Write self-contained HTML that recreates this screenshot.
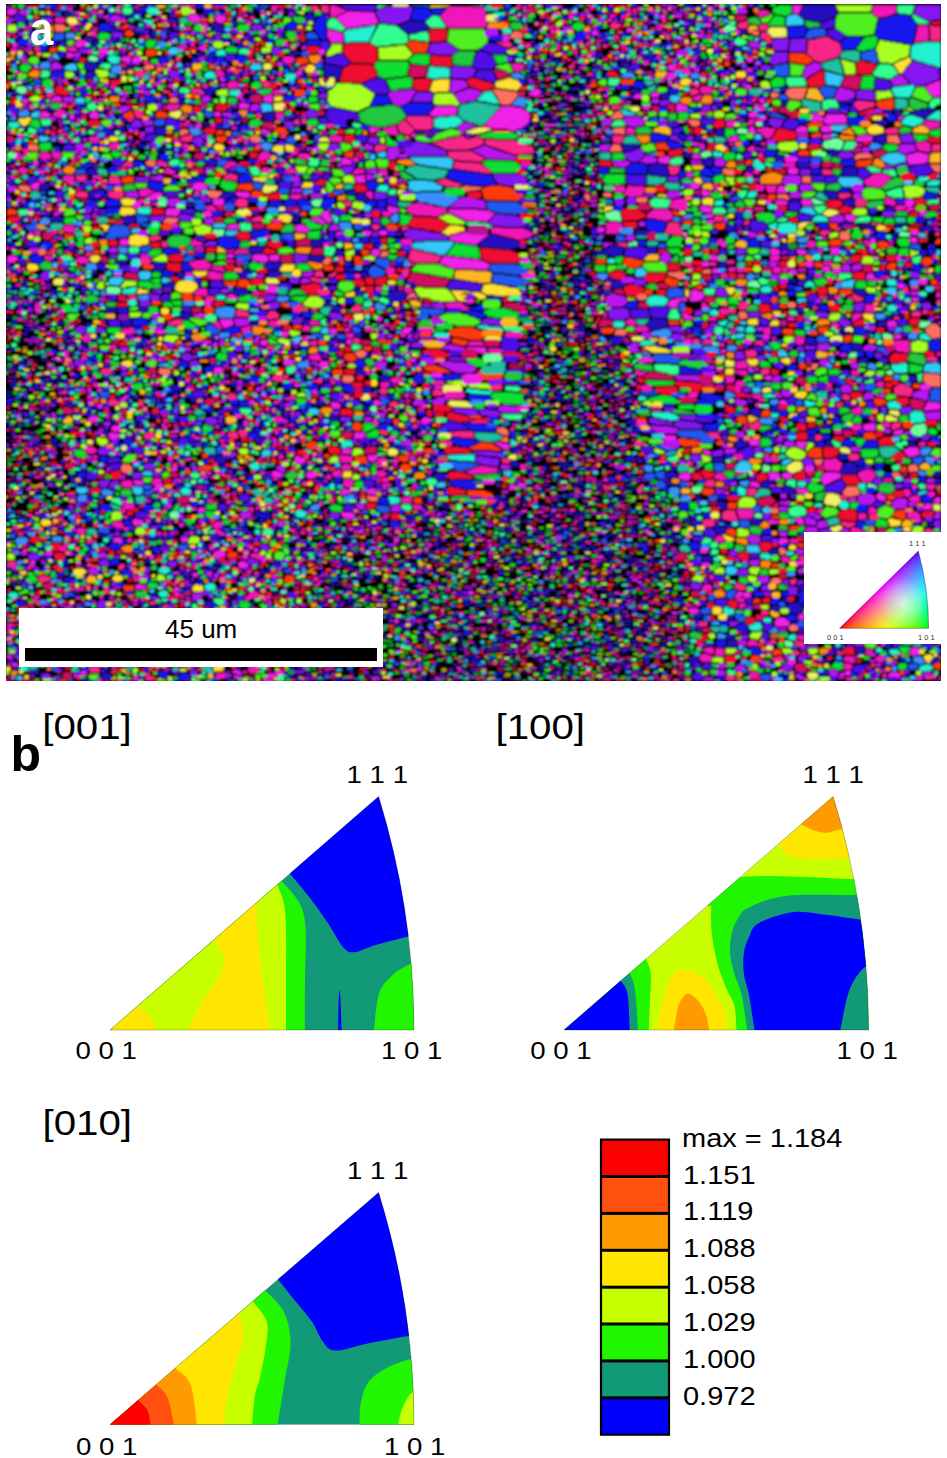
<!DOCTYPE html>
<html><head><meta charset="utf-8"><style>
html,body{margin:0;padding:0;background:#fff;}
body{width:947px;height:1458px;overflow:hidden;}
svg{display:block;font-family:"Liberation Sans",sans-serif;}
</style></head><body>
<svg width="947" height="1458" viewBox="0 0 947 1458">
<rect x="6" y="4" width="935" height="677" fill="#000"/>
<svg x="6" y="4" width="935" height="677" viewBox="6 4 935 677" overflow="hidden">
<filter id="bl" x="0" y="0" width="1" height="1"><feGaussianBlur stdDeviation="1.3"/></filter>
<g filter="url(#bl)"><rect x="2" y="0" width="943" height="685" fill="#000"/>
<g stroke="#000" stroke-width="0.6" stroke-linejoin="round">
<path fill="#f01030" d="M28 5l0 2 1 1 3 0 1 1 5-1 2-2 0-1zM308 5l1 2 2 0 1 1 3 0 5-2 0-1zM110 80l0 4 1 1 7 1 3-2 0-4-1-1zM188 48l0 2 3 2 3 0 4-2-1-3-4 0-1-1zM306 51l3 3 6 0 2-1 3-4-1-2-2-1-9 0zM606 74l0 1 3 2 10 0 1-1 0-1-1 0-4-4-3 0-1-1-3 1zM823 70l-5 2-12 8 3 7 11 0 5-2 0-3-1-1 0-10zM857 74l3 0 1 1 11-1 4-8 2-2-4 0-1-1-8-1-1-1-5 0-3 2zM941 20l-2 1-9 1 0 2 2 0 1 1 8 0zM65 86l-8 0-3 3 1 1 0 2 3 3 4-1 3-3zM88 121l0 4 4 3 1-1 5 0 3-2 0-2-2-3-10 0zM193 106l0 5-1 1 2 1 4 0 4-2-2-5-2 0-1-1zM215 106l0 3 3 2 7 0 3-3-1-1 0-3-5 0-1-1zM203 132l4 2 7 0 3-4-2-2-7-1-5 3zM222 117l-2 1-6 0 1 1 0 3 1 1 5 0 1-2zM334 134l10 1 1-2-2-4-5 0zM250 152l-1 2 1 3 1 1 5 1 3-6-2 0-1-1zM344 136l0 4-1 1 1 1 8 1 3-2 0-5-1-1-8-1zM378 134l-1-2-3 2-4 0-1-1 0 3 9 0zM692 127l-1 1-2 0 0 2 1 1 0 3-1 1 1-1 3 0 0-6zM694 128l0 6 7 1 3-4-4-4-4 0zM713 124l0 2 3 3 9-2 0-5-2-3-7 0zM878 116l-4-8-5 1-7 3-3 0 0 2 1 1 4 0 4-2 5 0 2 2zM7 217l0 4 3 2 6 0 2-1 1-2-2-4-7 0-1 1zM91 228l1 2 9 0 0-3-1-1-7 0zM238 164l2 1 4 0 4 3 3-2 0-1-5-4-5 0zM390 161l-2 7 8 4 3 0-3-6 0-6-2 1zM354 187l0 2 4 4 2-1 5 0 3-2-4-6-8 0zM748 185l1 5 9 0 0-6-1-1-5 0zM381 238l-1 4 3 2 3 0 2-7zM364 244l0 4 2 0 4 2 3-2 0-4-2-1zM398 251l-1 3 2 2 5 0 2 1 0-5-2-2zM353 280l0 2 3 4 6 1 4-2-3-6-8 0zM364 279l3 6 7 0 0-7-5-1zM386 277l-1-1-5 2-4 0-1 1 0 6 4 0 1 1 5-1 2-4zM363 287l0 2 4 5 4 0 3-3 0-4-1-1-7 0-1 1zM423 302l2 0 1 1 10 0-8-4-4 0zM719 249l-8 1 0 3 6 1 2-3zM695 267l0 3 1 2 2 1 2 0 4-4-2-3-5 0zM702 275l0 3 4 2 3 0 3-2-1-3zM727 273l1 1 0 3 3 2 5-1 1-2 0-2-2-1zM753 262l0 4 1 1 2-1 4 0 1-1 0-4-6-1zM861 255l-2 0-1-1-6 1-2 3 0 2 5 3 5-1 2-4 0-2zM866 274l-4-3-10 2 1 5 3 2 8 0 1-1 0-4zM827 287l-2-1-2 1-5 0-2 3 1 1 0 2 2 2 6 0 1-1 2 0zM918 238l1 5 9-1 0-3zM886 255l0 5 4 2 6-1 0-6zM101 320l-2 2-1 4 7 1 0-4-2-3zM118 345l2 2 1-1 5 0 1-1 2 0 0-1-2-3-5-1zM343 317l6 4 4-1-1-6-7 0zM344 347l0 4 1 1 6 0 1-1-2-5-5 0zM344 369l0 5 7 0 1 1 2 0 1-1 0-5zM602 316l-3 0-4 5 0 3 3 3 0-5zM708 322l-4 0-3 5 2 2 5-2 1-1zM759 305l0 6 2 2 5 0 1-1 4 0 1-1-3-7-9 0zM788 310l-2 1-4 0 0 3 3 2 3 0zM807 302l-1 1-8 1 0 3 2 1 5 0 1-1zM828 305l2 7 7 0 4-3 0-3-3-2zM866 321l-4-3-10 5 2 3 9 0 2-2zM771 368l0 6 1 1 5 0 2-1 0-4zM909 320l0 4 4 2 4 0 1-3 2-2 0-2-1-1-7 0zM889 358l2 6 2-1 12-1 2-1 1-7-11-1-1-1-1 1-2 0zM924 353l2 4 7 0 1-1 2 0-2-4-2 0-3-2zM340 410l0 5 11 1 1 1 1-1 0-6-2-1-4 0-2-1zM352 383l0 2 3 3 7 0 1-1 0-4-1-1-8 0zM422 384l0 4 2 2 4 0 5-2 0-2-4-1-4-3zM427 410l-1 1 1 5 5 1 1-1-1-1 0-6zM725 408l1 4 4 2 2 0 4-3-1-3-4-2-2 0zM850 394l1 4 3 2 7-1 2-3 0-2-4-2-7 0zM779 417l2 5 4 1 4-2-1-3-2-1-4 0-1-1zM796 423l0 5 2 3 7 0 2-2-1-5zM796 435l0 4 1 1 8 0 2 1 1-6-3-3-7 0zM807 424l1 4 5 0 2-1 1-2 0-2-8 0zM833 439l2 1 6 1 1 1 3-3-2-3-9 0zM885 382l0 7 2-1 5 0 1-1-2-5zM895 400l8 6 2 0 4-2 0-6-2 0-1-1-8 0zM895 441l-3-5-9 1-5 3 1 5 1 1 14-1zM119 470l-2 0-1 1-5 0 0 6 1 2 2 1 4 0 4-7zM163 479l0 4 9 0-1-5-5 0-1 1zM297 452l0 2 1 1 2 0 4 2 4-2 0-4-3-2-7 1zM328 447l0 4 3 3 2 1 5 0 2-1 1-5-4-3-7 0zM366 509l2 1 5-1 3-2 1-3-1-1-9-1-1 1zM391 520l8 0 3-5-3-2-8 0zM691 448l-1-1-1 1-2 0-5 5 1 1 5 0 2-1zM692 474l0 5 2 1 8 0 2-1-5-7-6 1zM700 472l5 7 5 0 1-1 2 0 2-4 0-2-3 0-5-2-5 0zM756 478l0 2 3 2 2 0 4-2 3 0-1-7-4 0-1-1-1 0zM823 448l0 7 1 1 0 2 8 0 1-1 3 0 3-4 0-3-2-2-2 0-1-1-10 0zM805 472l-2-2-5 3-4 1 0 5 2 1 7 0 3-2zM842 476l0 3 5 6 9 0 5-3-5-7-13 0zM816 508l-2-2-1 1-4 0-2 1 0 4 1 1 8 0zM838 514l0 3 2 3 5 0 1 1 11 0 0-9-2-2-3 0-1-1-9 1-2 1zM906 456l-1-2-4-3-10 6-1 2 4 2 5 0 1-1 3 0zM909 476l0 1 2 1 6 0 1-1-1-4-6 0zM934 511l-1-1-1 1-8 0-3 3 1 1 0 2 2 1 8 0 2-4zM29 539l0 2 4 2 5 0 2-1 1-2-3-4-4 0zM51 546l0 2 4 4 1-1 3 0 4-4-2-4-8 0zM54 554l0 3 3 3 7 0 1-2 0-3-2-2-7-1zM725 560l2 1 7 0 2-4-9-2zM759 544l3 8 5 0 5-4 0-4-2-2-9 0zM737 556l0 1 4 3 8 0 0-7-4-2-6 2zM796 538l3 4 4 0 2-3-1-2-3 0-1-1-2 0zM855 559l-2-1-1 1-8 1-2 2 0 3 3 2 7 0 2-3zM778 574l3 5 6-1 0-2-3-2-3 0-1-1zM900 563l1 1 0 3 2 1 6 0 3-3-1-3-3-2-6 0zM88 628l6 3 1-1 3 0 3-4-2-3-7 0-4 3zM192 617l1 5 2 0 1 1 5 0 3-3 0-4-6 0-1-1-2 0zM212 618l0 1 5 4 5-2 2-2 0-2-3-2-7 0zM186 639l-4 3 0 2 2 2 4 1 2-1 3-4-1-2zM729 600l-2 4 0 2 4 1 3 2 2 0 2-3 0-4-2-2zM762 599l0 3 1 1 7 1 0-5 1-2-5 0zM712 633l-9 1 0 3 5 1 0-1zM744 623l3 2 2 0 5-3 2 0 1-2-4-3-5 0zM724 656l1 6 2 2 7-1 3-3-1-4-2-1-8 0zM842 650l2 5 10 0 1-1-1-7-7 0zM343 46l0 7 9 10 17 0 1 1 3 0 5-3-1-13-2-2-6-3-20 0-1 1-4 0zM339 82l23 1 3-2 2 0 3-2 7-2 0-3-4-9-3 0-1-1-18 0-6 3-2 2zM429 30l1 12 10 0 1-1 5 0 2-12-18 0zM431 55l-1 10 3 0 1 1 11 0 1 1 5 0 1-1 0-7-1-1 0-2-15 0-1-1zM414 79l0 2-1 1 0 6 4 3 11 0 1-1 0-2 3-7-1-2-3 0-1-1zM466 80l4 7 2 0 10 4 4 0 8-3 0-4-4-2-3 0-11-4-5 0zM802 115l-5-5-3 1-2 4-4 2 0 1 9 0zM772 137l0 2 6 3 2 0 1-1 6 0 1-1 7 0 1-1 1-5-3-3-14-3-4 2-2 5zM807 149l2 1 4 0 1-1 9-1 0-1-2-2-3 0-1-1-7 0-2 2 0 2zM927 140l4 3 10 0 0-5-12-1zM282 194l-7-2-1 1-7 1-2 2 1 0 4 4 10 0zM151 215l10 0 1-1 2 0 1-5-4 0-1-1-8 0zM213 217l3 5 7 0 1-4-2-1zM326 181l-3-2-2 0-6 3-2 0 2 3 6 0 1 1 2 0zM599 160l0 6 13 1-1-6zM621 211l2 10 16-1 1-1 5-1 0-2 1-1-1-2-3-1-4-3-13-1zM668 151l0 3 4 3 3 0 1-1 7 0-1-1 0-3 1-1-1-2-6 0-1 1-5 0zM774 169l0 2 2 1 2 0 4 2 4 0 0-5zM788 218l1 3 2 1 3 0 1 1 3 0 1-1-2-5zM825 204l3 4 5 0 1 1 4 0 5-4-2-5-11 0zM838 210l3 4 5 0 1-1 3 0 4-4 0-1-5-1-1-1-3 0-1-1zM926 200l-5-3-5 2-4 0 4 6 10-1zM908 213l1 2 2 0 1 1 4 0 1 1 2-1-2-5-3 0-1 1zM938 173l-5-1-2 2-5 2 0 1 4 3 2-1 6 0zM108 240l1 6 8 0 1-1 0-4-2-1zM161 248l-1-7-2 1-5 0-4 2 0 1 5 3zM234 236l6 4 9 0 2-3-2-5-7 0-1-1zM267 243l0 4 3 0 7 3 6-4-1-1 0-2-3-2-10 0zM183 256l-3-3-2 1-4 0-1 1-5 0 0 4 1 2 2 0 1 1 10 0 1-2zM167 263l-1 7 3 0 5 2 5 0 2-1 0-8-9 0-1-1zM217 246l-2 1-7 0-2 1 0 5 9 0 1-2 0-4zM224 266l3 5 6 0 2-4-1-3-6 0zM262 253l2 0 4 2 1-1 5 0 1-1 2 0 0-2-11-4zM170 277l0 1 4 4 2 0 5-3-6-3zM249 280l5 6 4 0 4-2 3 0 0-3-2-2-2 0-1-1-5 0-1 1-4 0zM300 288l9 7 7 0 5-6 0-4-5-2-5 0-1 1-8 1zM622 222l2 5 4 0 1 1 8 1 0-8zM608 273l2 4 7 3 3 0 6-4-2-5-5 0-2-1-1 1zM643 278l6 5 8 0 1-1 5-1 4-6-1-2-18 0zM623 288l3 8 9 1 2 1 7-4 0-7-3 0-1-1-3 0-1-1-5-1-1 1-3 0zM656 291l0 2-1 1 11 2 0-4 1-2-7-1zM667 264l1 2 0 5 8 0 1-1 5 0 2-1-3-1-2-2 0-3-11 0zM883 227l5 2 6 0 0-3 1-1-11 0zM910 225l0 1 2 0 1 1 8 0 2-1 0-1-5 0-1-1-6 0zM117 302l0 5 11 0-1-4zM213 303l1 4 5 0 1-1 5-1-1-4-8 0zM408 224l0 2 5 2 11 1 1 1 10 1 1 1 5 0 8-7 0-1-12-6-5 0-1-1-15 0-1-1-2 1-2 4zM479 247l1 1 0 4 1 1 0 4 1 2 6 3 2 0 1 1 25 0 4-2 0-5-1-2-6-3-2 0-1-1-9 0-1-1-9 0-1-1-9 0zM503 298l0 4 1 1 2 0 1-1 9 0-10-5-2 0zM422 350l1 4 11 4 12 0 1-1 7-1-15-7-13 0-1 1zM636 376l2 5 2 2 4 0 1-1 0-3-1-1zM655 387l0 4 1 1 8 3 7 0 8-3-1-1 0-3-3-2zM675 381l0 4 6 3 4 0 5 2 12 0 4-2-6-5-4 0-1-1-10 0-1-1zM433 404l0 7 2 1 14 0 2-1 2-3-3-1-2-2zM446 413l1 5 3 2 3 0 4 2 10 0 1-1 2 0 0-4-2-1-3 0-1-1-3 0-1-1-3 0-5-2zM444 449l0 2 2 3 26-1-1-1 0-2-4-2-10-1-1-1-1 1-8 0zM448 473l0 4 2 3 3 0 1-1 20 0-3-4-5-1-3-2-11-1zM443 492l3 2 2 0 4 2 3 0 1-1 10 0 0-5-6-1-1-1-4 0-5-2-2 1 0 2-3 3z"/>
<path fill="#f020e8" d="M7 9l0 6 3 0 1 1 6-3 0-2 1-1-1-1-4 0-1-1zM792 5l1 8 2 1 4 0 4-9zM67 52l-1 6 7 0 1-1 1-4-5 0-1-1zM75 41l0 5 3 2 2 0 1-1 6 0 1-2 0-2-2-3-7 0-1 1zM109 49l-5-2-1 1-5 1 0 2 4 4 4 0 2-1zM121 58l0 3 4 1 3 2 3-1 0-4 1-2-2-1-6 0zM132 59l0 4 1 1 5 0 4-2 0-4-2-2-6 0zM187 16l2 4 4 3 5 0 2-1 1-2-1-4-3-2-6 0zM216 15l-1 1 0 4 3 3 4 1 4-4 0-5-5 0-1-1-1 1zM207 46l-2 0-1-1-1 1-4 0-1 2 1 2 2 0 3 2 3-2zM667 65l0 3 2 3 4 0 1 1 3-4 0-3-2-1-5 0-1 1zM665 78l2 2 6 0 4-2 0-1-4-5-4 0zM50 99l0 3 12 0 0-3-2-3-5 0-2 2zM38 119l2 0 1-1 7 0 4-3-6-4-3 0-2 1 0 2zM90 113l-1 2 1 4 9 0 0-4-2-4-4 0zM239 103l0 3-1 1 2 2 8 0 2-3 0-2-2 0-4-2zM214 111l0 6 6 0 1-1 0-4zM273 95l-1-1-3 0-1 1-5 1 0 6 10 1zM261 130l0 3 2 1 6 0 3-2 0-1-2 0-8-3zM410 137l4 0 4-3 5 0-7 0-1-1-3 0-2 2zM541 91l-2-2-4-1-3 3-3 1-1 3 7 2 5-2 1-1zM642 94l-1-1-5 1-1 1-2 0 0 2 1 2 8 0zM650 94l2 4 7-1 1-3-3-2-4 0zM641 106l3 4 5 0 4-5-11 0zM676 104l0 8 7 0 1-1 3 0 1-5-8-3-3 0zM749 112l-1 4 2 2 6 0 2-2 0-3-1-1-2 0-1-1zM748 128l1 5 3 0 1 1 5-1-3-3-1-4-2 0zM692 154l0 3-1 1 2 0 1 1 8 0-2-3 0-2zM738 135l-3 0-3 2-4 1-1 1 0 2 2 1 7 0 2-1zM810 113l1 2 3 2 6 0 1-1-3-3zM941 79l-3 2-2 0-3 2-2 0-3 2-4 1 9 11 8 0zM39 182l-3 0-7 3 4 5 6 0 0-4 1-1 0-2zM341 159l0 5 1 1 9 0 1-2 0-4-3 0-4-2zM365 174l-11 2 2 7 8 0 2-1 0-2-1-1zM387 207l1 5 3 2 8-2 0-3-3-2-4 0-1-1-3 0zM597 227l0 4 2 2 2 0 4-2 0-4-4 0-1-1zM686 172l0 5 7 1 0-4-1-2zM701 189l0 4 2 4 7-1 2-4-1-1-4 0-1-1zM699 207l2 4 3 2 7 0 2-6-2 0-1-1-6 0-1-1zM7 256l0 6 1 1 6 0 4-3 0-2-3-3-5 0-1 1zM344 232l-2-1-6 1 0 6 6-3 2 0zM362 232l3 4 4 1 4-6-10-1zM371 250l0 4 5 3 2 0 3-7-1-1-7 0zM710 255l0 6 9 0 1-1-2-5-4 0-1-1-2 0zM712 269l0 5 10-1-5-5-4 0zM690 290l0 8-2 3 3 0 1 1 9-1 4-5-3-5-3 0-5-2-1 1zM772 240l1 2 8 0-1-4-5 0zM770 249l0 4 1 2 8 0 1-1 0-4-1-1-3 0-1-1-4 0zM796 250l2 5 4 0 1 1 4-3 0-3-3 0-1-1-6 0zM830 247l0 6 2 2 6 0 3-4-2-4zM787 273l2 1 4 0 1 1 3 0 1-1-2-5-6 0zM814 275l0 3 10-1-1-2-2-1-6 0zM865 280l8 0 3-2-2-2-1-3-4 0-3 2 0 4zM909 238l2 5 7 0-1-6-7 0zM911 298l2 4 4 0 1 1 1-1-1-5-6 0zM213 374l8 0 3-2 0-2-1-2-2-1-6 0-2 4zM268 342l-2-3-5 1-2 5 7 1 2-2zM329 328l1 6 4 0 1 1 2-1 0-4-2-2zM283 361l0 3 2 2 8-1 3-2-1-2-4-2-7 0zM319 362l0 5 2 0 1 1 5 0 2-1 0-5-1-1-4 0-1-1zM402 332l2 2 5 0 4-6-2-1-6 0-3 2zM681 314l4 6 6 0 1 1 2-4-10-4-2 0zM895 320l-8 1 0 6 9 0 1-1 0-2zM901 333l-2 1-6 0 1 5 1 1 1-1 6 0zM99 418l-2-2-4-1-4 2-2 3 1 2 7 1 3-2zM111 428l0 3 2 0 1 1 6 0 1-1 0-4-1-2-7 0zM108 435l2 5 5 0 1-1 2 0 2-3-1-3-5 0-1-1-2 0zM331 402l0 3-1 1 4 3 6 0 1-1-1-5-1-1-5 0-1-1zM373 401l0 3 2 2 7-1 0-2-5-4zM374 419l-3 3 6 5 2-2-1-6zM421 420l0 3 3 2 8-3 0-3-4-2-4 0zM354 432l0 4-1 2 2 1 7 0 1-1 3 0-1-5-2-1zM773 376l-2-1-6 1-2 3 7 2zM748 441l1 1 0 2 2 2 8 0 1-7-9 0zM779 402l0 2 1 1 9 1-4-7-4 1zM796 441l0 5 8 4 3-8-2-1zM863 425l0 4 3 2 8 0 2-1 0-5-1-1-6-1-1 1-4 0zM885 394l-1-2-4 2-3 0-2 1 0 1 1 1 5 0 1 1 2 0 1-1zM923 411l16-1 2-1 0-6-3 0-1-1-7 0-1-1-2 1-2 5-2 2zM904 431l-2-2-6 1-1 1-2 0 0 3-1 1 5 0 2 1 3-2zM132 480l3 5 6 1 3-2-2-4zM294 458l0 4 2 2 7 0 3-2 0-2-3-3-2 0-4-2zM353 447l-1 1-10 1-1 4 1 1 7 0 2 1 0-3zM271 472l0 4 4 2 5 0 4-2 0-2-8-4zM305 475l3 4 5 0 4-2 0-4-3-2-6 0zM352 491l-1-2-4 0-2-1-5 3 0 4 3 1 1-1 8-2zM341 513l0 3 5 3 7 0 3-4-4-3-8 0-1-1zM379 457l-3-3-2 0-1 1-7 0 3 7 6 0 0-1zM366 490l0 3 1 1 2 0 1 1 7 0 0-3 1-1-4-3-3 0zM509 484l0 5-1 1 2 1 2-1 4 0 1-3-2-3zM516 484l2 3 2 0 1 1 5 0 0-2 1-1-1-2-3 0-1-1zM704 449l-2 4 8 3 1-1 0-4zM692 473l-2 0-1-1-9 1-2 4 3 3 7 1 3-2 0-5zM749 487l6 0 1 1 5-1-1-1 0-2-4-3-5 0zM768 473l1 7 9 0 3-3-2-4-3 0-1-1-5 0zM781 474l1 4 2 0 3 2 1-1 5-1 0-3-3-2-4-1zM809 492l-2-2-1-3-2 1-7 0-1 1 0 3 5 2 5 0zM820 479l4 7 14-7 2 0 2-4-2-2-3 0-1-1-11 0zM857 497l-8 1-1 2 2 2 1-1 5 0zM903 450l3 5 3 2 5 0 1-1 5-1 0-3-2-5-9 0zM878 493l-2 2 1 5 6 1 1 1 2-2 0-4 1-1-5-1-1-1zM936 497l-2 2-1 3 1 1 5 0 2 1 0-7zM932 503l-5 0-2 1-3 4 1 3 1-1 8 0zM132 520l1 5 2 1 6 0 3-2 0-3-1-1-6-1-1-1zM112 540l0 1 4 2 2 0 3 2 1-1 0-4 1-1-3-2-4 0zM135 585l0 4 1 1 11-1-1-4-4 0-1-1-4 0zM213 552l0 4 3 2 2 0 1 1 1-1 6-1 0-4-3-2-5-1zM238 563l0 4 4 2 7-2 0-2-4-4-5 0zM767 521l4 4 1-1 6 0 1-1 0-2-2-1-4 0-1-1-2 0zM793 518l6 7 5 0 0-5-1-1 0-2zM778 544l1 1 4 0 1-1 5-1 0-2-2-3-7 0-1 1zM842 588l-4-4-8 2 0 4 7 0 1 1 2 0zM909 560l3 2 2 0 6-3-2-4-5 0zM937 562l-1 4 5 1 0-5zM933 575l0 6 2 0 1 1 5-2 0-4zM251 643l0 4 2 0 1 1 5 0 1 1 3-2 0-3-5-4-3 0zM687 611l4 3 6 0 2-1 0-3-2-2-8 0zM744 592l-6-1-4 8 3 0 6-3 0-3zM774 622l1 4 2 1 11 0 2-3 0-2-6-5-7 1zM805 615l-3-2-4 2 0 5 8 0zM877 598l0 5 9 1 0-6-1-1-7 0zM873 609l2 3 1 4 5-1 4-5 0-1-7 0-1-1-3 0zM909 654l3 2 3 0 1-1 3 0 3-4-1-2-3-2-6 0-2 3zM274 672l0 3 2 2 6 0 3-4 0-2-3 0-1-1-3 0zM888 675l0 4 11 0 1-1 0-3-2-3-8 0zM327 29l0 7 3 5 0 2 14 0-1-9-2-2-3 0-1-1zM336 17l0 1 11 11 2 0 1-1 5 0 1-1 5 0 1-1 12-1 5-2-5-11-26-1zM369 131l1 2 4 0 3-2 4-1 1-2-5 0-1-1-5 0-2-1zM429 114l1 2 2 0 1 1 24-2 0-5 1-1 0-2-3 0-1-1-18 0zM485 126l2 0 6 3 4 0 1 1 1-1 7 0 8 3 4-3 3 0 8-6 1-6 1-1-1-2-7-6-8-1-1-1-12 0-15 16zM823 121l2 3 2 0 1 1 3 0 1-1 14 0 1-1 0-7-4-2-17 0-1 4zM898 120l1 1 2 0 0-1 4-4-6 0-1 1zM795 130l2 3 10 0 1-5-3-2-5 0zM822 136l0 2 2 2 10-3-2-3-9 0zM874 136l-5-1-1-1-2 1-4 0-1 1-4 0-2 4 3 2 14 0 1-5zM163 195l-2-3-5 0-12 6 1 1 8 2 1-1 4 0 4-3zM192 186l0 3 5 2 4 0 1-1 4 0 2-1 0-3-5-4-6 0-4 2zM235 191l0 2 3 4 3 0 1 1 8 0 0-6zM165 215l1 1 7 0 1 1 2 0 4-4 1-3-5-2-8 0-2 1zM311 218l0 2 1 1 5 1 6 3 4-2-7-6-8 0zM325 210l-5 6 8 7 5-1 0-2-3-5 0-4zM671 157l-3-2-5 2-3 0-2 1 0 4 1 1 8 1 2-2zM776 193l1 1 1-1 9 0 1-2-3-5-6-1zM774 201l3 4 10 0 1-2 0-2-2 0-1-1-9 0zM929 154l-10-2-1-1-1 1-11 3 0 4 1 1 0 2 3 3 14-1 1-1 3 0zM801 199l0 3 2 5 1-1 9 0 1-1-5-6zM844 215l2 5 4 2 4 0 3-5-5-3-5 0-1 1zM929 210l-2 1-9 0 1 1 0 3 4 2 6-6zM128 237l-1 1-7 1-1 2 5 0 1 1 2 0zM240 230l-1-1 0-3-2-3-9 2-2 4zM252 256l0 5 8 1 1 1 4 0 4-2-1-5-4-2-9 0zM280 255l-1-1-10 1 0 4 1 2 9 0zM185 273l0 4 10 0-4-5-4 0zM267 285l-2 6 3 2 8 1 3-6-2-3zM295 225l0 7 12 1 3-2 0-1-7-6zM226 296l1 1 0 2 4 0 1 1 5 0 1-1 0-2-5-3-3 0zM193 317l12 1 2-3-4-2-4 0-1 1-4 0-1 1zM219 320l5 9 10-4-1-5-1-1-12 0zM688 299l-3-2-2 0-1 1-5 0-1 1-5 0-3 4 0 3 2 2 8 0 0-4 2-3 4 0 1 1 2-1zM448 209l0 4 2 0 17 8 20 1 9-9-2 0-6-3-10 0-1-1zM448 237l2 3 5 2 9 1 1 1 5 0 1 1 5 0 14-11-15-1-1-1-11 0-1 1-10 2zM439 263l3 2 2 0 10 4 20 0 1 1 12 0 3-5 0-2-2 0-6-3-4 0-1-1-8 0-1-1-8 0-1-1-8 0-1-1-7 0zM466 347l0 1 3 2 3 0 10 4 6-1-2-4 0-2zM493 443l9 5 2 2 5 0 1 1 0-6-1-1-7-1-1-1-7 0z"/>
<path fill="#b818f0" d="M18 11l0 2 6 3 5-1-1-4-3-2-3 0zM64 5l3 2 8 0 1-2zM735 11l2 3 9 0 2-2-1-3-4-2-5 0zM110 17l0 2 3 3 5 0 3-3 0-3-5-1-1-1-1 1-2 0zM50 70l2 1 1-1 9-1 1-2-5-5-3 0-4 2 0 4zM198 57l1 5 5 0 1-1 0-2 1-1-1-2zM562 31l5 2 7-3-3-4-8 0zM688 52l-3-3-4 0-4 2-2 2 0 2 3 2 6 0 4-3zM748 45l5 3 6 0 2-2 0-2-1-1-5-2-6 1zM821 64l-1-1-6-1-3 2-4 1-3 5 0 2-2 4 4 3 2-2 14-8zM890 80l3 6 17-2-8-9-3 0zM62 97l1 5 4 0 1 1 5-1 2-4-3-2zM130 106l-7-1-2 2-3 1 0 1 4 5 9-5zM74 144l2 6 5 1 5-3-1-3-2-2-6 0-1 1zM211 97l-4-2-5 1-1 4 3 3 2 0 6-3zM141 120l3 6 10-1-1-4-2-1zM222 112l0 4 1 1 5 0 1 1 3-2 0-3-2-1zM249 109l1 2 2 0 1 1 7-2 0-6-5 0-2-1zM364 145l0 3 3 3 6-1 0-2 1-1-1-2-2 0-4-2zM399 147l-10 0-2 3 0 8 2 2 5 0 3-2 3-6zM834 98l3 3 13 0 5-4 0-6-2 0-4-2-3 0-4-2-3 0zM7 191l4 2 1-1 3 0 3-4-1-2-8-1-2 3zM204 175l1-1 2 0 4-4 3 0 1-1 0-2-9 0-1 1zM328 230l1 1 9 0 2-1 0-1-3-5-5 0zM378 169l-1-1-2 0-1 1-7 0-1 1 0 2 1 1 3 0 1 1 5 1zM366 173l0 6 1 2 8-2 0-3-5-2-3 0zM398 179l0 4 5 0 0-3-2-2zM691 159l0 4-1 1 12 0 0-3-1-1-7 0-1-1zM716 158l-1 1-1 7 10 1 2-4 0-2-3-3zM934 225l0 5 1 1 4 0 2 1 0-3-3-1zM39 248l-1-1-9 1-1 3 4 3 3 0 3-2zM106 296l-6 1 0 4 2 2 3-2zM747 232l0 3 3 3 5 0 2-2 0-3-2-1-2 0-1-1-4 0zM769 261l0 5 2 2 4-1 4-3 0-2-2 0-1-1-4 0-1-1zM772 273l-2 4 0 3 9 0 0-5-1-1-4 0zM842 265l-1 4 3 3 7 0 0-6-5-3zM862 264l-4-1-1 1-5 1 0 7 9-2 1-2zM910 294l1 2 7 0 2-5-9 0-1 1zM129 346l-2 0-1 1-5 0-2 2 3 3 6 0zM374 367l8 2 5-4 0-3-1-1-10 0-2 4zM628 347l1 1 0 3 5 3 1-1 6-1-3-4 0-4 1-1-1-1-5 0zM829 343l-11 1-1 1 0 5 10 1 3-3zM863 347l0 3 1 1 11 0 2-5-5-2-4 0zM827 358l-2 1-4 0-2 2 0 2 2 3 5 1 4-4-1-1 0-2zM850 363l0 2 2 4 6 0 2-2-2-4zM364 422l6 0 3-4-1-1-5 0-2-1-1 1zM412 404l2 2 7 0 3-2 0-2-1-1 0-2-7 0-3 2 0 2zM401 441l0 3 2 2 6 0 3-2-1-5-5 0zM735 399l0 5 2 2 4 0 1 1 5-2 0-3-2-2-5-1-1-1-3 0zM733 435l5 3 6 0 1-5-3-2-3 0zM781 377l-2-2-5 1-3 4 0 2 9 0 1-1zM781 390l0 4 5 4 7-3-3-5-6 0-1-1zM840 388l1 1 0 3 2 1 7 0 2-2 0-4-4-3-5 1zM863 399l3 2 1-1 6-1 2-2-3-4-5-1-3 2zM783 444l0 1 4 3 8-2 0-4-2-1-5 0-1-1zM911 396l0 1 2 0 1 1 3 0 8 3 3 0 1-10 1-1-12 0-1 1-2 0zM941 410l-2 1-15 1 2 7 1 1 14 0zM172 479l1 1 0 3 5 0 2-3 0-1-2-1zM239 514l2 4 2 1 5 0 5-3-2-4-2-1-6 0zM276 467l0 2 7 4 2 0 1-5-4-3-4 0zM355 505l2 3 3 2 4 0 1-1 0-6-1-1-5 0zM400 504l-10 2 1 2 0 4 8 0 2-2 0-4zM500 466l2 4 9-1-1-4-5 0-1-1-2 0zM724 450l1 4 9 0 3-2 0-2-3-2-7 0zM850 447l0 2 2 3 8 0 1-2 0-2-3-2zM790 501l-1-1-2 0-1 1-6 0-1 2 1 2 5 0 1 1 2 0 2-3zM778 508l2 3 2 1 5 0 2-5-9-1zM858 496l-1 5 5 4 6 0 2 1 6-6-1-5-2 0-4-2-8 1zM903 483l9 0 0-4-2-1-5 0zM925 483l8 0 2-1 0-4-7 0zM891 505l3 4 12 0 2-8-1-2-2-1-8 0-4 3zM935 512l0 2-2 4 1 1 7 0 0-7zM98 554l1 5 8-1 1-1-1-4-2 0-1-1-4 0zM87 570l2 4 8 1 2-2 0-5-7-1zM747 537l3 7 8 0 3-3-1-5-2 0-1-1-5 0-1-1zM760 559l-10 1-1 1 0 2 2 3 8 0zM758 576l0 6 4 2 6-1 2-3-1-1 0-3zM778 531l2 6 7 0 1-6zM804 517l0 2 1 1 0 5 7 0 1 1 2 0 2-4-2-3-5-1-1-1-3 0-1-1zM825 519l-1 1-5 1-2 2-1 3 3 3 10-2zM806 526l-1 6 3 3 5 1 5-4 0-3-2-2zM849 529l-5-1-9 7 4 1 3 2 7-2 1-1zM878 536l-10 1-2 1 0 4 3 0 1 1 7 0 0-5zM795 551l3 4 4 0 2-1 0-5-6-1zM831 555l2 1 6-1 0-3 1-1-9 0zM900 551l0 5 10-2-4-5-4 0zM932 571l0 2 1 1 8 1 0-7-5-1zM54 628l-6-4-1 1-3 0-2 2 0 3-1 1 2 2 9 0 2-2zM192 594l0 4 5 3 1-1 4 0 0-2 1-1-1-4-9 0zM170 648l-2-1-5 0-1 1-2 0-1 4 2 3 4 0zM181 659l-4-3-1 1-6 1 1 5 2 0 1 1 6-1 1-1zM762 592l3 4 5 0 1-1 0-3zM737 640l1 5 2 2 6-1 1-2 0-3-1-1zM829 592l5 5 6-1 0-4-2 0-1-1-7 0zM778 628l1 4 9-1-1-1 0-2zM830 628l1 4 4 2 3 0 2-2 0-3-1-1zM865 640l-3 0-1-1-6 1-1 1 0 5 9 0 1-1zM910 603l-2 1-6 0-1 4 2 1 5 0 1-1 2 0zM941 632l-7-1-2 2-1 5-1 1 4 1 3-2 4-1zM941 638l-4 1-3 2 2 4 5 1zM700 681l15 0 0-1-2-3-7 0zM734 669l2 2 6 0 4-2 0-1-3-3-5-1zM832 669l-4 3 2 4 4 2 4-3 1-4zM933 671l-11 2 0 3 3 2 7-2 0-4zM416 91l-3-2-22 2-3 3 0 2 5 8 5 2 4 0 9-5 1-3 4-5zM451 79l-1 13 2 1 3 0 5-3 2 0 3-2 4-1-4-7zM483 92l-11-4-4 0-6 3-2 0-6 3 0 1 7 9 5-2 9-1zM456 128l2 1 6 7 1-5 1-1 13-4-15-4zM600 121l3 5 7 0 3-6-3-2-4 0zM623 119l3 6 5 2 7 0 1-1 3 0 3-2-1-4-5-4-14 1zM598 148l2 4 5 0 4-2 3-6-10 0zM898 149l0 2 1 1 5 2 4 0 1-1 8-2-2-5-2-2-13 0zM125 192l0 5 5 0 1 1 7 0 1-1 0-2-2-4-8 0-1 1zM164 176l-5-2-2 2-5 0-2 1 0 2 1 1 4 0 1 1 6 0 2-2zM166 202l0 1 4 4 5 0 6-4 0-3-3-2-8 0-1 1-2 0 0 2zM215 221l-3-4-8 2 0 4 4 2 4 0 3-2zM291 193l9 0 1 1 2-5-1-1-11 0zM310 195l1 4 3 0 1-1 8 0 0-3-3-2-7 0zM631 163l-4-3-15 1 0 2 2 4 6 0 1 1 4 0zM639 162l6 1 1 1 10-1 1-1 0-4-4-2-8-1 0 1zM666 193l1 3 3 3 4 0 1-1 7-1-1-1-1-5-12 0zM781 184l2 1 16 0 3-2-1-1 0-5-2-2-14 0-1 1-1 5zM883 169l7 0 1-1 2 0 0-2-7-2zM799 186l1 5 1 1 14-2-5-6-9 0zM829 218l0 3 1 1 10 1 1-1 5-1-3-6-6 0zM109 250l1 3 8 0-1-6-6 0zM140 254l0 4 5 0 1 1 5 0 1-1-5-5-6 0zM314 270l-1 1-9 1-2 3 0 2 8 0 2-1 2-3zM300 282l2 2 10-2-4-4-7 0 0 3zM603 247l2 1 3-2 7-2-1-1-11-1zM233 319l1 1 0 3 2 3 5 1 1-1 3 0 5-2 0-3-2-3-14 0zM256 336l-2 4 0 3 1 1 4 0 0-3 2-4-1-1zM605 299l0 2 2 4 3 2 11 0 1-1 2 0 4-4-3-6-3 0-1-1-3 0-5-2-4 2-3 0 0 3zM470 150l15 7 2 2 27 1 2-2 0-2-2-1-2 0-1-1-2 0-1-1-2 0-22-8-6 3zM448 208l29 0 1 1 8 0 0-5-1-1 0-3-9-1-1-1-5 0-1-1-7 0zM446 309l-2-5-4-2-4 0 2 2-1 1-6 0-1-1-8-1 0 3 2 0 1 1 8 0 1 1zM440 349l2 0 1 1 7 0 1 1 7 0 1 1 2 0 5-3-1-2-7-1-1-1-4 0-1-1-3 0zM439 362l0 3 1 1 2 0 14 7 16 0 1-1 2 0 2-3-1-2-8-4-4 0-1-1-12 0-1-1zM674 376l2 4 19 1 1 1 3 0 5-2-7-5-20 0-1 1zM497 410l6 3 19 0-1-3-5-4-6 0-1-1-7 0-1 1-2 0zM650 426l2 5 2 0 3 2 3 0 1 1 14 0 5-5-2 0-3-2-5 0-1-1-13 0-1-1z"/>
<path fill="#30ff90" d="M122 9l1 5 2 0 1 1 5-1 2-2-1-5-8 0zM227 6l5 1 1 1 1-1 3 0 1-2-11 0zM897 11l2 3 8 0 1 1 2 0 3-2 0-3 2-5-17 0-1 1zM41 71l0 4-1 1 1 2 6 0 3-2 0-3 1-1-1-1-2 0-1-1-4 0zM99 68l4 0 1 1 5 1 3-5-3-2-6 0-4 3zM239 49l-1 4 2 1 8 1 2-3-1-1 0-2-3 0-1-1zM608 79l0 7 7 0 5-3 0-5-11 0zM734 40l0 3 4 3 4 0 6-3-2-3-8-3zM786 78l0 5 3 4 18-1-2-7-3-2-14 0zM911 15l6 9 12 0 0-2-16-8zM873 73l0 2 3 2 4 0 1 1 4 0 1 1 5 0 2-2 6-3-4-6-3-3-2 0-1-1-10 0zM28 127l0 3-1 1 3 3 4 0 3-2 0-2-1-1-5-2zM93 102l-6 2 0 4 4 3 5-1 2-3-1-2zM49 118l-1 1-7 0-1 1 2 6 6 0 4-2zM179 90l0 2 1 1 4 0 1 1 5-1 0-4-1-1-7-1-2 1zM352 124l2 4 2 0 1 1 4-2 0-3-1-1-4 0-2-1zM735 160l8-1-1-4-4-2-2 3 0 3zM822 102l0 8 5 0 2-2 7 0 2 1 1-2-1-4-4-4-7 0-1 1-2 0zM941 98l-7 0-5 5 0 4 4 2 4-4 4-1zM18 210l0 4 4 2 5-1 2-2-2-4-7 0zM169 161l0 4 2 1 5 0 4-2 0-5-7 0zM249 168l0 2 4 6 5 0 2-1 0-6-3-1-2-2-5 1zM320 159l-6-1-6 4 0 3 1 1 7 1 3-2zM388 192l0 2 1 1 7 0 1-6-7 0zM599 182l-2 3 0 3 1 1 4 0zM748 190l-6 0-5 3 0 1 5 5 1 0 4-5zM712 212l1 2 12 0 2-1-1-3-4-3-8 0zM61 256l1 4 2 1 9 0 1-1 0-1-5-4-4 0-1-1zM379 299l0 3 4 1 3 2 4-3-3-4-2 0-1-1-3 0zM753 256l2 3 2 0 1 1 2 0 1-2 0-2-2-2-5 1zM703 290l2 5 9 0 2-7-10 0zM757 280l5 6 1-1 4 0 3-4-1-2-3 0-4-2zM833 261l1 1 6 0 2-3-2-3-6 0zM838 275l0 4 2 1 5 0 1-1 6-1-1-5-9 0zM922 257l-3-2-1 1-5 1-1 1 0 4 3 2 3 0 2-2zM130 346l0 3-1 1 1 2 4 0 2-1-2-5zM329 346l-1-1-1 1-9 1 1 1 0 2 2 1 5 0 2-1zM295 365l-9 2 0 5 2 2 4 0 4-3 0-5zM351 346l2 5 5-1 4-3-1-2-3 0-1-1-4 0zM642 353l-7 1 0 4 6 1 1-1zM640 360l-2-1-4 0-2 3 0 3 1 1 3-4zM714 328l0 6 2 0 1 1 6-1 1-2-1-5-5-1zM789 310l0 5 5 0 1 1 3-2-3-4zM239 410l3 4 2 0 1 1 4 0 3-4-2-3-10 0zM727 427l-4-3-4 3 0 3 1 1 1-1 2 0 4-2zM831 441l4 6 4 1 2-2 0-4-3 0-4-2-2 0zM922 372l-1 1-5 1 1 1 1 7 4 0 0-7 1-1zM896 442l-1 1 0 3 7 4 1-1 0-5-1-2zM111 500l0 2 1 1 2 0 7 3 1-1 0-3-2-4-5-1zM190 475l0 1 4 3 3 0 3-2 0-3-3-2-5 0zM425 481l3 5 6 0 4-4-4-4-5 0zM401 504l1 5 1 1 2 0 1 1 4 0 2-1-1-5-2-1zM679 458l-2-3-3 0-1 1-6 1 0 3 3 2 7 0 2-2zM699 509l4 3 7 0 0-5-7 0zM782 446l-1 1 0 6 3 0 3-4-2-2zM785 484l4 2 2 0 3 2 2 0 0-7-3-2-5 1zM789 508l-1 5 3 4 8 0 1-1 4 0 3-3-1-1 0-4-3-2-7-1zM891 466l2 5 5 0 3-4 0-1-5-2zM917 485l2 2 1 3 6-1-1-5-4-1zM262 530l0 4 4 2 7-1 1-2-2-4-5-1zM712 539l-7-2-4 6 2 2 1-1 5 0 3-3zM711 549l0 3-1 1 1 2 6 0 1-1 1-5zM804 566l0 5 2 4 3 0 7-3 0-3-2-2-3 0-5-2zM908 539l-5-2-1 1-5 0-1 5 5 3 4-3zM889 581l2 0 1 1 5 0 4-3-4-4-6 0 0 2zM213 601l6 5 4-1 2-3 0-2-4-2-7 0zM167 616l0 4 3 2 5 0 2-3 0-2-4-2-5 0zM190 652l0 3 1 1 8 0 2-1-1-1 0-4-2-1-5 0zM270 625l0 5 1 1 2 0 1 1 5 0 4-2 0-2-2-4-9 0zM727 670l0 5 9 0 0-3-2-2-3 0-1-1-2 0zM377 9l13-4-13 0zM452 5l29 1-2-1zM327 22l0 6 10 2 1 1 3 0 1 1 4-3-11-11-4 0zM370 43l8 4 1-1 9 0 1-1 16-1 4-4-1-1 0-4-11-9-2 0-1-1-7 0-1-1-7 0-9 17zM425 22l6 6 15 0-1-3-6-9-6-1zM428 31l-8 1-5 2-4 0-2 1 0 4 1 1 7 0 1 1 7 0 1 1 3 0 0-7-1-1zM599 120l4-1 3-2 2 0-2 0-1-1-5 0-1 1zM611 125l1 2 14-1-3-6-8 0zM909 111l-3 0-6 4 6 0 1-1 3 0zM856 142l-1-1-8 0-2 1-3 8 9 0 2-1 3-3zM649 202l4 6 15 0 3-8-2-1-4 0-1-1-7 0-1-1-6 3zM683 157l-7 0-1 1-3 0-4 6 3 0 1 1 8 0 4-4-1-1zM764 162l1 3 3 2 4 0 3-3-5-1-1-1zM787 218l-4-1-1 1-5 1-1 2 1 1 8 0 1-1 2 0zM865 168l4 2 3 3 9-1 1-3-2 0-7-3-3 0zM897 176l-1-4-2-3-3 0-1 1-7 0-1 1 0 1 4 2 2 0 5 3zM902 187l-6 1-8 3-3 0 2 5 5 1 1 1 11 0zM827 208l-3-3-10 1-1 1 5 7 3 0zM872 217l-2 0-3-2-1 1-5 0-1 1-2 0-4 6 1 1 1-1 14-1zM927 200l0 5 2 0 1-1 10 0-2-5zM117 260l11 0-2-3 0-2-3 0-1-1-3 0zM239 223l1 6 2 2 8 0 2-1-1-7-5 0-1-1zM336 247l-2-1-10 1 0 8 1 1 5 0 2 1 3-5zM327 317l-5 2-2 2 2 5 5 0 0-2-1-1 0-4zM671 309l-3 7 0 3 12 1 0-5-2-3 0-3zM465 225l3 0 1 1 14 1 1 1 7 0 2-1-6-4-8 0-1-1-12 0zM502 327l3 4 7 0 1 1 7 0 6-3-6-3-17 0zM654 365l0 4 1 2 3 0 1 1 3 0 1 1 3 0 5 2 5 0 1-1 2 0 0-8-1-1-7 0-1-1-15 0zM505 386l0 5 8 0 1 1 4 0 3-3 0-1-3-2zM499 418l3-2 3 3 2 0 1 1 12 0 3-3 0-2-1-1-20 0z"/>
<path fill="#ffe030" d="M155 6l4 2 5 0 4-3-13 0zM309 64l-5 5 3 4 5 0 3-2 1-3-2-3zM680 80l0 5 1 1 7 0 4-4-1-3-2 0-1-1-4 0zM735 74l2 4 8 0 1-1 0-5-1-1-8 0zM910 57l-2 0-5 3-2 0-8 4 7 10 1 0 4-4 0-1 7-8zM32 119l-2-2-3 0-1 1-7 0-1 3 4 5 4 0 3-2 1-3zM108 140l3 2 7-1 1-4-2-1-7 0zM213 147l3 4 6 0 3-2-1-3-2-2-3 0-1-1-3 1zM274 96l0 6 9-1 0-5zM271 150l6 3 4 0 1-1 2 0 0-6-1-1-8 0zM284 145l1 1 0 5 2 0 1 1 4 0 2-1 0-2 1-1-2-3-3 0-1-1zM715 147l0 2 1 1 5 1 1 1 3 0 2-4-4-4-6 0zM389 179l1 5 7-1 0-4-2-2-4 0zM693 179l1 3 2 1 3 0 1 1 2 0 1-1-3-6-3 0zM702 200l0 4 2 1 6 0 1 1 2 0 1-6-2-2-4-1-1 1-3 0zM27 265l0 4 1 2 8 0 3-2-1-4-2-1-7-1zM89 258l2 4 5 1 4-3 1-4-2 0-1-1-5 0zM355 292l-3-1-1 1-5 1-1 1 0 2 1 1 7 0 2-1zM388 280l-1 5 8 0 1-2 0-2-1-1zM725 288l4 7 4 0 1-3 2-2-1-2-2-1-6 0zM781 238l1 4 4 1 1-4zM121 362l0 3 1 1 2 0 4 2 1-1 3 0 1-2 0-4-2 0-1-1-4 0zM758 318l-10 1-1 4 2 2 4 0 1 1 1-1 2 0 2-1-1-2zM725 370l0 5 7 0 2-1 0-5-1-1-6 0zM759 361l-4-3-2 1-6 0-1 1 4 6 5 0 1-1 2 0zM772 312l2 3 4 2 3-2 0-4-8 0zM769 326l10 0 0-6-7 0zM863 313l0 4 3 3 3 0 1 1 4-3 0-4zM791 363l0-2-2-4-9 2 0 2 7 4zM787 375l1 1 3 0 5-2-2-3-6 0zM794 396l3 2 7 1 4-6-3-2-6 0-5 3zM788 417l1 2 9-4-2-2-6 0zM343 472l0 3-1 1 1 2 8 0 1-2 0-5-8 0zM40 522l2 4 2 0 1 1 1-1 3 0 3-3-3-4-7 0zM72 571l3 5 7 0 2-2 3-1-1-3-4-2-6 0zM112 578l0 2 4 2 4 0 4-3-1-1 0-2-2-1-6 0-2 1zM192 588l0 2 2 2 7 0 3-2-1-5-5 0-1-1-2 0zM722 535l5 7 7-1 1-3-2 0-3-2-2 0-4-2zM790 544l-2 6 4 0 2 1 3-4-2-2zM833 557l-3-2-1 1-3 0-2 1 1 3 8 0zM887 520l2 3 1 4 10-1 2-5-2-1-6-1-1-1-3 0zM909 538l0 3 4 3 2 0 4 2 3-3-2-5-2-2-6 0zM111 611l-1-1 0-2-2-1-3 2-4 1 0 2 4 3 3 0zM170 623l-3 4 2 4 7 0 3-5-3-3zM712 608l0 6 6 1 4-2 0-5-1-1-6-1zM917 608l1 2 7 0 2-5-2-1-5 0zM923 656l1 3 3 4 3 0 4-5-1-3-2 0-1-1-3 0zM213 665l0 5 1 2 10-1 0-3 1-1-2-3-9 0zM429 8l19-1 3-2-20 0zM429 91l2 0 3 2 2 0 1-1 12 0 1-13-12 0-1 1-4 0zM522 85l-4-5-5-1-3-2-1 1-3 0-1 1-8 2-2 2 0 5 5 0 1 1 6 0 1 1 6 0 1 1 2 0zM866 129l3 5 3 0 1 1 11-2 0-4-1-2-8-3-4 1zM120 200l3 6 9 0 4-4 0-3-5 0-1-1-6 0zM119 212l0 2 4 2 2 0 1-1 6 0 1-1 2 0 1-1 0-3-5-3-8 0-1-1zM253 177l0 3 1 1 5 0 1 1 4 0 4-3 0-2zM301 187l2 1 9 0 2-3-2-3-5 0-2-1zM277 219l8 4 5 0 3-6-5-3-8 0zM657 195l0 2 7 0 1 1 3 0-3-4-6 0zM603 211l1 1 2 0 1-1 5-1 1-1 0-2-1-1-6 0-2 1 0 3zM757 204l8 1 3-4-1-1-9 0zM98 224l6 5 0 3 2 0 4-6 0-1-3 0-1-1zM128 241l1 3 2 2 5 0 2 1 5-2 4 0 2-2 0-5-2-2-2 0-4-2-7 0-1 1-2 0-2 2 0 3zM137 291l0 3 1 1 1-1 10-1 0-2-1-1-6-1-1-1-3 0 0 2zM175 291l2 0 3 2 12 0 6-5 0-2-1-1 0-2-4-2-12-1-5 3 0 2-1 1zM192 272l4 5 6 0 1-1 3 0 2-5-15 0zM279 270l3 2 9 0 4-4 1 0-1-1 0-3-12 0zM686 289l-1 1 0 6 4 2 0-9zM441 233l4 1 3 2 4-2 3 0 1-1 3 0 1-1 5-1 0-2-2-3-4 0-1-1-8 0zM481 292l6 3 7 0 1 1 7 0 1 1 1-1 16 0 2-2-2-2-1-3-2-1-9-1-1-1-4 0-1-1-5 0-1-1-4 0-1-1-2 1-6 0 0 3zM450 290l8 11 9 1-1-2-6-5 5-2 7 1 8 6 6-1 0-4-7-3-10 0-1-1zM646 339l12 2-2-3-7 0-1 1zM641 347l12 6 17 0 2-2-1-1-2 0-4-2-3 0-1-1-3 0-4-2-1 1-8 0-1 1z"/>
<path fill="#20f0d0" d="M146 11l1 2 3 2 7 0 2-2 0-3-1-2-2-1-8 0zM107 59l3 4 2 1 5 0 3-3 0-3 1-1-5-1-1-1-5 0zM226 52l-3-3-6 1-1 1 0 5 8 0 2-2zM204 74l0 3 3 2 8 0 2-1-4-7-5 0zM284 76l1 1 0 2 4 2 6-1 1-2 0-3-2-2-7 0zM912 45l-1 2-1 9 3 4 2 0 4 2 3 0 7 3 3 0 7 3 2-2 0-24-17 0-1 1-6 0zM21 126l-4-5-1 1-7 0-1 1 0 3 1 1 5 1 1 1zM241 92l-4-3-2 1-6 0 0 5 1 1 4 0 1 1 1-1 2 0zM713 152l0 4 1 1 8 0 1-2 0-2-2-1-3 0-1-1-3 0zM915 86l-4-2-1 1-17 2-2 3 4 7 14 1 2-2 4-8zM332 214l-1 1 3 5 0 2-1 1 4 0 2-1 0-5zM380 184l-4 6 1 1 4 0 1 1 4 0 1 1 2-4 0-2-2-2zM754 159l-1 5-1 1 5 5 3 0 1 1 1-1 3 0 0-4-1-2-4-2-2-3zM723 200l-1-1-1 1-6 0-1 6 7 0 3-2zM745 198l10 0 2-3 0-3 1-1-9 0-1 3zM735 249l-4 2-2 0-1 2 1 1 5 0zM772 288l-4-3-1 1-4 0-3 3 0 3 2 0 1 1 6 0 3-2zM804 286l2 2 1-1 6 0 2-1 0-1-3-4-5 0zM887 279l-1 4 3 3 7 0 1-2-1-4-2-1zM87 327l0 6 9 0 0-4-1-2-2 0-1-1zM110 335l0 4 2 1 5-2-4-3zM709 313l0 2 3 0 1 1 4 0 2-2-1-4-2 0-1-1-2 0zM729 320l-5 0-1 1-4 0-1 1 1 1 0 2 2 1 4 0zM746 328l-1 5 9 0 1-1 0-3-2-3-5 0zM887 306l0 4 1 1 6 1 2-1 1-2 0-3-4-2-2 0zM919 335l0 3 3 2 7 1 3-2-7-6zM908 373l0-8-1-1 0-2-2 1-5 0-1 1-6 0-2 1 0 3 4 5 6 0 1 1 1-1zM341 443l0 5 5 0 1-1 5 0 1-1 0-2-3-4-6 0zM509 439l1 1 1 7 5-1 1-3-2-3zM773 395l-2-2-2 0-1 1-5 0 0 3 2 1 6 0zM770 417l2 1 4 0 3-2 0-3-5 0-2-1zM804 400l1 6 2 1 4 0 1-1 2 0 2-2 0-2-7-1-1-1zM887 403l0 2 2 4 8 0 1 1 4-3-2-3-6-4-1 1-3 0zM909 414l1 8 4 2 1-1 6 0 1-1 2 0 2-2-1-1-1-5-2-3-5 0-2-1zM180 490l0 2 3 3 6 0 2-2 0-4-5-2-2 0zM250 464l-1 3 3 3 6 0 2-2 0-4-4-2-2 0zM295 512l0 4 3 2 5 0 2-1 2-3 0-1-4-3-6 0zM388 496l0 3 1 1 1 5 10-2 0-5-1-1-3 0-1-1zM737 487l0 5 2 3 2 1 4 0 1-1 0-7-2 0-3-2zM797 481l0 6 7 0 2-1 1-2-3-3zM857 485l0 1 4 4 5-1 0-5-1-1-4 0zM158 569l0 3 1 1 2 0 4 2 6-4-2-4-8 0zM204 585l1 5 2 0 1 1 5 0 4-3-3-5-6 0zM760 554l0 4 1 1 4 0 1 1 4 0 2-4-4-3-7 0zM785 555l5 1 5-2 0-1-3-2-4 0zM805 548l0 6 1 1 6 0 2-3 0-2-1-1zM877 568l1 5 2 1 8 0 0-6-2 0-1-1-2 0-1 1zM8 594l0 3 4 2 3 0 4-2-2-5-6 0zM158 592l0 2 3 4 6-1 2-2-1-4-2 0-1-1-3 0zM295 634l-3-2-5 1-3 3 0 2 2 2 7 0 2-1zM723 608l0 5 3 2 7 0 1-1 1-4-4-2-2 0-3-2zM762 625l-2-2-3-1-9 4 1 3 3 2 7 0 1-1 2 0zM832 604l1 1 0 3 5 2 2 0 1-1-1-5zM787 638l0 1 7 2 2-1 0-6-5 0zM889 650l0 3 4 3 1-1 4 0 3-2-3-4-8 0zM19 666l0 4 1 1 2 0 1 1 6-1 0-2-3-4-4-1zM919 668l0 2 2 2 9-1 4-2-4-5-5 0-1 1-2 0-2 1zM377 25l-31 5-3 3 1 1 1 9 3 0 1-1 20 0zM429 67l-1 6-1 1 0 3 1 1 3 0 1 1 5 0 1-1 11 0 1-2 0-8-4 0-1-1-11 0-1-1-3 0zM500 105l-1-3-8-12-1 1-6 1-7 8 0 1 10 1 1 1 4 0 1 1 5 0zM527 85l1 5 4 0 2-2 0-2zM463 121l-5-5-8 0-1 1-10 0-1 1-4 0 0 9 1 1 4 0 1 1 7 0 5-2 1 1 2 0 8-6zM901 122l3 3 10 2 6-3 2 0 2-5-11-4-6 0zM941 111l-1-1-4 1-11 8 13 1 1 1 2-1zM137 209l0 4 2 1 11 1 0-2 1-1 0-5-9 0zM812 220l1 2 15 0 0-4-6-3-5 0-2 1zM926 183l1 1 0 2 11 0 3-5-1-1-8 0zM138 287l-2-1-1 1-4 0-1 1-8 1 0 3-1 1 2 0 1 1 12 0 0-3zM778 223l-3-1-1 1-5 1-1 2 2 3 6 1zM777 228l0 3 3 2 10 1 1-1 3 0 3-2 0-7-6-1-1-1-11 1zM226 297l-2-2-2 0-1-1-1 1-3 0-1 1 0 4 9 0 1-1zM646 301l0 1 5 5 2-1 11 0 1-1 2 0 0-2 2-4-6-3-10-1-1 1-3 0zM613 323l0 3 3 2 6 0 3-2-1-5-10 0zM474 327l5 1 1 1 6 0 1 1 17 2-1-3-2-2-13-1-1-1-8 0zM639 346l14-1 4-3-2 0-1-1-5 0-1-1-4 0-4 2zM465 392l5 1 1 1 19 1 4-4-15-1-1-1-8 0-1-1-2 0zM639 395l0 2-1 1 0 2 1 1 8-1 0-2-1-1zM651 413l1 3 4 2 4 0 1 1 8 1 1 1 9-1 0-2-2-3-8-3-16 0zM475 460l0-5-2-1-25 1-1 2 4 3 6 0 1 1 13 0 1 1 2 0z"/>
<path fill="#a8ff20" d="M190 7l-5-1-5 3 1 4 3 3 2 0 4-2 2-2 0-2zM835 5l4 7 31 0 3-7zM17 26l-2-2-8 1 0 6 1 1 8 0 1-1zM42 35l2 3 7 1 3-6-11 0zM58 47l0 4 5 0 1 1 2 0 0-5-3 0-1-1-3 0zM65 71l0 7 3 0 1 1 1-1 2 0 3-3-2-3zM95 71l3 6 2 1 4 0 5-2 0-4-2-2-10-1zM213 42l0 2-1 1 5 4 6-1 1-4-2-3-7 0zM261 48l0 4 1 1 8 0 2-5-2-1-7 0zM760 83l0 3 5 3 5 0 1-1-2-7-3 0-1-1-1 1-2 0zM841 59l0 3 2 4 0 3 1 1 1 5 11-1-1-11zM876 47l0 4 1 1 1 6 2 5 9 0 1 1 2 0 9-5 2 0 6-3 1-9 1-2-9-1-1-1-5 0-1-1-5 0-1-1-5 0-1-1-4 0-1 4zM29 97l0 2 3 3 6 0 3-3-1-3-2 0-1-1-3 0-3 2zM158 107l-4-4-1 0-1 1-4 0-1 5 3 2 6 0zM216 92l0 2 3 2 8 0 1 1 1-1-1-1 0-5-1-1-6 0-1 1-2 0zM318 148l3 2 4 1 2-1 3-7-12 0zM380 137l0 6 5 1 0-6-1-1zM690 114l0 3 1 1 10 1-1-5-1-1zM725 113l-6-3-1 1-4 0 0 6 1 1 8 0 2-3zM894 97l-4-7-2 0-1 1-12 0 1 2 0 7 4 0 1-1 4 0 1-1 5 0 1-1zM914 110l-5-3-6 3 0 2 3-2 3 0 1 1 3 0zM295 167l3 6 7 0 3-5 0-2-12 0zM342 178l2 5 8 0 1 1 2 0-1-6-1-2-2-1-5 0zM337 202l0 5 1 1 4 1 4-2-4-5zM352 204l0 3 1 1 5 1 1 1 3 0 3-4 0-2-3-2-4 0-1-1-3 0zM693 170l-2-2-1-3-4 1-1 2 0 3 7 0zM725 176l1 2 0 4 5 0 4-2 0-3-7 0-1-1zM683 191l1 5 8-1 2-3 0-1-3-2-5 0zM84 242l2 2 5 0 1-1 2 0-1-1-1-5-6 1zM104 281l-2 0-4 2-2 4 4 3 1-1 4 0 0-2-1-1zM355 250l-1-1-2 0-1 1-6 1 0 4 1 1 7 0 1-1zM345 297l-6 1-2 4 3 2 5-1zM363 257l0 2 1 1 5 0 1 1 4 0 2-3-5-3zM701 231l1 6 8 1-1-6-2-1zM701 275l-1-1-5-1-2 1-1 5-1 1 8 0 2-2zM691 281l0 2 3 3 7-3-1-2zM829 239l9-2 1-5-7 0-3 4zM861 263l2 1 9 0 2-2 0-4-3-2-6 0-2 1zM865 289l3 4 7 0 1-1 0-4-1-1-6 0-1-1zM910 249l0 7 1 1 8-3 0-2-1-1-3 0zM236 346l-2 0-1 1-7 0 3 4 3 0 4-4zM371 333l-1 2 2 5 4-1 2-3 0-2-2-1zM841 315l-3-3-1 1-6 0-3 5 3 3 5 0 4-2zM783 339l1 4 2 0 1 1 4 0 3-2 0-6-9 0zM864 375l6 2 4-2 2-3-1-1-7-1zM911 342l0 10 12 1 5-3 0-8-6-1-1-1-4 0-1 1zM96 439l1 4 4 3 3 0 5-4-3-4-5 0-1-1-2 0zM296 395l1 2 9 0 0-2-2-3-6 1zM814 443l-6-1-1 1 0 3-2 5 1 1 8-6zM881 413l-5 3 1 1 0 3 3 2 4-1 0-4 1-1zM877 425l0 5 4 0 1 1 3-2-5-5zM111 514l0 5 2 2 2 0 1-1 5 0 2-4-4-5-5 0zM238 451l3 4 5 0 3-2 0-2-2-3-7 0zM329 459l0 4 1 1 1-1 7 0 1-1-1-6-5 0zM353 448l0 3-1 1 0 3 1 1 4 0 1-1 6-1-1-4-3-2zM654 449l0 3 5 2 4 0 3-3-2 0-7-3-2 0zM701 454l0 2 1 1 0 5 1 1 6-1 2-2 0-3zM756 501l-2-3-2 0-1-1-4 0-1-1-1 1-3 0-4 5 0 5 1 1 14 0 3-4zM773 448l1 4 2 1 4 0 0-6-2 0-1-1zM785 453l3 4 7 3 6 0 5-4 0-3-2-2-8-4-3 0-5 2zM864 459l2 3 0 2 8 0-1-5zM797 494l-1 7 9 0-1-6zM789 506l6-1 2-1 0-2-6 0zM7 554l0 7 2-1 6 0 0-5-3-2-4 0zM137 527l-2 4 0 3 2 1 7 0 2-3-2-4-2-1zM188 540l0 4 9 0 3-2 0-4-3-2-6 0zM156 579l4 3 1-1 3 0 2-2-1-1 0-2-4-2-3 0zM737 529l0 8 9 0 4-3-2-5-4 0-1-1-5 0zM717 556l3 5 4-1 1-2 0-2-4 0-1-1-2 0zM692 578l0 2 1 1 5 0 1 1 3 0 2-3-2-4-4 0-1-1zM724 568l-2-1-5 1-3 3 0 2 1 1 10 0zM749 568l0 4 1 2 6 1 1 1 4-8-2-1-8 0zM747 576l0 2 2 4 5 1 3-2 0-4-1-1-3 0-1-1zM840 552l0 4 3 3 4 0 1-1 4 0 1-1-1-1 0-4-7 0-1-1-3 0zM769 573l1 2 7-1 2-1 0-3 1-1-11 0zM915 526l-4 5 3 4 6 0 2-2 2-5-2-2zM224 630l2 2 7 0 2-2 0-3-1-1-5-1zM762 631l-2 0-1 1-7 0-3 4 2 3 4 0 2 1 3-2 2-4zM725 648l1 6 7 0 4-4 0-2zM711 661l0 1 9 1 1 1 1-1 3 0-1-1-1-5-9 0zM781 649l4 6 1-1 5 0 2-2-3-4-7 0zM808 648l0 4 2 2 3 1 5-2 0-4 1-1zM156 680l0 1 11 0-1-2-4 0-1-1-2 0zM343 44l-12 0 0 3-4 5-1 5 5-1 7-3 3 0 1-1 0-6zM413 54l-7-8 0-1-8 0-1 1-8 0-1 1-9 0-1 1 1 12 28 0zM328 91l0 7-1 1 1 1 0 2 4 5 4 0 1 1 4 0 1 1 4 0 1 1 4 0 1 1 4 0 1 1 10-5 2 0 6-13-15-10-8 0-1-1-15 0-1 3-4 4-2 0zM434 94l-1 9 3 2 18 0 1 1 3 0 2-2-7-10-2-1-14 0-1 1zM777 144l1 5 3 2 10 1 8-3 0-3-3-5-15 1zM824 149l-10 1-1 1-3 0 2 5 5 0 6-6 1 0zM903 186l0 4 1 1 1 7 5 0 1 1 1-1 8-1 2-1 3-4 0-3-1-1-8-3zM851 213l6 3 9-1 1-1 0-4-2-2-10 0 0 1zM120 287l1 1 4 0 1-1 9-1 2-1 0-3-1-1-11-1zM211 226l-3 0-5-2-5 2-4 0-1 2 4 7 8 0 1-1 4 0 1-1 0-2 1-1zM168 262l-1-6-3-2-3 0-9 5 0 2 4 0 1 1zM129 313l1 5 10-1 2-3 0-1-2-1-10 0zM235 306l1 2 2 0 1 1 4 0 1 1 4 0 1-1 0-5-1-1-8 0-1-1zM163 341l11 2 3-4 2 0 1-1-3-3-11 0-2 2zM303 303l0 2 4 2 3 0 1 1 9 0 2-1 3-6-7-5-8 0zM289 331l0 2 3 4 8-2 0-2 1-1-1-1-4 0-1-1-4 0zM277 341l4 3 4 0 6-3-2-2-4 0-1-1-5 0zM324 335l-1 4 3 2 2 0 2-2 0-4zM627 297l1 4 8-1-1-2-5 0-1-1zM437 217l13 7 14 1 2-4-2 0-14-7-4 0-1 1zM414 289l3 5 4 4 7 0 6 3 6 0 1 1 16-1-8-11-4-2-22 0-1-1-5 0zM469 383l0-1-3-1-2-2-2 1-7 0-1 1-7 0-1 1 3 2 4 0 1 1 8 1 1 1 3 0zM467 387l2 0 1 1 8 0 1 1 9 0 1 1 3 0-2-5-3-2-17 0zM686 448l-7 1-2 3 2 2z"/>
<path fill="#2810c0" d="M203 10l0 3 3 2 6 0 2-1 1-2-3-5-7 0zM799 15l1 0 4 4 2 0 1 1 4 0 1 1 4 0 1 1 5 0 14-6 2-4-4-7-30 0zM85 64l0 5 1 1 9 0 3-2 0-3-2-2-2 0-1-1-4 0-1-1zM85 76l3 3 6 0 3-2-3-6-5 0zM223 26l-3-2-7 4 1 4 2 1 2-1 4 0 2-2zM305 16l1 3 2 2 6 0 3-3-2-3-9 0zM643 56l0 2 3 3 3 0 1 1 3-1 2-3 0-2-5-3-4 1zM167 130l-3-4-2 1-6 0-1 1 0 5 3 2 5 1 3-2zM216 126l0 2 1 1 6 0 2-4-1-1-7 0zM274 112l-9 1-1 1 0 4-1 2 1 1 8 0 3-2zM631 90l0 2 2 2 6-1 2-2 0-1-3 0-4-2zM724 128l-1 1-5 0-2 1-1 4 1 1 8 1 1 1-1-1zM788 101l-5 0-2 5 4 0zM87 170l0 4 1 1 2 0 1 1 2-1 4 0 0-4-1-2-4-1zM49 184l-1-1-7 1-1 2 0 4 7 0 3-3-1-1zM93 190l-4 2 0 6 6 1 0-2 3-4 0-2zM50 217l0 2 2 3 11 0 0-4-3-2-7 0-1 1zM204 161l2 5 10 0 0-4 1-1-2-2-7-1zM357 193l-4-4-4 2-3 0 0 3 3 0 1 1 6 0zM356 196l0 4 2 1 7 1 3-2-1-3-3-4-4 0zM363 212l-6 3-2 0-1 1 0 3 5 0 1 1 2 0 1-1zM715 158l-4-1-1 1-7 1-1 1 1 1 0 4 4 2 5-1zM746 168l0 3 3 0 1 1 2 0 3-2-3-4-4 0zM725 230l3 2 7-1 1-1 0-5-7-1-2 1zM858 227l2 1 4 0 1 1 9 0 3-3-19 0zM933 225l-3 0-1-1-1 1-2 0-6 3 0 3 2 0 1 1 5-1 1 1 4-2zM97 263l1 6 2 1 5 0 2-1 1-4-8-3zM355 273l-1-7-5 2-3 0-2 3zM361 273l2 5 5-1 1-1 0-1-4-3-3 0zM387 297l5 5 9 0 5-2 1-6-4-3-6-1-1 1-4 0-2 1zM717 267l7 0 1-1 2 0 0-2-1-2-6-1zM806 274l0 6 6 0 1-1 0-3zM853 292l11 5 3-3-3-4-10-1 0 2zM329 318l-2 1 0 4 1 2 3-2 0-2 1-1zM339 340l-1 2 0 2 3 2 1-1 3 0 1-5zM356 369l0 5 5 2 3 0 1-1 1-3-3-3zM806 338l-1 6 6 0 1 1 4 0 1-1-2-6-2 0-1-1-5 0zM850 343l0 2 4 6 8-1 0-4-2-2zM868 359l-1-1-4 0-5 2 0 2 2 2 2-1 4 0 2-1zM886 321l-1-1-6 1-2 3 0 2 9 0zM66 402l0 3 1 1 2 0 3 2 3 0 0-5-1-1zM170 388l4 3 6 0 2-3-3-3-6 0-2 1zM329 418l2 3 8 0 0-4-9-1zM750 409l0 4 2 2 2 0 3 2 2 0 1-1 1-6-5-2zM774 432l-2-2-10 2 0 4 1 1 7 0 2-1zM748 442l-4-3-4 0-5 4 0 5 3 2 8-4 2 0 1-1-1-1zM824 424l0 4 2 1 5 0 1-1 0-2-4-3-3 0zM825 441l1 5 7 0-3-5zM215 459l0 4 2 0 1 1 5 0 3-2-1-1 0-2-4-4-2 0zM434 475l0 2 4 4 7 0 1-1-1-1 0-4-2-3-7 1zM511 448l1 1 0 4 5 0 3-3-2-3zM711 461l1 1 12 0 0-4-1-1-11 1 0 2zM678 474l-7-3-1 1-3 0-1 1 0 5 4 0 2 1 5-2zM760 483l1 1 0 2 4 2 4 0 2-4-2-3-4 0zM718 502l-1 5 5 3 5-1 0-4-2-3-3 0-1-1-2 0zM840 472l2 2 14 0 2-2 0-4-5-6-5 0-1 1-2 0-2 2-1 4zM783 487l0 6 7 1 5-2 0-3-4-2-2 0-3-2zM63 581l0 2 5 2 2 0 4-2 0-4-4-2-4 0zM279 561l-4 0-4 3 0 3 4 0 2 1 4-3 0-2zM690 522l1 4 3 0 1 1 7-1 0-3-1-2-2-1-6 0zM715 528l0 2 3 5 1-1 4 0 3-4 0-2-1-1-8 0zM751 525l8 0 4-4-4-2-7 0-1 1zM712 556l-2-1-2 1-5 0-1 4 2 2 8 0zM768 552l4 3 7 0-1-2 0-4-6 0zM830 541l-2 0-4 2 0 4 1 2 5 0 2-3 0-2zM808 585l-1-1-2 0-8 3 3 4 5 0 2-2 0-3zM816 568l1 1 0 4 2 1 4 0 5-2 0-4-2-1-9 0zM808 586l0 3-1 1 5 1 1 1 4-1 1-6-8-1zM877 567l5 0 2-1-2-4-3 0zM902 568l-6 6 8 3 4-3 1-2-2-3-4 0zM923 576l0 3 2 2 5 0 2-1 0-6-6 0zM89 610l0 4 3 2 5 0 4-2-1-4-2 0-1-1-6 0zM204 603l0 3 5 3 5 0 4-2 0-1-6-5-5 0zM689 659l0 3 2 1 5 0 4-2-2-4-2 0-1-1-3 0zM728 640l-2 7 12 0-2-7zM771 607l0 2 5 2 4 0 2-2 0-1-4-3-4 0zM786 607l0 2 4 4 3 0 1 1 5 0 2-1 2-3 0-5-5-3-9 1zM801 627l-4-6-5 1-2 3 0 1 8 1 1 1zM855 647l1 7 2 0 1 1 5 0 0-2 1-1 0-4-1-1zM100 674l0 2 4 4 6 1 2-2 0-4-3-2-6 0-1 1zM324 63l0 13 4 2 2-2 4-1 2 3 0 4 2 0 0-2 2-3 0-2 3-7-1-1-4 0-1-1-3 0-1-1-3 0-1-1zM398 25l1 2 1 0 8 7 20-4 2-2-7-6-9 0-1-1-4 0-6 3zM621 145l2 4 0 3 6-1 11-4 0-1-2-1-14 0-1-1zM873 122l3 2 2 0 4 2 2 0 4-3-2-3-6 0-1 1-4 0zM936 110l-2-1-3 2-3 0-5-2-1 1-3 0-5 2-4 0 1 2 14 4zM886 135l-1-1-8 1-3 2 0 3-1 1 8 3 4 0 1-1zM136 223l-1-7-1-1-2 1-6 0-1 1-2 0-2 2 4 5zM219 198l1 1 5 1 6-3 5-1-2-4-10 0zM648 166l0 8 2 0 1 1 7 0 1 1 6 0 1 1 3-2 0-2-2-4 0-3-1-1-9-2-1 1-4 0zM774 157l4 5 5 0 3-4 0-1-3 0-5-2zM788 205l13 0-1-5-10 0zM827 150l3 6 6 0 4-5-4 0-1-1zM841 173l0 3 15 0 1-1 0-6 1-1-2-1-10 0-3 2zM823 191l6 8 9 0-1-7-2 0-1-1-8 0-1-1zM842 200l1 3 2 2 10 2-1-2 0-6-4-1-1 1zM107 234l-1-1-2 0 0 1-3 3-2 0-1 2 8-1 1-1zM114 265l8 0 1-1 3 0 2-1 0-2-11 0zM151 264l3 6 2 1 6 0 2-1 2-5 0-2-9 0-1-1-3 0zM249 248l0 2 3 4 2 0 1-1 6 0 3-4 0-2-3 0-1-1-5 0-1 1-4 0zM264 264l1 1 0 3 3 2 9 0 3-3 2-4-2-1-12 0zM175 283l-2-1-1 1-9 1-1 2 2 2 10 1zM237 273l2 2 1 3 6 0 1 1 6-3 0-3 1-1-4-2-7 0zM281 272l-3-2-1 1-8 0-1 1 0 4 2 1 9 0 2-1zM233 291l1 3 4 2 6-1 5-2-2-4-6 0-1-1-4 0zM312 240l0 2-1 1 0 3 1 1 10-1 0-2-3-4zM309 260l2 1 4 0 1 1 6 0 1-3 2-2-1-1-14 0zM634 236l2-1 10 0 4-2 0-1-4-2-9 0-2 2zM604 249l0 2 4 5 4 0 1 1 10-2 0-2 2-4-8-4-3 0zM611 283l0 4 3 2 2-1 5 0 5-3 0-1-5-3-4 0-1-1zM837 229l8 0 1 1 1-1 5 0-1-2 3-2 0-1-5-2-5 0-1 1-2 0zM105 311l1 2 11-1-1-1 0-3-9 0zM138 311l2 0 1 1 5 0 2-1 0-2 1-1-9-2zM121 320l1 7 7 0 1-1 2 0-1-7-7 0-1 1zM181 312l0 6 2 1 5 0 4-3 0-2-2-1zM323 306l4 0 1-1 3 0-1-3-4-1zM609 338l0 4 5 2 3 0 1 1 5-3-1-5-2 0-1-1-5 0-3 2zM646 325l5 5 0 1 1-1 15-3 1-3-1-1 0-3-2-1-14 0zM477 246l3 0 1 1 9 0 1 1 9 0 1 1 9 0 1 1 1-1 5-1 3-3 0-2-1-2-2 0-1-1-3 0-1-1-3 0-1-1-3 0-1-1-3 0-1-1-3 0-1-1-5-1-12 10-1 0zM487 296l0 3 10 2 1 1 4 0 1 1-1-1 0-5z"/>
<path fill="#2058f0" d="M259 6l0 1 5 1 1 1 4-2 0-2-9 0zM52 39l4 2 7-1 2-1-1-6-9 0zM206 41l-3-2-1 1-2 0-2 3 1 2 4 0 3-2zM306 35l0 2 2 3 1-1 9 0 1-1-5-6-5 0-2 1zM805 37l2 2 4 0 1-1 14-2 0-6-4-2-9 0-1 1-3 0zM879 63l-4-14-5 1-1 1-3 0-1 1-4 0 0 8 8 1 5 2zM789 63l-16 3 0 4 3 5 5 2 6 0 2-1zM154 121l1 5 7 0 1-1 2 0 0-5 1-1-9 0zM204 112l0 3 4 3 5-1 0-5-1-1-7 0zM232 131l0 4 4 2 4-2 0-3-1-1zM289 136l-3 3 0 3 4 2 4 0 2-2 1-3-5-3zM659 121l-2-5-8 3 1 2zM778 98l4 3 1-1 5 0 1-1-4-5-4 0zM818 88l7 11 2-1 6 0 4-8 0-2-1-1-6 0-1-1-5 0-1 1zM26 228l3 3 5 0 4-2 0-4-2 0-1-1-7 0zM74 174l1 1 2 0 1-1 8 0 0-4-2-1-7 0zM226 159l-6 0-2 1-1 2 0 4 5 1 6-6zM333 191l0 2 3 2 3 0 1-1 5-1 0-2-1-1-8 0-1-1zM700 176l4 7 2-1 6 0 0-4-7-1-4-2zM375 261l0 3 1 1 2 0 7 4 5-3 0-6-3-2-10 0zM368 272l2 4 5 2 1-1 4 0 5-2 0-5-10-5-4 1zM395 260l2 2 6 0 3-4-2-1-6 0zM808 250l0 3 7 4 3-2 0-4-2-2-5 0-1 1zM909 247l2 2 3 0 5 2 2-1-1-6-9 0zM336 336l2 3 9 0-3-5-6 0zM684 302l-4 0-1 2 0 8 1 1 3-1 3-3 0-3zM816 338l2 5 11-1-1-4-4-3-4 0zM876 351l5 1 1 1 4-1 0-4-3-2-5 0zM99 392l0 2 3 4 5 0 2-1 1-4-2-2zM755 381l0 4 1 2 2 1 5 0 1-1-3-6zM864 387l3 4 5 0 4-3 0-3-1-2-8 0-2 1 0 2zM794 406l10 0-1-6-6-1zM930 391l0 6-1 1 0 2 1 1 7 0 1 1 3 0 0-13-1-1-6 0zM216 447l1 7 5 0 4-3-1-3-4-2zM143 493l0 2 9 0 1-1 0-3-1-1-6 0-2 1zM376 508l0 1 5 4 9-1 0-4-1-2-11-1zM644 475l0 4 5 2 7-3-2-5-8 0zM655 472l0 2 2 4 2 1 4 0 2-1 0-5 1-1-1-1-7 0-1 1zM660 480l-5 5 0 2 4 2 3 0 4-2 0-2-4-5zM713 463l1 2 0 4 2 3 7-1 2-2-1-6zM681 481l-1 2 0 5 2-1 8 0-2-5zM718 496l-3-2-1 1-5 1-1 1 0 4 7 0 1-1 2 0zM924 458l-2-2-10 2 1 5 4 2 2 0 5-4zM98 529l0 3 1 1 9 1 2-2-2-5-7 0zM179 545l0 3 2 3 3 0 5-3 0-3-2-1-7 0zM739 521l0 6 9 1 2-2 0-6-10 0zM799 533l0 2 2 1 3 0 1 1 4-1-1 0-4-4-1 1zM864 521l3 5 7 0 1-2 0-3-2-1-4 0-2-1zM882 551l-1-1-2 0-4 3-1 2 1 1 8-1zM65 624l0 4 3 2 4 0 2-1 1-2 0-5-7 0zM293 619l3 3 6 0 3-2 0-2-5-3-5 1zM737 591l-3-2-7 2-1 1 0 5 3 2 4 0zM711 608l-2-1-6 1-3 2 0 3 4 2 1-1 6 0zM705 615l-2 3 0 2 4 2 3 0 1-7zM734 615l2 4 5 4 1-1 2 0 3-5-2-2-4 0-1-1-5 0zM781 601l-3 3 3 3 4 1 1-4zM823 611l0 4 1 2 6-3-2-3zM865 611l2 5 6 0 2-1-3-6-4 0zM822 621l0 3-1 1 1 2 8 0 0-2 1-1 0-2-1-1-2 0-1-1-4 0zM863 618l-3-2-2 0-1 1-5 0-3 4 0 2 4 2 7 0 3-3zM876 617l-1-1-2 1-8 0-1 1 0 4 2 0 1 1 5 0 1-1 2 0 1-1zM852 631l7 0 4-2-3-3-7 0zM759 678l8 3 3-2 0-2 1-1-1-2-9 0zM908 664l0 5 2 1 6 0 2-1 1-2 0-2-5-2-4 0zM411 5l3 2 11 0 1 1 2 0 2-3zM769 116l1 1 6 0 1 1 5 0 1 1 3 0 1-1 0-1-2 0-8-4-4 0zM135 215l1 1 1 7 2 1 5-1 1-1 3 0 1-1-1-5-4 0-1-1-4 0-1-1-2 0zM234 170l5 3 7 0 1-1 0-4-5-2-5 0zM252 182l3 7 2 1 4 0 1-3 2-2-1-2-3 0-1-1zM192 202l4 3 7 0 1-1-3-5-8 0zM282 177l1 4 3 0 1 1 5 0 1-1 0-6-5 0-1 1-4 0zM107 232l1 3 5 1 4 2 10-1 4-3-1-5-5-4-13 0zM153 248l-5-3-1 1-8 1 1 3 2 2 5 0zM195 259l-2-4-5 0-4 2-1 5 5 0zM252 255l-1-1-3 0-1 1-10 0-2 1 2 5 10 0 1-1 3 0 0-4zM281 235l0 3 2 1 2 0 1 1 9 0-1-1-1-6-6 0-1 1-4 0zM616 235l0 7 9-1 0-5-5-1-1-1-1 1zM657 247l1 1 8 0 1-1-2-4-5 0zM685 289l-2-1-2 2-3-3-2 0-1 1-5 0-2 1 0 2-1 1 0 5 3 2 1-1 11-1 2-1 0-6zM205 326l1 1 0 4 6 4 5-1 4-2-1-2-10-6-2 0zM312 334l0 2 2 1 4 0 1 1 3 0 1-3-3-2-7 0zM486 201l0 2 1 1 0 5 10 4 17 1 2 1 1-1 7-1 5-3-12-8zM488 270l7 3 8 0 1 1 7 0 1 1 10 0 1-1 4 0 2-3-9-6-2 0-1-1-26 0zM492 277l0 6 10 1 1 1 10 1 1 1 7 0 1-1 3 0 4-3 0-1-4-3-4-1-3-2-14-1-1-1-8 0-2-1 0 3zM419 308l0 2 2 2 4 2 3 0 5 2 2-1 5 0 6-3-1-2-3 0-1-1-16-1-1-1zM653 355l0 4 4 4 13 0 1 1 6 0 6-5-4-1-3-2-2 0-3-2-17 0zM676 434l5 3 11 1 1 1 4 0 1 1 10-2 1-1-4-6-2 0-1-1-22 0zM647 444l5 0 1 1 2 0 3 3 2 0 10 4 6 0 2-3-6-1-11-4-6 0-1-1zM449 462l0 2 6 6 2 0 1 1 6 0 1-1 8-2 3-2 5-1-5-2-4 0-1-1-13 0-1-1-6 0z"/>
<path fill="#f018b8" d="M270 6l4 2 4 0 4-3-12 0zM758 17l2 1 3-2 2 0 7-3-6-3-6 0-2 2zM871 12l7 6 8-1 11-4-1-2 0-5-1-1-21 0zM54 20l1 1 0 2 9 0 2-5-1-1-8 0-2 1zM67 47l0 4 2 0 1 1 6 0 1-1 0-3-3-2zM177 47l3 3 7-1 1-2-2-2-7 0zM214 71l4 7 1-1 4 0 2-3-3-4-6 0zM227 83l0 5 1 1 7 0 1-1 2 0 2-3 0-1-4-3-6 0zM282 59l2 4 2 1 4 0 1-1 2 0 2-2 0-3-4-2-7 0zM918 25l-4 18 2 0 1-1 6 0 1-1 6 0-1-2 0-10-1-1 0-3zM53 113l0 3 4 2 6 0 3-2 1-2 0-2-5-3-3 0zM39 154l0 4 6 3 1-1 6-1-2-5-2-2-8 0zM50 153l4 6 5 0 3-2-1-5-6-1zM88 138l1 1 0 2 2 2 6 0 3-3 0-1-4-3-5 0zM109 145l0 3 2 2 7 0 2-2 0-4-2-2-4 0-1 1-2 0zM167 108l2 4 1-1 3 0 1-1 5-1 2-3-3-2-8 0-1-1-2 2zM272 91l0 2 2 2 9 0 0-2-3-4-7 1zM275 112l1 7 1 1 7-1 0-5-2-2zM257 159l2 1 8 1 3-2 1-4-2-3-6-1-4 3zM297 156l0 1 10 4 3-5-3-3-8 0zM329 136l0 2 3 4 5 0 1 1 2 0 2-1 1-2 0-4-3 0-1-1-9 0zM532 132l2 3 3 0-1-5zM703 95l-1-1-2 0-1 1-7 2 0 1 2 3 5 1zM699 89l1 3 3 2 7 0 2-2 0-4-4-2-6 0zM725 121l1 1 0 5 7 1 5-4 0-2-2-2-10 0zM749 119l-2 5 2 2 5-1 0-2 2-4zM756 148l-3-3-6 3 0 2 2 2 4 0 2-1zM18 169l0 2 2 3 6 0 3-4-1-2-3 0-1-1-3 0zM62 178l1 4 2 0 1 1 8-1 1-1-1-6-9 0zM62 229l2 3 2 0 1 1 7 0 2-2 0-3-3-3-7 0-1-1zM157 161l0 5 2 1 9-2 0-2-1-1-2 0-4-2-3 0zM223 167l2 2 3 0 3-3 4-1 3-2-2 0-3-2-4 0zM261 169l0 5 9 0 2-4-1-2-3 0-1-1-3 0zM284 171l1 2 2 1 8 0 2-1-2-4-3-2-7 2zM352 175l5 0 1-1 7-1 0-3-1-1-7-1-3 2zM387 168l-1 1-7 0-2 6 3 0 1 1 5 0 2-1zM365 193l4 6 4 0 0-7-1-1-4 0zM744 175l0 1 3 2 7-1-2-4-2 0-1-1-3 0zM745 208l0 4 5 0 1 1 2 0 0-5-3 0-1-1-3 0zM44 256l0 3 4 2 2 0 4-2-2-4-6 0zM75 259l0 2 1 1 5 2 5 0 4-2-1-1 0-2-2-2-2 0-1-1-3 0zM404 289l0 2 4 3 6-3-3-4-6 0zM727 272l8 0 2-4-1-1-6 0-2 1 0 3zM806 243l3 6 2-1 4 0 1-1 0-6-6-1zM781 268l1 1 0 4 3 0 4-3 0-2-1-1-5 0zM822 262l3 4 6 0 2-3-1-2-9 0zM936 292l0 5 1 1 4 0 0-6zM212 339l-1 1-6 0-2 1-1 2 7 1 3-2zM318 340l-9 1 1 5 7 0zM345 334l3 5 3 0 3-2 0-3-1-1-6 0zM322 360l-2-5-3-2-1 1-4 0-4 2 0 1 5 4 7 0zM700 309l1 1 1-1 5-1 3-2-8-5-1 7zM719 310l1 4 2 0 1 1 5 0 1-1 1-5-2-1-7 0zM708 320l1 2 1-1 7 0 0-3-1-1-6-1zM766 327l-3 4 0 3 2 1 6 0 0-7-1-1zM749 366l-4-6-3 0-1 1-5 0-1 6-1 1 2 1 10 0zM735 369l0 5 3 0 5 2 5-1 0-4-2-1-10 0zM787 317l0 3 2 1 6 0 0-4-1-1-5 0zM831 322l0 2-1 1 6 4 3-2 2 0-3-4-2-1zM866 304l-1 1-1 7 10 1 1-1 1-5-3-3zM862 313l-8 0-2 2 0 5-1 1 2 1 9-5zM795 336l0 7 3 2 4 0 2-1 1-6 1-1zM851 371l0 3 2 2 5 0 2-1 0-2-2-3-6 0zM894 342l-1 4 4 6 6 0 1 1 5 0 1-1 0-11-2-1-12 0zM272 419l1 2 3 2 5 0 3-4-2-3-7 0-2 1zM390 382l-1-1-2 1-6 0-1 1 0 4 8 1 1-1zM390 380l0 1 4 3 6 0 2-1 0-2 1-1-3-3-8 0zM734 375l-2 1-7 0 1 8 7-1 2-2zM762 397l0-3-1-1-2 1-8 0 1 3 2 2 6 0zM863 408l-5-2-3 2-4 1 0 3 5 3 4 0 2-3zM850 427l2 3 2 1 4 0 4-2 0-5-9 0zM876 382l1 5 2 1 5 0 0-6-1-1zM880 423l5 5 5 0 1-2 0-3-3 0-1-1-5 0zM918 445l1 2 8-1-1-1 0-3-2 0-1-1-4 1 0 2zM83 449l4 4 0 1 6 0 4-2 0-3-6-3-5 0zM120 482l1 1 0 2 3 3 7 0 3-2-2-5-2-1-5 0zM122 506l0 2 4 2 6 0 3-2-1-5-7 0zM151 483l0 1 2 1 2 0 1-1 6 0 0-5-2-1-7 0 0 2zM339 455l0 4 2 4 10 0 2-2 0-4-1-1-2 0-1-1-7 0-1-1zM341 467l0 2 2 2 1-1 7 0 1-1-2-5-7 0zM332 472l0 4 1 1 8 0 1-2 0-3-1-1-5-1zM344 479l-1 2 0 5 4 2 5 0 1-1 1-6-2-2zM384 457l-4 0-4 4 0 2 6 3 5-3 0-4zM376 471l-1 1 1 1 0 2 5 3 6-3 0-2-4-3zM413 498l-3-2-8 1-1 1 0 5 8 0 2 1 1-1zM412 504l0 2 2 4 7 0 1-1 0-4zM519 465l1 2 0 4 6-1 1-4-2-2-5 0zM714 477l0 2 5 1 1 1 3 0 4-2-5-7-6 1zM736 509l3 10 12 0 2-1 1-7-2-2-13 0-1-1zM824 460l-1 6 3 5 10 0 1 1 2 0 1-1 3-8-4-2-3-3-3 0-1 1-7 0zM860 471l-3 4 5 7 6 1 4-2 4-4-1-5-2-2-7-1-1 1zM824 507l-7 2 0 4 1 1 2 0zM871 506l-2 2 0 2-2 3 1 1 8 0 1-5zM858 512l0 8 6 0 3-2 0-4-2-1-6 0zM882 478l1 1 0 2 2 1 8 0 0-3-2-1-7 0-1-1zM903 489l0 3 3 6 6-3-1-1-1-5zM936 484l-1-1-2 1-7 0 0 3 2 3 6 0zM908 498l0 2 8 3 5-2-1-4-3-2-3 0zM907 512l0 6 1 1 8 0 5-2 0-2-5-4zM76 530l0 3 4 2 5 0 1-2 0-5-4 0-1-1-1 1-2 0zM112 523l0 2 3 3 7 1 3-2-4-6-5 0zM212 524l0 3 4 2 4 0 3-3-1-4-2-1-3 0zM250 555l0 2 8 3 3 0 1-2 0-2-3-3-7 0zM713 539l4 3 10 1-6-8-2 0zM701 590l3 2 2 0 1-1 5-1 1-2-3-4-6 0zM850 529l1 5 5 2 5-1 2-2 0-3-8-3-2 0zM781 557l0 5 8 1 3-2-6-5-4 0zM877 581l-4-4-2 0-1 1-5 0-1 6 10 0 1 1 2-2zM938 544l-2 4 4 2 1-1 0-5zM919 555l1 3 3 2 4 0 2-1 2-3 0-1zM109 649l0 2 3 2 5 0 2-1 1-3-4-3-6 1zM191 634l2 3 8 0 0-3 1-1-4-2-5 0zM249 592l-1 4 4 3 5-1 2-3 0-2-2-2-6 0zM738 608l5 1 4-5-1-1-7 0zM703 649l0 3 2 0 4 2 3 0 1 1 1-1 0-4 1-2-2 0-1-1-5 0zM716 648l-1 2 0 4-1 1 1 1 8 0 2-1 0-3-2-4-4 0-1-1zM699 657l1 3 2 2 8 0 4-6-11-3zM747 646l2 1 1-1 8 0 1-1 0-2-4-3-6 0-1 1zM859 591l3 6 2 0 3-3 4-2-2 0-5-3-2 0zM864 604l4 4 5 0 2-3 0-1-8-3zM797 634l0 5 1 1 9 1 0-2-3-4-5 0zM834 616l-1-1-4 0-4 2-1 2 7 1zM866 648l-1 7 5 0 3-2 1-3-7-1zM843 659l2 3 4 0 1 1 2 0 4-3-3-4-8 0zM892 590l-3 0-3 2-2 0 0 4 2 1 5 0 2-1-1-1zM910 593l3 5 2-1 4 0 0-4-3-2-3 0zM927 607l0 3 1 1 5-1 1-1 3 0 0-1-4-4-4 0zM874 627l1 4 10 0 2-4-1-2-7-1-1-1-1 0zM874 659l5 4 2 0 4-2 0-3-1-2-2-1-3 0zM215 673l1 5 4 2 1-1 4 0 2-3-2-4zM247 671l6 3 2 0 2-2 3-1 0-3-4-4-4 0-4 3 0 3zM748 676l2 3 3 0 1-1 4 0 2-4-3-2-7 0zM844 663l0 5-1 2 8 0 1-1 1-4-4-2zM330 6l0 10 1 1 4 0 12-6 0-1-4-1-8-4-4 0zM440 16l6 9 1 3 38 0 4-8 0-2-3-3 1-1-2-2 0-3-2-2-32-1-4 2zM511 64l3 8 5 0 6-4-1-3-3-2-8 0zM399 134l-3-9-5 1-1 1-3 0-1 1-3 0-1 1 0 1 1 1 2 0 3 4 5 0 2 1zM626 127l0 8 9-1 0-6zM756 129l0 1 2 2 3 1 5 6 5-1 5-9-2-1-5 0-1-1-5 0-1 1-4 0zM914 144l5 7 11 2 0-2 1-1 0-6-4-3-4 0-1 1-3 0zM923 123l2 3 6 4 1-1 8-1 0-5-2-2-13-1zM155 191l-4-1-3-2-10 2 2 7 5 0 10-5zM164 170l0 4 5 0 1 1 3 0 4-3 0-1-3 0-6-4zM206 208l0 2 2 1 3 0 1 1 6-1-5-6-5 0zM313 173l2 0 1 1 5 0 1 1 3-2-1-1-4 0-1-1-4 0zM290 194l0 4 1 1 6 1 5-2 0-3-2-1zM624 194l2 2 3 0 1 1 8 0 1-1 3 0 3-4 0-5-2-1-12 0-1-1-2 0-2 5-2 2zM646 216l0 2 10 1 1 1 5 0 1 1 6 0 5-4-1-3-4-5-15 0-5 3zM764 185l4 8 7 0 3-8zM688 202l-3-4-10 1-4 2-2 7 5 1 1 1 3 0 1 1 5 0 4-2zM892 177l-4-2-2 0-3-2-6 0-1 1-3 0-5 4-3 1-1 1 0 4 3 2 3 0 1 1 10 1 7-7 1 0zM884 199l1 6 5 0 1 1 4 0 1-1 0-2-2-4-5-1-1-1zM895 209l1 2 7 0 4-4 0-1-2-1-8 0-2 2zM904 211l2 1 4 0 1-1 5-1-1-3-7 0zM191 241l0 4 1 1 8 0 4-2 0-1-10-4-2 0zM237 249l-10 1 0 2 1 1 3 0zM212 265l-1-2-3-1-4-3-2 0-1 1-6 0-1 1-5 1 0 2 5 5 0 1 15 0zM225 260l2 3 7 0 2-2-1-1-4 0-1-1-4 0zM211 268l0 2 4 0 1 1 4 0 1 1 5 0-3-6-11 0zM232 253l4 2 1-1 10 0 1-1 2 0 0-1-2-3-10 0zM209 271l-2 5 4 4 11 0 1-2 0-5-7-1-1-1-4 0-1-1zM193 293l2 3 8 0 1 1 4-2-1-7-7 0zM605 232l2 2 11 0 4-5 1-3-1-2-3-2-11 0-3 3 1 1 0 5zM136 332l-3-5-3 0-1 1-6 0-1 1-1 5 2 0 1 1 7 0 1-1 2 0zM209 323l3 1 9 6 2-1-4-8zM268 322l0 3 1 1 3 0 1 1 6 0 2-1-4-6-5 0zM251 326l-2-1-4 2-3 0-1 1 0 4 1 1 10 1zM309 323l0 2 2 1 9-1 0-3-4-2-5 0zM304 325l-3 6 9 1 1-5-3-2zM607 312l-2 0-3 6 5 0zM625 320l1 5 3 0 1 1 6 0 1-1-3-6-4-1-3 2zM635 327l0 4 2 1 9 0 1-1 3 0 0-1-4-4-9 0zM406 208l3 6 6 1 1 1 15 0 1 1 4 0 11-4 0-5-14-2-1-1-8-1-1-1-4 0-1-1-1 1-3 0zM490 229l1 1 0 3 2 1 3 0 1 1 3 0 1 1 3 0 1 1 3 0 1 1 3 0 5 2 5 0 1-1 6-1 4-4-3-3-8-3-20 0-1-1-7 0zM444 303l2 4 4 2 6 0 1 1 5 0 1 1 8-1-10-8-12 0-1 1zM466 346l19 0-3-5-12 0zM487 348l2 5 2 1 6 0 1 1 2 0 5-4 0-1-2 0-4-2zM634 369l1 6 2 0 1 1 5 0 5-4-8-1-1-1-4 0zM498 469l-4-2-5 0-1-1-5 0-1-1-18 7 8 3 3 0 1-1 12 0 1-1 8 0 1-1z"/>
<path fill="#ffb820" d="M284 5l2 2 2 0 1 1 6-3zM192 70l5 1 1-1 2 0 3-3-2-4-8 0-1 2zM655 76l1 2 8 0 4-6-2-1-8 0-3 2zM747 30l11 0 0-4-8-1zM532 113l0 1 2 1 0 3-2 1 6 0 0-4-1-1zM805 97l0 1 2 0 1 1 4 0 1 1 4 0 1 1 4 0 2-2-7-11-8 0-1 1-1 5zM343 183l-7 2-1 1 0 2 1 1 7 0zM691 165l1 3 2 2 7 0 3-3-2-2zM702 185l0 3 1 1 8 1 1 1 1-2 0-2-2-4-5 0zM343 244l1 1 1 5 8-2 0-3-2-2-7 0zM734 244l2 3 3 0 1 1 6 0 1-1 0-5-5-2-3 0zM787 243l1 1 1-1 7-2 1-2-7-1-2 1zM816 353l0 4 3 2 2-1 4 0 2-1 1-2 0-2-1-1-4 0-1-1-5 0zM73 419l-3-3-2 0-5 4 0 3 1 1 6 0 3-2zM225 419l1 4 2 1 5 0 1-1 2 0 1-2 0-2-3-3-7 0zM747 416l2 7 4-1 3-2 2 0 1-2-2 0-6-3zM806 418l1 4 8 0 1-1 0-2-2-2-4 0-1-1zM681 489l0 5 8 0 2-1-1-5-8 0zM919 466l1 3 2 1 6 0 2-1 1-2-1-2-5-3zM86 580l1 3 4 0 1 1 5-3-1-5-3 0-1-1-3 0zM913 524l-3-4-2 0-1-1-4 2-2 5 2 1 7 0zM882 550l2 5 7 1 0-2 1-1 0-2-1-1-2 0-1-1-4 0zM770 611l0 4 5 3 5-2-1-4-3 0-4-2zM653 129l0 3 8 1 1 1 4 0 1 1 3 0 1-1 0-4-1-2-4-2-6 0zM913 128l0 3-1 1 2 1 14 1 2-3-1-2-6-4-3 0-3 2zM941 152l-9 1-2 1-1 9 12 0zM217 247l0 4-1 2 11 0-1-1 0-2-8-4zM294 233l1 6 1 1 6-1 4-2 0-3zM644 259l0 2 15 0 0-6-1-1-9 0zM455 270l-1 9 5 0 1 1 5 0 1 1 5 0 1 1 6 0 1 1 10 0 2-1 0-5 1-1 0-3-1-1-2 0-1-1-13 0-1-1zM409 301l3 6 8 0 1-1 0-4-2 0-3-2-6 0zM417 343l11 5 13 0 4-3 3-1-11-4-16 0z"/>
<path fill="#f82888" d="M321 6l0 3 2 4 6 0 0-8-6 0zM134 72l1 4 4 2 3 0 4-3 0-3-2-2-6 0zM260 81l2 3 1 4 6 0 2-3 0-3-1-1-3 0-1-1-5 0zM610 24l0 4 1 1 4 0 1 1 1-1 2 0 2-3 0-2-1-1-4 0-1-1-2 0zM749 24l-2-3-3 0-1 1-3 0-2 2-1 3 3 2 5 0 1 1zM761 24l-2 2 0 4 1 1 6 0 3-4-2-3zM761 32l0 2-1 1 0 3 3 2 9-1 0-1-6-6zM840 44l-2-2-7-3-4-3-1 1-4 0-1 1-4 0-1 1-8 1-1 12-1 1 9 8 5 1 1 1 1-1 16-5 4-6zM929 25l0 3 1 1 0 10 1 2 10 0 0-15-8 0-1-1zM134 110l-1 1 3 7 4 1 4-3 0-5-5-2zM191 89l0 4 2 0 1 1 6 0 2-3 0-2-1-1-8 0zM194 136l-4-2-1 1-3 0-1 1-5 1 0 2 3 3 8 0zM374 150l2 2 7-1 1-1 2 0 2-3-2-2-8-1-3 2zM623 105l-5-1-1 1-5 0-2 2 2 3 2 0 1 1 2-2 4-1zM596 114l2 3 2-2 5 0 2 1 0-2-3-2-7 0zM698 89l-5-1-4 4 2 5 3-2 2 0 4-2zM853 105l5 5 0 1 4 0 1-1 11-3 1-1 0-4-18-2zM75 176l1 5 7 1 4-3 0-4-9 0-1 1zM133 163l-1-1-5-1-6 6 2 1 2-1 4 0 2 1 2-1zM75 195l2 3 11 0 0-5-2-2-8 0zM343 202l4 5 3 0 2-4-1-2-7 0zM371 225l2 5 5 0 3-4-5-2-4 0zM714 215l0 4-1 1 1 2 7 0 3-2 0-5zM737 208l0 4 7 0 0-3zM745 220l-2 4 1 1 5 0 1-5zM85 256l4 1 5-3-1-2-6 0-1-1zM335 270l-2 3-3 1-3 3 2 0 1 1 4-1 3-4zM404 268l-3 4 0 2 4 3 3 1 2-9-2-1zM695 272l-1-5-1-1-10 2 4 0 4 5 3 0zM738 274l-1 4 8 0 0-4zM852 294l0 5 4 3 7-1 0-2 1-1-1-1-2 0-8-4zM919 285l-2 0-1 1-6 0 0 2 1 2 8 0zM938 299l-3 4 4 2 2 0 0-6zM100 373l4 2 7 0 3-4-4-3-7 0-3 2zM265 347l2 3 4 0 1 1 2-1 0-4-1-1-5 0zM351 308l2 5 9-1 0-7-5 0-1-1zM351 340l2 3 7 1 1-2 0-3-3 0-1-1-3 0zM751 304l-3-2-3 0-1-1-4 1-2 3 0 4 2 1 5 0zM754 342l0 3 5 0 1 1 4 0 1-1-5-5-2 0zM757 352l-4-3-9 2 2 4 0 3 7 0 1-1 2 0 1-1zM760 371l1 3 3 2 1-1 5-1 0-6-6 0-1 1-2 0zM911 312l0 3 2 2 7 0 1-1 0-4-2-1-5 0-1 1zM107 403l0 1 3 2 7 0 2-1 1-2-1-2-3-2-6 0zM226 396l0 2 4 3 7-1 0-4-3-3-5 0zM143 435l1 3 2 2 6 0 4-3-1-4-2-1-6 0zM227 434l0 2 4 3 6 0 2-1-1-4-2-3-5 0zM237 431l2 3 1 4 6 0 3-7-2 0-3-2-6 1zM272 376l0 4 1 1 2 0 1 1 6 0 2-2 0-5-2 0-1-1-5 0zM389 404l0 2 1 1 3 0 1 1 5-1 0-3-3-3-4 0zM501 417l-1 1 0 4 1 1 4-1 1-2zM636 400l-2 1 0 2-1 1 2 3 3 0 0-6zM761 424l-3-3-2 0-3 2-4 1 0 3 1 2 2 0 1 1 6 0 2-4zM842 395l0 4 1 1 2 0 1 1 5-2-2-5-6 0zM820 434l-6 1 1 1 0 4 1 2 1-1 5-1 0-4zM893 388l1 5 4 3 8 0 1 1 3 0 3-5 0-2-2-3-10-4zM901 423l-1-1-5 0-1 1-2 0-1 6 1 1 3 0 1-1 5-1zM501 459l1 4 2 0 1 1 4 0 2-3-4-3-5 0zM765 453l-1 1 0 4 5 0 1-1 0-3zM715 480l-2-1-7 1-1 1-1 5 10 2 0-2 1-1zM748 488l-1 1 0 7 4 0 2 1 2-2 3-6-2 0-1-1zM722 513l0 3-1 1 3 3 6 1 1 1 1-1 7-1-2-3-2-7-6 0-1-1-3 2-2 0zM7 562l0 5 2 1 6 0 2-2 0-4-1-1-7 0zM51 579l-2-3-2 0-1-1-7 1-1 1 0 5 1 1 5 0 1-1 5-1zM715 520l-3-2-2 1-6 0-2 2 1 5 1 1 8 0 3-3zM734 585l0 3 3 2 8 1 1-2 0-4-2 0-3-2-2 0-1-1zM814 536l3 6 4 0 2 1 6-3 0-2-2 0-7-4-3 0zM840 522l0 2 7 4 3 0 4-2 2-3 0-1-10 0-1-1-4 0zM799 556l-1 2 1 2 6 3 2-1 1-6-2 0-1-1zM797 580l-2-2-2 1-4 0 1 1 0 5 5 0zM838 578l-2-2-2 0-1-1-2 1-3 3-1 5 4 1 1-1 6-1 1-2-1-1zM852 580l1 2 4 0 1 1 5 1 1-6-1-1-7-1-2 1zM934 532l-2-3-4-1-4 2-2 5 9 1zM893 544l-1 6 8 0 1-1 0-2-5-3zM919 549l-1 5 11 0 0-4-2-1zM889 573l1 1 5 0 6-6-10-2-2 1zM109 627l2 3 6 0 2-1 1-2-1-2-4-2-3 0zM761 610l0 4 3 2 5-1 0-4 1-1zM841 604l1 5 2 1 6 0 0-4-1-2zM813 621l2 5 5 0 1-5-4 0-1-1-2 0zM794 642l1 4 2 1 5 0 4-2 0-3-2 0-1-1-5 0-1-1zM771 659l2 3 2 1 5 0 2-1 2-3-1-1 0-2-6 0-1 1-3 0zM908 614l2 2 1-1 5 0 2-2 0-2-3-2-4 0zM89 666l-1 2 1 1 0 2 2 2 8 0 1-1 0-4-2-3-6 0-1 1zM513 44l-5-3-4 0-1 1-9 0 13 6 5-1 0-2zM404 120l-5 3-2 3 3 7 5 1 1 1 3 0 3-3 2 0 1-2-10-10zM406 118l0 2 10 10 13 0 4-2 0-10-1-1-2 0-1-1-22 0zM613 135l0 2-1 1 1 5 5 0 1 1 2 0 4-8-2 0-1-1zM899 134l-1-6-2-1-11 2 0 4 1 1zM932 144l0 6-1 1 0 2 1-1 9-1 0-7zM109 177l-1 6 2 0 1 1 7 0 1-1 3 0-2-5-3-2-7 0zM107 194l3 4 3 0 1 1 7 0 3-2 0-5-1-1-13 0-2 1zM222 178l0 1 2 0 1 1 5 0 1 1 4 0 2 1 1-7-9-2zM234 203l0 1 5 4 5 0 4-2 0-5-1-2-9-1 0 1zM251 219l0 2 1 1 11 0 0-5-2-1-4 0zM667 165l1 1 0 3 1 1 1 5 5 0 1-1 2 0 2-5 0-2-1-1zM822 169l0 5 2 1 10 0-4-6zM838 192l1 7 6 0 1-1 5-1 0-3-1-1-11 0zM855 199l0 6 1 2 9 0 3-6-6-3zM149 237l1 1 0 4 11-2 0-4-1-1-8 0zM162 240l-1 1 1 7 6-1 0-2-2-4-3 0zM313 276l2 0 1 1 5 0 1 1 2-1-1-5-2-2-6 1 0 2zM309 278l4 4 3 0 1 1 4 0 0-2 1-1-1-2-5 0-1-1-4 0zM616 243l0 1 6 3 2 0 1 1 2-1 0-4-1-1zM664 232l0 1 2 0 4 2 6 0 1 1 5 0 2-2-1-3-3-4 0-4-2 0-1-1-9 0-2 7zM819 232l3 4 3 0 7-6-10 0-1 1-2 0zM126 295l5 5 7 0-1-1 0-4zM205 297l0 3 2 1 4 0 1 1 3-1 0-5-4 0-2-1zM236 309l0 6-1 2 13 0 2-2-2-4-4 0-1-1zM265 318l4 2 2 0 1-1 6 0 2-4-5-4-4 0-1-1zM167 323l2 2 11 1 4-6-2-1-7 0-1 1-7 2zM150 336l8 0 4 3 1 0 0-2 1-1-3 0-5-2-1 1-4 0zM484 139l-8-3-3 2-6 1-5-4-1 1-3 0-5 2-4 0-1 1-3 0-1 1-3 0-1 1-3 0-5 2-4 0 8 2 11 5 20 0 1-1 4 0 1-1 5-1 3-2 2 0 1-1zM485 139l0 6 2 0 1 1 2 0 1 1 2 0 22 8 16-1 4-2-2-4 0-2-2 0-16-6-20 0-1-1zM486 160l-1-2-16-8-2 1-19 0 0 4-1 1 7 4 4 0 1 1 14 0 1 1 7 0 3-2zM454 162l-1 7 6 0 1 1 6 0 1 1 6 0 1 1 6 0 1 1 11 1 0-1-4-4-8-6-6 0-1-1-14 0-1-1-3 0zM434 181l12 6 8 0 1 1 2 0 6-3 2 0-16-5-1-1-2 0-1-1-1 1zM401 226l1 5 2 0 7-3-4-2zM408 258l1 1 0 2 5 1 1 1 23 0 4-7-10-2-1-1-4 0-1-1-3 0-1-1-3 0-5-2-3 0zM639 347l3 4 1 3 10 0zM432 396l10 0 3-5-2 0-4-2-6 0zM448 434l5 3 8 0 1 1 10 0 1 1 2 0-1-1 0-5-2-2-16 0-1 1-6 0zM706 431l2 4 3 3 6 1 1 1 5 0-4-5-1-3-10 0zM634 446l1 1 5 0 6-3 0-1-4-1-3-2-3 0-2 3z"/>
<path fill="#d01060" d="M527 7l0 2-1 1 0 2 3 2 4 0 4-2 0-3-3-2zM735 16l1 4 3 2 8-3 0-2-2-2-8 0zM845 76l-4 10 5 2 3 0 4 2 4 0 2-1 0-3 2-5 0-4 1-1-2-1-10 0-1 1zM8 135l-1 2 0 6 4 0 4-2 0-3-1-1zM193 157l3 2 7 1 2-5-3-2-6 0zM250 96l0 2-1 1 2 2 4 2 5 0 2-1 0-6-1-1-6-1zM261 126l3 2 2 0 4 2 3 0 2-2 0-2-2-4-10 0zM355 152l0 4-1 2 2 1 9-1 1-2-1-1 0-2-3-2zM666 106l4 6 5 0 0-8-3-1zM769 111l3 2 1-1 5 0 0-4-5-2zM779 107l0 5 7 2 3-3-4-4zM189 170l1 2 3 0 4 2 4 0 2 1 1-7-10-1zM745 160l-1-1-1 1-7 1 1 3 7 0zM694 194l2 0 1 1 4 0-1-5-3 0-2 1zM42 237l2 3 5 0 2-1 3-4-2-3-9 0zM102 256l-2 5 8 3 0-5-2-3zM391 266l3 0 3-3-2-2-4 0zM703 300l0 1 3 1 4 3 5-4 1-4-2-1-8 0zM863 265l-1 5 2 2 4 1 1-1 4 0 1-1 1-4-2-2zM932 285l0 1 5 5 4 0 0-6-2-1zM121 340l-2-1-6 1-1 1 0 3 4 0 1 1zM361 344l1 1 7 0 2-2 0-3-8 0-1-1zM372 349l0 2 5 1 4-2 0-3-8 0zM685 339l7 0 2-1-2-4-5 0zM796 316l0 5 1 1 4 0 1-1 2 0 2-2-4-4-2 0-1-1zM63 407l0 3-1 1 3 3 5 1 4-4 0-2-2 0-3-2-2 0-1-1zM205 400l0 3 2 3 6 0 3-3 0-3-3-2-5 0zM342 432l-1 5 3 2 7 0 2-3 0-4-2 0-1-1-5 0-1 1zM726 385l0 5 9 3 3-5 0-1-5-3zM795 380l0 2 4 2 5 0 2-2-1-5-6 0zM842 431l1 1 0 3 3 3 5-1 3-5-3-2-7 0zM910 398l0 6-1 1 5 4 2 0 1 1 5 0 4-8-5-2zM64 465l1 3 4 2 4 0 2-2 0-3-4-3-5 1zM88 493l1 1 10 0 3-5-3-2-7 0-1 1-2 0 0 4zM171 473l0 3-1 1 2 1 6-1 1-2 0-2-3 0-1-1-3 0zM177 498l0 4 3 2 5 0 4-2 0-3-2-3-6 0zM377 447l-2 0-1-1-7 1-3 3 0 2 1 2 8 0 1-1 2 0 1-1zM725 464l1 5 7 1 4-7-5 0-2-1zM776 501l-5-5-4 0-1 1-10 2 2 5 3 2 4 0 1 1 3 0zM778 502l-2 0-4 4-1 0-1 2 1 1 6-1 2-2zM54 583l-2-1-4 0-1 1-5 1 1 1 0 4 2 1 5 0 4-3zM674 556l3 4 2 0 1 1 1-1 3 0 4-3 0-3-8-2zM804 542l2 3 10-2 0-2-3-4-5 0-2 1zM877 533l2 2 2 0 2-1 5-6-11 0zM919 547l0 1 8 0 1 1 2 0 0-2-2-4-5 0zM935 556l1 3 2 2 3 0 0-5-2 0-1-1zM691 591l0 5 1 1 6 0 2-1 1-2 0-3-8 0-1-1zM762 603l-3 0-1 1-5 1 0 1 2 3 4 0 1 1 2-3zM712 632l-3-5-6 1-1 1 0 4zM842 598l-1 5 9 0 0-2-2-3zM850 604l1 5 6 0 3-4 0-1-2-1-7 0zM939 623l-4 3 0 2 1 2 5 1 0-8zM62 677l4 2 4 0 3-4-1-2-2-1-6 0-2 3zM795 665l-1 4 1 0 4 4 9-1-1-1 0-3-3-4-2-1-4 0zM410 64l0 4-1 1 0 4-1 1 0 2 1 1 2 0 1 1 14-1 0-3 2-5 0-2-1-1-7 0-1-1-6 0-1-1zM493 69l5 11 8-3 3 0 2-3-11-4zM214 205l5 6 6 0 0-6zM758 194l0 5 8 0 1-5zM834 163l-4-2-7 1-1 1 0 3 1 2 6 0 2-1zM830 168l1 1 7 0 1-1 4 0 1-1-5-3-4 0-4 4zM887 152l-6-3-1 1-6 1-2 3 3 3 4 1 8-5zM928 206l2 4 8 1 3-6-11 0zM124 275l0 2 2 2 10 1 1 1 2-1-2-7-10-1-2 1zM252 223l1 6 8 0 1-1 3 0 0-2 1-1-3-2zM311 240l-3-2-2 0-4 2-6 1 0 3 1 2 13 0zM323 247l-10 1-3 7 13 0zM293 254l-12 1-1 6 3 2 10 0zM657 253l2 1 11 0-4-5-7 0zM625 295l-3-7-1 1-5 0-2 1 0 3zM656 284l3 4 3 0 1 1 4 0 2-1 0-1-6-5zM690 280l-3 0-5 2 2 2 0 4 5 0-1-2 1-1zM118 295l0 6 3 0 1 1 7 0 2-1-8-7zM192 309l0 4 1 1 1-1 8-1 0-4-9-1zM637 308l12 0 1-1-5-5-6 0-1 5zM599 322l0 5 6 0 1-1 6 0 1-5-3-2-9 0zM625 336l5 1 3-2 5 0 0-2-2-1-6 0zM406 281l10 5 6 0 1 1 22 0 6-8-10-1-1-1-4 0-1-1-10-1-1-1-4 0-1-1-5 0-2-1-2 1-1 5zM503 304l0 3 6 1 8 3 9-1 0-2 1-1-2-2-3 0-4-2-11 0-1 1zM501 355l3 2 8 0 1 1 9 0 1-1-1-3-2-2-4 0-1-1-9 0zM643 377l3 2 29 1-2-4-10-2-1-1-3 0-1-1-9 0z"/>
<path fill="#10e030" d="M772 11l2 3 2 0 1 1 5 0 1 1 4 0 5-3-1-8-12 0-1 1-5 1 0 3zM30 64l-2-1-1 1-5 0-2 1 0 2-1 1 3 4 5 1 4-5zM98 40l8 0 4-2 1-2-2-3-9-1-2 4zM44 79l-2 3 0 3 5 3 5 0 3-5-7-5-1 1zM195 24l-2 5 4 3 5 0 2-1 2-3-7-5-1 1zM237 27l0 4 2 1 5 0 6-3 0-3-3-2-8 0zM157 41l-1-1-4 0-1-1-5 2-1 1 1 5 1 1 7 0zM224 49l3 4 10 0 1-2 0-2-2-2-2 0-1-1-3 0zM286 32l0 4 2 3 8 0 0-6-3-2-6 0zM251 83l0 4 4 2 6 0 1-1-1-4-2-3-3 0zM316 70l0 2 1 0 4 4 2-1 0-5-4 0-1-1zM572 25l0 2 4 4 4 0 3-2 2-5-5-2-4 0zM768 24l1 2 16 0 0-9-10-2zM878 39l-4-4-1 1-8 1-9 12 3 2 6 0 1-1 7-1 2-1 2-4zM770 81l2 7 9-1 5-3-1-1 0-5-4 0-1-1-4 0zM863 76l-1 1 0 4-1 1-1 7 11 0 2 1 1-1 0-9 1-1 0-2-3-2zM33 119l-2 2-2 5 5 1 3 2 4-3-2-6-2-1zM51 143l-1-1-10 1-1 1 1 7 8 0 4-4zM111 152l0 2 3 4 3 0 5-2-1-3-2-2-7 0zM272 90l-2-2-1 1-7 0-2 2 0 2 2 2 3 0 1-1 5-1 0-2zM308 99l1 5 1-1 7-1 1-2 0-2-3-2-4 0-2 1zM248 125l4 2 6 0 3-2 2-4-2 0-3-2-7 0zM307 122l0 3 1 1 8 0 3-2-2-5-8 0zM363 130l-1-1-4 0-2 2-1 4 6-1zM385 137l1 1 0 6 2 2 10 0-2-5-4-1-5-5zM689 114l-2-2-10 1 1 1 0 6 2 0 1-1 4 1 4-2zM725 128l0 8 2 2 3-2 2 0 4-2 0-2-2-3zM684 142l2 5 4 0 3-4-2-1zM724 153l-1 4 4 4 1-1 6 0 1-1 1-6-2 0-1-1zM739 135l0 5 1 1 2 0 1 1 4-1-2-6zM77 220l-3-4-2 1-5 0-1 1-2 0 0 5 2 1 8 0zM179 170l10 2-1-2-4-2-2 0zM347 195l0 4 1 1 3 0 1 1 3-1 0-4-5 0-1-1zM353 217l-5-3-1 1-5 0-2 2 0 4 11 0 2-2zM381 218l1 7 3 0 6-3 0-1-4-3zM693 171l1 6 2 0 4-2 0-4zM681 180l0 2 3 0 1 1 7 0 1-1-1-3-3 0-1-1-3 0zM725 178l-1-2-3-2-1 1-3 0-4 3 0 4 2 0 1 1 9 0zM711 195l0 2 3 2 7 0 2-1 0-3-4-3-6 0zM85 238l-3-2-1 1-4 0-1 1 1 2 3 2 3 0zM334 292l4 5 6-1 0-3-6-3zM387 244l8-2 0-3-5-1-1-1zM387 257l4 3 3 0 4-4-1-1-7-1zM680 256l0 10 1 0 3-5-1-1 0-3zM715 280l0 3 2 3 5 0 3-3 0-3-2 0-1-1zM728 297l0 6 1 1 8 1 2-2 0-3-6-4zM747 288l1 4 4 2 7-1 0-4zM859 228l-2-1-4 2 0 3-1 1-2 0 1 1 1 5 7 0 4-2 0-3zM831 271l-1 1-3 0-3 2 0 2 3 3 3 0 3-5zM827 280l-2-2-5 0-1 1-5 0-1 2 2 2 1 3 7 0 3-2zM854 288l10 1 3-3-1-5-10 0-1 6zM867 281l0 3 2 2 6 0 1 1 0-2 1-1-3-3zM897 240l0 3 4 4 7 0 2-3-1-5-1-1-9 0zM886 251l2 3 8 0 2-5-2-1-8 0zM898 251l0 3 2 1 2 0 1 1 6-1 0-7-8 0-2 1zM937 265l-2 2 0 6 6 0 0-8zM61 307l1 3 4 3 5-1 2-3-1-3-2-2-7 0zM216 356l0 3 1 1 2 0 1 1 5 0 2-1 0-7-5 0-2-1-2 1zM600 304l-4 3 1 4 4-2 2 0 0-2zM729 305l0 3 2 1 2-1 4 0 0-2zM745 340l-1-1-2 0-1 1-5 0-1 2 1 2 2 1 1-1 3 0zM759 364l3 4 2-1 7 0 0-2-4-4-6 0zM795 330l0 5 10 1 0-4 1-1-1-1-7 0-1-1zM769 344l0 1 5 5 5 0 2-2 0-4-3-2-7 0zM828 369l0 5 1 1 8 0 4-2 0-3-3 0-1-1zM908 363l1 2 0 8 8 0 1-1 3 0 2-3 0-3zM143 384l-4-2-1 1-4 0-3 4 3 3 4 1 5-2zM202 427l1 4 2 1 5 0 3-2 0-3-1-1-3 0-4-2zM295 399l1 1 1 5 2 0 1 1 1-1 3 0 2-2 0-5-10 0zM363 423l0 8 1 1 3 0 9-4 0-1-5-4zM378 429l-3 0-5 3-4 1 1 4 2 1 7 0 3-2zM423 437l0 2 2 2 5 0 3-2 0-2-4-2-4 0zM760 431l1 1 11-4-2-2-8-1-2 4zM761 439l-1 7 2 1 8-1 2-3-1-1 0-2-3-2-6 0zM770 386l0 1 6 3 2 0 4-2-1-1 0-4-9 0zM806 377l1 5 2 0 1 1 6 0 2-1-1-5-2-1zM829 376l-1-1-3 0-1 1-6 1 0 3 1 2 5 0 1 1 2 0 1-1 0-5zM851 422l1 1 9 0 1-3-2-4-5 0zM833 425l0 3-1 1 1 1 8 0 1-2 0-3-1-1-5 0-1 1zM857 438l-2 4 2 3 4 2 5-7-3-2zM871 392l3 2 2 0 1-1 6-1 1-1 0-2-5 0-2-1zM900 416l-1 5 2 1 8 0-1-7-7 0zM940 421l-1 3-3 4 3 3 2-1 0-8zM928 428l0 5 3 2 5 0 1-1 1-3-4-3zM73 452l2 4 5 2 6-4 0-1-4-4-4 0zM217 505l-2-2-2 1-7 0 0 5 1 1 9 0zM205 513l1 4 2 1 5 0 3-2-1-5-9 0zM329 507l2 4 2 0 1 1 7 0 2-4-1-2-5-2-6 1zM363 482l-3-2-1 1-4 0-1 6 2 1 6 0 2-1zM705 464l-1 5 10 2-1-2 0-4-2-3zM688 503l1 1 1 6 6 0 3-2 0-3-4-3-5 0zM861 451l0 5 3 2 10 0 5-3-1-6-16 0zM815 477l4 1 5-6-9 0zM807 485l1 5 4 3 4 0 8-3 0-3-2-2-4-1-3-2-3 0zM779 514l0 2 2 3 9-1 0-2-3-3-5 0-1-1zM850 508l2 1 5 0 4-4-4-3-6 0-1 1zM34 575l-6 1-3 4 5 4 2-1 4 0 1-1 0-5zM147 584l1 4 2 1 5 0 4-6-8-1zM724 585l0 3 2 3 7-3 0-2-3-2-5 0zM759 575l10 0-1-5-2-1-5 0zM738 580l1 2 2 0 3 2 3 0 1-1 0-2-2-4-6 0zM805 526l-4 0-5 5 2 2 1-1 4 0 1-1zM816 544l-1 5 9 0-1-5-2-1-4 0zM876 569l-5-1-1-1-1 1-3 0-3 4 0 4 1 1 6 0 5-2 2-2zM876 521l-1 5 2 1 12 0-2-6-3-2-5 0zM941 536l-2 0-1-1-1 1-5 1-1 4 4 2 6 0zM900 589l2 4 5 0 5-2 0-2-2-4-7 0zM941 581l-4 1 0 7 1 1 3 0zM76 643l2 3 2 0 1 1 5 0 4-6-2-1-9 0-2 1zM239 602l0 5 3 2 6 0 2-1 0-3 1-1-4-3-7 0zM900 646l-1 2 1 3 3 3 5 0 1-4 2-3zM831 666l1 2 2 1 2 0 1 1 5 0 1-2 0-5-2-1-4 0-1-1zM898 664l0 2-1 1 2 3 5 0 1-1 2 0 0-5-1-1-6 0zM374 64l1 4 2 3 1 5 7 3 2-1 7 0 1-1 8 0 1-1 3 0 1-7 1-1 0-5-2-2-28 0zM509 16l0 2-1 1 4 2 7 0-2-3-4-2zM408 60l2 3 2 0 1 1 6 0 1 1 7 0 2 1 1-11-2-1-13 0zM492 55l3 4 2 5 4 0 1-1 4 0 1-1 1-5-3-2zM520 72l5 4 1-5-4 0zM413 79l-5-2-4 0-1 1-8 0-1 1-7 0-1 1 4 8 0 2 7 0 1-1 14-1 0-6 1-1zM685 126l-2 1 3 7 3-1 0-2-2-5zM912 133l5 9 5-1 1-1 3 0 3-4-1-1-14-1zM883 146l0 3 3 1 2 2 9-1 0-2 1-1 0-3-3 0-1-1-8 0zM941 128l-5 2-4 0-2 2-1 3 1 1 4 0 1 1 6 0zM204 182l4 3 8 0 5-5 0-1-4-2-8 0-4 3zM220 187l6 4 8 0 4-7-3-2-4 0-1-1-5 0-1-1-2 0-2 3zM224 220l0 2 3 2 9-2 0-3-1-1-8 0zM612 153l0 5-1 2 10 0 1-1 4 0-3-6zM603 178l0 2 2 4 14 1 1-1 5 0 1-1-1-2 0-7-18 0-2 1zM613 198l1 1 7 0 1-1 2 0 1-2-4-3-7 0 0 4zM757 213l0 7 1 1 6 0 3 3 7-2 2-3-5-7zM842 169l-10 1 0 1 3 4 3 0 1 1zM872 221l10 2 3-5-2-1-10 0-1 1zM895 214l0 2 13 0 0-2-3-2-9 0zM883 223l0 1 12 0 0-2-2-4-7 0zM907 217l0 6 2 0 1 1 1-1 3 0 3-5-1-1-4 0-1-1zM924 217l1 1 6 0 1-1 5-1 1-2-1-2-7-1zM138 282l0 4 1 1 6 1 5 2 0-1 4-4 0-1-5-3-10 0zM148 252l0 1 4 4 2 0 8-4-1-4-8 0zM217 254l0 7 2-1 5 0 2-2 0-4zM248 266l3 4 2 0 1 1 5 0 3-2 2 0 0-4-1-1-7-1-1-1-3 0zM151 278l9-1 1-1-1-4-4 0-2-1-2 3 0 3zM161 277l-1 1-5 0-1 1-4 0-1 1 6 4 5 0zM224 273l0 5-1 2 16-1-1-4-4-3-7 0-1 1zM304 224l1 0 6 6 10-1 2-3-12-5zM321 230l-10 1-4 3 0 3 4 2 9 0 0-6 1-1zM332 223l-7 2-3 3 0 2 2 0 1 1 1-3zM296 264l0 3 7 5 1-1 9-1-6-6 0-1zM594 266l0 3 5 3 7 0 0-7-10 0zM623 256l-8 1 0 3 2 4 5 0 1-6 1-1zM645 287l1 1 3 0 5 2 5-1-4-5-6 0zM666 242l1 4 2 1 12 0 1-6 2-3-1-1-10-1zM667 248l4 6 2 0 1 1 1-1 5 0 1-6-12 0-1-1zM107 329l0 3 1 1 5 1 3 2 4-2 1-5 1-1-12-1zM174 306l-5-5-2 1-4 0 0 5 6 0 2 1zM170 301l5 5 8 0-1-1 0-4-2-1zM252 295l-4-1-4 2-3 0-2 1-1 4 2 1 8 0 3-2zM181 325l0 1 6 3 7 0 3-2-1-2-9-5-2 0zM261 335l0 1 6 0 8 4 2 0 1-3-2 0-3-2zM290 299l12 4 7-7-14 0-1 1-4 0zM311 319l9 1 2-2 3-1 0-1-5-3-6 0zM477 135l0 1 2 0 4 2 11 0 1 1 21 0 3-2 2 0-9-5-2 0-4-2-7 0-4 2-7 0-1 1zM481 163l1 0 11 10 22 0 6-4-1-4-6-4-27-1zM400 213l0 11 1 1 6 0 6-9zM446 255l35 4-1-2 0-4-1-1 0-4-3-2-5 0-1-1-5 0-1-1-5 0-1-1-2 0zM482 312l4 2 3 3 4 0 1 1 4 0 1 1 2-1 15 0 3-2 0-3-1-1-5-1-4-2-3 0-1-1-14 0zM466 358l1 4 10 5 7 0 1-1 2 0 2-4-10-4zM678 364l1 1 8 1 1 1 8 1 1 1 8-1 4-3-6-4-4 0-1-1-12 0-1-1-4 2zM645 383l8 3 21-1 0-4-28-1 0 2zM490 396l5 5 8 3 16 1 1-1 3 0 5-2-1-1-2 0-2-2 1-4-4-2-6 0-1-1-19 0zM648 398l0 2 2 1 10 2 1 1 18 0 1-1 2 0-7-5-5-2-11-1-1 1z"/>
<path fill="#8418f0" d="M916 5l-2 5 0 4 14 7 5 0 1-1 5 0 2-1 0-14zM111 33l1 4 2 0 1 1 7 0 2-2-2-4-3 0-1-1zM47 59l0 1 3 2 7-1 0-1-3-1-2-2-2 0zM77 52l7 2 4-3 0-3-7 0-1 1-2 0 0 2zM168 72l0 3 5 4 4-1 3-4-1-2-3-2-4 0zM251 29l4 2 2 0 1-1 2 0 3-3-2-3-6 0-4 2zM271 52l2 3 4 0 5-2 0-3-3-3-3 0-1-1-2 1zM759 69l1 1 7 1 5-3 0-2-7-2-1 1-2 0zM772 40l-1 4 2 4 4 3 10 0 1-1 0-4 1-1 0-4 1-2-2-1-9 0-1 1-5 0zM807 40l-2-2-14 1-1 2 0 4-1 1 0 4-1 1 1 1 15 0 1 1 1-1zM769 58l2 7 5 0 5-2 4 0 1-1 2 0 0-10-13 0-3 2zM902 74l8 9 6 3 6 0 18-7 0-8-2-3-2 0-4-2-3 0-7-3-3 0-4-2-2 0zM131 123l0 4 1 1 8 0 3-2-2-5-4-2-2 0zM155 127l-1-1-9 1 0 5 2 2 2-1 5 0 0-5zM223 118l-1 5 2 0 1 1 5-1 0-4-2-1zM192 141l0 1 4 2 6 0 2-1 0-3-4-4-5 1zM318 96l1 2 7 1 1-1 0-5-6 0zM306 112l0 3 3 3 8 0 1-1 0-4-1-2-2-1-4 0-2-1zM284 123l0 3 3 2 3 0 4-2-1-5-7 0zM328 149l0 2 2 1 1-1 7 0 2-1 0-3-1-1 0-2-2-1-6 0zM367 142l8 3 4-2 0-5-1-1-9 0zM465 135l0 2 2 1 6-1-1-2-3 0-1-1-2 0zM659 106l6 0 6-3 0-1-2-2-6 0-2-1zM701 108l0 3 7 1 3-2-1-5-7 0zM685 140l0 1 6 0 1 1 2 0-1-7-3 0-3 2zM856 91l0 7 1 1 18 2 0-8-1-2-2 0-1-1-13 0zM341 168l0 1 5 5 5 0 3-5-2-3-9 0zM374 191l0 8 2 1 9-1 3-3-2-3-4 0-1-1zM372 219l1 4 3 0 5 2-1-7-7 0zM39 276l2 4 3 0 1 1 5-1 2-4-2-3-3-2-3 0zM371 236l2 1 6 0-1-6-4 0zM604 233l-5 1-1 1 0 2 5 1 1-1zM736 248l0 4-1 1 1 2 11-1-1-5zM720 274l-8 1 1 4 4 0 2-1zM717 288l-2 8 3 0 1 1 8 0 2-1-5-8-2-1-4 0zM790 249l-2 1-6 0-2 5 7-1zM909 275l3 3 5 1 4-4 0-1-3-2-7-1zM75 328l0 2 3 4 8 0 0-8-6-1zM96 328l1 1 0 4 8 0 1-1-1-4-4 0-1-1-3 0zM74 360l0 4 3 3 4 0 4-2 0-4-3-2-6 0zM181 356l1 4 2 0 1 1 5 0 1-1 2 0-1-4-2-3-5 0-1 1-2 0zM200 363l-2-2-4-1-5 2 0 4 2 2 4 0 1-1 2 0 2-2zM329 315l0 2 4 3 3 0 3-2 2 0 2-2-2-3-4 0-1-1-5 0zM256 351l5 1 2-1 2-3-1-1-5-1zM694 316l1 1 2-1 4 0 2-3-1-2-2-1-5 0zM761 314l-3-3-1 1-10 0 1 1 1 5 10-1zM713 328l-1-1-3 0-3 2-2 0-1 1 0 3 2 0 1 1 7 0zM735 352l0 8 11-1-3-8-7 0zM816 316l3 2 8 0 3-5-13-2-1 1zM865 303l-2-1-8 1-1 1 0 6 1 2 8 0 0-3 1-1zM837 321l0 1 1 0 5 5 3 0 1-1 5-1-1-3-4-3-6 0zM805 351l-2-4 0-2-1 1-4 0-2 2 3 4zM804 345l0 2 2 3 10 0 0-4zM922 303l0 5 3 2 4 0 2-1 1-2-2-4-2-1zM875 352l0 5 2 2 1-1 5-1 0-3zM159 411l0 3 3 2 7-1 0-4-3-2-3 0zM205 419l0 4 4 2 3 0 1 1 5-3-1-4-4-2-4 0zM330 415l9 1 0-6-5 0zM340 416l0 5 2 1 5 0 5-2 0-2-1-1zM378 399l4 1 3-2 2 0 1-1 0-2-9 0zM721 436l2 2 1 4 2 0 1-1 0-5-2 0-1-1zM798 421l0 1 2 1 7 0-2-3 0-2-4 0zM875 375l0 5 1 1 7-1 0-3-6-3zM914 410l-5-4-6 1-4 3 2 4 7 0zM931 436l-4-2-7 4 1 2 6 1zM112 452l-2-4-5-2-1 1-3 0-3 3 0 2-1 1 3 2 9 0zM98 483l2 4 2 1 4 0 5-7-2-1-9 0zM132 475l0 4 10 0 1-2 0-2-3-3-5 0zM119 481l-5 0-1-1-6 8 9 0 4-4zM143 466l2 4 5 0 1 1 3 0 2-3-1-1 0-3-2 0-1-1-6 0-2 1zM329 514l0 4 8 1 3-2 0-4-6 0-1-1-2 0zM691 454l0 3-1 1 1 3 4 2 4 0 2-1 0-5-1-1 0-2zM723 450l-1-1-2 0-1 1-7 1 0 4-1 1 1 1 10-1 2-2zM715 489l0 3 1 2 2 1 6-1 1-2-1-4-8 0zM771 514l-2-2-2 1-4 0 0 5-1 1 1 1 5 0 2-2zM802 460l1 5 2 1 10 0-2-4 0-2-2-2-5-1zM883 482l-2-4-4-1-5 5-1 0 0 1 2 0 3 2 3 0zM28 555l0 2 2 4 6 0 4-2 0-4-3-2-7 0zM98 563l4 4 8-1-2-7-5 0-1 1-2 0zM167 564l3 3 5 0 3-2-1-4-3 0-1-1-3 0zM259 547l2 3 2 0 1 1 2 0 4-3 0-2-4-2-5 0zM246 561l4 4 0 1 5 0 5-2 0-3-2 0-7-3-2 0zM690 585l1 3 2 2 7 0 3-6-5-2-6 0zM737 573l0 2 2 2 1-1 6 0 3-2-1-5-2 0-1-1-4 0-2 1zM761 587l0 4 11 0-1-3-3-4-5 1zM819 530l0 2-1 1 2 0 7 4 2 0 1 1 4-3-5-7zM806 564l1 1 3 0 1 1 5 1 0-4-1-1-7 0zM782 580l-1 3 8 3 0-6-1-1zM796 586l10-3-2-3-6 0zM863 588l9 4 4-5-2-2-10 0zM885 536l5 7 5 0 1-5-2-1-6 0-1-1zM935 520l-2 3 1 4 5 2 2-1 0-8zM883 562l1 3 2 2 2 0 3-2 0-2-1-1zM107 601l-2-1-4 0-4 3 0 5 1 1 4 0 5-2 1-1zM158 660l0 1 4 4 5 0 3-2-1-5-4-2-4 0zM271 620l2 3 8 0 2-4-2-2-8 0zM260 627l1 4 8 0 0-6-7 0zM744 609l1 1 8 0 1-1-2-4-5 0zM729 627l5 0 6-4-3-2-8 0zM829 611l2 3 2 0 1 1 3 0 2-4-5-2zM866 634l1 5 6 0 3-2 0-4-1-1-5 0zM798 657l0 4 1 1 4 0 4-3 0-4-7 0zM807 642l0 4 1 1 10 0 0-3-5-4-2 0zM41 674l0 3-1 1 1 1 11 0-1-1 0-2-3-3zM781 667l5 4 2 0 5-2 1-4-8-2-1 1-2 0zM375 12l5 11 6 0 1 1 7 0 1 1 2 0 1-1 5-1 3-2 2 0 2-2 0-3 1-1 2-8-2-1-23 0-1 1-8 2zM427 53l2 1 6 0 1 1 17 0 6-5-12-8-6 0-1 1-9 0zM450 78l17 1 1-1 5-1 2-5 2-2-5-3-12 0-1-1-6 0-2 2 0 8zM411 102l21 0 0-2 1-1 0-6-2-1-14 0zM527 83l0 1 2 0 1 1 5 0 0-5-4-1 0 1zM415 132l1 1 11 0 2 1 3 4 1-1 0-2-3-4-14 0zM768 122l5 5 2 1 4 0 2-1 1-3 3-4-2 0-1-1-5 0-1-1-6 0zM670 136l0 2-1 1 1 1 6 1 4 2 2 0 1-1-4-3-1-4-7 0zM767 149l-1-2-6 2-1 2 1 1 4 0zM827 111l0 2 15 0-3-3-2 0-1-1-7 0zM916 142l-5-9-2 1-10 1 3 8 13 0zM135 176l0 6 13 0 2-2-2-3-11 0zM166 217l-2-2-2 0-1 1-12 0 1 5 1 1 11 0zM177 217l5 4 9 0 4-3-1-2-7-1-1-1-6 0zM304 181l-11 1-1 1 0 4 8 0zM645 153l-5-5-11 4-3 0-2 1 2 5 5 4 7 0 6-6zM680 182l-2-7-2 0-1 1-6 0-2 2 0 3zM799 174l1 1 10 0 1-2 0-4-11 0 0 4zM837 156l4 3 8 0 1-1 3 0 1-1 0-3-4-3-9 0zM910 166l-3-3-2 0-1 1-8 1-2 1 0 2 1 1 1-1 6 0 1-1 6 0zM882 213l0 3 2 1 10 0 1-5-1-1-10 0zM108 257l3 0 5 2 2-5-8 0zM216 240l-1 1-6 0-1 1-2 0-2 4 2 1 2-1 7 0 2-1zM162 289l-9 1-1 1-2 0 0 1 7 1 1 1 4 0zM294 254l0 9 7 0 1-1 4 0 2-1 1-6-12-1-1-1zM871 224l-1-1-6 0-1 1-7 0-1 1 16 0zM149 294l1 1 0 5 2 1 5 0 1-1 2 0 0-4 1-1-8-1-1-1-2 0zM262 298l0 1 4 3 9-1 1-2 0-4-7-1-5 2zM280 307l0-4-4-2-1 1-4 0-5 2 0 1 5 5 3 0zM209 338l0 1 2 0 1-1 5 0 1 1 2 0 4 4 1 0 0-4-7-5-1 1-3 0zM304 318l-2-1-6 1-1 1-2 0-2 3 2 2 8 0zM629 310l-6-3-2 1-10 0-3 3 0 7 2 0 3 2 11 0 1-1 2 0 3-2zM668 326l0 2 5 4 4 0 1 1 4 0 2-1 0-2-4-4zM669 339l3 2 9 0 2-1 2-3-3-3-9-1zM403 147l1 2 0 5 5 2 37 0 1-1 0-4-3-2-5-1-3-2-2 0-7-3-4 0-1-1-4 0-1-1zM492 175l6 9 2 0 1 1 5 0 1 1 10 0 1-1 9-1 0-7-8-3-26 0zM488 222l0 1 5 3 8 0 1 1 21 0 1-1 2 0 2-3-1-2-3-1-4-3-2 0-4-2-9 0-1-1-8 0zM404 232l0 5 7 2 3 2 10 0 1-1 24 0-2-4-2-1-2 0-3-2-10-1-1-1-4 0-1-1-5 0-1-1-5 0-1-1zM481 320l0 4 14 1 1 1 6 0 2-1-6-6-11-1-1 1zM446 359l0 1 4 0 1 1 12 0 1 1 2 0-1-4-3 0-1-1-10 0zM452 411l1 1 3 0 1 1 3 0 1 1 3 0 5 2 11-1-4-6-22-1zM478 410l3 5 2 1 5 0 1 1 9 0 4-4-7-3-5 0-1-1-10 0zM678 415l2 4 2 0 1 1 7 0 1 1 4 0 2-5-2-1zM648 419l1 1 0 2 2 2 4 0 1 1 13 0 1 1 3 0 0-4-8-1-1-1-8-1-1-1-6 0zM674 422l0 4 7 3 21 0 0-2 1-1-1-2-2 0-4-2-5 0-1-1-7 0-1-1-2 0-1 1zM472 450l0 2 4 3 7 0 1 1 14 1 1 1 5-3-4-3-6 0-1-1-20 0zM476 456l0 4-1 2 2 1 2 0 4 2 11 1 1 1 4-2 1-6-2-1-7 0-1-1-6 0-1-1z"/>
<path fill="#5010e8" d="M14 16l0 3 3 4 9-2 0-4-2 0-5-3-3 0zM168 35l1 2 3 2 4 0 2-1 1-2-1-3-2-1-6 1zM224 57l3 4 5 1 3-2 1-6-9 0zM322 41l-2 4 0 3 4 3 3 0 3-4-1-6zM631 65l0 2 3 3 4 0 3-2 0-2-4-3-5 0zM747 77l1 1 8 0 2-4-2-2-9 0zM835 17l-3 2-2 0-5 3-4 1 0 4 4 2 8-1 2-5zM827 30l0 5 12 7 7-5 0-1-12-8-1 1zM876 78l-1 2 0 9-1 1 13 0 1-1 3 0 1-3-3-6-8-1-1-1zM19 108l-5-3-1 1-6 0 0 4 6 3 4 0 2-2zM63 147l0 3 2 1 9 0 1-1-1-4-2-2-6 0zM167 118l-1 2 0 5-1 1 10 0 2-1 0-4-2-2-2 0-1-1zM145 138l1 1 0 2 7 0 5-5-3-2-6 0-2 1zM319 88l0 3 1 1 7 0-3-5-4 0zM318 118l1 4 2 2 6 1 3-2-5-6-2 1zM356 136l0 5 4 2 5 0 2-2 0-2 1-1 0-2-4 0-1-1zM701 124l1 1 10 0 3-6-2-1-9 0-3 2zM742 154l1 1 0 2 2 2 7-1 0-4-1-1-4-1zM851 105l-2 7 9 1-1-3-5-5zM27 179l1 5 10-3 0-3-4-2-3 0zM111 162l2 3 7 2 6-6-4-3-4 0-1 1-3 0zM65 192l-2-2-3 0-1 1-2 0-2 2 0 2 2 2 5 0 2-1zM331 212l2 2 2 0 3 2 2 0 2-3 0-2-2-2-2 0-1-1-3 1zM386 199l1 1 1 5 10 2-1-2 0-7 1-2-9 0zM380 209l-3-2-4 1-2 5 8-1 1-1zM692 196l2 3 2 0 1 1 4 0 2-2-2-2-4 0-1-1-3 0zM745 226l-1 2 0 2 1 1 5-1-1-4zM750 224l0 4 1 2 5 2 9-1 3-3-1-3-3-3-6 0-4-3-3 2 0 2zM26 243l1 4 12-1 0-3-5-3-6 1zM328 286l1 3 3 2 5-1 0-5zM718 254l1 1 8-1 0-3-4-2-3 0 0 2zM761 242l0 5 9 1 2-2 0-4-1-1-6-1zM759 294l0 6 2 3 9 0 1-5-3-4-5 0-1-1-2 0zM788 253l0 2 1 1 7-1-1-5-5 0zM799 280l-2 5 6 1 3-5zM818 295l-6-1-5 3 0 2 2 3 6 0 3-3zM935 274l1 4 2 2 3 0 0-6zM228 352l0 7 2 1 7 0 1-5-4-3zM338 340l-1-1-2 0-1 1-5 1-1 2 1 2 7 0zM387 345l4 5 6 0 2-2-1-1 0-2-4-2-3 0zM760 317l-1 1 0 4 1 2 4 2 4 0 2-5-3-2zM691 327l-5 1 0 4 1 1 5 0zM753 345l0 3 3 3 2 1 5-2 0-3-9-1zM770 304l3 6 5 0 1-2 0-4-1-1-7 0zM771 327l1 1 0 7 6 0 3-2 0-2 1-1-1-2-2-1zM805 352l1 5 1 1 4 0 4-2 1-5-10 0zM896 320l2 4 0 2 6 0 4-2 0-3-3-2-6 0-1 1zM146 416l-1-1-7 1-2 1-1 2 4 3 4 0 3-2zM192 393l0 2 2 3 8 0 2-3 0-3-4-2-4 0zM178 419l2 4 4 0 4-2 0-3-2-2-6 0zM190 441l-6-4-5 2-1 4 3 3 4 0 1-1 2 0zM332 386l-2-3-4 0-5 3-1 2 4 2 5 0zM331 394l0 5 3 2 5 0 3-2 0-4-2-2-8 0zM840 375l-2 0-1 1-7 0-1 1 0 5 2 0 1 1 5 0 2-1 2-3zM817 383l-1 4 3 3 6 0 1-1 0-5-2-1zM793 396l-7 3 4 7 3-1 3-5 0-2zM807 410l-8 3-1 1 1 2 2 1 5 0 2-1zM838 408l-4-2-2 1-5 0 0 3 2 4 8 0 1-1zM872 400l-7 2 2 5 5 1 3-2zM133 447l0 4 4 3 5 0 1-1 1-5-2 0-4-2-1 1zM122 461l-3-3-4-2-1 1-5 0-1 2 0 4 1 1 2-1 11-1zM122 463l-11 1-2 1 0 2 2 3 5 0 4-2zM87 472l-1 7 7 1 5-2 0-2 1-1-5-3zM135 513l0 4 2 1 3 0 5 2 2-3 0-2-2-3-2-1-3 0-3 2zM239 495l0 4 1 2 2 0 1 1 5 0 2-2 0-5-2 0-1-1-5 0-1 1zM219 504l-2 3 0 3 2 0 1 1 5 0 2-3 0-2-2-2zM343 509l1 2 8 0 1 1 4-2-1-3-2-2-3 0-1-1-3 0-3 2 0 2zM363 481l1 1 0 3 2 3 7-1 2-4-1-2-2-1-7 0zM641 450l0 1 4 3 6 0 2-1 0-5-3-2-5 0-2 1zM753 447l-4-1-8 4-2 0-1 2 6 7 3 1 6-3 2-4-1-1zM771 490l2 3 9 0 0-6-7 0zM846 485l-5-6-12 6-4 1 0 5 2 1 14 1zM912 488l-1 1 1 5 1 1 1-1 3 0 2-3zM872 506l2 0 4 2 7-4-2-2-7-1-4 4zM159 547l0 2 4 3 6 0 1-2 0-3-4-2-4 0zM704 536l-1-1-2 0-1 1-6 0-2 3 2 2 6 1 4-4zM703 533l2 3 2 0 4 2 2 0 4-3-4-7-7 0zM773 537l-1-2-11 1 1 5 8 0zM690 563l5 4 1-1 4 0 3-4-2-2-8-1-2 1zM750 554l0 5 9-1 0-4zM714 575l1 2 0 4 2 0 1 1 6 0 1-1 0-6zM815 556l0 5 1 1 8-2-2-4zM841 548l0 2 3 0 1 1 8 0-2-5-2-1-6 0zM864 545l0 3 4 2 10-1-1-1 0-4-7 0-1-1-3 0zM920 560l0 2-2 3 4 2 4-1-1-5zM26 654l0 1 3 2 6 0 3-2 0-4-3-2-5 0zM213 651l2 3 3 0 1 1 3 0 5-2 0-4-5-2-4 0zM298 594l-4-3-2 1-4 0-2 3 0 2 10 2 2-3zM250 655l-1 1 0 4 4 3 3 0 2-2 0-5-1-1zM728 599l-2-1-10 1-1 1 0 5 8 2 3-2 2-4zM754 597l-7 2-1 1 0 2 2 2 3 0zM763 631l3 0 1 1 4-3 3-4-3-2-6 0-2 2zM763 632l-2 7 2 1 6-1 1-1-1-1 0-3-3-2zM876 632l1 1 0 4 2 1 4 0 2-1 1-2 0-3zM922 647l8 1 4-3 0-2-1-2-2-1-6 0-2 1zM692 676l0 2 2 2 4 0 1 1 6-4-3-4-8 0zM702 667l2 2 6 0 2-1-2-5-6 0zM852 670l5 3 6 0 3-2-1-4-2-2-7 0-2 1zM336 5l2 0 10 5 13 0 1 1 13 0 1-1 0-5zM351 63l-9-10-11 4-3 0-2 1-1 2 0 2 1 1 3 0 1 1 3 0 5 2 4 0 1 1zM480 49l11 5 14 0 3-3 0-2-14-6-6 0zM472 66l5 3 15 0 5-4-3-6-4-5-2 0-3-2-7-2zM474 76l0 1 2 0 4 2 3 0 4 2 3 0 4 2 3-3-4-8 0-2-15 0zM361 84l15 10 11 0 3-3-4-8 0-2-2-2-2 0-4-2-3 2-5 1-3 2-2 0zM326 112l0 3 2 5 5 5 5 2 3 0 1 1 4-1 1-1-1-4 2-3 6 0 6 3-2-4 0-3-2-3-4 0-1-1-4 0-1-1-4 0-1-1-4 0-1-1-5 0zM430 130l4 5 4-3 7-2-5 0-1-1-4 0-1-1zM667 126l5 2 1-1 6-1 0-2-1-2-8 0zM782 128l4 0 1 1 7 1 4-4 1 0 0-2-3-5-9 0-4 5zM685 133l-2-3 0-2-3-2-1 1-8 2 1 1 0 4 7 0 2-3 4 3zM105 209l-4 0-1-1-2 1 1 1 0 3-2 4 1-1 8-1 1-2zM162 192l1 2 5 4 2-1 7 0 2-3-1-2zM181 213l5 0 1 1 7 1 2-3-4-3-8 0-2 1zM310 181l5 0 3-2 2 0 2-1 0-2-1-1-9-1-1 1 0 4zM323 175l0 3 3 2 6-3 0-2-3 0-1-1zM626 174l0 7 1 1 0 2 3 0 1 1 12 0 1 1 2-1 0-10-17 0-1-1zM796 157l2 6 7 0 1-1 3 0 2-3 0-2zM857 176l6 4 9-6-8-6-5 0-1 1 0 6zM933 171l-5-7-3 0-1 1-8 0-1 1-4 0-1 1-1 5 6 3 2 2 2 0 1-1 5 0 6-3zM812 176l0 5 1 1 10 0 3-5 0-1-2 0-1-1zM824 182l2 2 10-2 2-3 0-3-11 0zM798 214l0 4 2 4 2-1 9 0 1-3 2-2-8-1-5-2-2 0zM895 199l2 5 8 0 3-5zM126 254l3 6 2 0 1-1 6 0 1-1 0-4-6 0-1-1-4 0zM131 266l-4-2-1 1-7 1 2 5 5 1 2-1zM192 238l8 2 3 2 4-1-5-5-6 0zM210 282l0 5 3 0 1 1 8 0 2-2-2-5-10 0zM208 288l1 6 2 1 5 0 5-2 0-3-1-1zM322 231l-1 2 0 5 4 1-1-2 0-4 1-1-1-1zM278 285l1 2 2 1 3 0 5 2 3-1-1-4-3-2-7 0zM624 256l4 0 1 1 14 2 6-6-3-4-3-2-12 0-1 1-3 0-2 2zM109 320l0 2-1 1 2 3 11 1-1-7-2 0-1-1-6 0zM161 296l0 4 1 1 5 0 1-1 2 0 0-6-6 0zM182 307l0 4 2 0 1 1 5 0 1 1 0-4 1-2-7 0-1-1zM251 316l3 0 1 1 10 0 3-6-2-1-8 0-7 4zM333 300l0-4-1-2-3 0-1 1-7 0-2 1 6 4 3 0 1 1zM630 310l0 3 2 5 19 0-1-1 0-3-2-5-15 0-1 1zM670 309l-3-3-2 0-1 1-11 0-1 1-2 0-1 2 3 8 13 0 2 1 0-3zM446 287l0 1 2 0 1 1 19 1 1 1 10 0 1 1 1-1 1-7-10-1-1-1-5 0-1-1-5 0-1-1-7 0zM505 369l3 4 2 0 1 1 10 0 1 1 1-1 2 0 1-2-2-2-3 0-1-1-12 0-1-1zM499 380l0 1 7 4 12 0 1 1 1-1-3-4-6-1-4-2zM441 426l2 3 2 0 4 2 6 0 1-1 13 0-7-7-5 0-1-1-8 0-5 2z"/>
<path fill="#1818f0" d="M17 40l1 4 2 2 6 0 2-2 0-4-4-2-3 0zM99 25l0 6 9 1 3-4-1-3-3-2-4 0zM66 40l-7 2 0 3 7 1zM57 53l3 5 4 0 2-5-2 0-1-1-5 0zM64 70l-1-1-1 1-9 1-2 2 0 3 4 2 9 0zM159 57l0 5 4 2 3 0 4-3-2-4-3 0-1-1zM205 62l2 0 1 1 6-1 1-1 0-3-4 0-2-1-3 2 0 2zM216 58l0 4 4 2 7-2-4-5-6 0zM235 61l4 2 5 0 4-3 0-2-1-2-10-2-1 6zM298 25l-6-4-6 4 0 4 1 1 8 0 2-2zM323 14l-8 7 0 2-1 1 0 5 4 7 4 4 6 0-2-4 0-14 3-5 0-3zM321 40l-1-1-2 1-9 0-2 1 0 3 1 1 9 0 2 1 2-4zM576 32l-2 5 1 2 4 2 7-1 0-3 1-1-5-5-2 1zM633 85l0 2 5 2 5 0 3-2-4-6-6 0zM808 28l-3-2-17 1-1 1 1 2 0 7 1 1 10 0 1-1 4 0 2-3 0-2zM842 49l1 1 12-1 9-12-17 0-7 6 1 1zM879 19l-1 5-1 1 0 3-1 1 0 3-1 1 0 2 4 4 10 1 1 1 5 0 1 1 5 0 1 1 5 0 1 1 4 0 1-1 4-18-7-9-2 0-1-1-8 0-2-1-11 4zM144 99l3 4 5 0 1-1 2 0 1-2-1-1 0-3-2-1-5 0-2 1zM159 154l0 5 2 0 7 3 1-2 0-4-3-3zM284 96l0 4 1 1 7 1 3-2 0-3-2-2-4-1zM668 92l2 2 8 0 2-3-2-3-7 0-2 1zM680 133l-1 4 2 3 3 1 2-5zM838 102l2 3 8-1 0-2zM840 106l-1 2 1 2 4 2 4 0 2-7zM133 162l2 5 5 1 5-2-1-4-2 0-1-1-7 0zM108 169l1 5 3 0 8-3-1-1 0-2-5-2-2 0zM85 202l0 4 1 1 2 0 4 2 2 0 3-2-2-3 0-4-6-1zM379 184l-4-4-10 3 2 5 2 2 3 0 1 1 4-3zM365 203l2 3 2 0 1 1 5 0 1-1 0-5-1-1-6 0zM377 201l0 5 1 1 3 1 1-1 5-1-1-6-6 0-1 1zM682 170l-2 0 0 2-1 1 1 7 5-3 0-5zM701 171l0 3 4 2 8 1 2-2-6-7-2 0-1-1-1 0zM710 167l1 3 5 5 5-2 1-5-8-1-1-1-1 1zM735 214l2 4 6 0 0-5-6 0zM31 256l-1 2 1 4 2 0 4 2 2 0 5-4-1-1 0-2-6-3zM40 244l6 4 4 0 2-1 1-2-1-2-4-2-4 0zM329 232l-1 5 7 1 0-6zM345 262l0 6 8-3 0-2-2 0-4-2zM343 272l3 6 2 2 4 0 1-1 1-5-2-1-4 0-1-1zM346 298l0 5 2 1 6 0 1-1-2-3 0-2zM360 240l0 2 2 1 7-1 0-4-2-1-3 0zM370 237l0 5 2 1 7-1 1-2 0-2-7 0-1-1zM396 238l0 5 4 1 1-5 1-1zM364 271l3 1 3-5-6 0zM748 241l0 6 12 0 0-5-4-3-5 0zM787 285l1 1 0 4 7 0 2-4-5-1-1-1zM769 294l3 4 7-1-2-4-5-1zM787 291l1 5 5 0 2-1 2-3-1-1zM868 294l-3 3-1 5 2 1 6 0 4-4 0-3-2-2zM875 236l4 4 5 0 4-4 0-1-2-3-9-1 0 2zM927 250l3 6 5-2 0-4-4 0-1-1-2 0zM874 272l0 2 3 4 4 0 4-2 0-4-1-1-6-1zM914 264l-3 4 0 2 3 0 1 1 5 1 2-2-3-5-4 0zM178 363l1 5 7 0 2-1 0-5-6-1zM204 369l1 4 7 0 1-6-5-1zM300 350l2 1 5 0 2-4-8 0zM329 348l0 2 3 2 3 0 1 1 2-2 0-3-4-2-4 0zM414 329l-4 5 2 3 2 0zM356 361l-1 4 2 3 6 0 3-2-3-7-5 0zM692 327l1 5 9 0 0-3-2-2-5-1-1-1zM819 305l-1 5 2 1 7 0 2 1-2-7-2 0-1-1zM854 334l3 0 1 1 7 0 2-3-5-5-7 0zM840 347l0 3 1 1 3 0 1 1 6 0 2-1-4-7-5-1zM786 368l0 1 2 1 7 0 2-2 0-3-6-1-1 1-2 0zM941 339l-5 0-1 1-5 1-1 1 0 7 6 3 1-1 5-1zM122 441l3 4 4 1 4-3 0-2 1-1-4-2-4 0zM239 404l0 2 1 1 11 0 0-3-3-3-6 0-2 1zM248 379l0 3 1 1 9 0 2-4-1-2-2-1-6 0zM282 383l0 4 2 2 6 1 3-2 0-4-2-1zM307 387l1 3 2 0 1 1 4 0 3-2 2 0-1-1 0-2-4-2-7 1zM342 388l1 1 0 2 2 0 1 1 7 0 1-2 0-2-3-4-6 0zM247 437l1 2 7 0 1-1 2 0 1-4-4-2-5 0zM413 377l0 4 1 1 2 0 3 2 5-2-1-6-4 0-2-1zM391 425l-1-2-2 0-1-1-1 1-5 1-4 4 7 3 3 0 4-3zM809 435l-1 6 7 1-1-2 0-4-1-1zM824 441l-3 0-1 1-5 1 0 3 2 0 1 1 5 0 2-1zM842 443l0 3 4 0 1 1 9-2-2-4-5-2-3 0zM879 446l-1-1-1-5-4 0-1 1-6 0-3 4-1 3 16 0zM932 436l-3 4 8 4 2-3 0-2-2-3zM100 456l0 2-1 1 1 3 2 0 1 1 4-1 1-6zM77 474l0 2-1 1 1 1 8 1 1-7-6 0zM100 506l1 4 4 2 2 0 1-1 5 0-1-3-3-4-6 0zM142 507l2 4 8 0 2-3-2-4-7 0zM377 503l1 1 4 0 1 1 6 0-2-8-6 0zM679 504l0 3 2 3 4 0 1 1 2 0 1-1-1-6-1-1-7 0zM703 515l0 2 1 1 6 0 1-1 0-3-1-1-6 0zM866 465l-2 0-1 1-5 0 1 5 1-1 5-1 1-1zM875 470l7-1 3-4-1-1-9 0-1 1 1 1zM919 476l-1 3 3 3 3 1 3-6-6 0zM921 496l1 5 3 2 2-1 5 0 1-2 0-2-6-4-1 1zM122 520l4 6 4 0 2-1 0-2-2-3zM109 547l4 3 3 0 1-1 3 0 2-3-4-2-2 0-3-2-2 0zM109 559l2 7 2-1 5 0 1-1 0-4-2-1zM121 572l0 2 1 1 4 0 1 1 4-3 0-2-3-2-4 0zM389 523l1 1 0 2 3 2 3 0 4-2 0-4-1-1-9 0zM773 531l-3-2-4 0-1 1-2 0-2 5 11-1zM689 544l3 6 7 0 3-5-2-2-6-1-1-1zM858 521l-3 5 8 3 3-4-3-4zM855 540l-5-4-1 1-2 0-3 2 0 5 5 0 2 1 4-3zM819 585l-1 6 5 2 2 0 4-2 0-5-3-2zM926 561l1 5 8 0 0-2 1-1-6-3zM890 582l0 5 2 2 7 0 3-4-3-2-7 0zM936 583l-4-2-2 1-5 0-2 4 3 4 5 1 5-2zM15 603l3 4 9-2-2-4-4 0-1-1zM55 649l-1 2 0 2 3 2 6 0 1 1 1-1 1-4-2-2-2 0-1-1-4 0zM147 610l0 2 3 2 6 0 2-2-1-5-7 0zM285 644l1 2 3 0 1 1 3 0 3-2 0-2-2-2-7 0zM284 658l0 2 2 3 4 1 1-1 5-1 0-4-2-2-4-1-1 1-3 0zM728 620l-8 1 1 6 7-1zM735 627l3 4 3 0 1 1 6-3-1-3-4-3zM727 639l-2 0-1 1-7 0-1 1 0 4 3 2 4 0 1 1 1-1zM749 648l0 4 3 2 5 0 3-3 0-3-1-1-9 0zM771 605l6-1 3-3 0-3-8 0-1 1zM831 603l-1 1-5 0 0 6 5 0 2-1 0-4zM785 617l6 5 1-1 5-1 0-5-7-1zM851 615l-2-2-2 0-3 2-4 1 0 3 2 3 6 0 3-5zM923 618l1 4 2 1 5 0 2-1 0-5-2-1-3 0zM158 672l0 5 8 1 3-3-2-4-7 0zM178 676l0 3 3 2 5 0 4-2 0-3-2-3-7 0zM410 20l3 0 1 1 9 0 1 1 8-7 0-2-3-4-3 0-1-1-11 0-3 8 0 3zM446 8l-16 1 0 1 3 4 7 1zM370 106l7 0 1-1 14-1-5-9-12 0 0 2zM401 108l6 7 21 0 7-10-3-2-23 0-8 4zM531 126l-2-2-8 6-3 0-2 2 9 0 1-1 2 0-3-3 1-1 4 1zM650 135l1 1 0 6 2 0 1 1 1-1 7 0 1-1 3 0 2-1 1-2 0-2-7-1-1-1-4 0-1-1-4 0zM666 142l5 7 11-1 1-2-4-3-6-1-4-2zM847 124l2 1 10 0 10-4-5-5-4 0-1 1-10 0-1-1 0 7zM105 202l1 5 15-1 0-2-2-4-10-1-1 1-2 0zM120 207l-14 1 0 2 2 4 4 0 1 1 1-1 4 0zM148 184l0 3 1 1 4 1 3 2 6 0 1-3 2-2 0-1-4-3-5 0-1-1-5 0zM208 176l-1-1-2 0-1 1-2 0-1-1-4 2-3 0 0 1 4 3 5 0 3-2zM239 175l-1 8 13-1 2-1-1-1 0-3-4-3-7 0zM237 197l-3 0-6 3-2 0-1 2 2 2 6-1 4-4zM269 203l1 3 5 0 1 1 3 0 4-2 0-3-1-1-12 0zM284 201l0 5 2 1 10 0 1-1-1-5-7-2-3 2zM297 201l0 3 2 3 4 0 1-1 5 0 2-1-1-5-9-1zM324 198l-3 9 6 3 4 0 4-7 0-4-1-1zM599 174l7 0 2-1 2-5-11-1zM626 168l0 5 2 0 1 1 18 0 0-8 1-1-6-1-1-1-9 0-5 5zM764 153l1 3 2 1 6 0 4-3 0-2-2-1-5 0-1-1-2 0zM812 169l0 4-1 2 10-1 0-5zM855 161l-1-2-12 1-2 4 5 3 1-1 9 0zM838 191l1 1 11 0 0-4-8 0zM922 197l4 2 6 0 1-1 5 0 1-1-1-1 0-2-4 0-1-1-4 0-1-1-2 0zM217 240l1 5 7 4 13-1 2-5 0-2-6-4-7 0-1-1-2 0-1 1-5 1zM266 229l-4 0-1 1-8 0-2 1-1 2 2 4 11 1 3-3zM162 249l1 4 4 2 1-1 5 0 1-1 4 0 2-1-1-2-3-2-5 0-2-1-1 1zM182 263l0 8 4 1 1-1 5 0 1-1-5-7zM161 272l1 4 2 0 1 1 7-1 2-1 1-2-5-1-1-1-3 0-1-1zM647 219l-1 2 0 8 1 1 8 3 8 0 4-11zM637 240l1 1 1 5 4 0 1 1 2-1 0-4 1-1-2-1zM815 223l0 2 2 0 3 3 0 2 2-1 8 0-3-6zM895 229l7-4 6 0 1 1 0-2-13 0zM117 308l0 3 2 2 9 0 1-1-1-4zM132 319l1 7 10 0 1-1 4 0 1-1 0-4-2 0-4-2-9 0zM241 333l-1-1 0-4-5-2-7 2-6 3 7 3 9 0 1-1zM301 313l2 4 2 1 4 0 1 1 3-5 0-1-2-1-8 0zM638 301l-1-1-1 1-7 1-5 5 2 0 3 2 7-1 1-1zM446 177l0 1 2 0 16 6 3 0 1 1 19 1 1-1 6 0 1-1 2 0-6-9-10-1-1-1-6 0-1-1-6 0-1-1-6 0-1-1-10 0 0 2zM464 303l8 7 10 1 6-3 2 0 0-1-6-1-4-2-5 3-4 0-2-1-2-3zM465 312l0 1 4 2 5 1 6 3 8-2-5-4-5-1-1-1-10 0zM655 344l0 1 10 2 4 2 3 0 4-3-3-2-2 0-4 2-4 0-2-1-2-3zM680 366l0 8 17 0 1 1 1-1 2 0 0-2-2-2zM699 395l1 2 3 2 5 0 1 1 4 0 1 1 7 0 2-1 0-2 1-1-5-1-1-1-3 0-1-1-5 0-1-1-5 0zM442 377l0 1 3 2 9 0 1-1 7 0 1-1-1-4-16 0zM468 394l0 6 14 1 1 1 1-1 10 0-5-5-18-1-1-1zM463 423l7 7 2 0 1 1 22 1 0-2 1-1 0-1-8-4-7 0-1-1-2 1zM449 441l6 3 2 2 5 0 1 1 6 0 11-5-3-2-4 0-1-1-10 0-1-1-9 0-2 1zM696 414l0 1 2 1 10 2 8 3 4-3-5-4-7 0-1-1-10 0zM703 430l4 0 1 1 9 0 0-3 5-4-1-1-10 0-1 1-4 0-2 1zM449 481l0 4 5 1 1 1 8 1 1 1 12 0 2-3 0-1-6-5-18 0-1 1z"/>
<path fill="#50f020" d="M29 58l-1 3 1 2 7 2 4-3-1-1 0-4-7-1zM17 75l0 4 1 1 5 0 5-3-1-3-2-1-4 0zM67 40l0 6 7-1 0-5zM76 63l3 6 2 1 3-1 0-5-2-1zM290 17l-5 0-2 2 0 5 2 1 2-2 3-1 2-2zM607 79l-2 0-1-1-6 3 0 2 3 3 5 0 1-1zM774 15l-1-1-2 0-3 2-7 2-1 1 1 1 0 2 1 1 6 0zM836 17l-1 11 12 8 21 0 1-1 4 0 2-3 0-3 1-1 0-3 2-6-7-6-32 0zM790 63l0 13 11 0 2-4 0-2 2-3 0-2-6 0-1-1-5 0-1-1zM26 156l2 3 2 1 4 0 4-2 0-4 1-2-9 0zM102 120l-1 1 1 4 3 2 5-1 3-4-3-3zM62 152l1 5 1 1 5 0 1 1 1-1 2 0 2-2-1-1 0-3-9 0-1-1zM101 156l0 2 2 0 1 1 3 0 1 1 4 0 1-1-3-6-8 1zM165 138l-1-1-5-1-5 5 0 1 2 2 6 0 3-2zM309 105l0 3 2 1 4 0 1 1 3 0 1-1 0-4-3-2-7 1zM345 130l0 2 1 1 8 1 2-5-7 0-1 1zM340 144l1 6 3 2 8-3-1-5-7-1-1-1zM620 98l-4-2-6 1-1 1 0 5 2 2 1-1 5 0 1-1 2 0 1-2zM622 108l10 3 1-5-9-1zM656 91l4 2 3 0 1-1 3 0 1-4-2 0-1-1-7 0zM634 112l8 5 0-5zM647 111l1 1 0 4 1 2 1-1 6-1 2-2 0-1-2 0-1-1zM735 91l0 4 8 1 4-2 0-3-2-2-2 0-1-1-4 0zM736 115l-3-2-7 1-2 5 1 1 1-1 9 0 1-1zM693 150l0 3 6 0 1-1-1-4-5 0zM773 100l-1 5 5 1 1 1 2-1 1-2 0-3-3-2zM786 107l4 4 3 0 4-3 4-1 0-4-1-2-11-1zM916 87l-5 10 2 0 13 5 3 0 4-4-10-12-1 1zM64 217l11-2 1-1-1-4-3-2-5 0-3 4zM75 216l3 4 5 0 0-5-7 0zM215 170l0 1 3 0 1 1 4 0 2-1-2-3-2 0-1-1-4 0 0 2zM306 173l1 2 2 0 6-5 2 0 0-1-4-2-4 0zM317 167l1 3 2 1 10-1-1-2zM331 170l2 3 0 3 10 1 2-2 0-1-5-5-7 0zM329 180l0 1 5 4 8-3-1-4-3 0-1-1-4 0zM326 182l0 8 2 3 4-1 2-3 0-3-5-4zM365 163l0 6 2-1 7 0 2-1-1-5-2-2-5 0zM375 160l3 8 8 0 2-2 1-5-2-2-6 0-1-1-2 0zM736 178l0 3 4 2 6-1 0-2 1-1-3-2-6 0zM743 200l2 3 0 2 5 2 3 0 0-2 3-4-1-2-11 0zM701 226l0 4 6 0 2 1 5-3-1-3-2 0-1-1-4 0zM805 227l2 3 5 0 3-4-2-1-5 0zM352 281l-4 0-1-1-1 1-5 0-3 3 0 5 7 4 8-3 2-4zM693 244l0 3-1 1 0 2 1 1 3 0 4-2 0-4-1-1zM747 251l1 1 0 2 5 1 1-1 3 0 2-2 1-4-13 0zM744 261l9 0 1-2-2-3-5-1zM715 302l6 4 6-4 0-4-8 0-2-1zM817 242l0 5 9 0 1-1 2 0-2-5-9 0zM852 240l-8 2-1 1 0 2 2 1 7 0 1-2zM788 274l-2-1-1 1-5 0 0 5 8 0zM806 297l0-2-2-3-7 1-1 2 1 2zM67 314l0 4 4 3 2 0 4-2 0-2-3-4zM99 347l2 4 7 0 1-1 0-5-9 0zM145 364l2 2 2 0 1 1 6 0 1-5-2-2-6 0zM267 338l2 4 0 2 5 0 2-1 0-2-4-2zM693 321l10 0-2-4-7 1zM682 326l3 2 1-1 6-1 1-2-2-3-6 0zM704 314l-2 2 0 2 2 3 3 0 2-5-2-2zM746 334l-1 5 5 2 4 0 2-1-3-6zM854 335l-2 7 8 1 1 1 3-4-1-4zM827 369l-1-1-5-1-6 4 0 4 1 1 4 0 1-1 6-1zM330 430l0 2-1 1 0 2 5 3 6-1 0-3 1-1-1-2-2-1zM404 414l-1 1-4 0 0 4 4 3 4-1 2-3zM782 383l0 4 2 2 7 0 2-2 0-4-2 0-1-1-5 0-1 1zM805 399l8 1 1 1 2 0 1-1 0-2-3-5-4 0zM808 408l0 4 2 4 6 0 4-2 0-2-2-4-2-1zM885 398l4 3 1-1 5-1 2-3-3-2-7 0zM900 436l3 4 3 0 3-2-5-4zM122 460l1 2 6 1 6-3 2-3 0-2-1-1-9 0zM143 481l2 2 5 0 3-6-9 0-1 1zM162 473l0 5 3 0 5-2 0-3-1-1-6 0zM678 514l1 4 2 1 7-2 0-5-2 0-1-1-5 0zM772 465l-1 6 8 1 2-7zM821 513l0 2 4 3 2 0 5-2 4 0 3-5-3-3-10-2zM930 454l0 1 9 2 2-1 0-7-1-1-6 0zM931 469l4 3 1-1 5 0 0-6-7 0-2 1zM885 505l-7 4-1 5 3 4 7 1 5-3 3-6-4-3zM282 551l-4 0-4 2 0 5 2 2 3 0 1 1 5-4 0-4zM682 529l-1 2 0 3 3 2 2-1 4 0 0-4-2-2zM830 539l1 3 4 3 7 0 1-1 0-5-4-2-5-1zM798 556l-2-2-3 2-4 1 4 4 4-2zM865 550l-1-1-3 0-1 1-6 1-1 1 0 4 1 2 2 1 5 0 2-2 3-1zM884 534l0 1 3 0 1 1 6 0 1 1 2-1 0-4-3-4-5 0zM879 536l-1 2 0 5 1 1 2 0 4 2 4-2-6-9zM910 543l-2-2-6 5 0 2 4 0 1 1 1-1 2 0zM41 637l1 2 2 1 8 0 2-4-2-2-9 0zM88 646l0 1 4 2 3 0 4-2-1-4-3-2-4 0zM177 650l-2-1-4 0-4 4-1 3 2 0 1 1 7-1 1-1zM803 613l2 1 8 0 2-3-1-2-10 0zM866 640l0 2-2 4 3 2 7 1 2-3 0-3-4-3zM88 676l0 2 5 3 6-3 0-4-9 0zM449 29l-2 12 13 9 17 0 4-2 7-6 0-3-4-10zM513 72l-3-8-2-1-10 2-3 3 5 1 10 4 2 0zM641 145l0 3 4 4 5 0 1-1 5 0 1-1-4-7-4 0-1 1zM850 126l7 9 4 0 1-1 4 0 1-1-1-3-4-3-2 0-1-1zM134 184l3 4 2 1 1-1 5 0 2-1 0-3 1-1-14 0zM163 191l16 0 1-1 0-3-4-2-8 0-4 3zM309 213l2 3 8 0 5-6-3-2-7 0-3 2zM811 184l3 4 4 3 4 0 3-2 0-5-1-1-12 0zM817 191l-13 1-2 1 0 5 9 0 3-2zM862 192l1 6 4 2 16-1 3-2-1-5-4-3-14-2zM180 221l0 6 3 2 5-1 1-1 3 0 1-1-3-4-8 0zM213 263l0 2 12 0 2-1-3-3-5 0-1 1zM278 250l0 3 2 1 8 0 1-1 5 0 1-1-2-3-4-2-6 0zM607 265l0 8 10-4 0-3-1-1zM667 272l0-6-1-2-6-3-1 1-14 0-3 4 1 2 6 4zM139 306l-9 1-1 2 1 2 7 0zM152 313l-2 0-1-1-6 1-2 4 8 2zM171 294l0 6 2 0 1-1 6 0 2-5-2 0-3-2-3 0zM171 309l1 1 0 2 8 0 1-1 0-4-7 0zM188 320l3 1 7 5 4 0 6-3-3-4-5 0-1-1-6 0-1-1zM322 327l-1-1-9 1-1 5 1 1 1-1 6 0zM462 134l-4-4-5-1-1-1-16 6-4 5-3 0-5-4-6 0-4 3 4 3 4 0 1 1 9 0 1-1 3 0 1-1 3 0 1-1 3 0 5-2 4 0 1-1 3 0zM399 208l1 1 0 3 2 1 5 0 1 1-3-5-2-1zM411 270l3 2 5 0 1 1 4 0 1 1 5 0 1 1 4 0 1 1 4 0 1 1 5 0 1 1 4 0 1 1 1 0 0-4 1-1 0-4-1-1-11-3-3-2-22 0zM438 316l6 6 2 0 3 2 6 1 1 1 15 0 2 1 3-2 4-1 0-4-1-1-2 0-3-2-5-1-3-2-4 0-1-1-15 0-6 3z"/>
<path fill="#ff8a10" d="M28 73l0 2 2 2 2 0 1 1 5 0 2-3 0-4-2 0-1-1-3 0zM43 25l0 2-1 1 0 3 1 1 12 0-1-1-1-6zM322 57l-5-3-2 1-5 0-2 2 2 5 3 2 5-1zM110 96l-1 4 3 3 7-1 1-5-2-1zM180 109l5 4 6 0 1-2 0-5-5-1-1-1-4 2zM238 112l5 5 3 0 2-4 0-3-8 0zM225 131l0 4 1 1 5 0 0-5zM364 130l-2 4 2 1 4 0-1-4-1-1zM679 102l9 3 5-4-3-4-8 0zM700 102l3 2 7 0 2-1 1-5-2-3-7 0zM63 168l0 3 3 3 7 0 3-5-1-2-2 0-4-2zM346 195l-2-1-1 1-6 1 1 5 9-1-1-1zM399 184l0 4 2 1 4 0 2-2-3-3zM728 161l-3 6 2 0 1 1 6 0 1 1 1-2 0-4-1-2zM735 282l2 4 9 0 0-2 2-3-3-2-8 0zM797 255l-1 1-6 1-1 4 6 1zM797 276l2 3 4 0 2 1 0-6-6 0zM804 256l2 4 2 1 5 0 1-2 0-2-6-3zM778 293l2 4 1-1 6 0 0-3-3-2-3 0zM828 287l1 7 7 0 3-4-5-3zM175 344l1 1 1-1 4 0 1-2-1-2-4 0zM308 352l1 2 7-1 2-2 0-3-1-1-7 0zM681 316l0 4-1 1 1 5 3-5zM761 315l0 1 4 2 2 0 3 2 2-1 0-3 1-1-2-2-4 0-1 1-4 0zM728 352l-2 2 1 4 6 1 1 1 0-8zM816 323l3 3 4 0 1-1 5 0 1-1 0-3-2-2-9 0zM320 409l0 2 2 3 8 0 3-4 0-1-3-2-6 0zM354 411l0 5 10 0 0-3-3-2zM728 436l0 5 2 0 1 1 4 0 4-3-6-3zM796 407l1 2 0 4 10-4-1-2zM821 408l-1 1 1 5 5 0 1-1-1-5-1-1zM164 484l0 4 1 1 4 0 1 1 3-3-2-3zM414 474l0 4 2 1 7 0 3-3-3-4-6 0zM691 453l10 0 2-5-2 0-1-1-7 0-1 1zM748 460l0 1 4 4 4 0 1-1 5-1 0-4-10-1zM716 481l-1 7 1-1 8 0 0-4-1-1zM121 548l0 1 5 4 7-1 0-6-2-1-5 0-1 1-2 0zM759 526l4 3 2 0 1-1 3 0 1-3-4-4-2 0zM735 540l2 3 2 0 4 2 4 0 2-1-1-1-1-5-11 0zM761 560l-1 7 2 1 4 0 1 1 3-1 0-2 2-4-1-1zM713 592l0 2 3 4 9-1 0-5-1-1-2 0-1-1-5 0zM819 649l0 4 3 2 3 0 4-3-1-3-2-1-6 0zM912 598l-3-5-2 1-5 0-1 1 0 2 8 3zM509 24l-6-3-2 1-12 0-3 6 14 1 1 1 1-1 7-1zM635 135l7 9 8-2 0-6-1-1zM894 123l1 3 2 1 6-1 0-1-5-4zM841 132l0 1 2 1 5 0 1 1 7 1-6-9zM838 137l7 4 2-1 7 0 1-1 0-2-2-1-10-1-1-1zM760 178l0 5 1 1 19 0 2-3 0-2 2-4-2 0-7-3-5 0-8 3zM875 158l-3 7 8 3 3 0 2-3 0-2-1 0-4-4zM98 240l3 6 6 0 1-1-1-6zM295 251l2 2 12 1 3-6-1-1-14 0zM307 262l1 2 7 6 6-1 3-3-3-3-5 0-1-1-4 0-1-1zM191 335l0 3 3 3 7 0 4-2 3 0-1-2-3-1-4-3-4 0zM252 326l1 8 2 1 5 0 6-6-5-3zM397 160l0 4 4 0 1 1 4 0 1 1 2 0 1-1 5 0 1-1-7-5z"/>
<path fill="#f0f060" d="M66 20l0 1 4 4 6 0 2-2 0-3-4-3-6 0zM263 64l0 6 8 0 1-2 0-4-2-1-5 0zM319 79l0 4 2 3 3 0 1 1 1-2 1 2 2 1 5-2 1-2 0-6-2-1-3 0-4 6-1 0-2-3 0-4zM767 31l0 1 6 6 14-1 0-7-1-1 0-2-16 0zM182 112l-2-2-10 2-1 1 0 4 3 0 5 2 4-3zM285 104l-2-2-9 1-1 1 1 6 1 1 8 0 3-4zM318 141l0 1 13 0-4-5-6 0zM466 133l6 1 1 1 1-1 5 0 1-1 3 0 5-2 5 0-4-3-3 0-1-1-7 0-1 1-3 0-1 1-7 2zM403 190l-5-1-1 6 2 0 4-3zM53 280l0 4 1 1 7 1 3-2 0-5-2-1-6 0zM769 235l0 1 3 2 7-1-6-4zM300 345l1 1 8 0-1-4-6 0zM353 314l1 6 1 1 5 0 4-2 0-3-2-3zM631 337l1 4 6 0 1 1 8-4-2 0-4-2-8 0zM725 360l0 5 1 2 8 0 1-6-5-1-1-1zM829 338l1 4 13 0 0-5-3-2-6 0zM772 389l-3-2-3 0-4 2 0 4 6 0 1-1 2 0 1-1zM889 410l0 4 10 3 1-2-1-4-2-1zM885 417l0 4 2 0 1 1 10-1 0-3-4-1-3-2-4 0zM387 452l2 4 6 0 4-3-1-3-4-2-5 0zM506 457l5 3 6 0 0-5-1-1-5 0-2 2zM801 461l-7 0-8 5 1 5 6 3 3-2 2 0 5-3 0-3zM839 449l2 4 8 1 2-2-2-4-2 0-1-1-5 0zM824 499l0 4 2 2 7 1 1 1 2 0 6-6-2-3-1-4-4 0-1-1-8 0 0 2zM933 503l0 6 2 2 6 0 0-6-2-1-5 0zM843 527l-3-2-3 0-1 1-6 1 0 2 5 5 7-5zM807 674l0 3 4 3 1-1 6 0 0-2 1-1-2-4-8 0zM262 191l4 3 1-1 3 0 1-1 5-1 2-4-2-2-9 0-2-1-3 5zM252 214l0-1-5-5-2 0-1 1-5 0-4 3 2 3 8 3zM325 187l-1 0-3 4 0 2 2 1 4-1-2-3zM822 214l6 3 5-1 4-2 3 0-3-4-3 0-1-1-6 0zM265 280l1 1 0 3 12 0 2-1-3-5-7 0-2-1zM798 230l2 1 8-7 5 0 1 1 0-2-2-1-10 0-1 1-2 0-1 1zM483 340l18 1 0-5-14-1zM447 404l5 3 21 1 0-2-6-5-17-1z"/>
<path fill="#ff7060" d="M54 25l1 6 1 1 8 0 2-3 0-2-3-3-8 0zM143 68l3 3 9-2-1-4-2-1-5 0-2 1zM28 144l0 3-1 1 3 3 9 0-1-6-1-1zM168 100l2 3 8 0 1-4-4-2-3 0zM179 131l1 5 2 0 4-2 3 0-1-5-6 0zM249 138l2 4 3 0 1 1 4 0 2-3 0-4-2 0-3-2-5 2zM689 119l0 4 4 4 6-1 1-1 0-5-9-1-1-1zM770 96l1 2 3 1 1-1 2 0 3-4-5-2-4 0zM808 87l-19 1-4 5 5 6 11 1 3-2zM18 186l1 3 4 3 7 0 2-1-4-6-8 0zM145 162l2 4 3 0 1 1 5-1 0-6-4 0-2-1zM723 168l-1 6 5 1 1 1 7 0 0-6-1-1zM379 257l7 0 3-3 0-2-1-1-7 0 0 2zM407 297l0 4 1 0 2-3 4 0 8 4 1-3-5 0-4-7-5 2zM694 243l4 0 2-2 1-3-7 0zM701 273l0 1 10 0 0-5-6 0zM840 232l-1 6 2 2 5 1 5-2-1-5-3-3-6 0zM158 370l1 4 5 2 5 0 3-5-4-3-8 0zM367 352l-6-3-3 2-4 1 0 1 4 5 5 0 4-2zM740 311l-2 3 1 4 3 2 1-1 4 0 1-1-1-5-3-2zM925 329l1 4 7 6 2 0 1-1 5 0 0-10-6-5-4 1zM342 377l0 3 2 3 7 0 3-2 0-5-2 0-1-1-7 0zM924 373l-1 2 0 7 9 5 8 0 1-1 0-11-2 0-1-1zM120 469l3 4 6 0 4-2-1-5-3-2-3 0-1-1-2 0zM367 495l0 4 1 2 9 1 2-5-2-1-7 0-1-1zM813 459l3 7 1-1 4 0 3-6zM842 493l6 4 5 0 1-1 3 0 3-2 0-4-4-4-9 0zM908 466l0 4 2 3 1-1 6 0 2-2-1-4-4-2-2 0zM892 473l0 2 2 4 1-1 6-1-2-5-6 0zM886 501l-1 2 2 2 2 0 1 1 2-5zM780 547l-1 1 0 5 2 3 1-1 2 0 3-3 0-2zM250 649l0 2 2 3 5 0 1 1 2-1 0-4-1-1-5 0-1-1-2 0zM510 35l0 2 2 2 3 0 1 1 2-1 5 0 0-3 1-1-5-4-5 0zM404 135l2 5 3 0 0-4zM492 90l5 7 4 8 10 0 0-1 7-8-1-4-2 0-1-1-6 0-1-1-6 0-1-1-7 0zM609 117l5 3 1-1 7 0 2-3-4-5-4 0-4 5zM625 127l-12 1 0 4 1 2 8 0 1 1 2 0zM609 151l0 1 13 0 0-3-2-4-2-1-5 0zM887 135l0 8 7 0 1 1 4 0 2-1-3-8zM207 195l2 2 6 2 1-1 2 0 5-6-2-1-5 0-1-1-6 0-2 3zM162 223l7 1 1 1 9-4 0-1-2-2-10-1zM777 195l0 4 8 0 1 1 3 0 1-1-3-5-9 0zM854 158l1 2 3 0 1-1 15-1 0-1-5-4-10 0-1 1-3 0 0 3zM801 176l1 1 0 5 1 1 8 0 1-1-1-1 0-5zM929 164l5 7 5 2 2-1 0-8zM326 257l-4 6 2 2 5 0 3-4 0-3-2-1zM667 273l2 3 7 2 3 2 2 0 6-5-6-4-4 0-1 1-8 0zM871 222l1 3 5 0 4 2 2-1-1-2zM605 295l-5 1 0 5 4 0zM628 332l-5-4-1 1-6 0-2 5 1 1 9 1zM458 188l7 4 3 0 1-1 11-1 3-3-15-1-2-1-6 3zM497 428l-1 4 7 3 6 1-1-6-4-3zM509 443l-1-6-2-1-8 5z"/>
<path fill="#3890ff" d="M65 33l1 6 8 0 2-3-1-1 0-2-2 0-1-1zM39 64l1 3 2 2 5 0 2 1 1-2 0-4 1-1-5-2-1 1-3 0zM110 70l4 4 4 0 4-3 0-3-3-3-6 0zM157 42l0 2-1 1 0 2 1 1 3 0 1 1 4-2 1-2 0-3-2-1-6 0zM620 77l3 0 1 1 9 0 2-2-3-4-5 0-6 3zM690 76l0 2 2 1 7 0 2-3-1-2-2 0-1-1-4 0zM18 113l1 4 7 0 1-1 3 0 0-3-2-2-5-1-1 1-2 0zM189 129l1 4 5 3 4-1 3-2 0-3-2 0-3-2-7 0zM261 144l1 5 4 2 3 0 5-6-6-3-3 0zM659 117l1 4 2 0 1-1 5 0-1-2-5 0-1-1zM51 222l-2-4-5-1-4 3-1 4 2 0 1 1 5 0zM338 223l3 7 2 1 4 0 5-2 0-4-2-3-10 0zM399 213l-5 1-3 2-1 3 2 3 2 1 5-1zM684 219l6 0 1-1 2 0 1-2-2-2-7 0zM84 248l1 2 2 1 6 0 1-1-3-5-5 0zM85 267l2 4 7 0 1-1 2 0 0-4-1-2-2-1-5 0-2 1zM101 290l-1 6 6-1-1-5zM353 237l-1 6 7-1 0-2 1-1-1-1zM407 258l-3 3-1 4 1 2 4 0 2 1 0-4zM729 233l-1 4 8 1 2-2-3-4zM746 255l-10 1 1 1 0 4 4 0 2-1zM797 241l2 2 6 0 4-3-3-3-7 0zM296 364l0 1 6 4 1-1 5 0 2-4-3-3-7 0zM375 303l0 5 2 2 7 0 2-1 0-3-1-1-4-1-3-2-1 1zM599 338l1 3 3 2 5-1-5-6-2 0zM727 346l0 4 1 1 7 0 2-1-1-5-8 0zM764 347l0 3 4 0 1 1 4-1-5-5-2 0zM868 364l-1 5 4 0 1 1 4 0 1-1-1-5-2 0-1-1-4 0zM875 313l0 5 3 2 7-1 1-4-2-2zM902 327l-5 0-2 1 0 2-2 3 6 0 1-1 2 0 1-1zM725 392l0 5-1 1 1 1 5 0 5-2 0-3-8-3zM773 423l0-4-4-2-1 1-8 0-1 1 0 2 3 3 9 1zM769 403l3 2 5 0 2-4-2-2-6 0zM894 374l-1 1 1 4 1 1 4 0 1 1 1-7zM902 382l0 1 2 0 3 2 4 1 0-3-2-1zM101 492l0 2 3 2 7 0 1-1 0-4-4-2-5 0zM87 494l-9 1 0 3-1 1 1 3 8 0 1-1zM310 506l0 3 2 2 6 0 2-3 0-2-2-2-4 0zM355 496l-2-2-3 0-1 1-5 1-1 1 0 3 3 3 3 0 5-4zM644 466l0 3 2 3 7 0 0-6-1-1-4 0-1-1zM763 448l1 4 3 0 1 1 5-1-1-5-6 0-1 1zM668 492l1 2 8 1 1-1 2 0 0-5-3-2-6 0-2 2 0 2zM740 481l-1 2 1 2 7 3 3-7-2-1zM680 498l1 4 8 0 3-2-3-5-8 0 0 2zM920 448l1 7 2 1 6-1 1-3 2-2 0-2-2 0-1-1zM924 457l2 5 5 3 2 0 1-1 1-5-5-3-4 0zM918 472l0 2 3 2 5 0 0-5-4 0-2-1zM15 540l1 4 2 1 5 0 1-1 2 0 2-2 0-3-2-2-8 0zM53 536l-1 2 0 3 1 1 9 0 1-3-2-3zM919 536l4 6 7 0 1-5-4 0-1-1-4 0-1-1zM75 610l0 4 5 2 8-3 0-3-7-3-5 1zM76 622l0 5-1 1 1 2 6 0 5-2 0-3-3-1-2-2zM720 626l0-2-2-4-2 0-6 3 1 2zM717 633l0 6 7 0 2-1 0-3-5-2zM815 604l0 6 1 1 6 0 2-1 0-5-1-1zM778 630l-2-3-2 0-6 5 1 1 9 0zM821 630l3 4 4 0 2-2-1-4-7 0zM913 657l0 5 2 1 2 0 3 2 6-2-3-4-1-3-6 0-1 1zM511 75l0 2 5 2 10 0-1-2-5-4-7 0zM512 104l0 1 11 2 4 2-1-2 0-6 1-1 0-2-9-1zM869 147l4 4 1-1 8-2 0-2 1-1-2 0-4-2-3 0-1-1-2 1zM266 210l2 4 8 0 4-2-2-4-2 0-1-1-7 0zM302 194l8 0 4-2-3-3-7 0zM658 151l-2 1-10 1 0 1 10 2zM680 219l-1-2-4 0-4 4-1 0 7 0 2 1zM118 246l1 7 6 1 3-2 0-4-1-1-6 0-1-1zM596 275l5 5 3 0 4-3 0-2-2-2-7 0zM149 295l-1-1-9 1-1 1 0 3 1 1 10 0zM195 302l-2-2-2 1-8 0 0 4 2 1 9 0zM216 308l-1 6 5 4 13 0 2-3 0-7-1-1-10-1-1 1zM276 300l3 2 5 0 1-1 3 0 1-1 0-3-1-1-11 0 0 3zM672 332l-5-4-6 1-1 1-4 0-5 2 2 5 5-1 5 4 5-1 3-4zM461 197l-2 0-4-2-3 0-4-2-3 0-4-2-1 1-19 0-1 1-6 0-1 2 6 7 9 1 1 1 8 1 1 1 4 0 1 1 5 0zM674 343l0 1 3 2 8 1 1 1 4 0 1 1 8 0 5-3-5-3-4 0-1 1-8 0-4-2-6 0zM700 349l0 1 5 2 10 1 1 1 5 0-2-3 0-4-4 0-1-1-9 0z"/>
<path fill="#ff3a10" d="M124 33l2 4 5 0 3-2 0-3-4-2-3 0zM49 50l0 2 2 1 4 0 2-1 0-5-6 0zM146 50l-1 5 4 2 2 0 1-1 5 0 0-4-3-3-7 0zM295 62l5 3 10-2-2-3 0-2-2-1-10 1 0 3zM621 78l0 6 1 1 8 0 2 1 3-5-2-2-9 0-1-1zM789 53l0 9 9 1 1 1 6 0 1 1 8-4-4-4-6-4zM132 110l-9 4 0 2 3 3 8 0 1-1zM155 116l2 2 9 0 2-1 0-4-5-2-6 0zM215 134l1 1 6 0 2-1 0-3-1-1-5 0zM227 138l-3-3-2 1-6 0-1 4 4 3 4 0 4-3zM294 92l0 3 2 2 6 0 3-2 0-5-1-1-7 0zM273 131l0 1 4 2 7 0 3-2-1-4-2-1-7 0zM354 152l-2-2-1 1-6 1-1 1 0 3 5 2 3 0 1 1zM693 148l-2-1-1 1-4 0 0 4 6 1zM894 99l-2-1-1 1-5 0-1 1-9 1 0 5 7 4 8 0 1-1 2 0zM7 210l0 6 2 0 1-1 7 0 0-5-5-1-1-1zM385 226l4 6 10-2-3-6-2 0-1-1-2 0zM753 159l-7 1-1 4 2 2 1-1 3 0 1-1zM692 219l-2 1-6 0-1 1 0 3 9 1 1-1-1-1zM726 224l-3-2-2 1-6 0-1 1 0 2 1 2 4 2 3 0 3-2zM816 226l-2 4 5 3-1-1 1-4zM908 226l1 5 1 1 9-1 0-3-6 0zM64 235l0 3 5 2 2-2 3-1 0-2-1-1-6 0-2-1zM360 250l1 1 1 5 3 0 5-2 0-3-1-1-2 0-1-1-4 0zM353 257l1 1 0 4 8-2 0-3-2 0-1-1-5 0zM399 279l0-3-2-3-2 1-4 0-1 1-4 0 2 4 7 0 1 1zM710 254l0-6-10 2 5 4zM745 262l3 4 4 0 0-4zM743 269l3 4 2-1 4 0 1-1 0-4-5 0-1-1zM703 286l-1-2-2 0-3 2-2 0-1 2 1 1 7 1 1-1zM843 242l-5-4-2 1-4 0-4 2 2 5 11 0zM814 262l1 6 7 0 2-2-3-4zM838 294l9 2 1-1 2 0 2-2 1-3-2-1-11 0zM877 243l1 4 4 2 5-1 2-3-4-4-6 0zM941 238l-3 0-4 5 4 2 1-1 2 0zM897 264l-2-2-6 1-3 4 2 3 3 0 1 1 4-2zM920 263l7 3 5-2 1-1 0-3-3-3-6 0zM357 359l-4-7-2 1-5 0-2 2 0 2-1 1 4 3 8 0zM332 371l0 4 2 1 8 0 1-1 0-5-1-1-8 0zM372 347l-2-2-1 1-6 0-1 2 4 3 5 0zM376 340l8 5 2-2 1-4-10 0zM782 331l0 2 3 2 9 0 0-6-10-1zM829 326l-10 1-1 1 0 3 3 3 4 0 4-3zM844 336l0 6 2 1 5-1 2-7-7 0zM914 327l-3 5 7 2 1-1 1-5-2-1zM306 444l0 4 5 2 3 0 4-3 0-2-2-4-7 0zM354 422l-2 4 0 2 2 3 8 0 0-8-2 0-1-1zM771 412l-3-3-5 1-2 3 0 3-1 1 8 0 2-2zM746 416l-2 0-1-1-1 1-5 1-1 2 1 3 3 2 5 0 1-1 2 0zM863 435l0 2 4 3 11-1-5-7-7 0zM884 377l0 4 8 0 2-1-2-4-6 0zM873 400l3 6 5 0 1-1 2 0 2-1 1-2-2-3-3 0-1-1-6 0zM201 467l3 4 2 0 1 1 3-2 2 0 1-2-1-3-8 0zM368 462l-3-7-11 2 0 4 4 3 8 0zM398 457l0 3 3 1 2 2 1-1 3 0 2-2 0-3-3-2-7 0zM407 463l-5 1-3 4 0 1 6 5 6-3 1-2 0-2zM423 450l3 4 5 0 2-2 0-4-9 0zM414 498l-1 5 2 0 1 1 6 0 1-1-1-1 0-3-2-2-4 0zM502 476l1 7 4 0 2-5-4-2zM701 494l7 2 7-3-1-1 0-3-10-2zM727 503l1 5 1 1 6 0 2-1 0-6-7 0-1 1zM771 454l0 3-1 1 1 1 4 0 2-1 1-2 0-2-2 0-1-1-3 0zM807 452l0 4 2 1 2 0 1 1 11 0 0-2-1-1 0-7-8-1zM771 516l0 2 2 1 4 0 1 1 2-1-2-4-6 0zM899 471l1 1 8 0-1-2 0-4-5 0-1 3zM887 496l0 4 6 0 3-2-3-4-4 0zM892 517l5 1 4 2 3 0 2-1 0-8-1-1-9 0zM123 587l0 3 4 2 1-1 6 0 1-1-1-1 0-4-9 0zM237 552l-3 0-1-1-1 1-5 1 0 4 1 1 7 0 2-1 1-2zM285 576l-1 5 2 2 4 1 4-2 1-2 0-4-3 0-1-1-4 0zM727 529l-2 5 5 1 3 2 3 0 0-8-2 0-1-1zM800 526l-2-1-7 1-2 1 0 3 4 0 2 1zM796 544l2 3 3 0 1 1 2 0 1-1-1-4-6 0zM772 563l-1 5 8 0 0-5zM850 583l2 5 4 2 5-1 2-3 0-1-5-1-1-1-4 0-1-1zM908 569l2 4 5 2 1-1 4 0 3-3 0-2-2-2-2 0-1-1-6 0zM29 608l-2-2-7 1-2 1-1 4 1 2 7 0 4-4zM752 604l3 0 1-1 5-1 0-2-1-1-5-1zM750 658l1 3 3 2 4 0 4-3-2-3-3-2-4 0zM813 596l3 2 1-1 4 0 2-3-4-2-4 0zM822 597l0 6 2 1 1-1 5 0 1-1 0-2-7-4zM772 651l1 5 3 0 1-1 7 0-4-6-5 0zM932 665l3 4 2 0 1 1 2 0 1-1 0-7-3 0zM406 44l8 10 1-1 11 0 4-10-12-1-1-1-8 0zM655 143l0 2 3 5 7 0 2 1 3-2-5-7-2 0-1 1zM806 126l2 1 13 0 3-3-2-2-9-1-1 1-2 0zM822 134l-3-2-9 2 2 4 9-1zM134 176l-4 0-1-1-4 2-3 0-1 1 1 4 2 2 2 0 1-1 6 0 1-1zM236 189l0 1 8 0 1 1 6 0 1-1 2 0 0-2-3-5-12 1zM251 192l0 6 8 0 6-3 0-1-4-3-4 0-2-1zM766 169l1 3 6-1 0-3-5 0zM768 194l0 2-1 1 0 2 1 1 4 0 1 1 3-2 0-5zM670 209l5 7 4 0 1-4-5-1-1-1-3 0zM799 150l-1 6 13 0-3-6zM874 159l-6 0-1 1-8 0-1 1-2 0 0 5 1 1 9 0 1-1 2 0 3-2 0-2zM266 228l1 1 4 0 1 1 8 0 5-6-3 0-1-1-8 0-1-1-4 2-2 2zM237 280l-4 0-1 1-9 0 2 5 2 0 1 1 7 0 2-4zM236 287l12 1 4-2 0-1-4-5-2-1-6 0-2 1 0 3zM607 258l-2 1-8 0-2 2 0 2 1 1 10 0zM623 264l6 4 8 0 1-1 2 0 4-5-1-2-4 0-1-1-4 0-1-1-8-1-1 1zM664 280l0 2 6 5 5 0 1-1 2 0 0-3 2-2-4-2-5-1-3-2zM828 223l2 3 0 2 3 2 3-1 3-5-2 0-1-1-6 0-1-1zM162 314l0 3 5 4 8-3-4-4zM281 303l0 4 3 0 1 1 5 0 1-1-1-3-2-2zM600 328l0 2 3 4 9 0 3-4 0-2-2-1zM668 320l1 5 11 0-1-4zM481 190l2 5 0 3 3 2 32 1 6-3 0-4-14-7-3 0-1-1-5 0-1-1-12 1-1 1-3 0zM448 331l0 2 5 4 5 0 1 1 4 0 1 1 4 0 1 1 13 0 4-5 0-1-3-1-2-2-10-4-14 0-1 1-5 1zM452 337l0 6 1 1 4 0 1 1 7 1 4-5-1-1-4 0-1-1-4 0-1-1-5 0zM423 367l3 4 2 0 1 1 8 0 1 1 17 0-4-1-9-5-2 0-4-2-9 0zM468 448l5 2 20 0 1 1 6 0 1-1 2 0-9-5-2-2-6 0-1-1-4 0-7 4-2 0zM675 441l9 6 15-1 3-3-2-2-2 0-1-1-10-1-1-1-6 0zM467 490l0 5 2 1 9 1 5 2 11-1 0-2-3-4-3 0-4-2z"/>
<path fill="#30c8f8" d="M52 54l-1 2 7 4 2-1-4-6-1 1zM78 69l-3-6-7 1-4 3 0 2 1 1 3 0 1 1 6 0zM168 49l0 3 2 3 6 0 2-1 2-3-4-4-4 0zM250 65l0 3 2 3 10-1 0-5-3-2-5 0zM786 17l0 9 1 1 1-1 16-1 0-4-1-2-5-4-6-1zM825 71l0 10 1 1 0 3 10 1 1 1 3-1 4-10zM40 111l-4 0-5 2 0 4 1 1 6 0 2-4zM75 99l0 2-1 1 5 2 4 0 2-2 0-4-2 0-1-1-4 0zM38 138l2 4 5 0 5-2 0-2-3-2-5 0-1-1zM261 103l0 7 3 3 1-1 9-1-1-1-1-6zM386 151l-9 2 0 3 4 2 5 0zM669 99l3 3 4 1 3-2 2-4-2-2-9 0 0 3zM772 89l1 2 6 1 1 1 0-5zM353 244l2 5 6 0 2-1 0-4-2-1-5 0-1 1zM797 299l0 4 4 0 1-1 4 0 1-1-1-3-8 0zM855 280l-5-1-1 1-7 1-2 4 2 3 9 0 2 1 1-5 1-1zM918 236l0 1 10 1 0-2-2 0-2-3-3-1zM941 250l-2 0-1-1-2 1 0 4-1 1 2 1 4-1zM886 290l0 2 4 3 5 0 2-2 0-4-1-2-8 0zM736 327l0 2 3 3 4 0 1 1 1-5 1-1-3 0-1-1zM735 335l1 4 5 0 1-1 2 0 1-2 0-2-2-1-4 0zM778 351l1 6 1 1 2-1 5 0 1-1 0-3-7-4zM799 353l0 3 1 1 6 1-1-1-1-5zM941 365l-5-3-2 0-1 1-6 0-3 3-1 6 6 0 1 1 8 0 1 1 2 0zM308 410l0 3 4 2 5 0 3-2-1-4-2 0-1-1-6 0zM76 488l0 3 3 3 4 0 5-2 0-4-2-1-8 0zM132 488l0 2 3 5 5 0 2-1 1-2 0-3-2-2-6-1zM141 472l3 4 8 0 0-2 1-1 0-1-2 0-1-1-6 0-1 1zM261 452l0 3 3 2 2 0 6-3 0-1-4-4-3 0zM435 486l0 1 3 0 1 1 7-1-1-5-6 0zM503 471l0 4 2 0 3 2 2 0 1-1 1-6zM752 466l-5-5-3-1-5 2-2 2-3 6 2 2 2 0 1 1 9 0 4-3zM794 460l-2 0-3-2-1 1-5 1-2 4 1 1 4 0zM927 490l-7 1-2 2 0 2 2 1 1-1 5-1 1-1zM746 546l0 5 4 2 10 0 1-1-3-7-10 0zM725 567l1 7 2 1 6 0 2-1 2-5-4-3-6 0-1 1zM825 561l0 5 2 1 4-1 1-5zM852 545l0 2 2 3 9-2 0-2-5-3-3 0zM218 623l-1 1 0 4 6 2 5-5-5-3zM806 633l-1 2 3 5 2 0 4-2 0-6-6 0zM621 110l1 3 3 3 13-1-5-3-2 0-7-3-2 0zM830 127l3 4 7 1 9-6-1-1-16 0-2 1zM880 158l4 4 8 3 3 0 1-1 10-2-1-7-4-1-3-2-10 1zM838 180l0 2 5 5 10 0 1-1 3 0 1-1 5-1 0-3-6-4-16 0-1-1zM799 212l6 1 1 1 4 0 1 1 5 0 1-1-5-7-8 0-2 1zM141 229l-1-1-9 1 1 5 2-1 4 0zM138 273l2 7 8 0 3-3 1-5-2 0-1-1-8 0zM108 283l2 2 9 1 6-7-5-2-8 0-3 2zM212 226l1 2 13 0 0-2 1-1-3-2-8 0zM225 235l2 1 6 0 7-5-14-1zM162 277l-1 7 2-1 4 0 1-1 4 0-3-4zM648 272l-7-5-1 1-5 1 0 7 1 1 7 0zM302 337l-1-1-3 0-8 3 3 3 7 0zM320 331l0 1 3 2 6 0-1-7-5 0zM410 157l0 2 7 5 2 0 1 1 5 0 1 1 12 1 1 1 6 0 1 1 6 0 1-7 1-1-6-4zM407 181l2 3-2 5 2 0 5 3 6 0 1-1 19 0 3-3-1-2-5-2-4-3-6 0-1-1-15 0-1 1zM411 246l1 2 2 0 1 1 3 0 1 1 3 0 5 2 4 0 1 1 3 0 5 2 5 0 10-12-4-2-26 0-1 1-9 0z"/>
<path fill="#70ffa0" d="M89 56l-1 2 0 2 1 1 7 1 2-2 0-2-2-2-2 0-1-1zM723 30l2 3 2 0 1-1 5 0 4-4-2-2-7-2-5 4zM16 87l0 4 4 3 4 0 3-3 0-2-3-3-6 0zM7 153l0 4 3 2 4 0 3-3-1-4-4 0-1-1zM736 129l1 5 10 0 1-1 0-2-2-3-4 0-1-1-3 2zM700 153l2 5 4 0 1-1 5-1 0-4-2 0-1-1-4 0zM903 226l-2 4 7 1-1-5zM684 257l0 3 2 2 6 0 1-6zM747 284l0 3 6 0 1 1 6 0 1-1-2-4-3-3-7 1zM899 232l0 4 1 1 9 0 1-1 0-3-1-1-4 0-1-1zM857 352l-5 0-2 1-2 3 0 2 8 0 1-2zM918 326l3 2 4 0 7-5-3-2-6 0-2-1zM882 334l0 2 2 4 9-1-1-5-3 0-1-1-4 0zM894 373l-3-4-1 1-5 1 2 4 5 0zM924 423l-2 0-1 1-6 0-5 6 1 3 3 3 3 0 1 1 2 0 7-4 0-6zM169 513l0 3 2 3 6 0 3-3 0-2-2-3-6 0zM764 453l-1-1-1 1-6 0-2 4 2 0 1 1 6 0 0-4zM763 464l-1 7 1 1 6 0 1-1 1-5zM691 488l1 5 4 0 1 1 4-2 2-5-2-1-7 0zM755 513l-1 5 5 0 1 1 2-1 0-5zM867 484l0 4 1 1 4 0 1 1 4 0 1 1-1-1 0-4-7-3zM785 640l-1 2 1 5 5 0 1 1 3-2-2-5zM893 611l0 2 5 2 4-2 0-4-2-1-4 0zM822 145l3 4 10 0 1 1 5 0 2-4 1-5-6-3-5 0-1 1-8 2zM311 200l0 3 2 3 2 1 5 0 3-8-8 0-1 1zM604 214l1 3 5 4 9 0 1 1 2-1-2-10-7-1-1 1-5 1zM810 199l5 6 9-1 2-2-2 0-10-4zM106 289l0 3 5 3 8-1 2-2 0-3-2-2-10-1-2 1zM211 234l6 3 6-1 1-1 1-6-12 0zM637 241l-3 0-1 1-5 1 0 4 2 0 1-1 7 0z"/>
<path fill="#20c0a0" d="M179 19l0 4 2 0 1 1 4 0 4-2-4-5-4 0zM653 80l-4-1-1 1-4 0-1 1 4 5 2 0 5-2zM839 57l4 2 3 0 1 1 3 0 1 1 5 1 4-2 0-8-4-2-13 1zM822 63l0 3 2 4 3 0 1 1 3 0 4 2 3 0 1 1 5 1 0-2-2-4 0-3-2-4 0-3-1-1zM656 89l0-2-2-2-8 3 5 4 4-1zM748 91l0 2 6 3 7-1 1-2 0-3-2-2-7 0zM714 138l0 2 2 3 7 0 3-2 0-3-2-1-9-1zM801 101l1 2 0 4 5 0 2 2 1 3 8 0 3-2 0-8-8-1-1-1-4 0-1-1-3 0zM894 98l1 1 0 10 9 0 4-2 0-8-4 0-1-1zM31 192l-1 4 2 3 2 1 1-1 4 0 2-2 0-2-3-4-5 0zM97 169l1 5 1 1 7 0 2-1-1-4-4-2-4 0zM50 228l2 2 9 0 3-6-1-1-11 0-2 3zM344 189l1 1 7-1 2-4-2-1-8 0zM727 210l1 3 8 0 0-5-1-1-5 0zM761 248l-2 5 2 2 9 0-1-2 0-4zM745 263l-2-2-5 1-1 1 0 4 1 1 5 0 3-2zM822 256l2 4 8 0 0-2 1-1 0-1-2-1-8 0zM728 316l0 3 3 2 3 0 4-2 0-3-1-1-6 0-1 1zM735 326l-1-1 0-2-4-2-5 6 2 1 4 0zM874 335l0 4 2 1 5-1 1-1-1-4-2-1-3 0zM124 379l0 2 3 2 6 0 2-2 0-2-2-2-7 0zM194 411l0 3 3 2 2-1 4 0 0-4-2-2-4 0zM754 381l-1 1-7 1-1 1 0 2 2 0 4 2 3 0 1-1-1-2zM815 393l3 6 7 0 3-2-1-6-9 0zM144 496l-2-1-2 1-4 0-1 2 1 5 2 1 7-1 1-4zM110 503l0 2 4 5 5 0 2-2-1-2zM203 449l1 1 0 2 4 3 2-1 6 0-1-6-1-1-7 0zM251 491l4 5 4 0 1 1 4-4 0-2-6-3-4 1zM263 499l0 2 4 3 6-1 1-2-3-4-5 0zM689 466l-4-3-1 1-5 0-2 3 1 5 1 1 1-1 5 0 1-1 2 0 1-1zM754 497l1 1 3 0 1-1 11-2 1-3-2-3-9-1zM778 457l0 1 3 2 7-2-3-4-6 0 0 2zM879 447l0 5 1 1 0 2 4 3 5 0 12-8-3-1-4-3zM875 471l2 5 2 1 3 0 3-4-3-3zM86 535l7 0 5-2-2-4-2 0-1-1-5 0-1 1 0 4zM681 545l-2 3 0 2 1 1 8 2 3-3-3-5-2 0-1-1zM837 516l-1 1-4 0-1 1-5 1 3 7 10-2 0-2 1-1-2-2zM824 561l-7 2 0 3 7 0zM842 566l-1-1-2 0-1 1-6 0-3 2 0 4 2 2 5 1 5-4zM838 577l2 4 5 2 4 0 4-6-6-3zM710 626l2 5 4 2 2-1 2-3 0-2zM815 633l0 5 7 0 1-1 0-3-2-2-5 0zM900 643l1 2 11 1-1-5-2-1-4 0-1 1-2 0zM912 641l1 5 5 0 1 1 2 0 1-6-2-1-5 0-1 1zM26 664l4 6 5 0 1-1 2 0 1-2-3-4-8 0zM201 666l1 5 2 1 6 0 1-1 2 0-1-1 0-5-1-1-7 0zM459 106l-1 9 6 6 2 0 4 2 3 0 7 3 4-1 17-19-2 0-1-1-5 0-1-1-4 0-1-1-5 0-1-1-4 0-1-1-1 1-4 0-1 1-8 1zM623 141l0 2 1 1 14 0 1 1 2-1-7-9-2 0-1 1-5 0zM97 218l0 4 1 1 8 0 1 1 2-4-3-4-8 1zM611 153l-2 0-1-1-2 0-1 1-5 0-1 1 0 5 11 1 1-2zM647 175l0 10 11 0 1-1 4 0 3-3 0-3-1-1-6 0-1-1-7 0-1-1zM664 184l0 1 5 5 11 0 0-7-14-1zM814 197l10 4 5-1-7-8-4 0zM894 218l2 5 10 0 0-6-11 0zM925 188l1 1 0 2 2 0 1 1 4 0 1 1 5 0 1-1-1-5-12 0zM282 273l0 3 6 1 1 1 1-1 3 0 0-2-2-2zM647 246l10 0 2-4-2-1-9 0-1 1zM164 331l3 3 10 0 2-3 0-2-1-2-4 0-1-1-4 0-1-1zM332 306l-9 1-3 2 0 3 4 3 4 1zM635 319l3 6 7 0 5-6zM404 171l8 4 5 4 9 0 1 1 8 0 1-1 8-1 4-6 0-2-2 0-1-1-6 0-1-1-12-1-1-1-5 0-1-1-9 1zM398 201l0 4 1 2 4 0 1 1 9-5-2-1-10 0-1-1zM474 432l1 1 0 5 5 3 5 0 1 1 7 0 1-1 3 0 8-5-5-1-3-2z"/>
<path fill="#20c840" d="M292 18l1 1 0 2 3 1 2 2 3 0 5-3-1-3-3-2-7 0zM275 41l0 4 1 1 3 0 1 1 6-3 0-5-7-1zM747 20l3 4 3 0 1 1 5 0 2-2-2-5-2 0-1-1-4 0-1 1-2 0zM804 20l1 1 0 4 4 3 3 0 1-1 7 0 0-4zM49 104l1 1 0 3 4 2 7-2 1-2 0-3-12 0zM227 99l0 3 2 2 6 0 1-1 2 0-1-4-3-2-5 0zM669 113l-1 2 0 4 1 1 7 1 1-1 0-6-1-1zM909 99l0 7 4 3 5 1 5-2 2 1 3-2 0-4-2 0-13-5-3 0zM294 160l2 5 11 0 0-3-6-3-5-1zM321 160l0 2-2 4 10 1 1-5-3-3-4 0zM737 165l-1 4 2 1 7 0 0-2 1-1-1-2zM735 203l0 3 1 1 4 0 1 1 3 0 1-1-1-4-2-3-2 0zM694 218l-1 1 0 4 4 2 3 0 1-5-3-2zM39 265l1 4 7 1 1 1 3-2 1-2 0-3-2-2-2 0-1-1-3 0zM86 297l0 3 2 3 6 0 5-2 0-4-2 0-5-3-1 1-3 0zM354 297l0 3 3 4 5 0 2-2 0-5-1-1-7 0zM397 281l-1 4 8 0 0-3 1-1-2 0-1-1-4 0zM727 250l1 1 7-3-1-3-2-1-4 0 0 4zM796 262l2 1 7-3 0-1-3-3-4 0zM779 301l0 2 3 0 1 1 3 0 3-2-1-1 0-4-7 0zM111 360l-1 2 1 4 2 1 5 0 2-1 0-4-5-1-1-1zM372 341l0 2-1 1 1 2 10 0 0-1-7-5zM364 359l3 7 2 0 1 1 2 0 3-5-2-3-2-1zM758 305l-6-1-7 7 12 0 1-1zM815 312l-3-2-2 1-4 0-3 4 3 3 5 0 4-2zM842 306l0 2 4 3 8 0-1-1 0-6-8 0zM789 352l0 4 1 1 7 0 1-1 0-4-2-2-3 0zM890 365l-4 0-5 4 2 1 7-1zM909 354l0 2-1 1 0 5 3 0 5 2 4 0 1 1 3 0 2-2 0-4-3-5-5 0-1-1-7 0zM363 404l-9 3-1 2 1 1 7 0 1 1zM390 432l1 5 7 0 1-1 0-4-2-1-2 0-1-1zM752 376l-2 0-1-1-1 1-2 0-2 2-1 3 2 2 1-1 7-1zM736 428l-5 1-1 1 0 4-1 1 5-1 4-3zM839 408l0 6 2 1 1-1 3 0 5-2 0-3-4-2-5 0zM862 415l9 0 2-2 0-3-3-2-6 0zM855 415l-4-2-2 0-4 2-3 0 0 5 2 2 6 0zM120 491l1 5 5 0 1 1 6-3-2-5-9 0zM285 474l0 3 3 2 7 0 4-3-2-4-3 0-1-1-2 0zM723 472l5 7 3 0 4-2 0-5-1-1-9-1zM826 492l-2-1-1 1-3 0-5 2 0 6 1 1 7 0 0-2zM884 459l-2-2-3-1-4 2-1 2 1 1 0 2 8 0 1-1zM878 486l0 4 1 2 6 1 1 1 6-1 3-3-2-7-8 0-1-1zM749 528l0 2 3 4 5 0 1 1 2 0 2-4 0-2-4-3-7 0zM734 548l1 2 4 2 6-2 0-4-2 0-4-2-3 0zM779 525l-1 5 10 0 0-3-1-1zM856 560l-1 4-2 3 2 0 1 1 5-1 1-1 0-4-3-2zM778 585l0 4 1 1 7 0 2-3 0-1-2 0-4-2zM146 590l-3 0-1 1-7 0 0 5 3 2 6 0 4-3zM64 658l0 2 2 3 8 0 2-2 0-4-1-1-10 0zM201 650l0 4 4 2 4 0 4-3-1-2-4-2-5 0zM689 635l1 3 3 0 1 1 6 0 2-2 0-3-1-1-5-1-1-1-4 1zM806 615l1 6 5 0 1-1 0-5zM842 623l0 2-2 3 1 2 2 0 1 1 7 0 1-6-4-2zM877 617l0 5 2 1 4 0 1 1 2 0 1-1 0-3 1-1-2-2-3 0-1-1-4 0zM923 631l-2 3 5 5 3 0 1-1 1-6-2 0-1-1zM711 663l1 3 2 2 4 0 2-3 0-1zM510 24l0 4 4 2 5 0 1-1 2 0 1-2 0-2-3-3-8 0zM452 56l0 2 1 1 0 6 6 0 1 1 11 0 1-1 4-14-17 0zM406 115l-6-8-2 0-4-2-8 0-1 1-15 1-10 5-2 0 2 9 2 2 2 0 3 2 3 0 1 1 5 0 1 1 9 0 1-1 10-2 5-4 3-1zM636 128l0 6 14 0 2-2 0-3-6-3zM899 128l1 6 9-1 3-2 0-3-5-1-1-1zM123 186l0 4 1 1 4 0 1-1 8 0-1-3-3-3-6 0zM195 215l0 2 1 1 3 0 1 1 3 0 3-2-4-4-2 0-1-1-2 0zM609 172l0 1 16 0 0-4-11-1-1-1-3 2 0 2zM778 151l0 3 1 1 3 0 5 2 3-1-1-1 0-2zM785 213l0 3 1 1 7 0 1-1 3 0 0-2 1-1-1-1-6 0-1-1zM831 159l0 2 4 2 4 0 2-2 0-1-4-3-5 0zM842 187l-5-5-1 1-10 2 0 5 8 0 1 1 2 0zM903 180l-4-3-4 0-7 5-6 6 0 1 2 1 4 0 1-1 3 0 4-2 6-1 1-1zM883 200l-14 1-2 3-1 4 13 0 5-3zM108 258l1 1 0 4 3 2 4-4 0-1-2-1zM167 240l0 2 2 4 2 1 9 1 1-1 5 0 4-2 1-7-6-3-12 0-1 1-2 0zM239 248l9 0 3-3 0-2-2-2-8 0zM281 230l0 2 1 1 12-1 0-7-2-1-6 0zM288 295l1 1 5 0 1-1 13 0-8-6-7 0-3 2zM679 255l-4 0-5 7 9 0zM98 312l0 3 4 4 5-1 0-2-3-4zM105 304l2 3 9 0 0-5-8 0zM396 138l1 3 12 0-3 0-3-6-2-1-3 1zM399 171l1 1 1 5 4 3 11-1-13-8zM634 366l0 2 1 1 4 0 1 1 4 0 1 1 9 0-1-2 0-4-9-1-1-1-7 0zM671 412l5 2 19 0 1-1 0-1-4 0-1-1-4 0-1-1-4 0-1-1-5 0zM501 477l-2-3-10 0-1 1-12 0-1 1-2 0 3 3 3 0 1 1 9 0 1 1 5 0zM450 498l1 2 2 0 1 1 2 0 2-2 2 0 5 4 9 0 2-2 0-1-4-1-5-3-11 0-1 1-4 0z"/>
</g>
<g fill="none" stroke-linecap="round">
<path stroke="#20c840" stroke-width="10.5" d="M902 171h1"/>
<path stroke="#ff3a10" stroke-width="10.5" d="M482 375h16"/>
<path stroke="#f020e8" stroke-width="10.5" d="M467 379h10"/>
<path stroke="#b818f0" stroke-width="10" d="M665 258h1"/>
<path stroke="#f82888" stroke-width="10" d="M297 308h1"/>
<path stroke="#5010e8" stroke-width="10" d="M506 346h8"/>
<path stroke="#b818f0" stroke-width="9.5" d="M489 33h5"/>
<path stroke="#b4128a" stroke-width="9.5" d="M472 230h12"/>
<path stroke="#d01060" stroke-width="9.5" d="M466 354h7"/>
<path stroke="#10e030" stroke-width="9.5" d="M699 409h9"/>
<path stroke="#8418f0" stroke-width="9" d="M631 201h1"/>
<path stroke="#50f020" stroke-width="9" d="M487 304h9"/>
<path stroke="#ffb820" stroke-width="9" d="M505 322h9"/>
<path stroke="#f0f060" stroke-width="9" d="M447 389h11"/>
<path stroke="#8418f0" stroke-width="8.5" d="M619 202h1"/>
<path stroke="#b818f0" stroke-width="8.5" d="M856 188h4"/>
<path stroke="#20f0d0" stroke-width="8.5" d="M135 263h2"/>
<path stroke="#70ffa0" stroke-width="8.5" d="M487 358h11"/>
<path stroke="#20c0a0" stroke-width="8.5" d="M485 370h16"/>
<path stroke="#20c840" stroke-width="8.5" d="M509 376h9"/>
<path stroke="#f018b8" stroke-width="8" d="M390 271h1"/>
<path stroke="#d01060" stroke-width="8" d="M766 271h2M780 208h3M651 236h2"/>
<path stroke="#20f0d0" stroke-width="8" d="M843 505h2"/>
<path stroke="#7ebf18" stroke-width="8" d="M930 472h0"/>
<path stroke="#f01030" stroke-width="8" d="M905 177h6"/>
<path stroke="#f020e8" stroke-width="8" d="M909 203h1"/>
<path stroke="#2810c0" stroke-width="8" d="M919 220h2"/>
<path stroke="#10e030" stroke-width="8" d="M151 230h4"/>
<path stroke="#ffe030" stroke-width="8" d="M296 273h1"/>
<path stroke="#ff3a10" stroke-width="8" d="M186 297h3M208 310h2"/>
<path stroke="#b818f0" stroke-width="8" d="M666 444h10"/>
<path stroke="#20c0a0" stroke-width="7.5" d="M747 215h1M275 238h1"/>
<path stroke="#50f020" stroke-width="7.5" d="M348 233h2"/>
<path stroke="#5010e8" stroke-width="7.5" d="M341 238h1M175 230h3"/>
<path stroke="#f020e8" stroke-width="7.5" d="M922 281h2"/>
<path stroke="#1818f0" stroke-width="7.5" d="M870 354h0M860 508h4"/>
<path stroke="#ff8a10" stroke-width="7.5" d="M887 342h3"/>
<path stroke="#d01060" stroke-width="7.5" d="M890 348h1M820 468h1M683 399h10"/>
<path stroke="#3890ff" stroke-width="7.5" d="M912 336h2"/>
<path stroke="#2058f0" stroke-width="7.5" d="M757 509h0"/>
<path stroke="#f0f060" stroke-width="7.5" d="M490 18h5"/>
<path stroke="#f82888" stroke-width="7.5" d="M143 261h4"/>
<path stroke="#189078" stroke-width="7.5" d="M190 249h0"/>
<path stroke="#18b49c" stroke-width="7.5" d="M281 291h3"/>
<path stroke="#30ff90" stroke-width="7.5" d="M209 318h4"/>
<path stroke="#f01030" stroke-width="7.5" d="M519 159h9"/>
<path stroke="#10e030" stroke-width="7.5" d="M448 192h13"/>
<path stroke="#a8ff20" stroke-width="7.5" d="M676 350h10"/>
<path stroke="#6312b4" stroke-width="7.5" d="M690 358h6"/>
<path stroke="#f018b8" stroke-width="7.5" d="M448 395h13"/>
<path stroke="#bf5448" stroke-width="7.5" d="M441 459h4"/>
<path stroke="#1212b4" stroke-width="7" d="M887 113h2"/>
<path stroke="#f01030" stroke-width="7" d="M375 214h2M471 195h7"/>
<path stroke="#a8ff20" stroke-width="7" d="M689 241h1M195 222h3M403 197h9"/>
<path stroke="#10e030" stroke-width="7" d="M729 240h2M152 310h3"/>
<path stroke="#f0f060" stroke-width="7" d="M791 264h1M714 515h2"/>
<path stroke="#f020e8" stroke-width="7" d="M809 264h1M158 487h2M808 469h3"/>
<path stroke="#ffe030" stroke-width="7" d="M374 383h0"/>
<path stroke="#f018b8" stroke-width="7" d="M739 384h2"/>
<path stroke="#ff3a10" stroke-width="7" d="M906 425h3"/>
<path stroke="#f82888" stroke-width="7" d="M852 457h4"/>
<path stroke="#ffb820" stroke-width="7" d="M772 586h1"/>
<path stroke="#ff7060" stroke-width="7" d="M826 574h2"/>
<path stroke="#30c8f8" stroke-width="7" d="M933 594h0"/>
<path stroke="#30ff90" stroke-width="7" d="M281 678h0"/>
<path stroke="#b418ae" stroke-width="7" d="M800 135h5"/>
<path stroke="#5010e8" stroke-width="7" d="M814 141h4M315 188h3M112 297h1"/>
<path stroke="#2058f0" stroke-width="7" d="M228 207h3M776 165h4M421 316h4"/>
<path stroke="#8418f0" stroke-width="7" d="M777 214h3M293 280h3M143 303h4"/>
<path stroke="#20c840" stroke-width="7" d="M918 183h3"/>
<path stroke="#20c0a0" stroke-width="7" d="M659 237h6M494 365h8"/>
<path stroke="#ff8a10" stroke-width="7" d="M485 333h14"/>
<path stroke="#d01060" stroke-width="7" d="M488 343h8"/>
<path stroke="#b818f0" stroke-width="7" d="M706 374h6"/>
<path stroke="#5010e8" stroke-width="6.5" d="M177 127h1M391 233h2M282 185h6M792 207h5M400 144h10M696 352h6"/>
<path stroke="#a8ff20" stroke-width="6.5" d="M645 98h1M86 229h2M697 233h1"/>
<path stroke="#1818f0" stroke-width="6.5" d="M662 110h2M890 118h3"/>
<path stroke="#f01030" stroke-width="6.5" d="M94 245h2M373 296h1M687 311h2M897 494h4"/>
<path stroke="#50f020" stroke-width="6.5" d="M703 241h2M791 409h1M904 378h1M789 188h5"/>
<path stroke="#54bf78" stroke-width="6.5" d="M722 258h1M607 188h4"/>
<path stroke="#3890ff" stroke-width="6.5" d="M750 277h1M913 283h2M623 231h7"/>
<path stroke="#f018b8" stroke-width="6.5" d="M776 270h2M617 189h5M759 188h2M404 242h5"/>
<path stroke="#0ca824" stroke-width="6.5" d="M771 283h3"/>
<path stroke="#ff8a10" stroke-width="6.5" d="M662 341h2"/>
<path stroke="#b4128a" stroke-width="6.5" d="M783 323h1M703 381h6"/>
<path stroke="#2810c0" stroke-width="6.5" d="M366 390h2M911 379h2M801 165h5M649 250h4"/>
<path stroke="#f0f060" stroke-width="6.5" d="M364 397h3"/>
<path stroke="#f82888" stroke-width="6.5" d="M383 391h1M494 387h5"/>
<path stroke="#10e030" stroke-width="6.5" d="M728 545h2M911 551h2M802 117h7"/>
<path stroke="#ffb820" stroke-width="6.5" d="M775 595h2"/>
<path stroke="#2058f0" stroke-width="6.5" d="M801 624h2M441 432h3M704 440h7"/>
<path stroke="#3c0cae" stroke-width="6.5" d="M801 631h2"/>
<path stroke="#b818f0" stroke-width="6.5" d="M719 673h3M793 195h5M440 339h7M424 361h8"/>
<path stroke="#2496ba" stroke-width="6.5" d="M749 664h1"/>
<path stroke="#20c0a0" stroke-width="6.5" d="M488 8h8"/>
<path stroke="#f020e8" stroke-width="6.5" d="M824 129h5M136 205h2M216 202h5M788 159h6M791 171h4"/>
<path stroke="#ff3a10" stroke-width="6.5" d="M218 175h0"/>
<path stroke="#d01060" stroke-width="6.5" d="M641 207h7"/>
<path stroke="#7ebf18" stroke-width="6.5" d="M919 208h4"/>
<path stroke="#30ff90" stroke-width="6.5" d="M132 250h4"/>
<path stroke="#b418ae" stroke-width="6.5" d="M198 249h3"/>
<path stroke="#20c840" stroke-width="6.5" d="M209 257h3"/>
<path stroke="#8418f0" stroke-width="6.5" d="M637 282h6M703 358h6"/>
<path stroke="#ffe030" stroke-width="6.5" d="M164 311h2M655 405h4"/>
<path stroke="#3cb418" stroke-width="6.5" d="M421 325h10"/>
<path stroke="#1842b4" stroke-width="6.5" d="M644 393h10"/>
<path stroke="#30c8f8" stroke-width="6" d="M43 42h3M366 208h2M241 397h0M792 658h0M442 466h8"/>
<path stroke="#1818f0" stroke-width="6" d="M42 48h2M799 325h3M860 354h1M802 600h2M437 379h5"/>
<path stroke="#f020e8" stroke-width="6" d="M321 52h1M315 150h1M693 186h4M899 258h0M923 387h5M746 595h2M502 38h5M206 214h3M207 303h2"/>
<path stroke="#f01030" stroke-width="6" d="M273 86h1M686 252h3M864 254h1M155 411h1M849 381h0M878 434h2M938 594h0M657 189h6M709 355h4"/>
<path stroke="#f018b8" stroke-width="6" d="M685 70h2M720 242h1M773 258h4M738 390h0M736 457h4M931 494h1M305 339h1M508 335h12M644 388h5"/>
<path stroke="#10e030" stroke-width="6" d="M88 100h0M834 619h3M781 645h0M439 326h11"/>
<path stroke="#8418f0" stroke-width="6" d="M175 94h0M86 210h3M381 336h2M757 450h2M732 553h3M661 123h4M813 165h4M132 269h4M405 247h3"/>
<path stroke="#9c0c48" stroke-width="6" d="M245 120h0M512 366h8"/>
<path stroke="#2810c0" stroke-width="6" d="M664 96h2M383 378h4M774 409h3M858 462h4M217 631h0M719 384h3"/>
<path stroke="#d01060" stroke-width="6" d="M655 109h1M701 378h7M717 388h4"/>
<path stroke="#3c0cae" stroke-width="6" d="M698 138h1"/>
<path stroke="#ff3a10" stroke-width="6" d="M71 197h1M774 300h1M802 366h1M164 227h5"/>
<path stroke="#b418ae" stroke-width="6" d="M95 216h0"/>
<path stroke="#f0f060" stroke-width="6" d="M364 222h3M848 330h2M124 448h0M441 436h7"/>
<path stroke="#a8ff20" stroke-width="6" d="M695 202h2M756 269h2M712 636h0M646 404h3"/>
<path stroke="#20c840" stroke-width="6" d="M694 209h1M79 244h2M224 350h1M906 329h3M716 565h2M142 613h2M713 672h1M825 158h3"/>
<path stroke="#5010e8" stroke-width="6" d="M738 222h2M811 272h2M296 346h0M755 588h0M116 656h0M240 598h1M794 154h1M506 359h9M703 369h8M699 419h11"/>
<path stroke="#ff7060" stroke-width="6" d="M41 252h2M790 305h3M774 581h4M792 628h3M640 297h4"/>
<path stroke="#20c0a0" stroke-width="6" d="M78 234h2"/>
<path stroke="#2a6cbf" stroke-width="6" d="M764 263h1"/>
<path stroke="#189630" stroke-width="6" d="M791 246h3"/>
<path stroke="#20f0d0" stroke-width="6" d="M816 257h2M131 303h3"/>
<path stroke="#b818f0" stroke-width="6" d="M124 368h0M801 571h0M865 150h2M295 179h2M856 196h3M141 233h4M629 238h3M624 280h7"/>
<path stroke="#2058f0" stroke-width="6" d="M801 360h0M189 636h0M800 141h6M198 207h5M814 160h4"/>
<path stroke="#3890ff" stroke-width="6" d="M426 392h1M116 272h3M252 302h3M473 403h8"/>
<path stroke="#70ffa0" stroke-width="6" d="M373 409h1"/>
<path stroke="#f82888" stroke-width="6" d="M872 517h4M729 678h3M320 292h7M442 444h7"/>
<path stroke="#bf5448" stroke-width="6" d="M939 488h0M739 679h0"/>
<path stroke="#30ff90" stroke-width="6" d="M713 545h2M268 217h2M154 225h3"/>
<path stroke="#50f020" stroke-width="6" d="M774 558h2M904 557h4M747 613h1M187 231h4"/>
<path stroke="#b4128a" stroke-width="6" d="M809 582h0M239 263h1"/>
<path stroke="#ffe030" stroke-width="6" d="M721 617h4M716 379h4"/>
<path stroke="#18b49c" stroke-width="6" d="M722 629h3"/>
<path stroke="#ba1e66" stroke-width="6" d="M520 94h2"/>
<path stroke="#ff8a10" stroke-width="6" d="M863 124h5"/>
<path stroke="#8a12b4" stroke-width="6" d="M121 317h5"/>
<path stroke="#6312b4" stroke-width="6" d="M522 200h10"/>
<path stroke="#f01030" stroke-width="5.5" d="M216 7h2M228 13h0M177 80h0M552 52h1M13 102h1M338 269h3M782 264h3M782 286h2M119 388h0M359 378h2M357 395h4M928 423h7M83 461h0M730 498h7M39 593h0M71 632h1M848 639h2M935 620h0M493 5h7M523 31h3M207 236h7M286 328h3"/>
<path stroke="#ffb820" stroke-width="5.5" d="M13 53h0M166 181h3"/>
<path stroke="#f82888" stroke-width="5.5" d="M93 33h1M697 85h0M258 116h1M339 259h2M843 497h2"/>
<path stroke="#2810c0" stroke-width="5.5" d="M51 43h3M229 74h1M732 81h0M152 118h0M851 101h1M897 112h1M783 247h3M921 253h3M356 335h3M799 310h3M192 442h1M431 456h1M938 474h0M729 636h3M718 678h5M518 191h7"/>
<path stroke="#9c0c48" stroke-width="5.5" d="M130 44h0M712 503h2M903 474h2"/>
<path stroke="#10e030" stroke-width="5.5" d="M130 78h1M705 257h2M373 377h2M135 545h1M745 653h3M930 600h3"/>
<path stroke="#2058f0" stroke-width="5.5" d="M304 54h2M318 66h2M40 130h1M159 99h1M357 227h3M812 389h2M861 613h0M246 335h5"/>
<path stroke="#b818f0" stroke-width="5.5" d="M696 70h1M871 328h2M783 496h1M911 504h2M145 577h1M178 620h2M769 142h4M154 316h4M261 319h3M644 335h6M435 402h7"/>
<path stroke="#3890ff" stroke-width="5.5" d="M677 73h3M182 448h0M704 547h3M260 204h4"/>
<path stroke="#30ff90" stroke-width="5.5" d="M727 81h0M355 144h2M922 294h2M750 433h2M71 547h1M161 200h3M719 359h3"/>
<path stroke="#50f020" stroke-width="5.5" d="M36 105h0M662 114h3M748 136h3M695 228h3M385 288h1M691 232h0M879 373h3M170 382h0M264 607h0M258 677h0"/>
<path stroke="#f018b8" stroke-width="5.5" d="M64 105h1M385 214h3M37 233h1M378 289h1M723 276h2M367 329h3M385 480h1"/>
<path stroke="#f020e8" stroke-width="5.5" d="M72 117h0M198 126h1M724 245h0M704 264h3M825 269h3M835 271h4M900 286h2M349 342h0M686 342h3M48 553h2M906 534h3M918 520h0M790 662h3M282 334h4"/>
<path stroke="#5010e8" stroke-width="5.5" d="M235 115h3M688 246h2M844 373h3M905 334h0M885 361h0M354 403h4M504 340h11"/>
<path stroke="#f0f060" stroke-width="5.5" d="M634 109h3M914 600h3"/>
<path stroke="#20c840" stroke-width="5.5" d="M737 111h2M740 149h2M100 341h1M433 432h0M905 461h3M225 522h3M206 634h1M522 263h7"/>
<path stroke="#b4128a" stroke-width="5.5" d="M23 201h0M412 416h1"/>
<path stroke="#1818f0" stroke-width="5.5" d="M84 166h2M712 241h2M308 405h1M262 436h1M782 413h3M869 490h4M206 520h0M801 595h2M888 646h0M100 193h2M293 315h4M700 402h12"/>
<path stroke="#8418f0" stroke-width="5.5" d="M86 217h2M348 239h0M760 358h2M780 366h1M797 373h3M78 505h1M156 474h2M408 448h2M194 563h1M928 519h2M233 622h0M807 606h3M509 59h1M414 345h7M491 382h9M488 500h7"/>
<path stroke="#ff7060" stroke-width="5.5" d="M189 165h1M773 511h3M222 580h1M884 612h3M639 200h6M266 331h3M280 322h6"/>
<path stroke="#70ffa0" stroke-width="5.5" d="M339 245h1M189 509h0M264 612h0M198 303h3"/>
<path stroke="#8a12b4" stroke-width="5.5" d="M364 262h4"/>
<path stroke="#189078" stroke-width="5.5" d="M712 246h3M365 308h2M907 582h0"/>
<path stroke="#a8ff20" stroke-width="5.5" d="M799 233h3M355 477h2M755 467h3M299 601h0M783 611h3M913 604h3M929 628h2M182 174h2"/>
<path stroke="#30c8f8" stroke-width="5.5" d="M928 289h3M755 390h3M791 437h2M765 510h3M95 546h1M719 404h2"/>
<path stroke="#ff3a10" stroke-width="5.5" d="M321 343h3M153 652h3M659 154h3M647 292h3M197 299h3"/>
<path stroke="#d01060" stroke-width="5.5" d="M773 354h3"/>
<path stroke="#bf2b0c" stroke-width="5.5" d="M907 317h0"/>
<path stroke="#6312b4" stroke-width="5.5" d="M368 413h2M793 496h1"/>
<path stroke="#2a6cbf" stroke-width="5.5" d="M505 423h2M607 202h3M645 355h3"/>
<path stroke="#3c0cae" stroke-width="5.5" d="M724 432h3"/>
<path stroke="#ffe030" stroke-width="5.5" d="M793 390h2M807 496h3M792 564h3M834 563h3M894 593h2M8 669h0M802 146h2M118 336h4"/>
<path stroke="#1e0c90" stroke-width="5.5" d="M911 444h2M101 535h2"/>
<path stroke="#20c0a0" stroke-width="5.5" d="M263 466h1M789 521h3M922 614h3M284 318h5"/>
<path stroke="#20f0d0" stroke-width="5.5" d="M332 486h0M505 31h4"/>
<path stroke="#1842b4" stroke-width="5.5" d="M434 462h0"/>
<path stroke="#1212b4" stroke-width="5.5" d="M841 457h5"/>
<path stroke="#ff8a10" stroke-width="5.5" d="M782 522h4M852 612h3M648 190h5"/>
<path stroke="#2496ba" stroke-width="5.5" d="M817 600h1"/>
<path stroke="#bf670c" stroke-width="5.5" d="M773 636h3"/>
<path stroke="#18b49c" stroke-width="5.5" d="M129 668h1"/>
<path stroke="#24bf6c" stroke-width="5.5" d="M267 182h5"/>
<path stroke="#0ca824" stroke-width="5.5" d="M519 319h10"/>
<path stroke="#b418ae" stroke-width="5.5" d="M676 355h11"/>
<path stroke="#3890ff" stroke-width="5" d="M63 8h1M211 49h2M639 36h1M175 88h0M66 263h1M829 366h1M71 517h1M268 482h1M890 547h1M743 662h2M328 106h0M222 335h5"/>
<path stroke="#2810c0" stroke-width="5" d="M139 13h2M47 128h1M111 133h1M209 93h1M180 102h1M298 146h1M755 142h4M93 272h1M338 253h3M930 247h3M390 305h1M61 417h2M107 420h1M835 418h2M513 464h3M733 480h2M785 600h2M827 595h3M933 661h2M180 275h3"/>
<path stroke="#a8ff20" stroke-width="5" d="M304 9h1M139 53h1M268 45h2M36 239h2M122 405h3M83 446h1M751 473h0M268 556h1M774 674h1M160 320h2M487 403h10"/>
<path stroke="#20c840" stroke-width="5" d="M317 13h2M750 38h1M287 113h2M391 246h2M840 301h1M91 345h0M333 365h1M729 425h3M95 495h1M340 501h4M395 493h1M413 494h1M246 584h0M781 566h2M223 593h1M253 637h1M781 635h5M729 665h3M619 267h5M423 322h9"/>
<path stroke="#5010e8" stroke-width="5" d="M548 5h1M112 24h0M41 102h1M755 295h0M872 238h1M884 300h0M834 343h4M776 365h2M905 308h1M227 440h0M339 384h1M388 420h1M427 426h1M731 416h1M861 431h1M271 449h3M398 485h1M905 485h4M112 535h1M48 558h1M223 585h1M833 548h4M36 638h1M18 649h1M895 645h2M451 353h8M503 453h3"/>
<path stroke="#10e030" stroke-width="5" d="M658 9h0M20 25h2M281 25h1M152 157h2M696 214h3M71 240h1M76 306h1M385 347h2M842 311h1M771 360h5M188 447h1M156 505h2M783 468h1M77 560h1M918 577h1M936 673h0M629 271h3M398 168h4M477 406h5M681 407h11"/>
<path stroke="#b818f0" stroke-width="5" d="M8 22h1M48 21h2M77 55h1M193 33h0M52 119h1M654 101h3M877 111h3M59 212h1M367 215h2M401 277h2M781 281h5M818 301h1M380 415h3M170 609h1M844 593h3M787 657h0M641 224h2M433 322h9"/>
<path stroke="#8418f0" stroke-width="5" d="M23 57h1M153 144h1M733 102h1M684 185h4M237 349h3M808 360h1M931 319h1M886 353h1M77 421h1M745 390h3M883 409h1M170 500h0M897 486h3M112 590h2M774 541h2M790 589h5M877 576h1M25 646h1M48 661h1M807 598h2M834 601h3M888 600h2M192 673h3M523 291h1M667 409h5"/>
<path stroke="#6312b4" stroke-width="5" d="M108 20h1M202 17h1M96 166h0"/>
<path stroke="#1818f0" stroke-width="5" d="M141 45h1M12 144h1M84 94h1M57 149h1M213 89h1M625 87h2M723 93h0M744 143h3M11 182h1M366 227h2M375 294h2M848 253h1M907 296h1M88 361h1M697 322h4M900 309h1M210 410h1M233 402h3M211 433h0M794 418h4M836 422h2M824 437h4M338 479h1M401 448h1M124 542h0M895 554h1M123 629h1M225 621h1M459 593h0M756 594h5M889 625h1M492 38h9M800 121h5M215 214h5M251 200h5M197 255h5M439 495h7"/>
<path stroke="#8a12b4" stroke-width="5" d="M59 80h1M422 338h9"/>
<path stroke="#50f020" stroke-width="5" d="M82 72h1M769 73h4M160 88h0M313 93h2M397 246h1M873 246h1M375 317h1M164 384h2M412 412h1M280 515h1M328 497h1M286 528h1M712 568h1M789 569h4M95 593h1M648 124h7M811 129h5M111 267h5M203 334h5M245 343h5M651 441h9M440 499h6M478 502h6"/>
<path stroke="#ffb820" stroke-width="5" d="M105 81h1M273 158h1M348 258h1M142 392h1M240 489h0M883 576h2M210 676h1M180 328h2"/>
<path stroke="#20f0d0" stroke-width="5" d="M150 22h1M574 46h0M749 180h2M214 443h1M164 501h1M257 532h1M716 559h1M766 620h3M75 666h1M770 207h4M610 261h3"/>
<path stroke="#b40c24" stroke-width="5" d="M176 15h3M598 48h1M135 157h1"/>
<path stroke="#20c0a0" stroke-width="5" d="M203 80h1M89 188h0M684 227h4M765 274h3M73 310h3M356 418h4M397 442h1M869 533h3M520 55h1M770 147h5M120 173h4"/>
<path stroke="#ff8a10" stroke-width="5" d="M235 63h1M586 29h2M191 148h1M234 361h1M913 305h1M103 401h1M412 463h2M674 481h3M142 569h1M206 561h1M872 529h0M739 674h1M705 390h7"/>
<path stroke="#0ca824" stroke-width="5" d="M245 80h2M302 353h2M116 216h2"/>
<path stroke="#f018b8" stroke-width="5" d="M285 46h2M645 63h2M122 511h1M62 549h2M263 537h0M872 561h2M146 616h2M815 618h3M923 593h3M786 165h7M174 225h2"/>
<path stroke="#f020e8" stroke-width="5" d="M315 74h1M594 33h2M629 30h1M708 25h1M748 87h1M61 140h1M35 164h1M746 342h4M174 469h1M62 646h1M200 640h1M285 616h1M762 118h2M122 243h5M523 260h4M524 276h9M641 360h10M433 375h7M666 438h8"/>
<path stroke="#ff3a10" stroke-width="5" d="M300 81h1M768 41h1M192 96h1M257 130h1M96 252h1M933 282h2M782 306h2M317 489h0M158 560h0M273 549h2M84 631h2M50 656h1M278 606h1M781 640h1M182 249h1M326 268h5M422 334h7"/>
<path stroke="#f01030" stroke-width="5" d="M303 85h1M53 133h0M297 150h0M628 94h0M338 277h5M259 373h1M281 370h1M719 316h4M879 330h3M367 383h2M420 409h2M781 407h4M160 513h1M296 490h1M809 474h2M43 539h1M111 553h1M176 557h0M229 550h1M723 551h2M781 571h3M758 617h3M790 599h2M113 663h1M867 117h2M522 216h9M692 391h5M437 415h5"/>
<path stroke="#f82888" stroke-width="5" d="M563 22h1M756 106h1M71 183h1M830 280h1M118 421h0M286 377h0M292 397h1M319 381h1M170 458h1M89 541h1M167 582h2M111 641h0M180 656h1M701 624h4M908 621h1"/>
<path stroke="#3c0cae" stroke-width="5" d="M690 24h1M739 227h1M38 344h1M665 480h2M367 573h1"/>
<path stroke="#d01060" stroke-width="5" d="M717 24h1M327 153h1M151 369h2M137 441h1M216 397h1M165 416h1M427 443h1M327 467h1M835 636h1M227 214h5M760 159h3"/>
<path stroke="#f0f060" stroke-width="5" d="M100 108h1M297 137h1M262 504h1M724 562h1M192 628h1M517 187h9"/>
<path stroke="#30ff90" stroke-width="5" d="M121 138h2M210 141h2M529 109h1M64 159h1M366 304h4M267 424h1M904 443h1M187 453h1M152 532h1"/>
<path stroke="#3cb418" stroke-width="5" d="M153 153h2M623 369h1M14 578h1M104 569h1"/>
<path stroke="#7ebf18" stroke-width="5" d="M233 153h1"/>
<path stroke="#2058f0" stroke-width="5" d="M307 93h1M734 149h1M34 222h1M41 178h3M200 432h1M302 407h1M19 657h1M55 669h1M281 191h6M304 208h6M290 304h6M489 425h7M720 421h1"/>
<path stroke="#ba1e66" stroke-width="5" d="M320 113h2M679 673h1M756 209h6"/>
<path stroke="#30c8f8" stroke-width="5" d="M372 157h1M757 137h2M774 244h3M181 350h1M895 439h3M702 503h3M775 679h5M912 678h1M108 273h1"/>
<path stroke="#ff7060" stroke-width="5" d="M821 113h1M67 360h2M145 409h0M746 438h2M41 529h0M865 626h2"/>
<path stroke="#ffe030" stroke-width="5" d="M354 221h5M879 228h4M30 237h1M158 436h1M265 526h0M699 528h3M802 111h5"/>
<path stroke="#bfa824" stroke-width="5" d="M382 247h3M834 266h4M379 494h0"/>
<path stroke="#b418ae" stroke-width="5" d="M740 232h1M315 370h1M745 429h1M121 477h2M20 660h1M304 633h1"/>
<path stroke="#b4128a" stroke-width="5" d="M882 279h1M755 369h2M177 404h1M860 537h2M854 150h5M653 409h6"/>
<path stroke="#2a6cbf" stroke-width="5" d="M88 364h2"/>
<path stroke="#24bf6c" stroke-width="5" d="M713 305h3"/>
<path stroke="#1842b4" stroke-width="5" d="M695 334h3"/>
<path stroke="#70ffa0" stroke-width="5" d="M879 342h1M159 204h5M179 206h4M820 154h4"/>
<path stroke="#b4b448" stroke-width="5" d="M349 405h1"/>
<path stroke="#9c0c48" stroke-width="5" d="M286 425h0M101 502h0M177 640h2"/>
<path stroke="#2496ba" stroke-width="5" d="M180 560h3"/>
<path stroke="#1212b4" stroke-width="5" d="M197 560h1M521 315h5"/>
<path stroke="#bf5448" stroke-width="5" d="M656 600h1M304 309h2"/>
<path stroke="#bf8a18" stroke-width="5" d="M525 205h9"/>
<path stroke="#10e030" stroke-width="4.5" d="M20 6h2M89 9h1M167 45h2M153 61h3M531 16h2M570 36h2M612 32h0M633 56h1M668 26h2M710 55h1M141 157h2M338 152h2M380 134h4M644 92h4M644 103h4M8 160h0M75 202h1M361 165h0M9 233h0M834 277h1M99 356h1M407 357h1M569 361h1M186 432h1M323 391h4M337 424h0M739 409h1M784 427h1M168 466h0M373 469h1M863 491h1M107 521h3M81 553h2M192 521h1M200 572h1M791 533h4M65 633h1M158 601h1M222 633h0M709 642h2M810 624h3M905 601h2M878 606h4M937 604h2M134 673h1M203 677h1M287 669h0M210 173h2M250 288h4M526 136h8"/>
<path stroke="#2810c0" stroke-width="4.5" d="M55 9h1M648 14h0M664 46h1M687 21h1M687 155h2M783 89h2M193 161h1M381 229h4M13 245h2M583 280h1M95 304h4M147 368h1M199 357h1M100 408h1M193 400h1M96 508h2M258 514h1M362 478h0M234 530h2M250 533h0M913 546h2M55 630h0M123 656h2M187 609h2M278 638h1M35 672h2M820 673h1M104 196h3M281 240h3M305 322h3M414 339h2"/>
<path stroke="#2058f0" stroke-width="4.5" d="M58 14h1M162 33h2M628 49h2M66 129h1M274 140h0M317 137h1M732 108h1M93 289h2M384 369h0M153 401h0M383 401h4M384 405h0M841 382h2M165 505h0M12 536h1M24 586h0M241 524h1M211 594h1M373 661h0M905 612h2M886 657h2M107 188h4M521 382h7"/>
<path stroke="#1818f0" stroke-width="4.5" d="M142 9h3M600 12h2M100 61h1M194 60h2M212 53h0M269 41h2M598 28h1M589 42h0M604 40h1M722 72h1M25 145h0M106 133h1M130 129h1M243 127h3M25 205h2M200 162h2M377 245h3M396 264h4M744 239h3M710 282h2M920 298h3M241 369h1M303 357h1M409 339h1M76 376h1M129 396h0M148 442h0M292 420h2M257 430h1M391 397h1M367 402h4M420 413h3M374 441h0M410 429h0M512 433h1M636 431h1M847 404h0M146 457h1M204 462h2M206 500h2M193 504h3M250 478h2M414 470h0M667 464h2M734 494h2M887 475h3M938 481h0M87 546h1M119 585h3M154 549h2M211 568h0M180 649h2M349 626h2M760 654h2M836 649h2M84 669h3M146 669h1M780 676h0M172 182h3M615 208h6M871 212h3M598 241h2M143 341h2M276 330h4M489 419h7M438 454h4"/>
<path stroke="#ff8a10" stroke-width="4.5" d="M244 9h1M710 14h0M749 79h3M13 132h1M736 296h3M865 232h4M830 303h3M418 369h1M871 341h2M286 437h1M386 445h1M807 389h2M861 404h2M204 525h0M278 546h1M774 533h1M816 553h4M313 605h2M13 673h2M116 189h4M261 323h4"/>
<path stroke="#8418f0" stroke-width="4.5" d="M291 14h1M29 45h2M93 83h2M217 38h2M228 32h0M216 64h1M278 30h4M638 42h0M715 49h2M738 84h0M716 100h2M96 210h0M8 268h0M469 296h3M894 276h0M71 365h1M123 374h2M890 329h2M81 389h2M100 433h1M113 442h2M224 382h0M225 408h0M269 380h1M862 385h0M785 437h1M778 440h3M806 480h4M919 509h1M245 544h1M218 573h0M283 561h4M274 579h1M706 581h0M48 604h0M54 609h1M122 613h0M41 649h3M204 593h3M414 620h0M651 649h1M743 637h3M791 593h4M842 636h1M802 648h3M871 672h2M203 200h6M780 235h4M159 328h2M523 167h3M489 406h6"/>
<path stroke="#f82888" stroke-width="4.5" d="M314 9h3M8 36h0M245 86h1M26 153h1M238 140h2M328 126h4M282 136h2M304 139h1M100 178h0M723 193h2M685 264h5M905 289h1M83 338h1M730 311h4M793 360h0M850 361h4M929 359h6M407 413h1M838 405h1M187 470h1M306 457h1M304 484h2M403 481h0M662 461h2M89 565h1M212 520h1M42 610h2M60 642h0M853 594h4M772 642h2M794 653h3M760 155h1M704 342h8"/>
<path stroke="#20f0d0" stroke-width="4.5" d="M573 10h2M19 98h1M88 276h1M366 296h0M893 273h2M61 369h1M200 354h1M199 368h0M367 317h1M71 444h1M203 377h1M147 425h0M766 406h1M66 513h1M129 560h0M734 524h2M42 656h2M211 657h1M878 650h2M436 335h11M715 344h1"/>
<path stroke="#f018b8" stroke-width="4.5" d="M592 8h0M13 50h2M164 21h2M192 44h1M557 29h1M610 20h0M623 17h0M616 37h1M580 43h1M17 158h3M721 89h1M716 189h0M54 232h1M739 270h4M37 305h2M87 336h2M234 373h0M939 354h0M95 385h2M122 418h0M188 506h0M328 477h1M268 506h2M774 460h3M78 564h1M233 545h1M251 584h0M711 577h1M792 541h4M54 599h1M99 650h2M247 598h2M222 660h0M268 597h1M825 640h1M914 632h1M527 45h2M140 201h2M420 330h12"/>
<path stroke="#ff7060" stroke-width="4.5" d="M649 9h2M709 9h2M232 69h2M755 33h2M17 148h2M244 152h1M730 93h0M737 144h3M93 160h1M687 198h3M240 357h0M264 374h1M126 389h0M199 401h2M346 397h1M729 445h2M225 453h4M135 572h3M130 629h1M148 645h1M260 597h3M236 270h4"/>
<path stroke="#b818f0" stroke-width="4.5" d="M653 12h0M140 86h3M541 30h1M651 77h1M13 115h1M142 134h1M76 152h1M702 148h1M58 200h2M401 316h0M807 320h3M258 389h1M273 392h1M466 513h2M766 460h4M23 553h2M72 529h2M201 521h1M297 537h0M279 569h1M558 537h1M553 568h2M855 569h1M876 589h3M65 621h0M877 593h4M720 666h4M798 676h1"/>
<path stroke="#5010e8" stroke-width="4.5" d="M699 13h1M123 17h1M146 32h1M234 32h1M269 32h0M251 42h1M588 20h1M709 31h2M717 54h2M737 50h2M755 68h1M23 97h1M81 89h2M112 92h1M258 111h3M280 143h4M25 226h0M54 177h1M353 165h1M382 210h1M390 288h3M738 288h2M899 281h2M240 361h2M325 356h1M791 344h2M808 374h3M88 408h2M180 380h1M175 417h1M199 420h3M258 400h1M282 405h3M783 431h2M129 448h1M96 513h1M225 457h3M200 513h2M726 482h2M110 527h1M102 585h0M246 550h2M12 661h0M61 661h2M116 660h1M247 641h3M815 629h3M65 665h1M890 679h6M107 185h2M196 279h2M166 344h4M449 310h11M644 431h8"/>
<path stroke="#30ff90" stroke-width="4.5" d="M722 5h0M149 85h1M623 71h1M702 79h2M234 142h0M320 127h3M72 264h2M901 297h1M166 433h0M832 401h1M101 465h0M198 496h0M308 502h1M401 476h2M458 506h2M699 518h1M31 644h2M194 606h1M292 628h1M687 622h1M259 665h3M263 668h2M687 665h0"/>
<path stroke="#f020e8" stroke-width="4.5" d="M721 9h1M222 79h2M298 73h2M662 17h2M737 32h1M749 60h2M124 153h1M761 109h2M709 216h2M381 233h4M468 301h4M872 241h2M913 233h4M750 369h0M775 317h0M237 416h3M257 424h0M424 406h1M390 439h4M200 510h3M914 487h1M140 577h1M183 540h2M151 557h1M176 589h1M256 550h0M396 540h1M702 551h4M704 565h4M112 609h0M66 637h0M77 632h1M229 610h1M209 646h4M570 596h1M893 638h2M883 644h0M269 676h4M847 673h3M813 119h9M520 408h7M637 424h8"/>
<path stroke="#ff3a10" stroke-width="4.5" d="M36 17h1M627 16h1M592 85h3M667 37h2M42 97h0M296 122h1M727 150h0M12 276h2M341 263h1M357 263h4M800 264h4M19 333h0M175 364h0M365 313h3M88 380h1M231 441h1M250 389h1M915 386h3M274 461h0M424 493h1M273 571h1M834 625h4M151 669h0M145 267h6M154 303h5M524 327h8M639 420h5M488 502h5"/>
<path stroke="#b4128a" stroke-width="4.5" d="M94 29h2M123 409h1M175 445h2M43 562h1M442 614h1"/>
<path stroke="#f01030" stroke-width="4.5" d="M82 60h2M234 38h2M257 50h0M280 55h2M553 37h0M582 17h1M669 29h1M677 68h3M703 74h2M63 93h4M736 172h4M738 184h1M695 263h5M907 265h3M212 361h1M571 343h1M836 366h2M112 397h1M106 410h1M211 388h2M251 421h1M592 416h0M738 395h5M930 444h4M129 513h2M165 497h1M280 462h0M280 484h2M287 497h1M292 510h1M516 476h2M530 501h0M754 472h1M55 567h1M221 560h2M238 571h1M728 581h0M106 618h2M206 612h0M709 592h1M709 605h3M698 642h2M830 649h0M906 629h1M152 678h2M260 271h5M519 172h5M522 242h2M425 374h2"/>
<path stroke="#20c0a0" stroke-width="4.5" d="M96 79h0M715 36h1M151 114h0M24 177h2M65 189h0M95 293h2M842 253h2M93 368h3M308 396h1M267 442h1M320 493h1M67 589h1M163 561h2M123 609h0M291 604h1M261 618h0M638 411h9"/>
<path stroke="#20c840" stroke-width="4.5" d="M100 85h1M158 33h0M198 73h2M293 45h2M542 57h2M599 73h0M73 125h1M53 179h2M199 164h3M8 280h0M78 298h1M94 345h1M130 343h4M379 312h1M390 373h1M71 472h2M117 488h2M94 516h0M107 516h0M216 492h1M281 497h0M415 450h0M233 526h1M151 543h4M203 577h1M255 567h0M883 557h4M895 621h0M934 649h2M304 221h4M154 286h5M151 326h3M415 353h3M682 390h6"/>
<path stroke="#ba1e66" stroke-width="4.5" d="M121 65h4M141 105h2M96 364h1M406 406h2M686 589h2M60 604h1M186 593h3M605 129h3M116 222h5"/>
<path stroke="#54bf78" stroke-width="4.5" d="M228 36h1M631 52h3M767 76h4M900 293h2"/>
<path stroke="#3890ff" stroke-width="4.5" d="M182 42h2M651 32h1M615 65h0M725 21h2M9 113h0M100 128h1M756 110h1M60 162h0M102 160h4M76 223h4M357 268h3M759 238h4M837 286h2M720 337h0M808 332h0M576 464h1M30 534h3M111 572h1M223 542h0M344 548h1M685 541h2M789 574h4M920 581h1M42 602h2M745 650h0M860 633h2M894 669h1M239 340h2"/>
<path stroke="#1e0c90" stroke-width="4.5" d="M198 54h3M206 124h1M164 150h2M575 127h1M356 252h1M380 444h0M153 502h1M664 496h1M77 592h1M131 659h1M375 656h0M293 220h4M642 407h4"/>
<path stroke="#30c8f8" stroke-width="4.5" d="M179 65h1M18 141h2M47 90h4M756 302h2M900 264h1M325 421h2M582 389h0M170 453h1M187 485h2M337 465h1M697 511h2M77 537h0M61 565h0M165 556h0M38 634h2M187 604h1M19 678h1M654 436h8"/>
<path stroke="#3cb418" stroke-width="4.5" d="M204 69h2M310 601h0M692 646h0M904 656h3"/>
<path stroke="#bf670c" stroke-width="4.5" d="M211 67h2M130 596h2"/>
<path stroke="#6312b4" stroke-width="4.5" d="M181 79h2M553 210h1M87 557h0M707 572h3M500 609h1M122 665h1"/>
<path stroke="#3c0cae" stroke-width="4.5" d="M227 65h0M564 74h2M83 186h2M146 346h3M128 392h2M141 425h2M633 425h2M485 550h0M686 520h2"/>
<path stroke="#18b49c" stroke-width="4.5" d="M216 85h0M529 193h2M436 601h2M276 334h3M428 381h4"/>
<path stroke="#d01060" stroke-width="4.5" d="M281 85h0M553 26h0M245 91h1M644 113h0M713 89h1M710 145h4M789 113h2M17 225h2M78 189h0M60 317h3M356 390h4M371 395h4M727 416h0M588 478h2M105 525h2M76 540h1M198 527h2M231 560h4M281 520h1M268 541h0M281 542h1M30 605h2M164 628h0M859 600h4M888 607h4M861 676h0"/>
<path stroke="#a8ff20" stroke-width="4.5" d="M558 24h2M70 88h1M148 112h1M176 373h1M827 334h4M105 385h1M75 417h4M158 432h2M401 425h1M756 377h4M848 424h2M284 464h3M256 477h3M354 464h3M77 585h0M361 564h0M76 661h1M899 637h0M135 670h1M824 679h4M918 673h1M261 199h4"/>
<path stroke="#1212b4" stroke-width="4.5" d="M530 69h1M298 425h2M255 517h1M727 526h2M665 406h7"/>
<path stroke="#9c0c48" stroke-width="4.5" d="M599 17h0"/>
<path stroke="#7ebf18" stroke-width="4.5" d="M627 24h1M35 159h0M633 498h1M594 580h1M704 673h2"/>
<path stroke="#b418ae" stroke-width="4.5" d="M645 26h0M800 270h4M392 328h1M264 385h1M385 517h1M651 513h2M118 641h1M434 318h4"/>
<path stroke="#ffb820" stroke-width="4.5" d="M586 61h1M720 60h0M17 192h1M298 432h1M679 455h1M55 521h1M108 316h5"/>
<path stroke="#f0f060" stroke-width="4.5" d="M709 51h2M167 140h2M89 442h2M181 384h1M251 580h2M88 597h1M375 593h0M768 648h3M281 209h2"/>
<path stroke="#ffe030" stroke-width="4.5" d="M18 105h2M106 142h1M71 192h2M89 285h2M93 336h1M83 368h0M552 349h2M129 413h2M209 375h1M232 445h0M431 488h0M9 545h0M130 613h0M826 666h1M790 236h3"/>
<path stroke="#bf5448" stroke-width="4.5" d="M47 132h1"/>
<path stroke="#70ffa0" stroke-width="4.5" d="M117 133h1M122 436h1M193 482h1M291 506h2M200 545h0M758 124h3"/>
<path stroke="#50f020" stroke-width="4.5" d="M105 150h2M86 223h3M737 292h3M107 341h1M274 369h2M402 349h4M379 358h1M82 430h1M222 376h0M320 445h1M141 468h0M180 452h2M229 448h2M914 481h2M36 525h2M142 581h3M279 582h2M721 546h3M755 584h3M749 589h2M79 653h1M93 656h2M181 625h3M274 657h2M407 648h2M645 607h1M732 632h3M181 195h1M265 221h3M283 197h3M103 248h3M203 284h2M261 287h4M628 329h4M702 446h8"/>
<path stroke="#2a6cbf" stroke-width="4.5" d="M321 102h2M896 604h3M517 677h1"/>
<path stroke="#8a12b4" stroke-width="4.5" d="M577 133h1M402 492h0M303 566h0M466 649h0M646 195h7M471 498h9"/>
<path stroke="#24bf6c" stroke-width="4.5" d="M383 293h3M395 341h1M398 374h0M530 533h0"/>
<path stroke="#b40c24" stroke-width="4.5" d="M107 357h2M53 463h2M168 585h1M309 578h1M685 577h3M852 599h3M203 278h4"/>
<path stroke="#189630" stroke-width="4.5" d="M385 372h1M305 505h1"/>
<path stroke="#bfa824" stroke-width="4.5" d="M581 360h2"/>
<path stroke="#2496ba" stroke-width="4.5" d="M118 414h1M743 565h3M285 612h1M356 605h0"/>
<path stroke="#bf2b0c" stroke-width="4.5" d="M504 486h1M280 278h4"/>
<path stroke="#0ca824" stroke-width="4.5" d="M887 461h5M547 534h2M290 672h2"/>
<path stroke="#189078" stroke-width="4.5" d="M826 552h2M767 662h1"/>
<path stroke="#1842b4" stroke-width="4.5" d="M606 637h1M793 648h2M843 646h0"/>
<path stroke="#1818f0" stroke-width="4" d="M52 6h2M109 14h1M257 8h1M507 8h2M610 8h1M26 25h0M15 62h1M179 77h2M308 85h2M623 34h2M654 60h2M679 40h2M749 53h2M105 130h2M95 145h2M146 89h1M696 109h2M719 105h2M742 115h3M13 161h0M31 202h2M36 200h1M35 208h2M90 184h2M174 168h4M250 161h2M540 185h2M76 286h2M558 248h2M841 249h2M53 352h2M211 345h1M158 357h2M223 365h2M337 309h2M8 401h2M106 406h2M117 445h3M169 391h2M204 386h2M189 396h2M233 384h2M234 412h3M145 430h1M188 437h2M192 432h2M272 406h2M263 420h1M304 412h2M344 404h1M325 425h2M395 429h1M421 429h2M809 432h5M42 516h3M327 486h1M337 484h2M262 516h2M622 477h2M612 480h2M727 457h3M135 549h1M170 537h2M211 580h1M601 524h1M644 545h1M644 549h2M628 581h0M42 653h2M100 644h1M151 597h4M227 612h1M221 640h1M246 645h2M465 633h2M703 601h1M784 594h3M815 613h4M858 607h5M434 663h2M785 680h3M825 673h1M852 673h2M521 82h3M190 181h5M239 219h3M324 195h4M136 329h4M251 305h2M423 356h6"/>
<path stroke="#2810c0" stroke-width="4" d="M40 9h1M250 37h2M657 32h2M726 45h2M754 81h3M81 136h2M142 140h2M592 176h1M136 347h4M89 356h2M210 357h2M212 365h2M233 366h2M402 307h1M402 313h2M809 305h1M939 361h0M200 404h3M235 408h2M308 429h1M320 425h1M838 384h2M157 450h1M181 456h2M210 456h5M180 485h2M507 510h2M663 466h2M14 532h2M99 521h1M152 540h2M181 572h2M187 589h2M261 521h2M262 572h2M61 610h2M89 592h2M134 656h2M234 658h1M745 632h2M807 629h3M893 634h2M901 632h1M69 664h1M871 669h2M289 245h4M607 280h5M408 284h6"/>
<path stroke="#1842b4" stroke-width="4" d="M72 13h2M133 150h2M246 145h1M560 105h2M568 116h2M41 193h3M559 344h2M547 400h1M837 394h2M48 481h1M502 541h2M490 584h2M413 649h2M616 612h2M704 644h1M604 140h4"/>
<path stroke="#a8ff20" stroke-width="4" d="M95 6h2M604 10h1M733 8h2M37 26h3M118 45h2M239 36h2M310 23h1M308 28h2M262 78h2M565 48h2M682 61h1M723 56h1M737 54h2M732 77h2M733 86h2M36 141h0M222 101h2M227 154h1M597 97h2M609 113h2M731 183h2M812 318h4M871 321h2M115 417h2M162 380h2M196 429h2M293 392h2M340 440h2M731 401h1M58 484h2M100 472h2M231 513h2M286 509h1M419 449h2M262 553h2M96 620h1M72 648h2M244 618h2M146 661h2M222 644h2M282 601h2M412 604h2M763 607h4M286 665h1M754 666h2M777 664h2M791 677h1M509 52h5M521 255h5"/>
<path stroke="#70ffa0" stroke-width="4" d="M111 10h2M53 200h1M22 233h1M23 313h2M264 352h2M80 405h2M269 430h1M407 434h1M270 490h2M406 493h2M234 573h2M250 589h2M307 583h3M19 617h1M481 614h2M81 665h3M520 140h11"/>
<path stroke="#ffb820" stroke-width="4" d="M206 6h4M558 33h2M675 47h2M94 149h2M101 149h1M208 145h2M605 109h2M61 209h3M95 322h3M269 384h1M315 421h1M154 453h1M193 517h2M420 564h2M675 529h3M37 625h3M37 662h1M221 608h3M899 624h2M320 665h2M237 343h2M716 362h5M642 428h6"/>
<path stroke="#f82888" stroke-width="4" d="M192 9h1M273 9h2M627 9h2M36 49h2M71 26h2M147 37h0M203 32h2M240 34h2M145 62h2M204 86h2M249 23h1M298 37h0M251 52h1M542 16h1M552 32h2M686 44h2M105 95h1M122 93h3M100 182h2M77 279h2M838 281h1M836 297h2M937 234h1M934 257h2M83 358h2M397 308h1M409 365h1M694 341h4M924 312h2M140 404h2M140 410h1M76 445h1M267 409h1M396 424h1M414 426h2M828 385h2M871 418h2M174 465h2M187 459h2M214 465h2M228 477h1M228 502h2M293 469h2M331 501h2M407 454h2M394 461h3M674 464h1M688 464h3M95 525h2M121 566h2M87 586h2M105 589h2M120 568h1M315 579h2M588 591h2M874 564h2M32 610h1M106 592h2M61 629h2M139 646h2M227 646h2M402 637h2M156 668h2M196 193h2M274 221h6M437 424h2"/>
<path stroke="#f01030" stroke-width="4" d="M240 9h1M692 15h2M8 45h0M123 28h2M181 33h2M193 73h2M278 35h3M249 56h2M617 49h0M623 49h2M611 59h0M720 65h1M739 79h2M83 117h2M165 108h1M291 109h2M303 114h1M36 218h2M257 166h2M775 289h2M807 293h2M881 268h3M131 353h2M256 360h2M339 353h3M330 360h2M371 312h2M404 303h1M594 345h2M790 325h5M930 313h2M82 392h2M158 441h1M267 398h2M274 445h2M292 439h2M893 383h4M76 517h3M258 461h2M309 482h2M378 480h3M412 489h2M428 472h2M712 509h6M799 502h2M134 561h1M193 567h2M443 553h2M650 521h2M715 584h3M774 545h2M820 582h1M60 591h2M50 613h1M126 606h1M123 652h3M146 599h2M200 605h2M268 594h2M583 660h2M711 618h2M702 639h3M272 664h2M756 679h2M520 43h3M865 143h2M938 218h1"/>
<path stroke="#d01060" stroke-width="4" d="M240 13h2M7 58h2M245 76h2M598 41h2M670 59h1M726 60h2M100 94h1M88 96h2M128 102h2M202 105h3M182 145h1M334 157h0M756 98h1M141 174h0M343 210h2M400 288h2M94 348h2M153 372h2M350 362h2M413 372h1M739 347h2M158 378h1M194 407h2M245 417h2M175 426h2M189 423h1M203 437h1M280 393h1M273 439h1M250 440h1M315 429h2M379 441h2M484 420h4M746 425h2M8 505h1M240 468h1M899 463h2M23 546h2M159 557h2M303 530h1M350 586h1M854 573h1M48 593h1M118 599h1M100 617h1M66 643h2M237 635h2M217 657h2M603 604h1M813 661h2M887 635h2M268 668h1M279 664h2M839 677h4M416 336h1M706 385h6"/>
<path stroke="#20c840" stroke-width="4" d="M249 9h2M307 9h2M734 12h1M211 16h1M179 55h2M247 63h1M559 16h1M604 26h2M639 61h2M715 57h2M685 64h2M129 88h1M199 120h2M209 137h2M186 156h3M714 93h3M743 125h2M727 184h0M20 241h0M789 276h2M877 293h2M66 321h2M72 385h1M302 428h2M401 438h3M129 498h2M322 489h1M699 464h3M31 549h2M47 566h1M59 584h2M159 542h1M179 578h2M292 538h1M82 656h2M214 592h2M241 662h1M274 646h1M403 640h1M558 641h1M127 678h2M698 670h2M305 177h3M105 280h0"/>
<path stroke="#f018b8" stroke-width="4" d="M262 13h2M202 25h4M168 69h2M170 86h2M259 60h2M279 74h2M529 54h2M591 17h1M633 36h2M622 45h2M658 57h2M679 16h1M709 37h1M18 154h1M48 96h2M112 87h2M78 121h2M82 152h3M212 125h2M185 146h2M230 142h2M245 141h2M323 107h1M753 100h1M762 106h1M12 177h2M73 160h1M41 181h2M281 165h2M331 160h2M755 172h3M101 277h2M868 245h1M928 272h2M88 340h1M111 347h4M65 353h2M346 330h2M402 335h2M401 373h1M89 397h2M165 421h1M221 434h2M540 413h1M836 432h4M134 462h3M160 497h1M168 505h2M280 457h2M250 509h2M31 565h2M65 545h2M217 532h3M279 536h2M35 601h2M9 625h2M9 629h0M25 636h2M20 644h2M9 657h1M41 646h1M165 637h1M145 657h2M418 660h2M471 617h2M739 600h4M699 646h2M587 672h2M848 679h2M884 676h1M918 678h3M757 121h2M145 204h4M254 293h4M718 370h3"/>
<path stroke="#20c0a0" stroke-width="4" d="M513 10h1M279 16h2M713 41h2M71 134h1M66 197h2M541 205h2M77 273h2M695 254h6M246 349h2M270 420h2M541 382h2M858 380h2M844 425h1M177 506h1M266 493h2M339 487h2M512 478h2M528 482h2M627 465h2M221 570h2M123 650h3M268 662h1M684 637h2M174 669h3M525 323h7M426 377h3"/>
<path stroke="#189630" stroke-width="4" d="M539 8h2M570 349h2M506 546h2M239 642h1M529 212h5"/>
<path stroke="#f020e8" stroke-width="4" d="M554 14h2M639 9h1M14 45h2M239 18h2M170 42h2M279 64h2M570 17h2M635 28h1M662 80h1M670 84h1M715 69h2M24 101h3M19 136h3M72 141h1M761 101h2M41 172h2M59 205h0M546 169h2M709 222h3M19 270h0M356 276h3M894 296h2M49 365h1M204 344h2M215 345h1M368 373h0M407 353h1M412 360h2M708 335h2M764 337h4M99 390h1M99 406h2M122 400h2M188 389h1M226 446h0M291 381h2M296 385h2M314 392h2M251 402h2M326 437h2M757 405h2M71 457h1M115 453h1M124 502h2M217 472h2M276 500h1M147 521h2M181 525h1M211 548h2M198 557h2M202 564h2M244 557h2M194 575h2M280 524h2M263 560h2M865 533h1M797 563h6M815 581h1M818 577h2M880 547h2M43 621h2M105 629h2M176 594h2M194 641h2M298 661h1M356 624h2M396 621h1M470 593h2M697 604h2M922 601h3M14 665h2M82 673h3M265 681h6M767 202h3M229 256h3M325 245h2M151 330h4M158 332h5M484 482h9"/>
<path stroke="#5010e8" stroke-width="4" d="M577 5h2M672 8h2M197 35h2M187 65h2M270 25h1M529 30h1M536 46h2M618 69h1M629 69h2M703 20h2M939 72h0M120 118h2M181 96h3M248 101h2M234 145h2M291 116h2M251 144h2M315 141h2M702 116h1M30 165h1M27 217h1M147 168h1M731 200h2M20 261h2M70 248h2M66 268h1M83 289h2M329 281h6M713 232h3M808 233h1M896 302h2M107 365h1M135 373h1M354 326h2M401 356h2M415 365h1M419 374h1M720 341h2M832 344h2M880 360h2M70 388h1M106 428h1M192 376h1M182 396h2M220 412h2M163 436h1M301 381h2M280 437h2M322 437h2M361 441h2M366 440h2M605 422h2M910 438h6M82 503h2M186 457h2M204 488h2M242 473h2M250 447h2M291 450h3M377 484h2M397 481h1M402 488h2M356 497h1M130 528h3M141 553h2M129 575h2M247 540h2M258 537h2M321 543h2M861 541h2M18 652h2M100 622h1M170 605h2M160 614h2M257 614h2M572 637h1M593 648h2M901 620h1M299 666h1M696 665h3M762 666h2M162 233h6M267 232h1M289 241h3M130 337h3"/>
<path stroke="#ffe030" stroke-width="4" d="M616 10h2M19 53h2M88 25h2M86 28h2M30 213h2M720 189h1M730 216h2M100 365h1M160 339h1M159 344h1M148 354h2M297 359h2M395 304h2M625 353h3M87 424h2M418 390h2M241 461h2M424 461h2M99 577h2M147 553h2M240 549h1M436 521h2M689 529h3M905 529h4M108 604h2M210 631h2M921 652h2M26 677h1M198 676h2M874 118h6"/>
<path stroke="#b818f0" stroke-width="4" d="M656 13h2M20 34h2M147 26h2M222 85h2M536 69h1M599 21h3M593 53h1M653 44h1M722 32h1M744 85h1M146 93h2M158 105h2M305 105h2M44 205h2M725 221h1M870 250h2M186 349h3M152 358h2M270 353h2M317 365h0M389 336h2M528 366h2M758 329h5M842 355h3M89 402h2M137 437h1M239 382h2M287 405h2M283 421h3M274 441h2M724 446h2M832 396h2M874 409h2M885 431h4M194 469h2M180 517h2M320 485h1M275 505h1M414 485h2M646 457h2M681 462h2M732 484h3M816 517h3M215 576h2M293 573h0M384 560h1M808 578h3M915 563h2M47 643h2M218 640h1M302 614h2M310 641h1M321 657h1M806 592h4M869 600h4M816 641h4M809 656h0M819 660h2M59 665h2M801 678h2M202 196h2M223 291h4M400 156h6M404 193h6"/>
<path stroke="#8418f0" stroke-width="4" d="M679 14h2M31 38h1M100 16h1M109 41h1M163 37h2M248 32h2M210 40h2M159 81h3M197 81h1M246 72h1M262 35h2M558 42h1M703 36h2M732 44h2M727 73h1M25 109h2M124 96h3M136 96h1M76 112h2M96 133h2M53 137h3M190 126h2M176 152h1M203 136h3M203 152h2M363 127h1M67 201h2M152 172h1M564 194h2M871 232h1M182 345h1M228 362h0M552 322h1M712 325h4M47 416h1M239 385h2M175 412h2M229 408h2M280 400h1M297 414h2M322 421h1M353 441h2M420 434h2M727 400h0M744 412h2M856 381h0M860 389h3M319 457h2M373 478h4M751 477h2M669 510h2M809 515h6M14 551h2M35 569h2M129 566h2M113 584h2M186 534h1M192 548h3M147 569h1M273 529h0M255 540h2M256 576h1M414 521h0M372 558h2M124 645h2M225 604h2M203 629h1M279 613h2M297 637h2M192 668h2M239 677h2M116 185h4M322 285h1"/>
<path stroke="#30ff90" stroke-width="4" d="M29 17h2M133 41h1M110 53h2M187 74h2M263 17h0M661 68h3M699 18h1M731 23h3M117 90h2M83 122h1M90 132h2M76 140h2M187 101h2M222 98h2M17 181h2M181 165h2M588 169h2M69 296h1M510 298h11M888 237h2M13 345h2M115 358h2M139 352h2M273 361h2M389 359h2M733 337h1M121 391h2M134 405h2M234 426h1M332 427h2M234 485h2M257 453h0M300 476h2M105 540h2M47 548h3M226 545h1M930 544h3M911 577h2M9 601h1M145 605h1M221 613h0M146 654h1M243 648h4M874 640h3M100 204h2M437 420h8"/>
<path stroke="#2058f0" stroke-width="4" d="M30 21h2M81 77h2M255 78h2M285 71h2M292 69h1M529 66h1M644 29h2M757 62h2M743 66h2M111 117h2M128 149h0M225 126h3M291 129h2M587 152h2M688 111h4M731 90h2M9 205h0M76 184h2M565 190h2M735 198h4M42 247h3M542 253h2M797 289h4M889 300h2M361 325h1M354 330h5M812 329h2M105 388h1M96 397h2M175 409h2M321 377h1M381 420h2M407 424h2M600 393h1M837 390h1M120 454h2M75 485h1M144 487h6M322 469h1M655 455h2M72 521h2M108 537h2M223 565h2M603 541h2M810 547h4M876 558h3M140 625h2M269 607h1M275 660h2M430 626h2M710 599h2M349 668h2M744 671h2M108 237h6M245 263h2M232 345h2M673 395h10"/>
<path stroke="#30c8f8" stroke-width="4" d="M38 37h2M19 57h1M140 41h2M175 41h1M524 20h1M690 53h2M681 76h2M36 173h1M31 205h2M54 265h2M71 393h2M214 394h3M836 399h2M729 563h2M130 609h1M321 637h2M264 661h2M520 47h2M905 183h6M186 279h6"/>
<path stroke="#ff7060" stroke-width="4" d="M38 54h2M588 56h2M750 31h2M687 57h2M702 48h2M309 128h1M704 137h2M48 209h2M734 189h0M102 252h1M343 311h1M724 304h2M875 304h2M59 400h2M108 446h4M182 434h1M412 420h2M202 473h2M314 454h1M907 510h4M66 538h2M67 553h2M77 549h1M211 558h2M245 553h2M177 581h1M687 536h3M688 565h3M868 552h0M8 639h2M49 649h3M262 591h2M267 622h1M258 637h1M763 649h1M887 669h2M512 50h4M605 195h5M437 360h6"/>
<path stroke="#3890ff" stroke-width="4" d="M13 66h2M146 77h2M291 82h2M656 17h1M569 40h2M72 93h0M119 93h1M96 157h2M211 152h2M703 217h2M53 297h2M720 270h4M401 361h1M704 310h5M703 337h2M767 356h2M110 388h2M130 409h2M124 422h2M166 389h2M163 393h2M263 393h1M297 376h2M308 383h2M307 392h2M221 492h2M216 517h2M651 456h1M675 496h2M53 581h3M272 584h2M840 573h5M60 601h2M87 604h2M130 621h1M396 638h2M461 616h1M510 628h2M838 658h2M895 641h3M937 651h1M772 666h2M153 322h3"/>
<path stroke="#3c0cae" stroke-width="4" d="M27 86h1M171 16h2M304 45h2M314 77h3M675 29h1M540 144h2M713 106h2M84 292h1M82 347h2M378 325h1M565 318h2M199 442h1M402 408h1M361 446h2M408 477h2M571 496h2M146 537h2M409 521h1M424 520h2M564 549h2M402 625h2M510 652h1M609 645h2M609 136h2"/>
<path stroke="#1e0c90" stroke-width="4" d="M130 16h1M541 82h1M26 330h2M153 416h1M558 400h1M610 384h2M278 479h2M617 448h2M331 584h2M373 526h2M539 533h2M576 533h2M871 624h2M681 677h0M497 497h3"/>
<path stroke="#20f0d0" stroke-width="4" d="M136 17h2M188 81h1M546 41h2M628 56h1M697 29h1M763 44h1M739 58h2M685 89h3M22 195h3M78 205h2M175 355h3M117 384h2M181 510h2M897 479h4M144 526h2M67 615h2M94 637h2M165 622h2M362 657h2M402 646h2M491 637h2M692 641h2M920 179h7M259 240h6M174 314h4M251 318h5"/>
<path stroke="#10e030" stroke-width="4" d="M116 53h0M140 48h2M81 81h2M199 37h2M203 64h2M193 82h1M270 36h2M558 37h2M552 49h2M593 21h2M570 53h0M656 80h2M37 92h2M87 145h2M120 148h2M314 152h0M25 159h2M727 217h0M14 252h2M94 232h5M576 257h1M880 283h1M83 373h2M116 352h2M130 357h2M215 350h1M402 324h2M98 376h2M205 383h1M182 405h2M190 418h4M210 437h2M261 380h2M308 438h2M408 409h2M541 393h2M789 424h2M83 456h2M92 505h3M154 496h2M175 509h2M408 481h2M422 483h2M418 493h2M662 494h2M670 496h2M36 573h2M84 549h2M46 572h2M193 554h2M239 545h3M153 568h2M279 533h1M286 540h2M362 590h2M373 590h1M482 560h2M939 553h0M918 589h4M17 632h1M122 659h2M240 593h2M216 662h2M274 641h2M425 609h2M397 630h2M534 648h2M906 625h1M882 653h3M686 673h3M808 665h2M602 201h2"/>
<path stroke="#ff3a10" stroke-width="4" d="M130 54h2M235 72h2M551 20h2M588 37h0M564 57h2M640 45h1M715 45h2M754 52h2M726 64h2M70 107h1M136 133h1M303 121h2M710 113h1M274 166h2M64 290h2M59 341h2M309 369h1M397 322h2M396 337h1M388 342h2M389 353h1M622 357h2M811 333h5M906 313h1M71 399h2M94 401h3M76 410h2M252 384h1M395 421h2M381 432h1M385 433h2M825 404h1M781 425h2M886 391h3M204 456h2M326 456h2M362 497h2M535 497h2M691 496h2M227 589h2M861 569h1M87 636h1M49 646h2M73 645h2M276 602h1M281 633h2M901 673h2M103 186h1M302 214h3M295 327h5M721 376h2M718 443h4"/>
<path stroke="#f0f060" stroke-width="4" d="M123 78h2M130 159h1M587 92h1M67 301h2M117 408h1M221 388h2M182 408h1M15 488h2M217 513h1M453 640h2M286 344h3"/>
<path stroke="#b418ae" stroke-width="4" d="M159 17h2M634 61h2M742 62h2M627 103h2M583 116h2M574 205h2M7 248h0M539 249h2M349 326h2M53 417h2M222 393h2M514 425h1M827 389h4M212 477h2M570 560h2M139 617h2M181 601h2M302 605h2M483 629h1M500 621h2M533 628h2M674 661h2M326 669h2M437 462h6"/>
<path stroke="#ff8a10" stroke-width="4" d="M210 20h2M245 43h2M639 33h2M646 33h2M638 72h3M197 97h1M144 118h3M586 197h2M722 184h2M366 369h2M830 354h2M313 401h1M754 437h4M807 385h2M874 412h2M246 457h2M366 473h2M78 557h2M267 576h2M495 521h1M111 620h1M70 653h3M180 617h2M888 660h3M791 673h1"/>
<path stroke="#0ca824" stroke-width="4" d="M187 24h4M553 45h2M708 69h1M715 97h2M575 216h2M9 365h2M122 354h2M576 353h1M577 374h2M38 432h2M60 429h1M148 393h2M217 380h2M400 391h2M576 400h1M575 405h2M164 513h2M652 482h4M575 501h0M403 525h2M467 540h2M524 606h2M487 658h1M527 197h6M435 331h8"/>
<path stroke="#50f020" stroke-width="4" d="M182 37h2M281 69h0M583 52h2M599 62h1M691 16h1M762 49h2M713 77h2M14 87h0M7 102h0M117 122h2M215 101h2M292 104h2M274 135h2M623 94h2M82 161h2M261 175h6M681 254h0M875 263h3M70 348h2M77 336h2M137 362h2M367 322h0M402 369h2M551 345h2M878 365h3M76 397h1M53 421h1M212 380h1M263 417h2M410 381h1M406 386h2M870 381h2M819 400h2M818 404h3M234 466h2M290 481h2M372 512h2M667 468h1M690 470h2M814 480h4M806 504h5M38 545h2M67 530h2M96 583h2M332 524h2M272 544h3M285 550h2M287 558h2M690 557h2M912 581h1M168 640h2M188 657h2M281 609h2M413 637h2M884 641h2M263 676h2M867 676h1M130 172h2M150 332h2M525 220h5"/>
<path stroke="#bf670c" stroke-width="4" d="M229 19h1M60 232h2M843 261h1M639 489h2"/>
<path stroke="#1212b4" stroke-width="4" d="M232 22h2M240 146h1M725 145h2M581 329h2M24 564h2M105 544h1M337 520h2M322 573h1M611 521h2M112 657h1M372 632h2M181 192h3"/>
<path stroke="#2a6cbf" stroke-width="4" d="M234 41h0M263 21h2M674 62h1M89 149h2M756 276h2M830 357h3M774 419h2M304 519h2M320 554h2M482 522h2M640 527h2M564 609h2"/>
<path stroke="#bf8a18" stroke-width="4" d="M211 84h2M48 306h2M634 665h2"/>
<path stroke="#b4128a" stroke-width="4" d="M546 24h2M663 33h2M586 193h2M146 357h2M60 393h2M233 494h2M211 496h2M432 516h2M593 481h2M611 512h1M325 574h2M378 540h2M551 653h2M736 653h3M551 677h2M304 196h2"/>
<path stroke="#6312b4" stroke-width="4" d="M546 68h2M71 335h3M225 376h2M258 416h2M872 422h3M229 472h2M147 497h2M366 521h2M516 540h1M197 612h2M232 593h2M326 592h2M339 633h2M678 646h2M227 673h2M634 672h2M327 172h2M164 290h6"/>
<path stroke="#b4b448" stroke-width="4" d="M558 69h2M606 442h2M587 524h1M296 641h2"/>
<path stroke="#9c0c48" stroke-width="4" d="M674 42h2M331 166h2M570 452h2M675 561h2M334 612h2M394 610h2M432 673h2M188 196h3"/>
<path stroke="#b40c24" stroke-width="4" d="M681 44h1M19 197h2M625 340h3M93 436h1M129 580h2M42 660h2M668 609h2M535 676h2M640 664h1"/>
<path stroke="#bf2b0c" stroke-width="4" d="M767 50h6M303 145h2M26 473h2M344 584h2M394 565h2M693 573h2M391 629h1M656 662h2M898 600h2"/>
<path stroke="#3cb418" stroke-width="4" d="M766 60h2M759 73h3M321 152h1M552 261h1M478 301h0M875 260h2M922 277h3M559 442h2M568 388h1M564 580h2M617 580h2M639 439h8"/>
<path stroke="#189078" stroke-width="4" d="M113 109h2M882 309h1M587 516h2"/>
<path stroke="#8a12b4" stroke-width="4" d="M60 121h1M557 209h2M541 345h2M212 541h2M373 625h2M453 620h2M621 632h2M521 246h3"/>
<path stroke="#7ebf18" stroke-width="4" d="M199 117h3M591 97h2M883 305h2M895 564h3M687 679h2"/>
<path stroke="#2496ba" stroke-width="4" d="M594 132h1M61 346h2M566 362h1M268 417h1"/>
<path stroke="#ba1e66" stroke-width="4" d="M570 145h2M94 222h2M61 269h2M407 401h2M564 408h1M53 449h1M268 460h1M531 477h2M546 509h2M924 522h0M181 596h2M570 604h1M849 642h2M413 672h2"/>
<path stroke="#24bf6c" stroke-width="4" d="M85 313h1M156 464h2M313 545h2M854 678h1"/>
<path stroke="#bfa824" stroke-width="4" d="M285 357h2M418 397h2M529 401h1M330 538h2M298 545h1M518 603h2M524 640h1M617 617h2"/>
<path stroke="#18b49c" stroke-width="4" d="M563 370h2M679 588h2"/>
<path stroke="#bf5448" stroke-width="4" d="M419 442h2M541 389h1M525 438h1M603 414h2M226 497h2M238 509h2M333 574h2M194 660h1M522 391h5"/>
<path stroke="#54bf78" stroke-width="4" d="M572 435h1M662 586h2M143 621h2M354 596h2M52 665h2"/>
<path stroke="#50f020" stroke-width="3.5" d="M35 12h2M296 8h1M537 6h1M629 4h1M598 8h1M724 13h2M67 29h1M165 70h1M191 86h1M268 28h1M274 58h2M284 51h4M309 81h1M571 81h2M25 134h2M134 153h3M203 149h3M314 131h2M269 136h1M691 105h4M13 172h3M689 204h1M703 222h2M391 251h4M748 301h1M103 335h2M53 372h2M68 369h1M131 369h1M168 352h1M204 353h3M276 348h1M406 306h2M860 370h4M12 422h2M101 415h3M44 425h1M336 389h4M308 415h3M274 425h1M251 445h3M390 391h3M559 445h2M855 388h1M215 469h3M293 464h1M308 517h3M373 473h1M535 454h2M509 481h4M648 461h3M686 457h2M9 550h1M8 573h1M38 585h2M70 526h2M40 553h2M105 585h2M140 573h2M172 549h1M188 565h1M228 586h1M269 552h2M419 561h1M475 562h1M674 580h3M865 528h3M82 621h2M187 616h2M280 649h2M280 653h2M423 596h3M366 633h1M768 656h2M826 646h3M754 669h4M600 211h2M768 160h5M440 438h5"/>
<path stroke="#d01060" stroke-width="3.5" d="M47 9h2M174 25h1M223 68h1M239 80h2M303 30h1M616 40h2M649 73h2M745 54h1M142 97h1M60 130h2M313 89h1M324 131h1M354 148h3M53 161h2M55 209h1M576 192h1M52 241h4M581 242h1M859 240h2M783 258h4M907 257h3M899 269h3M925 267h2M70 368h3M176 346h3M329 325h3M344 325h1M414 318h1M389 325h1M627 365h3M331 390h1M746 396h4M60 510h1M83 508h1M201 452h1M247 464h1M199 487h3M236 480h1M239 492h2M215 502h2M234 498h2M264 462h2M301 501h3M333 497h1M419 457h2M610 457h3M9 590h0M101 549h1M118 552h2M187 557h1M226 562h2M233 581h1M251 569h1M279 578h2M419 529h2M425 544h3M131 600h2M52 621h1M87 621h1M135 633h3M111 661h1M205 643h2M274 598h1M331 621h2M615 652h2M738 633h2M802 653h3M877 645h1M9 664h1M12 679h2M193 664h2M863 673h3M130 226h8M233 336h2"/>
<path stroke="#f01030" stroke-width="3.5" d="M52 14h2M82 8h2M281 7h2M546 13h1M622 6h2M615 13h2M634 13h2M8 82h1M246 68h2M256 45h2M274 65h1M547 17h2M544 52h2M623 26h1M585 48h2M645 45h3M714 62h3M755 84h1M43 88h1M94 96h1M132 106h4M129 155h2M181 125h2M286 103h3M593 93h1M570 136h2M708 149h4M23 164h1M18 176h1M47 172h2M54 173h2M392 185h5M398 226h1M557 169h2M582 205h3M81 249h2M78 266h2M398 270h3M540 294h1M759 234h4M828 283h3M11 312h1M78 321h1M112 351h1M145 350h3M291 356h2M394 325h1M409 324h1M570 316h1M846 313h4M837 329h2M936 317h1M25 444h1M88 386h2M122 413h3M77 433h2M75 436h1M89 433h2M175 397h1M200 381h1M246 398h2M168 425h2M182 424h2M216 433h1M243 440h3M350 398h3M261 409h1M402 428h3M414 441h1M595 441h1M102 512h1M134 510h3M210 461h3M227 465h4M188 517h3M257 484h2M264 486h1M298 508h2M519 455h1M604 486h2M726 488h1M939 493h1M204 552h2M181 564h4M239 557h1M182 581h1M293 532h2M262 564h3M263 582h1M302 589h2M609 589h1M717 521h0M13 635h2M55 646h1M175 597h3M188 601h1M154 618h2M151 622h1M255 609h1M296 608h2M324 640h1M481 652h1M829 658h2M100 666h1M809 669h1M868 668h1M232 168h1M295 209h3M261 293h5M773 231h4M144 328h3M521 358h3"/>
<path stroke="#f018b8" stroke-width="3.5" d="M69 9h2M173 8h3M223 7h2M691 9h2M23 61h3M94 21h2M167 25h2M177 60h2M271 77h2M550 28h2M645 20h2M661 64h2M703 77h2M722 76h2M24 105h1M107 108h1M61 125h1M110 113h2M284 92h1M360 146h1M581 97h2M622 102h1M744 101h1M700 145h3M59 170h1M93 181h2M55 214h2M546 174h3M756 180h1M81 279h2M531 297h1M582 285h2M728 262h5M865 242h3M221 345h1M161 356h2M197 372h3M343 305h1M378 320h2M409 336h1M379 353h1M594 313h5M594 327h1M20 408h1M130 385h1M221 441h2M267 376h1M255 393h1M333 383h1M308 419h2M385 411h1M594 408h1M760 400h3M780 437h1M94 457h2M175 452h1M159 457h1M235 448h2M164 510h1M273 456h1M299 505h1M355 468h2M418 452h4M388 485h2M615 465h3M621 468h2M605 488h3M14 528h3M76 589h2M81 589h2M164 534h2M230 537h2M211 546h1M287 524h1M248 546h4M248 572h2M407 526h3M447 589h2M532 529h2M490 553h2M593 561h3M668 520h2M873 551h3M849 573h3M65 592h1M77 598h1M135 604h1M60 633h1M75 638h1M90 632h2M135 625h1M226 598h1M197 630h1M151 658h5M269 602h1M267 617h3M366 597h1M686 605h3M768 644h2M866 596h5M895 629h2M293 664h2M314 677h1M259 209h4M522 164h8M521 312h5"/>
<path stroke="#2810c0" stroke-width="3.5" d="M66 14h2M101 9h3M288 9h2M564 10h3M691 7h2M124 70h1M262 55h2M284 48h4M535 22h1M592 77h3M622 65h1M693 20h1M698 32h1M742 32h3M716 73h1M47 109h4M250 93h2M587 110h2M605 93h2M742 105h2M13 272h2M94 341h1M215 341h2M269 358h2M339 357h2M401 344h1M887 318h3M52 381h1M113 421h2M124 430h3M154 389h1M175 394h2M162 405h2M217 425h2M301 377h2M321 404h1M259 445h2M364 408h2M382 436h3M208 492h2M234 490h1M303 465h2M333 465h1M328 472h2M672 469h3M698 497h1M13 584h1M154 521h1M186 578h2M243 572h1M250 540h0M291 550h2M295 584h2M337 577h2M366 545h2M632 528h1M719 520h2M843 570h1M930 525h1M18 637h3M72 596h3M64 612h1M113 617h2M123 641h3M140 648h1M193 645h2M226 655h1M275 592h2M296 605h2M261 622h2M272 632h2M458 628h2M475 662h2M623 605h2M680 597h1M673 628h3M728 618h4M773 645h1M875 654h2M927 649h2M140 664h2M171 664h1M177 664h1M198 674h1M291 676h1M866 680h1M515 46h1M275 180h4M759 178h0M887 209h6M598 253h6M526 228h6"/>
<path stroke="#1842b4" stroke-width="3.5" d="M88 12h3M715 28h2M556 136h4M574 171h2M583 269h3M582 273h2M31 417h2M60 445h1M318 393h2M581 402h2M773 425h2M14 449h2M559 481h2M563 496h3M71 534h2M367 542h2M528 576h2M586 550h2M611 562h2M680 542h2M332 597h1M337 630h1M513 613h2M489 616h2"/>
<path stroke="#2058f0" stroke-width="3.5" d="M110 6h1M597 6h1M35 81h5M169 57h2M165 78h2M182 68h1M273 72h2M535 33h1M533 37h1M536 48h1M575 42h1M715 21h1M23 128h1M141 100h2M81 155h3M203 109h1M156 148h2M281 120h2M621 97h4M64 164h2M703 247h4M81 308h3M87 304h2M303 370h1M544 306h2M751 372h1M842 317h1M25 377h1M88 429h1M132 424h2M158 406h3M176 430h2M150 444h2M197 424h3M291 404h2M406 392h2M541 419h4M736 414h4M789 434h5M883 413h2M89 518h2M192 465h2M246 489h3M367 477h2M418 488h3M365 512h2M44 545h1M75 581h2M191 528h2M232 563h2M249 577h2M286 571h3M565 533h3M562 537h3M697 558h3M836 559h5M858 574h1M97 632h3M320 628h1M302 645h2M710 596h4M692 628h2M242 664h4M195 196h3"/>
<path stroke="#30ff90" stroke-width="3.5" d="M125 5h4M233 13h1M705 13h1M715 13h1M99 46h2M94 53h3M136 45h1M224 36h1M628 38h1M580 61h2M653 65h2M720 37h2M714 64h2M716 85h2M168 146h2M297 100h3M250 133h2M286 166h2M29 290h3M335 259h1M906 300h3M12 304h3M193 369h2M393 317h1M545 352h2M832 329h2M836 332h1M136 413h2M145 381h1M147 389h3M168 408h2M263 376h4M309 377h1M249 417h2M327 442h2M434 446h1M859 400h2M11 486h4M117 449h1M252 452h2M309 452h1M361 469h1M413 480h1M586 495h3M605 501h2M673 509h4M35 550h1M240 534h1M175 545h1M211 561h2M168 577h3M226 568h2M296 566h1M737 565h3M17 641h2M93 606h1M147 597h1M194 609h2M216 609h1M204 624h2M284 631h3M262 640h3M273 650h3M286 648h2M431 617h3M552 645h2M837 645h2M73 670h1M526 36h4M520 142h11M422 364h2"/>
<path stroke="#1818f0" stroke-width="3.5" d="M134 6h4M622 13h2M111 30h3M141 33h1M117 42h2M153 33h2M189 43h1M211 56h2M239 46h3M225 78h3M264 25h1M292 54h2M285 65h2M564 17h1M575 15h2M592 37h1M633 16h2M641 17h1M600 54h1M621 60h2M606 76h1M668 41h1M761 61h1M84 105h1M78 117h2M206 89h2M9 229h1M89 165h2M724 205h3M11 286h1M358 293h1M586 297h2M766 238h2M934 262h2M93 358h2M245 356h2M813 304h2M841 329h1M934 308h4M37 388h1M88 414h2M53 441h2M106 433h1M76 442h2M170 398h1M175 440h1M204 445h2M285 396h1M263 425h1M390 385h1M559 417h1M839 397h1M862 416h5M778 430h2M30 476h1M139 465h1M89 497h1M83 515h3M181 467h3M147 512h1M306 469h1M309 493h1M303 498h3M435 489h2M444 489h1M401 512h3M544 468h2M627 459h3M664 489h3M700 481h4M720 497h5M61 528h2M88 520h2M64 561h2M89 554h1M43 569h3M101 572h2M175 530h1M222 528h2M216 537h3M148 582h1M280 528h2M303 557h2M449 557h1M434 573h1M647 529h2M698 553h1M748 585h2M782 546h5M29 624h1M13 646h1M90 601h1M128 593h3M116 611h2M82 660h1M130 650h0M175 638h2M227 637h1M320 605h4M345 616h1M558 610h2M464 625h1M611 649h2M645 659h3M703 604h1M697 616h3M901 659h2M135 665h2M238 669h1M292 669h1M424 676h1M503 17h2M364 127h4M928 221h8M106 251h2M200 284h1M405 251h3M417 332h2"/>
<path stroke="#f020e8" stroke-width="3.5" d="M117 12h3M279 12h3M303 5h1M79 24h1M88 52h3M100 56h2M64 81h2M207 29h1M238 41h1M582 57h1M680 38h2M698 36h3M686 73h4M710 77h1M748 70h3M122 100h2M83 112h4M130 131h2M201 93h2M175 142h4M186 150h1M232 149h1M257 146h3M292 153h4M694 144h3M9 200h1M18 200h1M95 186h1M339 165h1M354 160h3M30 234h2M9 276h0M30 301h1M71 244h2M820 252h1M36 309h3M59 312h4M54 369h2M154 353h2M237 374h2M345 320h1M321 369h1M408 319h2M407 345h1M382 358h3M372 372h2M553 336h1M722 351h3M837 353h1M64 392h2M94 377h1M89 390h1M81 432h2M151 384h1M245 422h2M164 428h2M292 413h1M125 517h1M222 474h1M194 509h1M411 458h3M397 477h1M569 476h1M639 492h1M125 529h2M129 541h1M83 577h1M239 540h3M350 529h2M298 562h2M599 557h3M70 605h2M101 597h1M42 616h1M142 628h2M187 624h2M255 629h2M249 632h2M280 641h3M325 657h3M687 625h1M761 662h2M889 620h1M936 617h2M135 677h2M234 672h3M239 673h1M354 664h3M932 677h3M266 237h3M686 237h1M690 395h6M436 387h5"/>
<path stroke="#5010e8" stroke-width="3.5" d="M148 5h4M171 12h2M245 14h1M703 8h1M714 9h1M89 40h2M121 53h3M171 21h1M175 28h3M204 36h1M237 76h2M297 86h1M604 38h2M593 74h2M626 65h1M697 53h1M78 108h2M130 140h2M147 157h1M297 98h1M287 118h1M315 146h1M767 90h3M749 100h1M18 205h1M279 172h3M386 183h2M48 288h1M360 293h2M551 275h1M593 232h3M830 297h1M901 301h2M81 305h1M63 337h2M101 352h1M113 373h1M164 361h1M332 308h2M272 354h1M327 373h2M403 365h2M813 358h3M47 380h1M92 381h2M188 385h1M215 385h1M237 391h4M158 401h1M164 400h3M157 429h1M285 413h2M297 418h1M314 426h1M413 409h1M368 444h1M420 425h2M413 437h1M749 401h2M825 419h1M773 440h1M83 469h1M127 451h3M121 498h3M229 505h2M280 453h2M268 477h2M274 513h3M443 513h3M26 528h2M65 533h3M42 556h2M158 536h3M211 536h3M244 532h1M238 536h2M157 552h2M174 577h1M205 573h1M199 578h1M192 580h1M291 541h2M299 541h1M377 524h1M356 529h1M454 552h1M513 552h1M664 537h2M811 574h4M117 622h2M123 637h1M53 659h3M87 651h1M320 612h2M263 634h1M259 657h2M424 602h3M412 624h1M699 629h1M759 621h3M894 616h2M887 642h3M59 670h2M378 665h1M375 672h1M254 213h3"/>
<path stroke="#6312b4" stroke-width="3.5" d="M272 13h3M246 47h3M77 136h1M15 297h3M32 329h2M20 365h2M67 341h2M593 341h4M47 409h1M518 422h2M616 433h2M627 432h4M232 503h2M643 480h3M610 501h1M201 541h3M237 583h1M403 552h2M669 530h2M687 581h3M292 652h2M316 653h1M471 634h2M634 630h1M680 657h2M610 664h2M871 209h6M498 485h1"/>
<path stroke="#b818f0" stroke-width="3.5" d="M293 8h1M588 13h1M29 29h1M87 86h3M245 21h2M657 26h1M568 77h3M720 42h2M676 82h2M9 132h1M105 117h2M75 133h2M84 140h2M239 89h1M206 144h1M308 149h2M29 210h3M386 178h3M592 205h3M683 218h0M23 238h1M59 238h2M905 260h3M85 341h2M170 349h2M221 342h1M175 361h3M194 357h1M255 369h1M372 305h0M732 332h3M725 340h1M66 385h1M105 424h4M96 433h1M128 435h3M313 377h1M341 394h2M340 400h3M297 441h1M402 433h2M733 422h1M777 396h4M824 400h3M906 433h4M71 449h3M108 469h1M60 478h1M70 507h2M233 454h2M181 477h2M202 477h5M228 485h2M189 497h4M227 516h1M313 457h1M325 481h1M384 488h2M384 493h1M438 514h2M696 468h2M117 534h1M71 554h1M153 528h3M171 533h2M199 550h2M209 576h1M309 533h2M297 549h2M350 545h2M368 525h2M361 530h2M384 557h2M396 584h3M418 586h2M538 542h3M557 540h3M471 557h2M736 560h2M809 557h2M116 632h1M105 662h1M212 636h1M235 662h2M250 621h1M307 621h4M321 642h2M377 620h2M407 642h1M527 648h2M167 669h1M467 676h1M841 674h3M877 665h3M893 665h1M258 276h5M257 305h4M402 150h0M438 399h9"/>
<path stroke="#1212b4" stroke-width="3.5" d="M309 13h2M86 38h2M137 32h1M575 97h2M566 122h1M792 281h3M571 370h1M869 333h2M74 414h5M180 429h2M406 436h2M604 386h3M586 421h2M732 404h1M47 462h1M560 465h3M558 500h1M565 464h2M628 476h2M65 521h1M316 556h1M459 541h3M654 574h3M679 577h2M49 609h1M360 592h1M501 641h1M647 613h1M646 628h3M640 633h2M680 605h1M97 200h1M187 333h2M252 324h5M523 299h4"/>
<path stroke="#f82888" stroke-width="3.5" d="M517 8h2M634 10h1M120 21h5M111 49h2M164 65h1M152 77h2M251 18h2M251 61h3M635 20h2M663 21h2M587 44h2M575 53h1M604 46h2M634 41h1M570 67h3M693 58h2M727 53h1M690 84h3M33 136h3M48 94h6M73 104h1M59 132h2M557 149h1M582 134h1M763 144h1M19 217h1M714 185h3M23 269h1M52 250h3M53 253h1M711 264h4M885 293h1M79 369h1M336 345h1M407 362h2M720 345h3M814 308h2M122 384h1M83 413h1M107 416h1M191 389h2M193 436h1M212 440h1M262 405h1M275 402h3M320 416h1M274 430h2M279 429h1M302 441h3M389 409h2M512 429h1M575 396h1M199 469h2M173 484h0M216 485h1M209 501h3M286 448h1M320 504h2M464 509h1M657 462h3M29 568h1M60 520h2M141 537h1M47 569h2M71 585h1M227 536h1M147 547h1M169 544h4M249 537h2M309 537h2M413 573h1M537 568h1M11 642h1M67 608h1M54 633h1M99 636h2M105 648h1M151 603h3M181 610h1M179 652h2M284 605h1M307 617h4M262 652h2M338 644h2M336 658h3M653 624h1M904 636h2M913 617h2M930 624h3M247 340h5M313 310h3M434 383h9"/>
<path stroke="#ff3a10" stroke-width="3.5" d="M524 9h1M87 16h1M125 26h3M202 20h4M157 72h2M592 43h1M572 49h1M667 61h3M30 142h3M117 105h2M121 124h1M229 106h0M174 138h3M255 149h4M599 89h3M723 110h1M768 101h3M736 108h2M66 252h2M70 254h1M848 248h2M821 297h1M88 368h2M129 373h2M166 358h3M238 366h2M338 325h1M338 329h4M278 360h1M339 366h1M736 321h3M72 434h2M187 378h2M158 421h1M188 412h3M226 414h2M609 426h3M188 473h1M226 489h2M235 501h2M274 516h1M662 457h2M20 572h2M58 570h4M105 572h1M240 588h3M268 522h2M401 573h3M569 586h2M172 591h1M459 606h2M593 616h3M701 598h4M932 612h5M113 672h2M199 669h1M521 88h5M103 201h1M110 221h3M526 380h3"/>
<path stroke="#20c0a0" stroke-width="3.5" d="M519 14h1M130 20h3M112 45h1M124 46h1M143 79h4M266 73h2M304 81h1M552 64h2M101 134h2M541 196h3M30 297h3M358 235h5M367 301h3M862 247h1M842 296h1M900 273h1M78 344h1M41 352h3M139 358h2M181 369h1M267 365h2M806 324h3M918 305h1M75 402h3M63 440h3M215 376h1M278 397h3M302 385h3M327 396h1M278 413h1M94 471h2M310 466h2M326 489h2M518 494h1M52 573h2M193 558h1M208 564h3M244 580h2M286 522h1M283 565h3M13 649h1M35 659h3M737 612h5M193 677h2M523 404h6"/>
<path stroke="#a8ff20" stroke-width="3.5" d="M539 12h4M553 8h3M564 12h2M25 37h2M117 24h1M44 55h5M101 80h1M153 26h1M192 39h1M528 58h2M693 36h2M760 54h3M168 128h4M552 141h2M699 105h1M725 109h3M736 125h3M56 166h1M58 182h2M334 299h1M14 357h3M29 353h2M43 307h2M57 358h1M349 366h5M601 312h1M912 308h2M30 397h3M84 410h1M65 436h3M122 431h3M139 438h1M151 430h1M168 442h2M293 408h1M401 406h1M216 477h2M285 484h2M284 501h3M311 497h1M339 498h1M391 468h1M628 453h1M20 577h2M116 573h1M385 576h2M581 581h3M721 584h1M112 593h2M134 613h2M211 640h2M216 645h2M357 617h1M193 680h1M192 174h4M681 213h3M879 208h3M441 446h3"/>
<path stroke="#8418f0" stroke-width="3.5" d="M581 14h4M750 5h2M36 22h2M18 29h1M31 33h1M27 51h1M77 29h1M131 27h2M52 79h3M59 84h2M245 38h2M267 16h1M304 23h2M298 76h1M585 33h4M563 53h2M592 58h3M644 42h3M680 21h2M744 68h1M70 122h3M105 146h1M233 106h3M237 123h1M148 145h1M198 145h3M298 104h3M303 117h3M278 156h2M713 108h3M764 97h2M8 198h1M101 161h2M85 182h4M41 213h4M153 168h1M541 212h2M853 242h1M905 286h1M20 318h2M70 346h3M79 348h2M136 355h2M204 356h1M226 365h1M400 342h2M396 358h1M397 366h2M610 361h2M30 445h1M89 393h2M52 405h2M54 424h1M220 421h1M186 427h1M273 413h1M344 425h1M542 442h3M581 417h1M719 432h1M864 377h1M938 443h1M88 460h2M104 465h1M71 497h4M231 456h2M180 513h1M250 503h2M413 460h2M422 510h2M592 470h4M17 564h2M29 585h2M116 557h2M164 521h1M169 521h2M182 520h2M217 542h1M304 553h3M296 569h2M488 548h2M628 573h1M641 585h2M877 586h2M14 656h1M42 605h2M60 612h2M94 661h2M233 602h3M247 614h1M186 621h3M185 652h1M393 605h3M429 645h2M490 613h3M534 656h3M540 660h2M564 617h1M564 650h2M888 628h3M304 669h2M365 672h2M905 672h3M252 240h4M600 303h2M719 415h4"/>
<path stroke="#bf5448" stroke-width="3.5" d="M586 10h1M611 53h3M19 302h2M82 283h3M532 257h1M385 353h1M42 413h2M664 509h2M325 554h2M367 530h1M477 569h1M511 583h2M592 567h2M663 581h2M307 630h3M542 605h1M592 676h3"/>
<path stroke="#b40c24" stroke-width="3.5" d="M606 13h2M8 69h1M157 38h2M675 49h3M167 137h5M539 141h5M592 137h3M574 144h3M550 168h2M586 181h3M592 182h2M8 340h1M11 371h2M557 328h1M582 349h1M333 440h1M402 396h1M529 433h3M588 441h1M598 424h1M325 512h1M419 465h3M552 468h1M524 493h1M494 513h3M674 505h2M390 557h2M452 564h4M436 581h2M626 537h4M634 550h2M240 632h1M349 630h1M356 650h3M581 605h2M664 599h3M686 633h1M181 188h1"/>
<path stroke="#3c0cae" stroke-width="3.5" d="M610 12h2M212 25h5M640 50h1M580 73h1M721 17h3M186 117h1M239 118h2M756 373h2M118 397h2M221 424h2M617 398h3M302 480h2M564 469h2M639 461h3M535 560h2M552 589h2M638 571h3M655 578h1M237 629h3M307 609h1M470 620h2M570 657h3M918 637h4M14 668h3M307 674h2M368 676h2M571 676h2M621 664h3M884 664h2M524 355h4"/>
<path stroke="#10e030" stroke-width="3.5" d="M621 9h2M12 70h4M135 85h3M239 21h3M226 25h5M542 32h3M559 84h1M634 32h1M714 18h1M725 37h2M704 41h4M692 65h2M722 81h1M88 89h1M84 110h4M106 103h3M125 88h1M196 102h3M176 134h1M249 116h4M331 132h4M250 149h1M564 88h3M680 94h1M765 94h2M708 115h4M850 115h5M101 165h1M731 223h1M17 253h2M94 240h1M71 269h3M88 293h1M847 302h4M906 276h2M929 277h3M884 290h1M89 354h2M99 360h1M94 373h3M170 362h2M252 349h4M252 353h1M255 353h3M275 357h1M815 326h1M886 313h4M41 394h2M78 383h2M83 384h1M59 412h2M58 436h3M141 432h2M183 375h1M187 392h2M205 433h1M216 437h2M251 425h1M320 433h1M397 390h2M396 397h2M413 445h3M626 388h1M784 376h3M818 422h3M23 484h1M89 469h2M93 484h3M117 494h1M275 488h1M290 493h1M295 500h1M430 466h1M430 508h1M515 474h3M743 476h2M674 514h2M690 513h3M18 568h4M95 521h1M233 541h2M169 554h3M169 589h1M263 541h3M309 540h1M296 553h2M291 584h1M380 545h2M511 565h3M551 586h2M595 529h1M42 613h1M118 645h2M136 660h1M159 617h1M158 620h2M176 633h2M261 605h2M273 609h1M345 596h2M303 624h2M282 661h1M577 594h1M564 612h1M582 633h3M694 601h3M692 624h1M697 650h3M818 657h2M865 658h3M169 681h3M760 671h2M146 201h2M601 219h5M227 301h8M713 338h2"/>
<path stroke="#0ca824" stroke-width="3.5" d="M761 6h1M122 40h2M611 42h2M585 69h3M586 210h1M540 262h2M581 252h1M564 278h3M558 387h2M536 409h2M605 437h1M94 464h3M402 546h3M446 565h2M360 571h2M506 580h2M930 559h3M35 627h3M82 598h2M117 601h2M234 650h2M324 649h2M408 614h1M451 644h2M519 609h2M504 625h2M492 655h3M564 629h2M596 621h2M691 652h2M304 666h1M514 673h1M575 672h2M527 280h5M522 332h4"/>
<path stroke="#ff8a10" stroke-width="3.5" d="M755 10h2M11 58h2M7 86h1M123 73h1M159 25h3M171 62h1M163 81h1M540 37h1M640 24h1M658 66h1M156 95h3M168 132h3M331 153h2M49 165h2M84 234h4M326 280h0M571 293h1M15 361h2M808 369h1M226 390h2M255 405h2M239 457h2M419 460h1M41 573h1M311 570h1M408 541h1M620 536h1M603 573h3M139 636h1M135 646h1M141 658h1M216 636h2M203 657h2M256 626h2M608 619h2M840 611h6M188 668h1M674 672h1M819 666h2M877 670h1"/>
<path stroke="#b418ae" stroke-width="3.5" d="M12 20h1M174 65h1M118 126h1M552 269h3M30 325h1M18 414h2M107 413h2M100 430h2M319 453h2M503 492h4M540 472h3M163 542h1M181 568h2M348 520h2M336 562h3M396 529h4M395 544h1M473 585h2M518 569h1M574 524h1M675 525h2M672 549h3M686 568h2M61 625h2M268 604h2M571 614h2M582 613h3M580 621h2M627 616h1M586 650h2M657 657h2M320 672h1M373 678h2M533 668h2M868 113h5M634 418h2"/>
<path stroke="#20f0d0" stroke-width="3.5" d="M12 41h1M88 45h1M145 21h2M275 38h1M650 37h2M651 49h2M756 39h1M710 84h1M539 113h3M766 105h1M709 140h3M13 226h2M51 273h3M28 384h2M52 429h1M292 434h3M417 394h2M389 429h2M824 416h2M199 481h3M175 495h4M152 516h2M421 468h2M400 472h1M377 514h1M816 505h5M53 590h2M275 521h1M412 570h2M106 644h2M163 600h3M199 602h3M163 616h1M157 625h3M245 633h1M819 670h3M495 14h8M518 133h5"/>
<path stroke="#54bf78" stroke-width="3.5" d="M30 41h1M536 144h0M529 242h2M111 378h2M528 424h2M182 473h2M229 482h3M675 500h4M420 545h2M435 577h2M20 625h1M61 616h2"/>
<path stroke="#70ffa0" stroke-width="3.5" d="M42 21h2M101 42h3M187 53h1M592 48h2M754 154h1M142 168h1M581 220h1M53 324h2M163 353h1M131 427h1M296 407h1M262 433h5M146 449h2M200 502h2M298 577h2M367 553h2M282 592h3M41 665h3"/>
<path stroke="#30c8f8" stroke-width="3.5" d="M90 20h3M134 79h3M226 29h4M269 21h1M541 45h2M562 33h1M603 17h2M661 62h3M668 48h2M744 48h2M696 82h1M29 88h2M64 117h1M93 154h4M158 145h2M897 230h4M234 369h2M742 323h3M668 341h3M832 361h1M83 441h1M133 445h3M168 400h3M348 424h2M563 426h2M135 465h4M297 482h1M30 588h2M100 526h1M151 535h3M199 552h1M343 529h1M334 540h1M344 558h2M441 521h3M453 578h2M151 591h2M205 618h1M309 597h2M482 642h1M598 625h3M696 654h2M740 648h1M232 340h4"/>
<path stroke="#ff7060" stroke-width="3.5" d="M89 34h1M158 69h4M268 57h1M292 48h2M536 24h1M540 49h2M721 30h1M82 130h2M181 118h3M38 226h4M552 220h1M65 364h2M188 373h1M301 437h3M40 485h2M70 501h4M169 495h1M233 516h4M291 454h2M286 490h4M257 498h3M426 456h2M918 505h4M64 524h2M95 536h1M97 550h1M132 569h3M176 521h1M181 585h2M227 582h3M308 529h2M384 580h2M613 566h1M849 569h2M124 620h1M289 609h2M291 624h3M409 605h1M761 641h2M222 173h3M181 177h2M606 284h3M263 307h5M529 272h4"/>
<path stroke="#3890ff" stroke-width="3.5" d="M106 46h2M133 53h1M75 78h1M111 74h1M530 62h2M644 48h1M687 49h4M748 49h1M99 136h3M176 149h1M176 156h1M282 90h4M303 98h2M302 134h2M46 169h2M49 200h1M48 230h2M57 274h2M72 301h1M576 297h3M701 281h2M711 286h5M160 365h2M172 364h1M209 352h5M218 363h1M351 322h1M25 421h3M76 390h2M203 407h4M262 402h1M252 413h1M50 456h1M82 466h3M112 493h0M234 462h2M363 489h2M667 454h4M16 553h2M19 562h3M93 553h3M141 544h2M141 548h2M198 532h2M208 554h1M303 570h2M540 582h2M896 530h5M939 532h0M148 626h1M208 629h4M241 617h1M475 652h2M547 658h1M579 643h2M702 593h2M907 660h2M652 666h2M607 132h5M182 202h3M939 176h0M183 253h2M230 288h1M101 305h2M138 332h3"/>
<path stroke="#20c840" stroke-width="3.5" d="M93 49h1M207 52h1M148 73h1M258 33h2M529 20h2M569 22h2M592 40h1M576 78h3M720 20h1M729 17h2M693 42h1M709 81h2M722 85h0M77 130h1M231 122h1M269 140h2M77 165h2M42 208h1M64 241h2M59 253h2M88 282h2M813 288h2M923 271h2M93 317h4M140 370h3M153 340h2M275 343h1M332 358h3M325 369h4M389 310h2M843 362h5M133 393h1M93 412h1M99 420h2M152 381h1M186 406h2M397 408h1M586 408h2M792 430h3M77 510h2M425 489h1M430 495h2M519 457h1M698 485h4M778 481h5M52 576h3M188 524h2M587 584h1M696 569h2M924 525h1M251 610h1M408 635h2M443 639h2M550 637h3M865 630h3M912 621h2M124 672h1M175 678h1M308 669h1M767 670h2M323 281h1M525 376h3"/>
<path stroke="#ffb820" stroke-width="3.5" d="M129 72h3M188 37h1M568 32h4M674 86h4M24 253h5M553 341h1M244 393h2M830 416h2M77 480h2M157 470h3M259 501h2M285 517h2M385 450h1M598 465h1M78 521h1M158 520h1M222 549h3M395 589h2M564 564h2M690 599h1M762 656h2M104 665h2M194 331h2"/>
<path stroke="#ffe030" stroke-width="3.5" d="M141 82h1M175 85h2M686 41h1M17 102h2M187 96h2M221 153h1M571 140h2M379 180h3M82 277h1M930 270h2M569 326h3M128 417h3M264 446h1M292 441h2M557 405h1M853 402h2M146 453h5M168 449h1M275 453h1M319 461h2M309 484h2M263 509h1M384 464h2M22 573h3M82 537h1M204 538h4M153 576h1M865 564h3M11 632h2M354 656h3M814 657h2M20 672h2M188 192h2M252 243h3"/>
<path stroke="#f0f060" stroke-width="3.5" d="M159 53h1M169 65h1M544 28h2M656 41h3M90 157h2M57 186h2M878 288h1M108 498h3M47 533h1M50 561h1M268 537h1M661 541h3M935 655h1M157 665h1M383 673h1"/>
<path stroke="#b4128a" stroke-width="3.5" d="M186 85h1M589 24h1M563 62h1M550 100h2M528 137h6M53 169h1M555 161h1M535 181h1M17 233h1M546 244h2M558 241h1M545 293h2M569 253h1M580 255h3M116 368h2M343 365h1M588 388h2M379 518h2M575 454h2M622 449h1M625 448h2M581 478h1M629 517h2M646 500h1M59 525h1M105 549h3M116 588h3M388 534h3M628 524h3M378 617h2M371 649h2M447 646h1M548 616h2M466 653h2M575 652h2M685 641h2"/>
<path stroke="#2496ba" stroke-width="3.5" d="M232 78h2M546 72h1M43 356h2M430 497h2M542 494h1M396 580h2M501 536h1M42 641h1M344 642h2M403 617h1M414 677h1M628 678h1"/>
<path stroke="#bf2b0c" stroke-width="3.5" d="M296 31h4M652 29h2M709 33h1M545 149h3M881 258h1M12 330h2M534 337h1M169 436h2M557 425h2M597 396h2M565 476h1M303 523h1M597 571h2M845 588h1M687 629h1M858 661h2M591 667h1"/>
<path stroke="#189630" stroke-width="3.5" d="M258 41h1M641 20h2M536 240h1M558 257h2M859 244h2M899 262h4M14 318h2M534 378h1M43 465h1M654 463h3M354 549h3M507 558h2M657 529h2M635 545h1M47 652h3M140 641h3M396 634h3M390 645h2M501 604h2M651 614h1M581 626h2M910 628h3"/>
<path stroke="#18b49c" stroke-width="3.5" d="M258 74h2M252 373h1M527 498h2M634 472h1M337 557h2M303 581h2M408 536h1M539 589h2M25 640h2M320 661h2M419 597h1M655 611h3M563 633h2"/>
<path stroke="#bf8a18" stroke-width="3.5" d="M546 49h1M563 70h2M553 293h2M574 264h2M59 336h1M318 449h3M604 456h1M535 551h3M437 627h2"/>
<path stroke="#8a12b4" stroke-width="3.5" d="M548 61h2M600 67h2M730 48h1M564 177h2M31 341h1M616 352h1M552 390h3M610 410h2M87 484h1M41 508h3M360 513h2M580 518h2M454 529h2M396 562h3M517 532h1M552 520h2M591 588h2M663 568h2M342 656h3M158 324h5"/>
<path stroke="#bf670c" stroke-width="3.5" d="M536 64h1M73 129h1M575 232h1M843 257h1M407 317h2M593 337h4M35 505h2M471 516h2M576 480h1M454 535h2M459 588h1M38 604h1M380 630h2M685 657h2M911 637h3M425 669h2M519 670h2"/>
<path stroke="#24bf6c" stroke-width="3.5" d="M553 85h2M60 296h2M920 332h2M59 420h1M66 426h2M215 389h3M9 464h1M273 496h4M551 453h2M535 469h3M614 488h1M663 505h1M362 569h2M454 582h2M504 590h1M344 623h1M449 658h1M501 600h2M472 649h3M611 601h1M633 592h2M633 605h1M627 632h2M677 642h2M151 665h2M527 669h2M524 267h9"/>
<path stroke="#7ebf18" stroke-width="3.5" d="M673 34h2M593 120h2M553 234h1M538 302h2M541 340h1M589 320h2M546 432h3M249 522h1M517 522h1M178 630h2M326 624h1M586 618h1M594 629h1M245 678h3M558 678h1"/>
<path stroke="#9c0c48" stroke-width="3.5" d="M133 145h2M81 200h5M576 309h2M591 317h2M559 422h1M819 426h3M308 490h2M391 466h1M618 457h2M374 537h2M429 547h1M435 565h2M401 582h2M523 541h1M532 524h3M662 552h2M437 644h3M656 596h2M639 626h3M250 677h2M269 672h2M499 669h4M619 668h1"/>
<path stroke="#ba1e66" stroke-width="3.5" d="M289 157h3M536 216h2M141 445h2M534 397h2M29 482h1M42 450h2M274 508h2M385 515h4M483 513h2M658 505h1M623 525h1M278 597h4M669 621h2M665 652h2M53 678h1M419 677h1M581 678h1M655 677h2M288 209h4M706 362h9"/>
<path stroke="#189078" stroke-width="3.5" d="M361 149h2M591 160h2M564 284h2M52 365h1M517 434h1M437 504h3M609 510h2M66 573h1M477 526h3M339 624h2M477 621h3M652 633h2"/>
<path stroke="#3cb418" stroke-width="3.5" d="M542 124h2M95 281h4M18 337h1M612 352h2M106 477h4M374 465h1M517 489h2M731 460h3M668 506h1M41 536h3M140 564h2M278 574h3M380 586h1M481 530h2M557 573h1M534 582h2M628 530h1M658 546h3M680 520h1M676 586h1M675 589h1M29 601h3M350 612h2M527 636h3M585 604h2M592 626h3M119 674h1M426 666h2M598 669h1M640 414h9"/>
<path stroke="#1e0c90" stroke-width="3.5" d="M558 143h3M536 159h1M760 114h3M552 188h2M558 244h1M581 262h1M605 367h1M177 377h1M24 499h1M516 505h3M581 489h1M650 497h2M392 537h1M500 556h2M847 586h1M319 594h2M304 656h2M377 596h2M547 597h1M840 633h3M186 339h5"/>
<path stroke="#2a6cbf" stroke-width="3.5" d="M60 173h2M552 173h2M560 293h1M13 326h3M65 387h1M569 445h1M123 535h3M460 526h2M465 529h1M502 529h1M645 569h2M390 591h1M454 636h2M523 598h2M639 616h3M472 677h1M878 673h1"/>
<path stroke="#bfa824" stroke-width="3.5" d="M40 228h5M580 233h1M24 351h2M251 370h1M82 421h3M577 380h2M511 501h1M542 496h1M484 582h2M529 612h2M530 652h2M901 628h1M895 657h1M443 670h2M750 669h3"/>
<path stroke="#b4b448" stroke-width="3.5" d="M513 541h1M383 605h2M427 636h2M391 653h2"/>
<path stroke="#3cb418" stroke-width="3" d="M13 6h2M725 5h1M546 65h3M661 49h1M721 24h2M710 73h3M548 90h1M570 149h3M105 175h1M534 190h3M561 164h3M548 261h2M575 246h2M66 325h2M936 311h1M36 402h1M21 445h1M76 394h3M324 400h4M58 501h3M557 473h2M592 510h3M389 586h2M423 589h3M496 584h3M623 566h3M333 605h3M401 656h3M441 646h2M495 614h3M476 617h3M541 617h3M510 661h2M533 644h3M597 642h2M408 680h2M641 403h0"/>
<path stroke="#3890ff" stroke-width="3" d="M28 9h3M129 48h2M159 76h3M564 41h2M615 53h3M725 42h0M725 84h2M11 119h4M52 140h3M65 141h2M260 141h3M759 116h4M42 198h3M531 181h2M13 268h2M556 273h2M573 238h3M800 246h5M866 236h2M76 353h3M330 336h3M563 322h3M726 337h3M130 401h1M204 413h0M257 420h2M404 380h1M412 390h2M373 414h1M534 393h3M621 444h3M9 510h1M51 469h3M222 470h3M364 469h3M47 537h2M161 584h3M371 548h3M430 556h3M852 536h2M9 644h1M104 654h4M217 595h3M234 606h3M465 661h2M629 607h2M573 668h3M627 672h3M687 670h3M785 673h2M888 663h2M189 200h3M332 303h0"/>
<path stroke="#10e030" stroke-width="3" d="M29 12h1M167 10h2M643 9h2M80 19h1M127 40h1M78 85h3M187 77h3M540 78h2M634 24h3M581 46h2M656 49h2M639 77h2M670 17h2M707 45h3M721 45h1M702 54h2M725 48h1M9 96h0M136 91h1M60 137h2M70 137h2M209 105h3M211 121h1M224 156h0M592 101h3M17 163h2M8 223h1M182 161h1M550 185h3M729 205h3M688 210h2M25 273h3M31 277h1M78 270h0M375 299h3M582 301h3M70 328h2M72 333h3M160 354h2M170 367h1M269 372h2M373 325h2M396 361h2M540 320h3M621 350h3M866 322h1M861 365h4M256 409h2M379 438h3M495 422h6M547 440h2M583 434h2M792 376h4M816 415h3M822 431h7M940 437h0M24 468h1M29 506h3M65 488h3M129 473h2M108 513h3M199 462h2M220 484h3M233 507h3M243 509h3M315 470h3M260 482h3M268 486h1M269 509h1M380 449h2M570 501h3M732 489h2M186 521h3M326 532h3M377 552h2M389 561h3M355 589h2M411 580h2M539 561h3M518 572h2M871 557h2M84 653h0M163 610h2M154 662h2M229 650h2M273 638h2M284 621h3M367 608h2M383 646h3M418 658h1M425 663h3M558 645h3M691 648h1M287 680h2M745 678h3M813 670h2M517 53h3M235 216h5M273 215h5M600 176h2M520 157h11M519 288h5"/>
<path stroke="#2058f0" stroke-width="3" d="M47 6h2M13 81h3M140 29h3M606 34h3M597 45h2M616 57h2M715 33h3M726 34h3M8 94h2M128 126h0M231 117h3M35 292h3M320 339h3M756 336h5M894 313h3M17 397h3M40 382h3M105 376h3M170 413h0M229 426h2M348 429h3M337 444h1M320 476h3M320 501h1M367 465h3M538 489h3M30 521h3M48 529h2M226 530h3M217 559h0M351 537h2M314 553h3M413 533h3M371 577h1M558 528h2M505 560h3M518 562h3M715 587h3M934 533h2M69 594h3M83 617h3M80 636h3M170 612h2M252 605h0M261 638h2M303 638h3M417 653h2M535 633h3M587 610h2M57 677h2M419 665h3M478 665h3M297 174h3M294 212h4M143 225h6"/>
<path stroke="#d01060" stroke-width="3" d="M59 6h3M136 8h2M162 11h1M11 34h3M25 49h1M37 69h3M152 85h3M302 34h1M540 53h0M564 45h2M568 60h2M636 48h1M686 17h2M13 98h2M53 128h2M140 137h3M196 150h2M304 137h3M23 182h2M13 206h3M43 166h3M78 212h2M845 227h11M20 250h2M26 261h3M20 278h3M76 255h2M595 281h3M54 308h2M87 313h3M173 369h3M534 353h3M61 408h0M64 445h2M192 385h1M252 397h2M395 386h2M412 397h2M854 433h2M35 472h2M105 473h3M99 477h3M316 485h2M390 493h2M535 488h3M512 509h3M591 461h3M11 580h3M129 555h3M174 533h3M270 574h2M53 616h2M246 593h0M301 597h3M301 627h2M391 632h3M506 593h3M8 676h0M164 669h2M180 665h2M339 665h3M685 678h4M187 185h4M933 224h9M259 297h3M417 357h3"/>
<path stroke="#a8ff20" stroke-width="3" d="M41 13h3M680 4h2M704 5h1M18 62h0M153 73h2M256 39h3M691 29h2M743 37h3M696 41h1M768 52h4M19 130h3M208 109h3M13 203h3M334 206h0M551 177h3M592 165h0M51 301h3M745 233h1M59 332h3M284 352h2M575 349h3M47 420h3M247 429h3M279 390h3M301 418h2M326 415h2M281 440h2M310 423h2M390 416h3M429 406h0M420 445h3M518 438h3M621 410h2M830 405h3M17 498h2M223 517h2M297 466h2M309 468h2M458 509h2M590 503h2M651 506h2M17 588h3M59 562h2M122 557h3M77 577h4M250 524h2M298 558h2M395 549h1M548 526h3M471 545h2M460 570h2M505 568h3M542 568h3M563 560h2M58 596h2M118 594h2M223 597h1M245 627h2M307 593h2M397 616h3M606 660h2M669 644h3M931 652h3M44 680h6M119 677h1M598 676h3M600 205h4M136 340h3"/>
<path stroke="#ffe030" stroke-width="3" d="M48 13h1M268 13h1M76 38h3M130 80h2M225 44h3M187 70h2M215 81h1M299 27h2M176 145h3M534 120h3M680 88h2M462 296h3M277 373h4M540 367h2M783 345h3M36 381h3M616 385h1M64 477h1M162 452h3M197 492h3M255 448h5M19 526h3M191 546h3M186 552h3M233 590h3M257 585h3M302 576h2M373 522h2M691 569h3M53 594h3M436 623h3M489 621h2M546 639h3M337 675h3M271 175h5"/>
<path stroke="#50f020" stroke-width="3" d="M82 4h2M174 5h3M9 77h1M198 77h3M275 26h2M258 58h3M552 42h1M681 29h2M77 94h2M107 92h2M123 158h2M239 153h3M540 150h2M707 127h4M82 204h0M547 165h3M87 272h3M71 281h2M534 280h3M682 246h0M731 283h3M856 247h3M17 327h4M141 375h3M338 362h3M377 329h0M726 333h3M848 316h1M831 349h3M837 363h2M17 430h2M60 385h3M128 421h4M71 441h3M128 433h2M241 376h2M216 405h2M153 440h3M396 394h2M429 397h0M535 439h3M592 378h3M194 453h3M198 516h5M320 497h3M8 536h0M29 574h3M7 583h1M81 541h2M87 537h3M105 575h4M125 577h1M164 528h2M168 542h3M257 527h3M285 585h3M466 525h1M529 585h2M20 593h2M24 592h3M29 615h3M48 600h3M100 593h3M128 632h2M181 612h3M151 630h3M170 636h2M233 652h1M290 600h2M268 636h2M269 652h2M384 655h2M390 651h2M541 649h2M685 617h1M679 625h3M673 653h2M199 663h3M388 666h3M535 674h3M685 271h4M203 329h0"/>
<path stroke="#5010e8" stroke-width="3" d="M99 6h2M633 5h3M84 25h1M113 39h2M129 64h3M536 52h2M625 54h2M701 28h3M697 46h2M695 60h3M730 40h1M100 113h3M151 89h3M162 97h3M226 149h3M298 118h2M371 153h3M581 120h3M731 97h3M742 97h3M748 96h3M708 131h4M9 171h2M58 179h1M81 188h3M46 214h3M361 160h3M575 165h3M23 264h1M72 284h1M327 239h5M592 236h3M893 242h0M32 338h2M105 352h2M87 373h2M133 368h2M200 344h1M535 342h3M540 374h3M626 343h3M744 347h4M841 334h0M917 309h3M13 434h1M58 388h3M135 397h2M154 393h2M157 417h2M174 422h2M194 425h2M223 437h3M256 440h3M304 424h1M313 434h2M425 401h2M512 437h2M534 444h2M616 380h3M617 439h1M781 380h3M772 443h2M848 428h1M62 461h3M72 480h2M65 510h2M150 461h2M163 469h1M178 488h2M175 492h3M194 487h2M198 490h2M232 476h3M240 484h3M201 504h3M245 505h3M263 477h3M320 513h2M435 470h3M373 516h3M510 513h3M574 450h2M632 456h2M90 550h2M159 527h1M165 538h1M296 528h3M344 536h3M331 548h1M349 569h3M381 521h4M436 538h2M442 549h3M473 541h3M458 550h3M471 549h3M470 561h2M516 545h3M617 537h1M581 546h3M638 545h3M627 590h3M38 617h2M135 621h3M53 655h1M159 606h2M240 621h2M162 645h3M241 656h2M349 598h2M319 633h3M359 629h3M528 602h3M620 608h3M709 644h4M830 653h3M298 677h2M283 174h3M282 212h5M290 213h3"/>
<path stroke="#7ebf18" stroke-width="3" d="M104 6h3M47 179h2M540 172h0M593 193h2M122 357h3M402 353h2M570 322h3M550 434h3M576 393h3M576 426h2M314 500h2M453 509h2M390 576h1M407 577h3M552 538h2M617 525h3M580 569h1M369 656h3M570 621h2M598 658h3M737 638h3M36 680h2M581 673h3"/>
<path stroke="#f020e8" stroke-width="3" d="M77 13h3M93 13h3M181 6h2M573 13h3M628 13h2M663 10h2M157 65h3M156 84h3M542 61h1M638 57h3M674 16h2M710 20h2M691 67h3M36 88h3M30 105h2M48 105h0M94 101h3M100 100h2M140 92h3M241 94h1M238 97h3M231 124h2M207 139h1M541 101h3M545 129h3M571 98h1M94 177h3M547 195h2M64 274h3M325 232h0M742 293h5M875 280h3M31 316h1M14 336h2M71 326h2M42 329h2M48 333h2M65 329h2M64 356h3M58 360h3M71 374h2M279 352h2M249 366h3M378 318h3M866 325h2M65 399h2M125 397h2M157 393h2M186 381h3M163 425h1M163 446h3M196 438h3M245 425h2M262 396h3M302 421h3M267 437h2M276 433h2M342 429h1M406 396h2M418 422h1M557 428h2M629 377h1M632 384h3M28 489h2M47 449h3M89 457h1M93 461h3M76 463h2M51 516h4M208 473h2M535 501h1M726 493h2M934 458h4M32 562h2M57 589h3M185 538h1M221 534h3M163 566h2M187 570h2M208 573h3M291 530h2M338 541h2M262 557h0M321 556h1M412 525h2M376 548h3M527 550h3M597 532h3M8 616h0M36 640h3M135 600h2M142 600h1M53 639h2M233 637h3M176 645h3M264 600h2M336 614h3M320 624h2M277 644h3M360 613h3M434 632h2M414 662h1M588 637h3M75 676h5M99 680h2M113 668h1M235 677h2M408 665h2M418 669h3M766 665h3M602 137h2M939 199h0M940 213h0M107 294h0"/>
<path stroke="#f018b8" stroke-width="3" d="M92 9h3M118 6h3M559 7h2M24 28h3M76 17h3M119 49h2M124 50h1M228 70h2M611 16h3M75 89h3M129 120h2M109 127h3M123 134h3M105 138h2M77 157h3M185 125h2M244 149h3M308 89h3M552 135h2M605 89h3M605 105h3M187 161h3M284 162h2M395 174h3M17 285h3M42 300h2M704 284h2M813 236h1M824 297h2M18 312h3M37 312h3M106 361h3M143 360h3M152 346h3M261 369h3M373 354h3M530 303h3M604 356h2M598 361h2M82 380h3M96 424h0M152 376h3M156 384h3M171 432h2M216 427h2M262 388h1M286 399h3M279 444h2M394 412h3M564 436h1M793 386h3M36 501h3M204 492h2M217 489h2M223 496h2M287 452h1M285 461h3M327 461h0M279 493h3M257 508h3M308 512h3M384 468h3M396 457h0M383 485h3M529 450h3M517 497h2M634 481h1M76 524h2M135 541h2M158 533h2M180 553h3M189 562h1M228 565h2M222 577h2M326 588h1M402 520h3M362 545h1M32 596h1M35 597h3M23 629h3M106 657h2M211 661h3M233 641h2M326 596h3M302 661h3M320 646h2M372 598h3M600 601h1M576 659h3M767 653h3M856 657h1M940 598h1M917 617h2M918 631h2M7 680h0M147 677h2M330 668h3M407 670h3M605 288h4M826 233h3M137 338h3"/>
<path stroke="#ff7060" stroke-width="3" d="M99 12h3M669 9h1M7 18h0M239 65h3M287 41h0M605 22h1M693 46h2M31 108h3M153 149h1M210 156h3M276 122h3M726 97h1M18 229h3M534 232h2M876 300h3M52 316h3M263 365h2M813 365h4M812 368h4M18 420h3M70 381h3M46 437h3M273 410h2M380 408h3M560 437h3M145 460h1M255 481h1M320 517h1M460 501h2M489 513h3M53 529h3M133 564h3M239 520h3M233 569h3M418 550h3M648 533h3M686 561h2M701 572h2M704 576h1M29 638h2M95 618h3M187 649h3M442 610h1M436 647h3M552 613h2M48 669h2M127 673h2M105 181h1"/>
<path stroke="#2810c0" stroke-width="3" d="M133 13h3M571 9h2M37 30h3M18 36h3M42 17h3M77 72h3M167 31h3M234 24h2M211 80h2M297 33h2M280 61h2M295 53h3M649 24h1M598 56h2M602 72h0M653 69h2M704 60h2M767 46h2M117 128h1M271 153h4M8 166h1M75 227h3M537 224h2M8 244h1M65 250h3M904 269h3M886 272h3M13 370h3M84 316h2M98 338h2M70 357h2M194 352h3M408 349h1M31 420h2M110 414h2M177 402h2M221 429h2M315 404h2M285 416h3M318 440h4M546 394h1M830 392h3M53 486h3M128 476h1M112 490h3M129 518h2M205 484h2M210 485h3M244 478h1M305 510h4M293 517h3M425 505h1M581 513h3M667 484h3M42 548h0M67 564h1M246 525h0M204 546h2M220 588h3M332 546h3M268 570h2M598 552h2M673 537h1M684 586h3M915 524h3M36 610h1M9 662h0M97 639h4M187 612h2M233 632h3M244 654h4M286 608h1M339 608h3M255 621h3M337 636h1M286 653h1M315 649h2M315 661h2M389 617h3M623 652h2M825 661h3M924 629h0M383 664h3M391 669h3M603 678h3M865 665h3M680 122h3M296 216h4M223 288h4M499 500h3"/>
<path stroke="#20c0a0" stroke-width="3" d="M169 6h3M251 5h5M257 55h2M296 65h2M623 38h2M661 53h3M701 25h3M763 57h2M611 89h2M279 160h3M271 171h3M376 176h4M13 292h3M66 244h1M80 252h2M75 293h3M35 353h3M55 305h2M278 346h2M313 373h3M380 327h1M407 373h2M20 394h2M31 413h2M139 378h3M225 430h2M40 497h3M48 506h3M238 473h3M8 578h1M65 541h3M81 584h3M255 525h3M616 549h2M34 612h3M49 618h3M210 620h3M448 661h3M260 244h4"/>
<path stroke="#1818f0" stroke-width="3" d="M199 5h3M215 5h7M221 13h3M757 6h1M33 42h3M48 17h3M94 45h1M175 21h1M224 41h4M280 35h3M303 77h3M290 86h2M546 21h3M551 56h2M601 34h2M696 50h3M35 109h2M77 105h2M121 129h2M140 146h3M177 122h4M237 128h1M228 158h2M248 113h3M542 92h1M542 104h2M545 113h2M595 145h2M703 127h3M768 113h2M19 221h2M75 209h2M592 188h3M13 233h2M25 246h0M20 258h2M30 293h3M72 274h3M53 292h3M66 292h1M336 262h0M835 301h2M892 238h3M883 262h3M88 324h1M66 334h2M94 362h3M192 372h3M245 353h3M216 365h1M256 356h3M319 352h3M529 338h1M580 353h2M870 324h3M12 385h3M35 444h3M43 398h1M42 408h2M150 397h3M240 427h2M268 392h2M393 445h5M434 438h2M587 377h1M597 413h3M628 422h1M773 428h2M785 423h3M816 429h3M58 504h1M222 467h3M172 492h0M174 500h0M271 485h3M252 497h0M267 513h1M267 517h2M430 470h3M389 473h3M356 517h2M528 461h3M529 473h3M495 508h3M70 536h2M43 564h1M77 553h1M84 566h0M60 574h3M150 526h3M158 525h3M245 529h1M202 548h3M198 583h3M341 564h2M285 569h2M419 533h3M418 558h3M447 561h2M424 586h3M507 541h1M633 532h2M586 580h2M856 540h0M12 628h2M103 634h3M112 644h2M147 622h2M221 656h2M244 657h2M327 601h3M256 633h2M272 653h3M349 644h3M408 644h2M512 636h2M491 658h3M613 608h2M651 619h1M655 622h2M664 624h2M680 602h2M695 621h4M855 637h2M837 661h4M128 665h3M123 681h3M625 668h3M230 171h6M322 241h4M523 348h3"/>
<path stroke="#20c840" stroke-width="3" d="M227 9h3M641 14h2M686 9h2M77 34h3M634 44h2M611 64h1M634 78h1M744 57h2M67 89h0M42 106h3M70 112h3M84 124h2M164 101h2M246 132h2M146 153h2M296 129h2M571 131h3M541 274h3M530 292h2M564 297h3M817 272h4M153 349h2M262 360h1M273 372h1M331 354h3M629 357h3M140 413h2M194 381h2M214 414h2M266 446h2M339 429h2M402 389h2M541 406h3M766 400h1M55 505h2M88 508h1M180 461h3M238 503h3M289 460h1M324 447h0M315 513h2M407 489h1M505 453h4M513 473h0M47 543h3M109 557h3M198 565h2M378 556h2M449 585h3M666 582h3M912 527h1M55 595h1M235 609h1M245 637h3M251 625h2M309 647h3M494 605h2M580 602h3M599 650h3M239 680h2M827 668h3M112 174h7M106 275h4M598 257h7M146 332h1M253 298h3M268 329h4"/>
<path stroke="#20f0d0" stroke-width="3" d="M297 5h3M511 12h2M140 25h2M255 21h3M25 140h2M527 102h4M586 121h3M25 220h1M269 162h3M25 293h3M70 292h2M825 249h2M94 312h2M165 365h3M334 303h1M413 369h1M116 378h3M121 425h3M541 437h3M75 469h4M49 494h2M48 516h1M390 490h2M534 507h3M656 469h2M587 486h3M645 489h3M661 516h2M296 573h3M540 559h3M731 582h3M71 613h2M116 609h3M48 620h1M129 645h2M207 616h3M402 601h3M443 597h3M612 660h2M389 674h3M516 41h4M525 62h1M211 187h3M203 192h4"/>
<path stroke="#b4128a" stroke-width="3" d="M507 14h2M674 7h2M609 45h1M556 100h3M593 110h3M597 92h3M562 137h3M542 177h2M564 173h2M565 237h2M743 289h2M7 329h0M41 340h3M48 369h3M245 369h1M394 368h3M356 444h3M31 501h3M597 493h3M564 510h3M616 508h3M51 525h3M395 537h2M449 522h2M385 565h1M522 533h2M464 562h3M575 521h3M615 541h3M633 522h3M638 536h2M617 564h3M237 624h4M250 617h2M422 654h3M444 658h1M504 612h3M540 613h3M560 653h2M542 655h3M594 596h2M662 612h2M674 669h2M680 668h3"/>
<path stroke="#f82888" stroke-width="3" d="M529 5h3M588 5h2M76 79h1M186 29h4M238 70h3M303 67h3M524 16h3M557 49h2M697 21h3M12 149h2M41 108h2M170 95h2M186 122h3M240 137h3M292 89h3M284 108h2M598 131h2M701 113h4M731 144h1M353 212h5M559 223h3M836 229h3M35 281h3M65 280h2M883 264h2M905 292h3M71 322h1M48 338h3M83 354h3M164 346h2M246 366h2M265 356h1M341 361h2M377 332h1M389 355h3M575 324h2M895 318h3M20 437h3M227 382h2M220 384h2M238 388h2M218 402h1M151 425h3M412 384h3M517 444h1M852 384h4M36 449h2M28 515h3M53 457h1M57 466h3M139 456h3M234 480h1M157 517h3M308 462h3M252 472h3M261 473h3M426 513h3M524 480h1M517 502h1M557 516h3M592 499h3M571 510h3M689 484h3M737 473h3M19 534h3M87 560h3M71 589h2M135 580h3M173 584h3M310 521h3M269 560h3M303 585h2M441 529h2M443 533h2M553 525h0M31 660h2M164 606h3M436 608h2M356 620h1M460 622h2M609 605h3M838 653h4M59 681h2M146 674h3M147 679h5M349 677h3M680 664h2M410 264h3"/>
<path stroke="#8418f0" stroke-width="3" d="M553 6h2M36 33h4M136 29h2M75 59h3M136 64h2M217 34h3M206 56h1M192 75h3M593 29h3M599 36h1M621 53h2M641 53h3M643 73h3M667 34h2M703 18h2M669 45h2M112 124h2M135 130h2M101 145h2M191 114h3M324 134h3M586 102h3M748 103h3M46 162h2M51 184h3M256 162h2M730 193h3M681 221h0M82 273h3M554 246h2M29 374h2M85 350h1M297 368h1M295 372h4M303 373h1M361 322h3M367 353h0M558 361h3M616 368h2M762 341h6M146 413h3M186 411h4M220 417h3M197 445h3M237 444h3M291 401h2M292 416h2M269 434h2M400 401h3M527 421h3M628 401h3M53 453h3M71 511h2M88 501h2M75 514h3M187 478h3M314 464h1M354 492h3M377 489h4M429 501h3M424 515h3M517 481h2M504 518h2M519 513h3M587 456h2M581 494h2M867 467h3M24 532h3M7 542h2M25 569h2M182 537h1M238 529h3M145 572h3M187 585h4M227 574h2M241 578h3M312 560h2M350 549h2M284 589h2M356 545h2M385 544h2M358 576h3M468 588h3M644 589h2M674 552h2M916 585h3M23 633h3M63 606h2M141 609h2M84 649h1M193 600h1M169 633h3M202 622h3M290 616h2M310 626h3M268 645h2M343 661h1M390 621h2M425 641h2M495 596h2M633 609h2M765 642h3M824 637h2M900 616h2M917 621h3M32 676h1M174 672h3M296 672h3M301 672h2M556 673h3M609 677h3M881 670h2M96 204h0M106 326h0M520 344h5"/>
<path stroke="#0ca824" stroke-width="3" d="M581 6h2M29 80h2M163 49h3M730 38h3M116 112h3M50 149h3M576 120h3M541 181h2M587 189h2M563 201h3M726 196h3M541 237h2M545 240h2M591 248h0M907 273h2M54 314h3M552 333h3M585 317h3M592 357h3M30 400h2M199 417h5M574 441h3M59 482h3M185 481h3M163 517h4M298 469h2M539 481h3M499 516h2M605 453h2M616 462h2M632 484h3M616 504h2M657 500h3M8 531h1M320 537h2M378 520h2M435 534h3M373 562h3M444 556h3M522 577h3M907 575h3M152 633h2M319 597h3M364 604h2M417 613h3M450 597h3M442 601h2M407 618h2M449 634h2M383 641h3M388 641h3M552 625h3M640 593h2M569 633h2M632 649h2M672 650h3M912 624h1M622 677h3M639 678h3M597 244h3"/>
<path stroke="#30c8f8" stroke-width="3" d="M594 5h1M730 4h3M739 6h2M181 28h3M609 38h3M598 77h2M680 23h3M697 25h2M713 81h3M6 119h0M122 145h3M327 156h2M742 112h3M50 193h3M156 168h1M9 240h1M22 289h3M20 368h3M134 366h1M556 366h3M325 376h2M35 460h2M100 517h3M155 510h4M94 556h3M227 577h3M437 525h2M354 582h3M419 580h3M553 561h1M478 577h2M7 609h1M226 660h3M332 593h2M370 637h2M390 661h3M482 662h2M209 672h3M833 135h3M249 276h5M251 310h6"/>
<path stroke="#f01030" stroke-width="3" d="M656 6h3M141 38h3M53 84h1M224 22h5M261 41h2M267 60h3M290 65h1M309 76h2M313 81h3M27 93h5M252 89h3M310 154h2M566 157h2M684 94h3M28 220h2M13 228h1M77 161h3M262 163h3M330 195h4M589 225h2M881 296h2M7 312h1M33 365h3M172 356h4M307 373h2M414 313h2M580 315h3M575 344h2M732 329h2M765 353h2M35 377h3M61 403h3M157 396h2M206 393h1M314 396h3M476 420h6M563 430h2M23 452h3M34 489h3M176 491h1M245 482h2M220 488h3M361 474h2M361 493h3M501 513h2M562 474h2M570 504h2M603 506h3M25 525h2M129 538h2M72 568h0M169 525h2M173 541h3M244 575h3M268 527h2M348 525h2M290 564h3M319 545h3M476 557h2M558 564h3M582 588h2M629 585h1M685 573h3M900 581h3M34 620h3M65 602h2M83 601h1M124 633h2M147 590h0M170 596h2M204 609h2M301 592h2M313 637h2M310 656h3M431 662h3M556 604h3M651 602h2M650 609h3M673 657h2M743 658h3M918 629h3M66 668h3M117 670h2M141 670h2M238 665h2M267 665h1M282 669h3M489 673h1M505 22h3M275 176h4M250 209h6M600 181h1M331 262h1M254 346h3M437 426h2"/>
<path stroke="#b818f0" stroke-width="3" d="M669 6h2M681 10h2M94 36h2M105 85h3M188 41h3M170 80h2M297 44h2M320 61h2M547 36h2M615 21h1M127 144h2M241 100h3M183 153h3M231 138h2M217 158h2M250 128h3M336 158h4M8 264h0M70 276h3M530 285h2M819 249h4M848 262h3M28 310h3M73 340h2M89 350h2M58 373h2M170 345h3M384 329h1M716 336h2M898 306h3M907 303h3M939 323h2M41 401h2M198 387h2M148 404h1M191 422h3M173 436h3M330 378h2M321 398h3M263 442h2M283 429h3M429 434h3M586 414h3M99 467h2M169 462h2M261 458h2M645 504h3M687 461h2M771 486h3M13 569h3M274 525h2M326 528h3M293 557h1M362 552h2M413 557h2M488 525h3M512 528h3M551 573h2M690 534h1M692 553h3M921 573h3M110 598h3M76 619h3M109 636h3M87 658h3M89 663h3M154 599h3M187 598h2M211 612h2M147 634h3M246 662h3M251 614h3M315 630h3M266 658h3M407 621h3M517 646h0M657 633h1M679 650h3M871 661h3M894 662h2M376 679h3M402 672h2M436 678h2M772 678h3M876 676h2M246 220h3M720 356h3M710 367h4"/>
<path stroke="#30ff90" stroke-width="3" d="M719 13h1M8 40h1M35 44h3M315 85h3M553 17h3M575 19h2M614 46h3M645 52h2M665 57h1M645 78h3M711 58h1M738 61h3M152 92h2M170 157h0M529 105h3M37 205h2M87 160h1M62 205h3M81 211h2M564 185h3M24 257h3M64 298h2M768 232h3M852 251h2M806 328h3M85 377h1M93 394h2M203 440h3M273 388h1M553 445h3M841 377h3M111 454h2M129 501h3M297 494h3M253 500h2M403 484h3M362 501h3M616 454h3M657 497h2M210 532h3M240 584h3M310 557h3M465 573h3M727 577h1M824 580h1M884 585h3M129 662h2M173 601h3M239 612h3M256 600h3M249 628h1M266 648h3M512 622h3M587 621h2M635 624h3M625 641h3M196 681h3M261 672h2M603 664h1M182 181h3M682 193h0"/>
<path stroke="#ff3a10" stroke-width="3" d="M743 6h2M7 64h2M245 16h1M166 53h2M205 45h2M190 56h0M278 21h1M536 57h1M618 32h3M588 74h3M129 137h2M286 133h1M321 134h0M71 164h3M48 177h2M194 164h1M30 272h3M59 262h3M574 302h2M863 250h2M88 309h2M94 307h1M164 349h3M187 344h3M147 373h2M396 316h2M407 313h3M729 342h3M29 381h3M255 413h3M29 450h3M19 458h2M71 493h3M162 466h1M331 469h3M292 498h1M285 504h3M359 518h2M482 508h2M535 512h1M640 454h3M633 465h2M617 477h3M599 505h1M83 525h1M147 530h2M232 520h3M222 573h2M251 548h1M336 548h3M277 585h3M327 570h3M431 588h3M470 521h2M656 541h3M37 645h3M69 619h2M216 612h2M144 636h2M146 641h2M296 592h2M287 599h1M326 613h3M654 644h3M679 629h3M760 645h3M872 665h2M927 678h3M238 335h3M524 206h7M471 417h9"/>
<path stroke="#ff8a10" stroke-width="3" d="M31 25h2M208 35h3M217 68h2M272 61h2M657 70h1M101 142h2M725 88h2M738 190h1M885 230h3M8 272h1M13 280h3M55 246h2M877 250h3M333 322h3M47 429h3M145 377h3M182 395h2M434 425h0M622 389h2M600 446h2M43 458h3M175 457h3M168 470h2M325 469h1M390 478h3M355 511h2M88 589h1M146 533h2M205 581h2M299 524h2M309 565h3M313 573h2M912 521h2M54 612h3M135 654h2M407 597h2M443 653h1M512 632h2M664 609h2M638 638h3M663 677h3M813 665h3M187 174h1M439 493h3"/>
<path stroke="#70ffa0" stroke-width="3" d="M25 33h2M7 54h0M530 50h3M675 25h3M711 41h0M367 157h0M69 189h2M529 188h2M587 309h2M164 377h3M761 406h3M789 379h3M162 490h1M338 492h0M350 501h5M727 461h2M215 545h3M349 560h2M883 589h5M20 629h2M289 621h3M332 645h2M512 646h3M682 617h2M829 638h1M517 60h5M254 274h1M102 308h2M227 340h0"/>
<path stroke="#b418ae" stroke-width="3" d="M29 49h2M574 62h3M691 62h3M164 143h2M590 114h3M580 129h3M13 170h3M540 210h2M592 197h4M586 213h3M41 281h2M553 305h2M545 313h2M556 321h3M562 309h3M587 373h3M626 373h4M116 380h3M196 378h3M558 382h1M622 417h3M582 444h2M609 433h3M40 476h3M82 511h3M575 489h3M593 513h2M615 517h3M245 589h1M389 529h2M399 533h2M495 576h2M605 545h3M621 562h1M649 565h2M567 576h3M93 602h2M349 653h2M373 641h3M402 661h3M520 618h3M522 661h2M583 594h1M565 638h3M578 638h1M637 650h3M669 638h2M307 678h2M459 671h3M615 670h2M609 673h2"/>
<path stroke="#54bf78" stroke-width="3" d="M13 76h1M613 422h3M263 496h2M440 588h3M558 545h2M661 533h3M147 629h1M453 626h3M442 649h2"/>
<path stroke="#f0f060" stroke-width="3" d="M12 84h3M165 73h1M621 56h2M586 183h2M16 266h2M46 373h3M251 362h3M413 355h3M47 426h3M383 441h3M48 478h2M52 476h2M200 464h2M140 541h2M204 530h3M285 536h3M27 620h3M313 616h3M400 608h3M407 625h2M654 628h3M169 678h2M181 670h4M394 5h13M478 486h4"/>
<path stroke="#2a6cbf" stroke-width="3" d="M24 81h2M242 133h1M539 137h3M563 125h2M535 173h3M562 365h3M29 438h3M599 376h3M626 395h3M628 429h3M226 513h2M587 490h3M318 561h4M367 581h3M409 601h2M500 596h3M602 641h3M326 677h2M475 482h7"/>
<path stroke="#9c0c48" stroke-width="3" d="M65 23h2M651 40h3M668 21h3M594 141h2M688 125h2M567 182h3M586 177h3M533 316h3M736 324h2M245 385h3M592 384h3M600 428h1M651 492h3M448 545h3M476 544h2M628 548h3M330 642h3M563 605h3M618 636h3M604 669h3"/>
<path stroke="#3c0cae" stroke-width="3" d="M141 17h0M581 77h3M8 147h0M534 125h3M576 89h3M565 129h3M581 160h3M52 261h3M535 368h3M42 376h3M530 391h2M615 416h2M23 518h3M134 469h2M505 502h2M533 517h3M604 449h3M632 460h3M575 517h3M628 513h2M674 517h2M28 545h3M146 549h1M273 537h2M292 560h2M507 532h3M545 537h2M498 545h3M510 560h2M546 590h3M574 560h3M564 573h3M603 589h2M680 584h2M711 581h2M342 602h2M308 652h3M408 593h2M396 625h2M484 601h2M500 638h3M460 649h3M582 636h3M621 616h2M609 640h2M629 649h2M351 673h1M471 669h3M186 205h6"/>
<path stroke="#189630" stroke-width="3" d="M140 20h2M546 216h2M36 286h2M21 296h2M539 277h1M349 311h2M537 321h0M562 340h3M564 348h3M574 362h1M604 353h3M209 444h2M575 384h2M588 397h3M469 507h3M593 485h2M580 507h3M604 496h2M330 557h3M436 530h2M622 556h3M357 601h3M424 605h3M453 602h3M690 616h3M186 666h3M507 665h2M667 665h3M245 267h1"/>
<path stroke="#bf2b0c" stroke-width="3" d="M88 81h3M301 40h3M562 78h3M702 83h3M606 101h1M569 257h3M552 430h2M600 389h0M621 403h2M559 485h3M547 501h3M621 517h3M309 525h2M452 548h2M559 577h2M633 573h2M351 609h3M546 624h3M680 636h2"/>
<path stroke="#8a12b4" stroke-width="3" d="M129 69h2M558 108h2M551 113h2M576 212h2M34 324h3M25 432h2M42 385h2M557 413h3M523 428h3M564 421h2M616 409h3M848 402h1M20 489h2M539 456h3M547 476h3M512 519h3M621 488h2M18 548h1M176 548h3M628 521h3M639 561h2M608 572h3M77 605h3M53 642h2M336 600h3M350 621h1M442 633h3M484 616h2M332 674h2M501 664h3"/>
<path stroke="#ffb820" stroke-width="3" d="M151 81h2M556 55h3M105 100h2M562 226h3M562 289h3M901 277h3M6 497h0M279 505h3M25 561h2M52 533h3M140 556h1M412 552h3M702 568h2M203 661h2M368 662h2M122 670h3M528 665h3M259 301h3"/>
<path stroke="#24bf6c" stroke-width="3" d="M252 33h3M237 150h2M539 133h4M559 219h3M888 298h2M589 348h1M18 385h2M628 381h3M620 392h3M653 445h2M250 460h3M571 480h2M372 573h3M494 537h2M661 575h3M674 569h2M367 649h2M511 609h2M465 628h3M543 621h2M405 673h3"/>
<path stroke="#1842b4" stroke-width="3" d="M273 81h3M527 76h2M546 132h3M535 308h2M19 425h3M375 391h3M528 395h2M599 440h2M8 485h1M245 486h3M332 481h2M553 509h3M607 461h3M528 521h3M481 587h3M344 652h2M454 613h3M465 600h2M475 613h3M646 656h3M924 625h2"/>
<path stroke="#1212b4" stroke-width="3" d="M535 61h3M552 61h2M553 80h3M308 133h3M553 120h3M528 172h2M355 289h3M540 281h3M547 288h3M570 296h3M13 321h3M11 350h3M48 314h3M556 369h3M581 325h3M604 349h3M588 354h2M615 364h2M58 381h2M530 418h2M623 441h3M36 492h3M70 476h3M320 464h3M423 496h3M557 476h3M587 450h2M579 481h3M575 484h2M610 477h2M598 490h3M615 498h3M611 506h3M633 510h3M15 573h3M146 561h2M345 588h3M349 589h2M518 525h1M508 528h2M522 557h2M564 530h3M580 541h3M603 522h3M606 553h2M611 552h2M182 634h3M378 608h3M416 617h3M513 593h3M545 593h3M529 625h2M473 644h2M534 641h3M650 594h3M561 656h3M825 655h2M494 675h3M541 668h3M552 673h3M614 664h3M656 669h1"/>
<path stroke="#18b49c" stroke-width="3" d="M559 65h2M588 112h2M557 178h3M7 296h3M569 285h3M396 352h3M593 369h2M99 414h3M582 429h2M268 465h5M272 568h2M553 542h2M576 557h2M669 554h2M395 593h3M585 640h3M593 652h1M459 677h3M546 665h2M638 237h7"/>
<path stroke="#6312b4" stroke-width="3" d="M594 65h3M577 81h2M655 84h3M708 66h3M301 149h3M547 146h3M41 168h3M559 214h3M551 225h3M593 213h3M536 236h3M559 252h3M547 284h3M18 305h3M580 336h3M25 415h2M10 426h3M50 376h3M267 413h2M291 445h2M540 376h3M580 398h3M579 441h3M536 460h3M541 476h1M597 485h3M597 514h3M660 513h2M18 582h3M326 577h3M389 582h3M570 537h2M627 533h3M651 557h2M133 640h2M350 617h2M413 596h3M389 600h3M412 608h2M428 611h3M533 593h3M555 617h1M492 649h4M500 649h3M511 656h1M593 610h3M619 621h3M647 651h3M668 617h3M30 672h1M309 679h3M450 670h2M464 668h1M483 665h2M638 673h3M692 668h3"/>
<path stroke="#ba1e66" stroke-width="3" d="M684 36h3M565 97h3M587 134h1M569 198h2M743 185h3M568 276h3M29 321h3M384 312h3M408 367h2M536 364h3M574 363h3M75 428h2M546 380h3M564 390h2M622 377h2M621 397h3M10 496h3M94 482h3M251 519h2M326 516h1M539 468h3M574 460h3M616 485h3M260 567h2M440 564h3M495 565h2M546 556h3M564 545h2M595 552h2M614 558h3M649 544h3M631 553h2M133 617h3M327 618h3M350 638h3M374 600h3M389 610h2M448 628h3M424 649h3M536 620h3M521 645h2M627 658h3M331 677h3M455 677h3M550 668h3M647 668h2M600 133h1"/>
<path stroke="#2496ba" stroke-width="3" d="M146 148h2M598 108h3M562 133h3M94 353h2M597 370h3M604 417h3M612 444h2M452 516h3M597 454h3M604 470h0M446 637h3M489 592h3M12 677h3M614 677h3"/>
<path stroke="#bf5448" stroke-width="3" d="M553 108h2M48 205h3M545 201h3M546 208h3M569 188h2M564 205h1M531 253h1M246 374h3M25 481h3M41 473h3M451 506h3M562 460h2M588 460h3M576 492h3M592 524h3M881 580h4M315 621h2M308 636h2M639 606h2M611 653h2M639 640h3M481 677h3"/>
<path stroke="#bf670c" stroke-width="3" d="M557 114h3M807 237h2M540 314h2M547 361h2M587 365h3M53 397h2M52 433h3M586 465h3M603 473h3M355 536h3M406 532h2M489 532h2M559 585h2M577 579h1M378 593h2M382 600h3M392 598h1M408 662h2M494 633h2M557 630h3M540 644h3M661 633h2"/>
<path stroke="#bfa824" stroke-width="3" d="M556 132h3M550 256h3M208 348h2M298 421h2M309 432h2M244 461h2M528 489h3M458 576h3M581 536h3M593 573h2M383 612h3M482 592h3M528 616h3M498 657h3M569 601h3M482 670h3M517 674h1M795 233h1"/>
<path stroke="#189078" stroke-width="3" d="M553 153h3M581 125h3M47 350h3M40 533h3M529 561h3M655 581h3M77 616h3M308 644h3M505 608h3M516 659h3M592 641h2M651 656h2M313 666h1M565 673h3M674 664h2"/>
<path stroke="#b40c24" stroke-width="3" d="M553 157h3M711 135h3M553 230h2M563 249h3M232 380h3M551 377h3M558 376h3M628 446h3M48 464h3M194 461h2M221 480h3M288 470h1M251 512h2M521 478h3M539 484h3M621 484h2M562 516h3M345 569h3M372 553h2M471 577h3M610 580h3M158 628h3M346 609h2M380 639h2M390 657h3M488 606h2M546 612h2M523 657h3M546 646h2M582 597h3M633 616h3M662 621h2M658 624h2M673 639h2M607 680h3"/>
<path stroke="#1e0c90" stroke-width="3" d="M569 95h3M583 89h2M564 100h3M577 138h1M585 137h1M581 217h2M11 290h3M576 339h3M616 361h3M901 316h2M98 425h3M631 398h3M627 406h4M43 481h2M227 469h3M676 485h3M323 524h3M304 548h3M425 528h2M447 534h2M413 548h2M388 566h3M505 585h3M580 521h3M566 541h3M628 560h3M656 562h3M565 568h2M609 577h3M679 569h3M185 629h2M349 605h2M332 629h3M400 620h2M492 600h3M487 625h2M533 618h3M460 640h3M684 662h2M570 669h2"/>
<path stroke="#b4b448" stroke-width="3" d="M541 220h2M574 272h3M38 397h2M552 493h3M494 609h3M528 620h3M423 673h2"/>
<path stroke="#bf8a18" stroke-width="3" d="M571 193h2M134 430h2M534 565h2M591 534h3M892 560h6M141 653h2M300 678h3"/>
<path stroke="#10e030" stroke-width="2.5" d="M34 9h2M165 25h2M211 33h3M273 29h2M263 61h1M596 24h4M638 28h2M685 76h2M718 68h4M8 128h1M17 133h3M101 116h2M94 128h2M245 137h3M308 142h3M366 154h2M67 194h2M155 172h1M17 236h2M20 293h2M58 245h3M593 297h4M690 286h2M824 301h2M877 297h2M36 332h2M16 349h3M53 341h2M75 357h2M203 347h2M320 373h4M385 332h2M412 352h1M574 357h4M627 361h2M117 393h2M42 430h2M70 425h2M71 437h2M141 442h2M145 385h3M227 405h2M231 429h3M297 380h2M302 390h4M518 441h2M569 414h2M599 433h2M737 425h3M852 439h3M296 486h3M296 497h3M522 472h3M614 500h2M13 524h3M127 534h4M152 580h4M344 572h2M516 529h2M522 583h2M617 530h2M128 636h2M141 632h4M164 613h2M163 633h3M192 624h2M223 637h3M338 592h3M318 608h2M326 661h4M596 637h3M319 678h2M360 677h3M540 679h2M634 668h4M903 680h6M531 129h1M179 184h6M629 207h7M848 231h2M718 367h5"/>
<path stroke="#b40c24" stroke-width="2.5" d="M58 9h1M537 82h2M547 86h2M81 230h2M552 301h2M592 293h4M8 352h1M551 318h3M411 394h3M539 417h3M529 445h2M582 377h3M7 456h2M13 465h4M609 449h2M627 505h2M17 531h4M307 588h3M337 568h2M407 549h3M507 548h2M472 574h2M623 530h2M655 569h3M681 561h2M314 640h3M437 617h3M441 626h4M438 635h2M368 645h3M412 644h2M511 601h2M507 644h2M590 622h2M610 632h2M579 651h4M606 648h2M395 670h2M470 665h3M512 668h3M591 664h4M586 676h2M594 272h2"/>
<path stroke="#ffe030" stroke-width="2.5" d="M81 14h3M697 9h2M163 17h2M661 37h2M655 52h4M731 18h2M726 78h2M545 264h2M25 370h3M77 341h2M341 346h2M373 357h4M876 309h4M25 407h2M244 445h2M325 428h2M539 445h3M564 433h4M35 464h4M191 500h5M395 473h1M348 554h3M354 524h3M377 573h3M495 557h3M667 585h3M24 660h3M71 602h2M330 601h2M232 665h2M275 679h2M384 677h5M187 177h3M270 177h2"/>
<path stroke="#8418f0" stroke-width="2.5" d="M106 8h2M523 6h3M19 48h3M627 60h2M708 18h2M669 54h3M696 56h2M754 49h2M730 69h3M114 109h2M68 114h0M242 130h2M264 135h2M536 152h1M563 105h3M615 86h3M732 104h2M291 165h2M533 184h3M547 219h3M568 169h3M60 265h3M20 309h3M38 328h2M54 337h2M390 315h2M539 360h3M569 336h2M773 341h2M939 317h1M30 389h3M23 394h3M6 445h2M30 442h3M35 440h3M94 405h2M70 429h2M116 440h2M215 416h2M257 383h2M250 428h2M373 444h2M627 412h4M610 437h3M53 466h2M77 460h2M157 460h4M177 460h2M158 491h1M191 493h2M333 493h2M435 498h0M455 513h4M517 517h2M620 465h4M697 501h4M158 587h2M232 577h4M301 541h3M309 582h4M435 586h4M584 558h4M611 569h3M734 521h3M674 558h1M65 648h2M130 640h2M163 626h3M314 600h2M297 611h2M343 593h3M348 662h2M401 593h3M463 593h4M540 593h3M627 596h2M667 597h2M75 673h5M373 665h2M761 681h3M793 672h2M830 680h4M900 678h3M905 677h2M209 186h4M521 297h4M446 476h1"/>
<path stroke="#ff3a10" stroke-width="2.5" d="M139 4h4M569 13h3M756 13h1M66 84h2M177 58h3M262 44h2M251 48h2M593 26h2M40 92h2M164 92h5M30 172h2M26 196h3M48 253h3M52 269h5M334 294h1M853 244h2M858 251h2M71 361h0M262 337h2M557 303h4M545 365h2M573 336h3M169 444h3M557 433h3M616 445h2M777 393h1M224 476h2M248 492h3M413 454h3M499 508h3M638 472h4M646 518h3M93 560h4M93 566h4M173 553h3M255 544h4M417 521h2M442 537h3M459 545h2M465 554h3M621 552h2M609 585h3M646 581h3M720 589h2M175 606h2M227 634h2M417 646h3M63 680h3M522 664h3"/>
<path stroke="#20c840" stroke-width="2.5" d="M116 9h3M250 45h2M89 92h2M104 89h2M128 92h3M576 157h2M337 160h2M743 187h4M59 250h2M878 252h2M88 317h2M552 360h2M150 405h3M250 394h3M332 423h3M546 385h2M616 377h3M622 425h2M801 389h2M41 453h2M70 485h2M45 509h2M164 450h2M250 482h1M384 454h2M402 452h3M426 466h2M667 501h2M24 590h3M272 541h3M342 521h3M284 546h3M263 585h2M332 576h3M443 580h2M658 550h2M669 541h2M30 593h3M384 596h4M477 601h3M525 593h2M509 618h4M599 612h3M649 641h2M464 665h2M415 309h2"/>
<path stroke="#a8ff20" stroke-width="2.5" d="M159 13h1M645 5h2M147 16h3M181 25h2M142 58h4M284 81h3M559 81h1M627 20h4M626 43h3M732 34h3M95 93h2M257 133h2M703 132h2M291 161h2M17 244h3M51 276h2M59 289h2M70 289h3M530 288h2M571 236h2M881 254h2M875 269h2M93 326h2M624 361h2M14 405h3M48 385h2M100 385h2M111 391h3M182 412h2M632 408h2M565 441h2M46 469h3M55 497h2M53 514h4M314 516h2M352 489h6M365 517h2M598 517h2M70 561h2M332 553h3M396 556h2M535 553h2M605 565h3M602 584h4M24 598h2M229 592h2M169 645h3M302 653h2M556 601h3M805 662h6M860 656h3M7 673h1M276 669h2M660 670h2M417 312h2"/>
<path stroke="#ff8a10" stroke-width="2.5" d="M177 12h3M30 53h2M626 41h3M609 56h2M801 228h2M158 349h2M175 351h2M201 361h6M284 348h5M622 354h2M90 404h2M102 436h2M241 478h2M151 512h4M564 453h2M228 540h2M361 537h3M366 564h2M501 585h2M11 616h3M53 605h2M128 616h3M106 639h3M591 605h2M684 609h2M412 670h3M97 309h2"/>
<path stroke="#f82888" stroke-width="2.5" d="M187 5h2M715 5h3M82 32h2M155 20h2M299 69h2M615 59h2M701 32h2M595 106h2M587 200h3M568 245h2M849 298h2M889 246h3M19 320h2M32 369h2M148 342h2M529 355h3M605 344h2M222 445h2M325 433h2M601 401h2M744 409h3M840 404h2M49 473h2M181 464h3M148 516h2M280 512h2M641 486h2M620 506h4M24 550h4M144 557h2M239 551h2M302 533h2M330 529h2M255 573h3M400 577h4M489 545h2M469 570h3M522 568h3M511 589h3M527 574h3M585 573h3M582 578h3M637 589h2M111 602h4M129 653h2M203 645h3M261 649h2M644 598h2M900 655h2M115 666h4M940 678h0M122 169h4M756 215h0M329 243h4M196 341h5M536 209h0"/>
<path stroke="#f018b8" stroke-width="2.5" d="M192 5h2M518 5h2M685 13h3M15 73h5M135 50h2M515 16h4M546 45h3M558 46h2M661 27h4M604 60h3M23 150h4M94 88h2M137 142h1M216 153h2M17 165h2M58 188h3M81 226h2M581 166h3M42 284h2M43 288h2M889 242h3M885 277h4M48 354h4M383 325h4M530 360h3M773 338h2M18 441h2M54 386h2M59 433h3M93 441h0M139 430h3M161 396h3M146 446h4M313 381h3M290 425h3M632 435h2M14 493h3M67 494h3M46 513h2M173 491h1M147 501h2M274 479h3M326 493h4M291 501h2M434 453h2M524 448h2M536 486h2M471 513h2M611 517h2M35 532h3M93 541h2M215 530h2M267 587h3M355 532h2M413 530h2M383 552h2M387 571h3M418 572h3M403 585h2M427 569h4M563 526h3M638 577h3M679 525h2M13 600h2M8 633h2M169 599h3M163 640h2M435 596h3M366 636h2M460 598h2M472 601h2M523 619h2M573 633h3M660 652h2M690 621h3M939 612h1M244 672h2M366 663h4M585 666h3M604 674h2M667 680h2M780 670h4M644 121h2M857 145h4M153 204h5"/>
<path stroke="#1818f0" stroke-width="2.5" d="M197 7h4M709 6h2M729 8h1M83 20h3M106 56h2M615 18h2M136 88h2M193 144h3M210 149h2M539 116h2M99 188h0M593 229h2M47 249h2M564 233h3M684 233h1M29 306h3M193 345h2M239 346h4M563 374h3M598 354h3M24 413h3M203 396h3M190 445h4M279 424h1M303 433h2M556 397h4M522 434h3M551 424h2M605 397h2M627 391h4M859 377h2M858 435h2M60 496h2M263 512h2M359 466h3M429 476h2M545 448h2M584 469h3M646 460h2M616 472h3M7 568h2M163 524h2M216 548h2M314 526h2M306 543h3M262 579h2M332 570h2M559 557h3M570 550h2M627 564h2M632 588h2M668 590h2M912 588h2M59 638h4M181 637h2M314 613h3M325 610h2M331 658h3M465 604h4M524 600h3M498 614h2M530 606h2M472 661h2M644 604h3M570 628h2M622 637h2M680 621h2M669 641h2M939 649h0M106 669h2M83 680h2M285 675h2M336 680h2M834 678h5M512 57h6M763 124h5M602 294h2M189 330h3M431 386h2M434 413h0M467 503h4"/>
<path stroke="#f0f060" stroke-width="2.5" d="M192 12h2M301 13h2M7 60h2M570 228h2M47 340h3M296 353h2M132 410h3M266 402h3M401 384h2M31 493h2M65 499h2M656 524h3M10 652h4M70 617h2M373 609h2M389 636h2M617 601h3M621 645h2M160 171h2"/>
<path stroke="#20f0d0" stroke-width="2.5" d="M238 5h2M547 10h3M17 144h2M77 125h2M279 153h3M539 153h2M682 188h0M13 237h3M34 276h2M817 238h4M19 359h2M243 361h3M269 368h2M547 336h2M587 313h3M725 330h2M146 401h3M284 431h2M11 516h3M94 501h2M88 514h3M284 493h4M660 468h2M594 473h3M19 546h1M101 545h2M296 521h2M267 581h2M343 576h3M528 528h2M623 585h3M227 653h2M303 641h3M426 592h2M396 653h2M905 632h2M203 673h2M579 664h2M188 190h3"/>
<path stroke="#3890ff" stroke-width="2.5" d="M216 13h2M539 74h2M655 22h2M112 119h2M189 102h5M258 91h2M539 156h2M737 103h2M685 150h0M45 295h3M92 284h2M90 289h2M796 236h2M397 332h3M570 340h3M865 328h2M17 417h3M147 417h1M430 401h0M599 408h2M627 416h2M18 477h3M19 493h2M35 497h3M169 492h2M205 482h2M435 450h2M552 488h2M655 510h2M669 516h2M82 521h2M228 534h2M336 528h2M425 549h2M608 526h2M651 535h3M621 545h2M720 524h3M898 535h2M51 624h5M309 661h3M593 658h3M53 680h2M498 479h3"/>
<path stroke="#6312b4" stroke-width="2.5" d="M233 10h2M540 65h3M533 74h2M562 85h2M581 105h2M571 156h2M576 173h3M581 181h3M46 285h4M578 265h3M598 290h2M563 329h4M593 349h3M13 412h3M145 397h2M350 393h2M621 405h2M426 478h2M604 462h2M599 482h3M298 533h2M354 553h3M361 561h2M394 553h4M447 576h3M524 538h2M557 521h3M489 561h3M644 574h3M645 578h2M150 643h4M334 653h2M372 612h3M431 632h2M430 648h2M436 655h3M533 604h3M492 622h4M517 641h2M610 598h3M648 597h2M593 643h3M623 649h4M633 645h3M656 649h2M378 669h3M441 674h2M441 677h3M454 679h2M652 674h2M651 679h3"/>
<path stroke="#5010e8" stroke-width="2.5" d="M251 13h1M71 85h2M684 28h2M759 40h3M698 66h2M703 68h3M743 81h3M181 149h2M286 157h2M426 137h3M619 88h3M8 194h1M39 161h3M342 213h2M586 164h2M75 251h2M63 285h4M398 234h2M531 238h3M26 325h2M25 366h2M152 337h2M280 348h2M289 352h4M168 377h3M156 445h3M325 380h2M413 429h2M616 389h2M609 396h2M569 409h3M576 432h3M43 468h2M234 468h2M419 514h3M649 486h4M569 513h3M727 485h2M692 517h3M244 521h2M216 563h2M185 574h4M205 570h2M214 568h2M331 534h3M309 549h3M385 541h2M405 561h2M505 521h2M500 573h3M639 524h2M594 578h3M565 588h2M714 526h2M673 565h2M861 557h5M81 605h4M72 637h2M298 624h2M402 627h3M424 620h3M506 642h4M657 614h3M870 629h2M848 646h4M102 671h2M325 674h3M342 679h2M532 42h0M153 202h2M330 242h3"/>
<path stroke="#2058f0" stroke-width="2.5" d="M506 5h3M36 85h4M232 16h2M657 45h2M593 70h3M611 68h2M733 72h1M237 122h2M598 129h3M6 176h2M248 173h1M55 237h1M590 241h2M586 261h3M727 280h3M732 280h2M25 304h2M339 319h3M267 361h2M779 341h2M135 433h2M348 400h4M427 429h2M539 385h2M540 397h4M620 385h2M773 392h2M849 377h2M871 378h2M769 436h4M12 512h2M8 517h2M139 462h3M100 497h3M167 491h2M168 508h2M557 454h2M463 515h3M616 513h3M937 461h1M53 561h2M136 552h2M65 569h2M170 573h3M180 590h2M292 524h2M332 580h4M573 545h3M627 545h4M64 596h4M105 621h2M78 648h3M239 644h2M344 629h2M379 601h2M452 606h3M419 628h3M482 648h2M70 680h2M213 679h4M232 681h1M496 680h4M663 673h3M495 19h6M108 215h3M195 328h3"/>
<path stroke="#b818f0" stroke-width="2.5" d="M540 5h2M663 5h3M184 33h3M582 65h3M675 59h2M737 64h2M296 124h3M313 128h2M319 157h3M736 96h2M743 108h3M757 149h2M69 205h3M535 168h3M528 184h2M587 271h2M594 277h3M53 359h2M307 360h2M312 363h3M418 366h2M557 313h3M592 304h4M590 309h3M788 348h3M42 388h3M105 382h2M851 405h4M25 448h2M49 485h3M66 486h2M256 504h2M394 465h3M559 460h1M224 546h2M163 587h2M185 582h3M318 583h2M390 545h3M418 553h2M518 578h2M631 577h4M929 571h1M210 597h2M151 636h2M151 639h2M338 642h2M353 613h2M374 629h2M515 652h3M628 601h2M227 676h3M96 196h3"/>
<path stroke="#f01030" stroke-width="2.5" d="M617 6h2M83 17h2M158 30h2M175 68h2M209 64h2M301 37h3M261 73h2M604 58h2M749 57h3M6 89h1M101 90h2M66 137h2M521 135h2M593 125h2M563 140h3M591 149h2M881 115h4M12 166h2M70 202h2M258 161h4M557 181h2M30 279h4M41 347h2M413 321h3M552 310h3M28 377h2M314 437h4M554 381h3M638 386h2M8 490h2M66 460h2M88 504h2M157 452h2M229 509h2M314 494h1M428 506h4M546 453h2M69 540h2M105 581h4M145 541h2M210 524h1M379 537h2M385 573h2M681 580h2M13 625h3M87 618h3M58 657h3M181 605h4M191 612h2M454 597h2M412 652h3M519 593h2M507 631h2M522 650h2M830 641h2M233 668h2M361 669h3M246 216h5M189 253h5"/>
<path stroke="#bf670c" stroke-width="2.5" d="M664 13h4M185 115h2M534 288h2M24 348h2M538 401h3M30 456h2M555 468h3M459 517h3M487 517h3M580 464h2M654 489h3M638 505h3M407 557h2M430 574h2M649 541h2M331 626h3M449 613h3M361 647h3M498 654h4M618 625h3M626 645h3M853 634h3M505 676h4"/>
<path stroke="#2810c0" stroke-width="2.5" d="M698 6h2M151 37h3M224 32h1M303 72h1M556 61h3M733 57h3M62 125h4M123 121h2M158 100h4M169 150h2M228 138h2M285 153h2M702 141h4M928 109h3M251 163h2M275 162h2M276 168h2M279 169h3M575 197h3M596 216h0M9 237h2M17 273h3M545 298h4M895 234h2M920 266h4M23 334h3M59 323h3M275 366h2M310 365h2M366 356h3M418 362h1M599 333h2M759 352h3M140 381h2M53 401h3M106 399h2M129 424h2M240 424h3M278 409h4M380 407h2M546 412h3M599 435h2M136 504h2M156 500h2M319 481h2M443 506h2M504 497h2M83 557h2M58 576h4M192 571h2M347 564h3M437 549h2M465 589h2M533 590h3M580 528h2M594 549h3M571 580h2M141 604h4M159 609h1M182 592h3M199 625h2M333 616h4M368 629h3M476 605h3M626 621h4M633 641h3M296 680h2M228 169h2M105 321h2"/>
<path stroke="#b418ae" stroke-width="2.5" d="M674 12h2M14 37h2M163 90h2M562 93h3M588 88h2M587 117h2M30 217h2M404 182h2M539 190h2M552 216h3M585 220h2M587 244h3M29 361h3M46 325h3M525 368h2M600 349h3M610 348h2M580 384h3M611 389h2M518 452h2M552 497h3M622 453h2M610 485h4M360 526h3M373 543h3M488 521h2M476 536h4M494 545h3M529 553h3M482 569h3M632 536h2M598 561h2M303 610h3M446 600h2M423 612h2M360 638h2M488 597h4M507 621h3M504 630h3M627 604h2M616 656h2M666 629h3M344 664h1M388 680h4M436 680h2M600 672h2M856 679h5M520 301h6"/>
<path stroke="#30c8f8" stroke-width="2.5" d="M36 66h1M180 51h2M180 71h3M241 85h1M674 37h4M534 110h3M42 202h2M102 233h0M586 241h2M386 321h1M12 416h2M167 405h3M255 396h2M611 381h2M554 474h2M939 462h1M72 575h2M99 568h0M98 581h2M202 556h3M303 573h2M353 541h2M393 577h3M628 540h3M605 549h3M661 562h2M695 533h6M697 573h2M187 662h3M333 637h2M482 673h3M547 677h2M327 87h1M684 278h5"/>
<path stroke="#f020e8" stroke-width="2.5" d="M19 81h2M234 29h1M303 48h2M576 72h2M693 33h2M727 57h2M679 64h2M23 156h1M233 128h2M547 125h3M552 125h3M604 96h3M761 89h2M7 180h1M37 213h2M563 180h2M593 184h2M8 301h2M59 258h2M82 297h2M595 286h2M940 283h1M158 360h4M296 343h2M326 352h2M534 305h4M544 317h3M902 312h2M14 445h3M81 436h3M222 401h2M261 413h2M308 400h2M376 413h2M592 397h2M593 432h4M36 513h3M112 450h2M60 473h2M179 481h2M228 494h1M378 466h3M523 511h3M576 496h2M94 588h3M134 577h2M190 533h3M175 573h3M273 576h3M359 532h3M373 529h2M429 545h2M367 569h2M407 569h2M481 540h2M488 541h4M547 545h2M547 549h2M645 531h2M663 557h2M573 572h4M17 620h2M99 628h3M182 659h2M199 656h2M269 613h3M263 644h0M298 648h2M453 593h2M364 620h3M594 600h2M646 633h3M673 613h3M828 634h3M871 655h3M905 616h2M940 657h0M134 679h3M458 668h2M633 676h3M115 275h6"/>
<path stroke="#d01060" stroke-width="2.5" d="M73 30h2M185 51h2M539 24h3M535 86h2M721 49h2M194 121h2M297 113h2M568 109h3M599 105h2M753 217h0M171 372h0M225 368h5M614 357h4M864 337h3M808 364h4M81 401h2M553 420h2M638 388h2M571 442h2M814 385h2M59 517h3M163 494h1M393 468h3M295 582h4M295 588h3M575 529h2M599 580h2M912 586h3M7 613h1M25 657h2M124 594h2M336 597h3M332 650h3M449 604h2M507 635h2M500 645h3M505 660h2M23 680h5M58 672h2M476 678h3M882 672h4M323 79h2M684 333h0"/>
<path stroke="#50f020" stroke-width="2.5" d="M93 17h2M83 84h2M135 69h2M156 48h3M559 21h2M679 57h2M683 60h3M12 129h2M29 136h2M167 153h4M305 102h2M545 105h1M609 93h2M583 145h2M8 286h1M77 301h2M556 269h4M562 253h4M15 339h2M76 315h2M52 329h2M112 368h2M355 322h2M398 328h2M373 369h2M592 364h3M53 377h2M63 377h2M133 377h2M157 381h2M198 385h3M210 391h3M267 404h3M321 430h3M376 417h2M197 449h3M314 460h3M331 489h3M318 529h3M385 530h2M384 569h2M369 588h1M518 580h2M645 521h3M935 530h3M13 606h3M9 649h1M23 649h5M42 592h2M152 626h2M244 623h2M198 661h3M269 632h2M327 653h4M371 605h2M379 632h3M414 641h2M431 642h2M529 632h2M581 609h4M684 594h3M837 642h2M922 649h3M154 673h2M546 670h3M598 216h4M179 333h4"/>
<path stroke="#0ca824" stroke-width="2.5" d="M82 29h2M175 43h2M546 109h3M545 137h2M546 184h2M21 281h2M533 250h2M581 237h3M600 283h2M8 357h2M587 325h2M587 361h2M47 398h2M274 384h2M552 416h3M584 393h3M574 417h3M573 421h2M580 422h3M602 425h2M18 450h4M8 460h2M47 502h2M543 453h2M476 506h3M511 504h3M586 454h3M594 493h2M314 529h2M429 525h3M379 588h3M507 536h3M547 530h3M469 553h3M482 553h2M640 520h2M610 545h2M366 625h3M504 618h4M361 680h2M475 674h3M557 665h3M544 674h3M593 672h3"/>
<path stroke="#20c0a0" stroke-width="2.5" d="M139 69h2M701 44h2M26 136h2M336 127h2M581 149h3M738 101h2M146 173h2M532 166h2M529 177h2M59 294h4M245 377h4M181 401h2M286 444h2M764 384h6M13 455h2M20 501h2M738 477h3M197 568h2M262 589h2M500 549h3M603 531h4M12 610h2M117 605h4M544 633h3M539 636h3M649 636h2M577 650h2M75 670h3M655 672h2"/>
<path stroke="#ffb820" stroke-width="2.5" d="M197 85h2M272 20h2M362 289h1M557 340h2M51 394h3M46 401h3M7 530h3M7 581h1M170 558h2M180 557h3M413 536h2M441 569h2M22 621h3M361 600h2M377 605h3M395 598h2M941 193h0"/>
<path stroke="#30ff90" stroke-width="2.5" d="M275 17h2M591 60h2M581 81h3M47 101h1M65 122h3M581 93h2M749 109h2M57 166h2M530 168h3M535 229h1M562 229h4M600 223h4M581 293h3M680 284h1M64 427h2M223 397h2M170 417h2M162 441h3M335 377h3M407 389h2M726 421h4M772 396h2M866 382h2M15 469h2M204 496h2M301 472h2M379 454h3M604 517h3M12 521h3M7 524h2M208 528h2M152 562h2M284 532h2M286 553h2M309 554h3M272 589h4M320 590h2M431 520h2M352 575h3M471 529h2M501 534h3M499 579h3M56 620h4M134 651h3M198 609h3M245 610h2M266 641h4M299 652h1M365 618h3M554 662h3M588 600h3M678 653h4M737 657h2M140 681h2M587 669h3M812 680h2M596 150h1"/>
<path stroke="#1e0c90" stroke-width="2.5" d="M275 33h2M587 81h2M346 127h6M576 105h3M542 218h3M582 171h3M576 209h3M542 286h2M535 301h2M897 290h3M6 349h1M42 360h2M587 341h3M610 345h2M604 360h3M611 369h2M7 438h2M546 422h4M561 400h3M221 500h2M566 504h2M596 500h3M432 532h2M408 582h2M583 550h2M638 548h3M668 556h2M419 638h3M355 641h2M419 640h2M518 620h2M498 623h4M551 649h2M604 622h3M626 625h4M632 636h3M662 660h2M471 672h2M501 678h3M521 672h2"/>
<path stroke="#189630" stroke-width="2.5" d="M295 40h2M550 138h4M566 145h2M587 157h2M28 161h2M546 237h2M557 264h3M8 324h2M43 320h2M530 308h2M537 333h2M16 402h3M433 420h2M535 428h3M589 444h2M554 480h1M511 499h4M586 511h3M604 510h2M12 542h2M269 585h2M534 540h3M517 550h3M644 539h2M685 525h3M303 649h2M441 593h2M464 642h2M562 641h2M684 654h4M313 669h2M633 415h2"/>
<path stroke="#ff7060" stroke-width="2.5" d="M277 83h3M754 57h3M275 126h0M562 169h2M76 282h2M371 309h2M76 385h2M110 386h2M326 445h3M530 405h1M530 429h3M30 453h3M72 461h2M60 494h3M250 458h2M317 474h4M587 492h4M28 524h2M324 562h2M396 532h3M361 549h2M458 538h4M551 577h3M623 548h2M11 620h3M348 593h3M316 644h2M841 641h2M118 680h2M643 679h3M806 680h3"/>
<path stroke="#8a12b4" stroke-width="2.5" d="M549 69h4M593 117h3M582 137h2M569 161h4M569 176h2M580 228h2M551 247h2M588 269h1M542 309h2M33 424h3M542 428h3M592 389h3M591 400h4M591 404h4M314 481h3M489 506h2M587 482h2M639 477h3M636 481h3M619 502h4M292 520h2M317 526h3M454 545h2M558 553h3M524 589h2M604 526h2M644 564h3M603 581h2M597 588h3M667 545h2M668 567h2M297 628h2M388 613h2M370 620h2M448 621h1M396 650h2M539 608h3M470 625h2M476 657h3M606 630h2M482 681h3"/>
<path stroke="#bf2b0c" stroke-width="2.5" d="M546 80h2M569 202h3M568 289h4M35 349h2M47 321h2M587 339h3M8 468h2M523 452h2M562 456h2M605 492h3M458 532h3M517 557h2M530 546h2M545 577h2M593 565h3M656 565h3M312 633h2M366 613h4M361 617h3M644 617h2M673 596h2M448 501h4"/>
<path stroke="#2a6cbf" stroke-width="2.5" d="M541 86h3M575 141h2M588 150h3M551 202h2M536 358h3M575 333h2M541 449h2M500 473h0M554 477h2M580 469h4M383 524h3M373 533h3M401 569h3M474 533h3M522 573h2M571 529h2M564 584h3M673 574h3M315 592h3M383 617h2M354 633h3M557 612h3M528 655h3M622 599h2M621 624h2M685 646h4M412 665h2"/>
<path stroke="#b4128a" stroke-width="2.5" d="M580 48h2M528 98h2M557 196h3M536 254h3M553 284h2M587 293h2M743 296h2M23 321h3M586 305h3M47 405h3M108 437h1M638 391h1M611 401h2M617 425h2M18 480h4M546 481h3M597 460h5M610 465h3M593 478h2M622 493h3M342 533h4M339 545h2M403 541h2M425 552h3M459 521h3M494 525h2M489 590h4M650 572h2M360 662h2M489 663h2M562 592h3M591 593h3M576 608h2M639 608h3M528 672h3M669 676h2"/>
<path stroke="#ba1e66" stroke-width="2.5" d="M572 64h2M574 118h5M542 226h2M551 252h3M7 334h2M54 344h3M562 313h4M583 321h2M19 382h2M41 446h3M559 386h3M545 437h2M606 393h2M576 412h2M552 449h3M548 461h2M558 458h3M534 493h3M559 510h2M597 457h5M604 477h2M623 509h2M290 568h2M364 534h4M452 526h3M379 562h2M413 544h2M430 585h3M552 533h2M575 584h3M649 589h3M667 561h3M320 600h4M331 609h4M340 618h2M411 612h3M361 633h2M477 629h2M516 649h2M501 661h2M646 592h3M587 629h2M615 633h3M661 629h3M563 654h3M650 645h2M690 606h4M673 621h3M383 670h2"/>
<path stroke="#7ebf18" stroke-width="2.5" d="M570 72h2M563 161h2M28 284h4M548 253h3M545 257h3M576 248h2M18 373h2M58 328h2M550 353h3M36 417h2M563 417h2M593 488h2M342 552h2M475 520h2M512 581h3M528 580h4M657 519h2M562 553h3M70 610h3M371 616h3M355 636h2M429 656h3M523 614h2M598 654h4M313 674h3"/>
<path stroke="#9c0c48" stroke-width="2.5" d="M701 64h3M546 192h2M56 357h1M70 352h2M193 351h2M279 356h2M581 357h3M263 429h2M544 444h3M611 440h2M28 496h3M162 456h3M525 458h2M643 493h3M199 525h2M448 554h3M477 581h3M540 586h3M651 552h3M481 633h3M573 618h4M631 633h3M621 658h3M146 666h2M319 670h2"/>
<path stroke="#1212b4" stroke-width="2.5" d="M40 134h3M87 128h2M557 117h2M581 112h3M545 190h2M535 220h2M576 202h2M23 285h4M536 297h2M570 240h3M594 254h0M575 278h2M570 282h2M546 332h3M547 340h2M570 309h3M587 334h3M55 445h2M217 442h2M622 382h2M635 381h2M581 424h2M406 518h3M523 497h2M493 504h3M551 505h3M626 489h2M633 489h2M657 516h2M367 578h2M469 533h2M559 533h2M513 557h2M551 553h3M610 534h3M599 542h2M663 525h2M634 562h2M650 561h3M586 575h4M667 550h2M900 577h2M29 629h2M547 629h3M615 598h2M576 656h2M661 645h4M299 668h2M327 664h3M498 673h4M681 679h2"/>
<path stroke="#70ffa0" stroke-width="2.5" d="M192 118h3M310 159h2M559 157h2M645 118h2M152 448h3M315 497h2M562 482h4M169 528h3M205 533h2M234 533h2M338 536h3M406 565h3M373 569h3M616 545h2M570 568h2M338 653h3M122 678h2M820 678h2"/>
<path stroke="#3cb418" stroke-width="2.5" d="M557 98h3M592 289h3M537 325h3M616 348h3M550 394h2M535 417h2M562 377h4M569 396h2M604 377h3M567 488h4M576 505h2M627 496h3M627 500h3M470 525h2M469 538h3M540 528h3M512 550h2M528 557h3M459 584h2M506 574h2M494 580h3M519 589h3M638 553h4M661 589h2M668 533h2M384 629h2M475 633h2M516 632h2M547 636h4M544 653h3M592 634h2M673 593h3M672 644h3M258 673h2M401 668h3M396 673h2M581 668h2M522 350h6"/>
<path stroke="#3c0cae" stroke-width="2.5" d="M557 122h2M563 214h2M569 214h3M587 281h3M575 289h2M581 290h3M12 365h3M541 353h2M13 381h2M35 385h3M42 421h2M558 393h2M580 381h2M567 400h3M576 408h3M287 512h2M536 476h2M529 484h3M541 506h2M576 477h2M578 497h4M565 513h3M313 522h1M325 520h3M337 533h2M361 521h4M419 538h2M435 543h3M435 545h2M356 570h3M454 586h2M524 560h2M552 546h4M545 574h3M574 565h2M617 576h2M674 541h2M306 613h3M336 622h3M326 636h2M339 648h3M377 613h3M432 621h2M482 596h3M557 597h2M496 637h2M551 658h2M570 592h4M610 626h4M615 629h3M645 624h3M617 644h2M361 665h3M459 679h2"/>
<path stroke="#18b49c" stroke-width="2.5" d="M558 125h2M9 359h2M366 326h3M547 320h2M559 372h2M593 361h2M460 553h2M656 555h3M576 576h3M581 585h4M464 621h2M522 628h2M460 657h2M285 676h2M587 679h2M779 672h2M530 224h3"/>
<path stroke="#2496ba" stroke-width="2.5" d="M581 100h2M576 114h2M588 145h2M762 92h1M592 243h1M593 444h2M273 493h2M559 505h3M383 532h3M425 534h4M406 590h2M426 582h3M512 522h4M517 586h3M662 521h2M410 617h3M493 640h3M432 667h2"/>
<path stroke="#189078" stroke-width="2.5" d="M563 110h3M64 277h3M562 257h3M41 311h3M532 312h1M534 329h4M191 429h2M576 387h2M42 488h4M616 561h3M348 634h3M448 625h3M615 649h4M465 673h2"/>
<path stroke="#b4b448" stroke-width="2.5" d="M559 161h2M564 301h2M546 405h2M620 437h3M354 520h2M478 590h3M611 548h4M639 621h3"/>
<path stroke="#54bf78" stroke-width="2.5" d="M557 192h3M580 214h2M25 437h3M536 400h2M518 426h2M635 469h2M409 545h2M395 570h3M28 642h2"/>
<path stroke="#bfa824" stroke-width="2.5" d="M537 213h1M557 277h3M571 314h2M598 366h3M553 460h3M586 473h3M640 497h2M778 485h4M301 545h3M435 557h4M452 561h4M499 561h3M551 599h3M575 596h2M662 649h2M633 659h2M489 678h5M645 672h3"/>
<path stroke="#1842b4" stroke-width="2.5" d="M567 184h3M575 187h3M546 234h2M547 324h2M551 368h3M203 390h2M576 436h3M606 433h3M59 490h2M435 509h2M641 469h2M632 478h4M24 521h2M434 560h4M425 572h2M533 537h4M558 550h4M584 537h4M344 650h2M559 618h2M569 645h2M586 646h3M581 649h2M605 292h6"/>
<path stroke="#24bf6c" stroke-width="2.5" d="M552 313h3M580 410h2M24 513h2M593 504h2M452 574h2M483 524h2M557 581h2M576 538h3M616 553h3M367 640h3M511 625h2M573 612h3M596 604h2M599 629h3M657 640h2M674 604h4M667 650h2"/>
<path stroke="#bf8a18" stroke-width="2.5" d="M558 353h2M562 356h3M592 352h2M65 458h4M299 473h2M581 449h3M424 564h2M477 540h3M501 566h2M647 557h2M359 620h2M482 636h4"/>
<path stroke="#bf5448" stroke-width="2.5" d="M621 365h3M17 376h2M529 436h2M54 500h2M302 560h2M319 621h2M455 658h3M586 634h2M674 607h3"/>
<path stroke="#b818f0" stroke-width="2" d="M7 7h2M117 28h4M261 30h4M685 24h3M686 33h3M159 109h2M844 112h2M36 169h3M350 209h2M23 301h3M49 309h2M249 357h3M579 333h4M23 384h3M52 414h3M35 453h2M527 468h4M599 449h3M30 529h2M72 544h4M59 580h2M337 566h3M319 568h3M320 576h3M320 581h3M450 532h4M865 560h4M923 570h4M20 598h3M122 602h4M493 618h3M696 625h2M141 677h3M225 664h5M769 680h0M871 679h4M938 673h0M233 165h4"/>
<path stroke="#b4128a" stroke-width="2" d="M26 6h1M537 77h2M586 86h4M540 96h3M569 121h2M592 152h2M539 230h3M592 173h3M529 250h0M610 374h4M284 441h3M587 425h3M65 449h3M546 490h4M545 498h4M581 461h3M633 517h4M127 558h4M348 577h2M522 586h3M587 543h3M620 577h2M347 658h4M539 628h4M504 652h3M654 591h4M586 656h4M476 670h3M627 666h4M655 665h4M598 208h3"/>
<path stroke="#30c8f8" stroke-width="2" d="M41 6h3M527 301h3M588 289h4M562 392h2M632 376h2M434 466h0M314 533h3M564 625h2M207 681h4M337 670h4M649 678h3"/>
<path stroke="#f01030" stroke-width="2" d="M87 5h2M610 5h4M32 69h3M286 129h0M93 188h4M103 230h0M561 262h4M570 265h4M590 274h4M581 308h1M570 329h3M941 313h0M40 404h4M215 407h4M34 508h3M279 448h4M425 468h4M58 532h4M164 552h3M293 553h1M348 557h4M64 641h3M236 651h4M326 605h3M314 624h2M523 631h3M528 645h4M623 593h3M657 604h4M608 628h2M77 679h3M940 679h1M493 131h16M755 204h0"/>
<path stroke="#ff7060" stroke-width="2" d="M159 9h0M557 13h3M262 32h3M551 192h4M602 365h3M286 409h4M423 432h2M533 405h3M535 431h3M349 641h3M614 605h4M642 654h2M926 234h0"/>
<path stroke="#2058f0" stroke-width="2" d="M261 10h3M523 12h4M90 49h2M565 36h2M580 210h3M8 290h2M7 369h1M190 343h7M225 400h1M176 485h0M533 504h4M624 480h3M466 535h3M621 540h4M569 573h3M24 653h1M323 621h4M447 649h3M451 649h4M516 616h4M540 632h3M494 645h4M355 679h4M395 664h4M940 123h0M185 336h3M501 456h3"/>
<path stroke="#30ff90" stroke-width="2" d="M297 12h3M206 41h1M605 68h4M198 114h4M206 158h2M592 128h3M350 212h3M576 181h4M326 237h0M325 288h1M739 299h2M22 374h4M37 374h4M59 354h4M939 305h0M46 389h3M112 381h3M284 382h4M191 450h4M292 512h1M325 502h3M63 585h4M495 533h3M492 549h3M483 577h4M658 584h4M680 566h4M405 633h4M442 621h4M533 610h3M540 652h3M632 660h4M140 674h4M882 681h4M602 305h4M522 411h5"/>
<path stroke="#1818f0" stroke-width="2" d="M685 5h4M241 73h3M582 84h3M628 97h4M759 98h2M535 200h4M65 350h2M531 330h1M529 342h4M563 332h2M59 377h2M129 389h3M246 381h1M544 408h3M530 441h3M587 428h3M843 428h2M259 470h5M326 509h2M550 515h3M401 566h3M411 565h4M605 537h3M571 557h2M599 565h1M674 532h4M669 537h2M109 614h3M337 605h2M418 633h3M434 621h4M463 617h3M534 625h3M691 664h2M871 676h4M605 234h0M403 233h0M631 421h2M497 472h0"/>
<path stroke="#1e0c90" stroke-width="2" d="M668 13h3M521 133h2M575 292h3M587 369h3M551 438h4M11 452h2M13 482h4M86 481h3M446 508h4M505 506h2M568 461h4M576 514h3M8 520h1M37 560h2M441 584h4M633 559h4M584 569h4M418 608h4M452 616h4M538 624h4M647 645h2M324 679h3M459 664h3"/>
<path stroke="#10e030" stroke-width="2" d="M771 5h4M211 43h0M162 86h3M278 79h4M526 28h0M768 57h0M6 150h1M133 101h3M140 109h4M535 101h3M563 119h4M597 142h1M720 98h3M31 168h3M97 184h2M77 229h1M303 174h2M557 173h4M563 292h3M723 286h4M883 250h1M6 346h2M628 348h0M564 352h4M14 393h3M333 444h3M545 417h4M775 433h3M66 500h1M407 472h4M424 471h1M401 517h3M534 473h3M478 513h2M652 518h4M408 530h3M481 572h3M486 580h3M592 556h4M67 652h0M314 597h2M510 604h3M685 601h2M940 621h0M114 677h2M566 668h2M742 681h1"/>
<path stroke="#8418f0" stroke-width="2" d="M10 18h1M7 32h1M32 66h2M620 21h3M650 22h3M576 57h4M331 87h1M580 152h3M740 120h4M763 139h0M567 172h4M580 201h4M433 304h4M381 330h2M386 370h4M814 373h0M291 429h4M470 422h3M535 437h4M267 473h2M434 492h2M436 517h4M500 469h0M616 468h4M770 480h4M25 582h3M49 544h2M245 569h3M218 590h2M320 550h4M402 529h2M442 540h3M367 550h3M540 521h3M291 649h3M331 660h4M431 594h2M377 624h2M430 629h4M464 597h4M534 598h3M632 601h3M645 638h2M302 680h4M750 680h3M327 101h0M689 277h0"/>
<path stroke="#a8ff20" stroke-width="2" d="M17 83h4M122 81h4M21 109h0M552 199h4M545 268h4M598 344h4M805 310h3M939 310h0M547 430h3M70 453h1M41 511h1M469 506h3M637 508h4M36 520h2M244 537h3M448 526h3M401 548h4M342 637h4M673 625h4M823 634h1M817 681h6M106 284h2M638 407h1"/>
<path stroke="#f020e8" stroke-width="2" d="M104 17h4M525 25h1M756 64h4M63 134h4M687 121h1M541 169h2M557 183h4M11 249h4M874 257h4M336 380h4M326 403h3M587 386h4M634 393h3M778 445h3M53 474h3M42 505h3M153 490h3M500 505h3M539 512h4M552 511h3M562 489h2M604 480h4M744 473h2M257 582h3M378 569h3M539 553h3M538 564h4M603 533h2M633 580h4M638 582h3M743 561h4M209 610h2M239 649h1M425 633h3M482 621h4M615 593h4M147 176h1M174 176h5M523 185h1"/>
<path stroke="#ba1e66" stroke-width="2" d="M130 29h2M546 94h4M567 135h4M586 206h3M564 219h4M539 305h3M34 409h4M6 430h3M13 430h1M618 413h4M563 445h3M9 492h2M18 512h4M139 507h2M278 510h3M121 553h3M140 561h3M313 565h3M430 528h3M441 573h4M507 553h4M643 537h3M599 549h3M356 652h3M505 648h3M649 621h4M890 616h4M575 664h3M597 666h4"/>
<path stroke="#2810c0" stroke-width="2" d="M95 42h3M116 76h4M230 44h4M530 74h3M162 105h3M302 124h4M571 89h4M858 114h1M569 206h3M83 264h1M8 310h1M845 332h5M8 392h2M24 439h3M42 417h4M430 392h1M432 417h0M80 484h2M154 494h2M255 473h2M56 585h0M390 548h3M130 605h2M397 641h3M498 618h2M476 649h3M640 602h4M87 681h3M430 680h4M800 673h5M594 243h0"/>
<path stroke="#bf8a18" stroke-width="2" d="M120 73h2M534 292h3M535 361h2M581 305h2M34 393h4M615 394h4M624 436h4M644 497h3M432 608h3M587 661h2"/>
<path stroke="#20c0a0" stroke-width="2" d="M110 76h5M738 37h1M82 133h4M767 109h4M79 209h0M25 404h3M611 416h1M656 493h3M325 644h4M383 626h4M591 637h3M430 670h3"/>
<path stroke="#f018b8" stroke-width="2" d="M154 29h1M251 73h3M547 78h4M574 50h3M580 68h4M708 62h3M535 104h2M736 117h3M592 201h4M534 261h4M564 243h3M822 238h4M35 341h3M60 349h3M30 409h3M331 381h3M598 422h3M633 440h1M802 386h4M35 477h4M125 473h3M315 448h3M298 479h2M280 502h0M574 468h2M64 558h0M377 528h4M371 566h4M540 537h3M487 565h3M464 568h3M476 572h2M586 542h4M417 621h4M469 642h3M617 661h3M534 126h0M129 169h1M131 339h3M435 362h1"/>
<path stroke="#20f0d0" stroke-width="2" d="M209 29h1M644 17h2M7 185h0M54 256h1M10 307h4M41 303h2M627 370h4M780 316h4M871 336h1M272 397h4M544 389h4M211 489h3M633 453h3M34 528h4M337 572h2M544 553h4M642 525h3M275 606h2M321 616h4M400 597h3M585 624h3M568 640h3"/>
<path stroke="#ff3a10" stroke-width="2" d="M195 41h2M660 25h4M588 128h1M725 94h3M720 100h2M6 169h1M119 168h0M691 274h0M812 292h3M939 262h0M54 320h4M42 373h2M413 325h0M376 369h4M723 355h1M139 401h4M588 418h2M609 420h3M64 452h4M41 460h2M52 509h4M407 513h3M567 485h3M214 580h2M314 568h3M405 553h4M448 581h3M528 526h2M389 626h4M517 656h2M557 659h4M790 680h4M526 47h3M532 116h0M926 232h1"/>
<path stroke="#ffe030" stroke-width="2" d="M193 52h1M558 54h3M557 205h3M546 301h4M15 389h4M552 412h4M523 441h3M616 492h3M355 585h3M586 553h4M141 660h2M361 626h4M459 601h2M107 266h1M182 338h2"/>
<path stroke="#3890ff" stroke-width="2" d="M223 64h2M518 20h1M246 132h1M551 90h2M576 153h3M539 165h2M736 238h2M274 351h2M19 485h3M394 489h4M19 521h3M481 532h4M9 637h3M87 648h2M290 614h4M408 658h2M517 638h3M586 597h3M633 614h4M626 630h3M47 665h4M95 681h3M487 680h4M530 680h4M682 143h0M941 208h0M245 346h4M309 337h6"/>
<path stroke="#bfa824" stroke-width="2" d="M290 40h4M88 444h4M774 435h1M7 450h3M430 638h3M475 597h4M498 593h4M598 617h2M619 640h3M606 308h4"/>
<path stroke="#ff8a10" stroke-width="2" d="M302 69h0M528 50h0M588 16h2M64 185h2M40 334h5M342 349h0M47 446h4M533 421h3M828 422h3M36 486h3M260 489h4M308 572h2M188 632h2M604 617h3M112 679h3M256 681h4M225 344h4"/>
<path stroke="#7ebf18" stroke-width="2" d="M308 73h3M112 105h3M599 101h3M60 276h3M546 370h2M600 356h2M8 413h2M604 405h3M31 486h4M175 448h4M325 558h4M446 536h3M528 541h4M459 561h2M614 532h2M640 532h2M359 605h2M414 632h4M383 660h3M488 601h3M494 661h3M611 638h4M606 654h3M644 640h4M634 654h4M506 674h4M529 678h2"/>
<path stroke="#18b49c" stroke-width="2" d="M552 77h4M7 305h2M23 456h4M529 493h4M639 512h3M465 520h4M546 541h4M593 540h4M8 620h1M443 636h3M361 653h3M470 598h2"/>
<path stroke="#f82888" stroke-width="2" d="M529 80h1M580 20h3M657 29h4M588 52h3M592 81h3M141 90h2M180 156h3M568 152h4M553 237h4M533 264h4M531 317h2M31 405h4M135 380h2M175 432h3M296 435h2M569 377h3M141 505h3M159 493h2M291 487h3M430 512h4M529 505h3M602 514h4M315 549h3M314 585h5M436 552h3M354 573h3M400 589h3M419 590h2M476 553h4M582 560h0M377 644h3M459 613h4M469 629h4M484 656h2M669 602h2M292 680h2M493 664h4M674 680h4M483 127h8M473 422h13"/>
<path stroke="#50f020" stroke-width="2" d="M644 38h3M604 65h3M680 33h4M99 104h4M134 108h4M545 157h3M135 169h3M403 190h1M83 300h3M846 258h2M938 258h1M6 373h1M582 373h3M616 373h3M36 422h2M144 422h3M437 441h0M565 397h2M288 456h4M301 490h3M417 518h4M488 510h3M941 456h0M12 546h3M81 545h3M553 549h3M529 589h3M621 521h2M598 529h3M603 569h3M634 569h2M413 592h4M397 645h2M515 625h4M625 592h3M629 636h2M402 664h4M877 680h1M502 8h0M217 183h1M636 448h3M439 470h8"/>
<path stroke="#20c840" stroke-width="2" d="M621 42h4M702 57h4M238 157h4M539 160h4M546 177h2M546 213h2M544 277h4M597 300h0M39 337h3M111 357h4M524 426h4M517 428h4M853 378h2M534 480h4M505 513h3M83 581h3M280 548h3M268 566h0M314 589h4M400 536h4M454 557h4M389 590h3M567 520h3M597 585h3M430 600h4M535 600h4M545 649h3M668 625h1M81 677h4M574 677h4M523 174h4M671 453h5"/>
<path stroke="#3c0cae" stroke-width="2" d="M578 64h2M589 95h2M582 198h3M586 217h3M570 225h3M23 281h4M35 301h4M571 249h3M586 286h3M574 314h2M12 377h2M12 399h4M534 384h3M579 412h4M724 401h0M529 453h4M544 485h4M586 506h4M314 576h3M349 580h3M417 576h4M523 521h1M457 565h4M553 557h4M610 542h3M344 633h3M384 636h3M569 609h3M637 629h3M661 637h4M592 661h4M454 665h2M558 669h4M645 675h2M441 502h4"/>
<path stroke="#5010e8" stroke-width="2" d="M598 68h3M13 93h4M228 110h3M530 121h1M726 100h2M13 300h4M104 270h0M539 267h4M576 284h3M745 300h1M136 343h4M134 352h2M394 312h4M401 322h3M410 344h0M575 329h3M574 368h3M701 341h3M64 380h3M93 410h3M251 409h1M319 401h4M279 433h3M534 381h4M521 445h4M623 428h2M8 474h2M81 481h2M62 515h3M116 530h4M254 588h4M525 564h3M534 572h4M638 566h3M620 568h4M193 656h3M365 601h4M488 650h2M609 615h4M674 600h4M858 675h2M912 680h3M922 679h2M600 184h2M622 338h3M418 320h0M414 325h0"/>
<path stroke="#24bf6c" stroke-width="2" d="M88 154h3M588 173h4M536 257h3M540 256h4M569 260h3M34 317h2M536 313h2M570 333h2M21 390h4M609 376h3M13 505h2M529 513h2M570 458h4M579 473h4M630 501h4M326 541h3M453 521h4M441 560h3M542 545h2M493 588h4M316 656h3M348 649h4M526 628h2M567 653h4M464 679h4M506 669h4M491 673h3"/>
<path stroke="#b40c24" stroke-width="2" d="M244 87h4M257 93h2M574 185h4M567 217h4M553 297h4M585 252h4M564 282h3M17 351h4M541 348h4M594 372h3M602 389h3M7 480h3M459 513h2M569 448h3M640 466h3M588 510h3M376 532h3M378 565h4M492 541h4M482 545h4M542 547h4M495 569h3M581 533h4M434 612h4M534 613h4M493 625h3M550 627h4M360 673h4M571 680h4M522 338h4"/>
<path stroke="#2496ba" stroke-width="2" d="M183 114h0M574 270h3M7 421h1M533 412h4M610 430h4M388 461h3M370 541h3M459 573h4M677 537h4M668 577h3M621 595h4M604 609h4M654 653h4M333 664h3M449 674h4M552 681h4"/>
<path stroke="#70ffa0" stroke-width="2" d="M289 93h1M16 453h3M529 516h3M158 588h4M534 577h3M505 658h4M602 596h3"/>
<path stroke="#d01060" stroke-width="2" d="M327 101h0M550 163h4M871 253h3M11 332h4M196 349h4M372 331h1M657 338h1M7 408h2M547 425h4M724 406h4M13 502h3M182 506h3M593 466h4M608 472h4M307 561h4M332 565h3M389 569h4M587 533h4M662 549h4M673 521h4M401 649h3M673 632h4M30 681h3M364 680h3M105 300h3"/>
<path stroke="#1212b4" stroke-width="2" d="M552 93h4M556 228h4M582 173h2M533 245h3M588 249h2M574 281h4M22 361h4M708 339h2M8 424h1M181 391h2M574 378h4M725 411h0M527 456h4M523 501h3M569 466h4M528 537h3M580 525h3M620 532h3M590 546h4M441 616h3M452 632h3M376 661h4M469 657h4M650 604h4M661 604h4M627 662h4M400 678h3M539 673h3M594 252h0M633 411h2"/>
<path stroke="#0ca824" stroke-width="2" d="M553 97h3M35 288h4M551 241h4M558 280h4M580 246h3M591 325h3M568 364h4M26 425h3M58 425h4M402 414h2M584 382h4M53 480h4M527 464h4M477 516h4M652 489h2M651 500h4M329 520h4M495 529h4M511 545h4M588 529h3M585 565h4M580 573h4M592 584h3M424 658h4M516 613h2M552 609h3M459 624h3M536 654h4M585 612h4M661 597h2M616 621h2M348 665h2"/>
<path stroke="#b418ae" stroke-width="2" d="M553 117h3M48 224h1M594 169h3M568 302h4M25 340h4M412 308h1M533 348h4M14 437h4M552 405h2M524 505h2M542 508h3M543 516h4M563 487h4M584 501h4M644 509h3M424 568h3M482 539h3M553 529h4M455 629h2M557 621h4M487 654h2M591 614h4M673 617h3M658 680h4"/>
<path stroke="#1842b4" stroke-width="2" d="M557 154h3M557 261h2M579 278h4M538 318h4M24 397h4M37 469h4M411 516h4M629 480h2M628 509h3M558 561h2M489 578h2M626 557h4M671 576h2M481 605h4M487 610h4M539 602h4M558 637h4M552 642h4M609 594h3M617 609h1"/>
<path stroke="#3cb418" stroke-width="2" d="M573 100h4M82 269h3M557 336h4M621 433h2M43 492h4M266 456h3M450 514h3M591 452h4M344 580h2M418 541h3M448 550h1M558 568h2M574 540h2M579 557h4M622 580h3M652 585h3M337 659h3M438 660h4M471 609h3M545 600h3M655 617h3M638 656h4"/>
<path stroke="#6312b4" stroke-width="2" d="M586 105h4M557 200h2M567 165h4M549 278h4M586 257h4M412 350h0M8 405h2M30 433h4M563 387h3M569 393h3M617 400h3M18 462h4M12 478h2M556 496h3M570 494h4M533 531h3M498 569h3M544 569h4M566 557h4M603 560h3M360 596h2M457 634h4M500 633h4M463 657h3M574 605h3M606 658h4M646 663h2M531 133h0"/>
<path stroke="#b4b448" stroke-width="2" d="M562 114h4M548 160h4M6 417h2M438 570h3M495 553h2M545 610h4M665 592h3"/>
<path stroke="#bf5448" stroke-width="2" d="M568 125h4M588 125h3M23 357h4M582 345h2M547 458h3M447 573h3M581 565h2M602 578h2M563 677h3"/>
<path stroke="#bf670c" stroke-width="2" d="M555 190h4M552 213h3M627 468h4M339 552h2M668 563h4M379 648h4M488 642h3M459 661h3M570 616h4M598 634h4M650 629h3M367 667h4M524 668h3M621 679h3"/>
<path stroke="#2a6cbf" stroke-width="2" d="M534 192h3M565 209h4M581 224h4M568 233h4M541 324h3M57 468h5M608 496h4M662 499h4M425 540h4M419 568h3M459 558h3M535 555h4M545 579h4M354 630h3M620 660h3M679 613h4M320 679h3"/>
<path stroke="#189630" stroke-width="2" d="M576 162h2M573 224h4M8 292h3M586 238h4M21 357h3M11 459h4M575 456h4M434 591h2M523 548h3M575 548h4M643 561h3M465 612h3M574 644h3M405 676h4M521 363h1"/>
<path stroke="#8a12b4" stroke-width="2" d="M598 174h0M541 290h3M564 305h3M558 410h2M567 406h4M598 416h3M602 430h4M36 457h4M47 452h4M557 449h2M500 503h3M580 457h4M627 473h4M609 493h3M489 557h4M553 605h4M533 636h3M623 612h4M640 645h3M400 680h3"/>
<path stroke="#9c0c48" stroke-width="2" d="M24 242h3M40 292h4M109 418h3M616 429h4M553 500h3M621 513h4M499 521h3M464 586h4M254 617h3M436 653h3M475 593h4M680 610h3M309 665h2"/>
<path stroke="#bf2b0c" stroke-width="2" d="M557 237h4M557 309h3M535 345h2M527 370h1M564 344h3M783 349h4M550 397h4M586 405h1M585 432h4M432 540h4M487 535h4M517 535h3M535 520h3M502 553h3M525 554h3M609 529h4M596 544h4M563 601h3M634 620h3M129 680h2M525 64h1"/>
<path stroke="#189078" stroke-width="2" d="M556 288h3M16 341h3M46 317h3M546 348h3M268 389h4M524 417h2M353 564h4M464 578h3M420 591h3M470 612h4"/>
<path stroke="#54bf78" stroke-width="2" d="M545 377h3M18 474h4M616 571h4M663 657h4"/>
<path stroke="#ffb820" stroke-width="2" d="M593 420h3M94 653h3M400 652h3M552 621h4M684 234h2"/>
<path stroke="#f0f060" stroke-width="2" d="M58 512h3M447 518h4M428 566h2M500 525h4M522 609h2M161 666h4M243 680h4"/>
<path stroke="#50f020" stroke-width="1.5" d="M245 6h4M671 53h2M271 174h5M541 201h3M525 288h0M24 317h3M384 550h6M939 660h0M716 681h3M680 188h0M523 414h3"/>
<path stroke="#30c8f8" stroke-width="1.5" d="M481 5h2M562 81h3M595 164h2M305 450h3M556 656h3M454 674h3M754 201h1"/>
<path stroke="#2810c0" stroke-width="1.5" d="M557 5h3M641 6h3M576 68h1M581 141h3M17 289h3M6 317h3M29 312h4M222 361h2M551 356h4M128 405h3M520 449h2M33 588h4M190 562h3M608 557h3M169 672h3M639 669h4M695 681h3M919 681h2M765 172h0M106 271h2M722 382h1"/>
<path stroke="#f018b8" stroke-width="1.5" d="M603 6h3M425 134h2M536 97h3M552 144h3M298 173h1M586 160h3M597 178h1M530 265h0M58 310h3M524 361h2M35 437h3M30 517h4M446 485h0M435 502h3M318 532h4M464 532h3M6 593h0M95 633h2M419 648h3M852 662h3M680 216h0M594 258h1"/>
<path stroke="#10e030" stroke-width="1.5" d="M31 84h3M550 73h3M318 132h3M563 154h3M59 306h3M126 340h1M169 420h4M41 501h3M192 458h4M632 512h3M454 588h2M312 609h3M405 653h3M452 654h4M662 594h3M573 629h3M666 606h4M782 662h3M344 677h3"/>
<path stroke="#f020e8" stroke-width="1.5" d="M163 28h3M569 100h3M327 181h1M581 189h4M339 348h1M338 470h3M618 480h3M330 561h4M632 565h4M515 597h4M372 680h3M124 339h4M411 297h7"/>
<path stroke="#f01030" stroke-width="1.5" d="M186 54h3M721 53h4M409 138h2M596 136h3M169 166h2M73 324h4M609 366h4M569 417h3M615 405h3M614 442h4M136 457h0M574 589h3M941 529h0M102 638h3M400 605h4M661 665h4M410 271h0"/>
<path stroke="#d01060" stroke-width="1.5" d="M312 28h1M100 303h1M313 339h3M8 381h3M25 465h3M353 472h4M660 573h5M654 638h4M602 646h3M250 673h3M395 680h3M524 68h2M497 467h1"/>
<path stroke="#5010e8" stroke-width="1.5" d="M333 75h1M599 329h1M580 393h3M575 600h3M605 624h3M832 644h3M315 681h3M576 679h3M847 681h1M106 256h0"/>
<path stroke="#a8ff20" stroke-width="1.5" d="M526 53h1M929 223h1M406 286h3M531 250h3M373 329h2M567 437h3M22 497h4M33 518h5M580 509h3M365 560h3M512 525h3M414 656h3M469 637h3M680 659h3M448 484h0"/>
<path stroke="#1818f0" stroke-width="1.5" d="M525 55h0M586 77h3M131 168h3M683 159h0M538 296h3M575 321h4M657 336h0M7 396h3M450 421h3M525 399h1M581 436h3M443 473h0M637 458h3M580 484h3M662 546h3M348 601h5M596 646h3M941 618h0M176 680h3M347 681h3M422 680h3M935 681h3M598 152h1M97 306h0"/>
<path stroke="#70ffa0" stroke-width="1.5" d="M527 71h1M593 447h3"/>
<path stroke="#ff3a10" stroke-width="1.5" d="M570 46h3M733 61h3M683 154h0M424 433h3M590 426h4M172 568h1M526 568h4M106 681h1M604 679h3M617 680h3M602 280h1"/>
<path stroke="#3890ff" stroke-width="1.5" d="M651 53h3M634 72h3M8 123h0M737 122h3M529 414h2M524 489h3M861 637h5M292 343h3M606 310h2"/>
<path stroke="#20c840" stroke-width="1.5" d="M668 81h3M41 437h3M619 461h4M626 492h5M463 544h3M544 565h4M76 658h3M440 680h4M619 110h3"/>
<path stroke="#8418f0" stroke-width="1.5" d="M355 120h3M29 343h3M866 334h2M6 513h3M22 577h3M239 568h3M522 652h3M687 135h1M238 165h4M681 164h2M940 185h1M282 344h2"/>
<path stroke="#f82888" stroke-width="1.5" d="M555 93h3M547 274h2M53 333h4M411 340h1M527 360h1M437 443h0M471 420h1M325 536h3M297 596h1M327 18h1M526 57h0"/>
<path stroke="#54bf78" stroke-width="1.5" d="M546 100h3M42 344h3M523 681h3"/>
<path stroke="#8a12b4" stroke-width="1.5" d="M539 121h3M544 120h5M327 228h1M587 357h3M339 582h4M650 582h3M443 606h3M379 656h3M510 641h4M615 672h4M446 478h2"/>
<path stroke="#6312b4" stroke-width="1.5" d="M557 128h4M567 358h4M523 454h2M430 552h4M429 605h4M511 679h3M558 680h3"/>
<path stroke="#b818f0" stroke-width="1.5" d="M544 143h4M39 297h3M437 445h0M756 476h2M537 574h3M570 541h3M111 633h4M340 605h3M406 629h3M372 645h4M602 141h0M422 370h1"/>
<path stroke="#ba1e66" stroke-width="1.5" d="M558 146h4M552 326h3M509 431h1M441 501h3M532 457h5M552 565h3M471 653h3"/>
<path stroke="#1e0c90" stroke-width="1.5" d="M569 113h3M290 344h2M540 369h3M20 468h3M455 502h3M336 585h5"/>
<path stroke="#2a6cbf" stroke-width="1.5" d="M562 149h4M17 517h3M557 593h3M551 664h3"/>
<path stroke="#189630" stroke-width="1.5" d="M575 148h3M547 374h3M549 407h4M446 530h4M483 646h3"/>
<path stroke="#1212b4" stroke-width="1.5" d="M598 145h1M537 276h0M552 289h2M575 241h3M526 415h2M25 493h3M570 474h3M600 510h2M348 541h3M426 557h4M495 561h3M655 533h4M644 553h5M588 652h3M571 673h2M632 679h5"/>
<path stroke="#20c0a0" stroke-width="1.5" d="M670 121h1M576 430h4M636 436h3M551 581h3M8 653h3M231 291h1"/>
<path stroke="#ffe030" stroke-width="1.5" d="M678 121h6M216 338h1M418 316h0M650 340h8M251 406h0M303 445h2M503 496h0M526 52h0M597 157h0M336 244h0"/>
<path stroke="#30ff90" stroke-width="1.5" d="M330 209h0M538 208h0M592 216h3M39 368h4M683 328h2M447 618h4M464 645h4M599 661h4M504 12h1M104 277h2"/>
<path stroke="#3c0cae" stroke-width="1.5" d="M546 181h4M568 208h3M8 377h3M19 404h3M622 496h4M452 542h5M414 586h3M614 585h4M412 600h4M394 661h5M471 607h3M530 593h3M523 626h3M622 628h3M470 679h3"/>
<path stroke="#7ebf18" stroke-width="1.5" d="M558 216h3M569 469h3M326 581h4M401 561h2M546 562h3M649 526h5M345 645h3M540 597h4M488 646h3M564 645h3"/>
<path stroke="#b4128a" stroke-width="1.5" d="M599 199h1M574 228h4M565 269h3M576 306h3M562 338h3M608 393h4M585 401h4M31 460h3M442 518h4M563 450h4M324 550h3M469 565h3M481 586h3M509 570h4M599 576h3M651 578h3M446 592h4M515 601h4M634 597h2M663 641h3M534 681h3"/>
<path stroke="#18b49c" stroke-width="1.5" d="M598 205h0M594 257h0M483 505h3M648 510h4M464 581h3M593 536h4M407 609h3M567 665h4"/>
<path stroke="#b40c24" stroke-width="1.5" d="M575 221h3M588 301h3M529 369h3M77 458h2M430 562h3M371 581h4M563 522h4M569 525h3M650 570h4M307 605h3M488 629h3M559 625h4M647 601h3"/>
<path stroke="#bf2b0c" stroke-width="1.5" d="M48 293h3M539 334h3M562 382h4M569 423h3M535 545h4M568 544h3M639 574h4M551 602h4M561 598h3"/>
<path stroke="#9c0c48" stroke-width="1.5" d="M539 242h5M359 542h4M431 537h3M332 681h3M668 668h4M531 155h3"/>
<path stroke="#1842b4" stroke-width="1.5" d="M539 271h5M344 563h4M494 629h3M377 676h5M418 673h3M941 189h0"/>
<path stroke="#b418ae" stroke-width="1.5" d="M508 296h2M544 282h5M35 338h3M541 358h3M580 341h3M608 357h4M535 388h3M551 457h3M557 514h3M389 552h4M353 610h3M419 624h3M445 677h4M599 680h3M639 680h3"/>
<path stroke="#0ca824" stroke-width="1.5" d="M586 266h4M592 285h3M28 364h3M530 376h2M597 381h5M581 404h4M315 538h3M309 633h3M423 645h3M609 657h3M603 129h0"/>
<path stroke="#bf670c" stroke-width="1.5" d="M591 270h1M47 442h3M640 449h1M319 564h3M512 532h3"/>
<path stroke="#24bf6c" stroke-width="1.5" d="M36 321h3M570 534h2M644 648h4M685 650h3"/>
<path stroke="#ff8a10" stroke-width="1.5" d="M9 337h3M29 510h3M519 552h3M574 552h3M662 566h3M765 166h0M446 482h0"/>
<path stroke="#2058f0" stroke-width="1.5" d="M517 302h3M528 349h2M637 427h2M627 485h3M656 552h3M564 577h2M599 608h3M227 680h3"/>
<path stroke="#20f0d0" stroke-width="1.5" d="M553 329h3M464 565h4M877 579h3M250 680h3"/>
<path stroke="#bf5448" stroke-width="1.5" d="M525 364h2M609 406h3M338 525h3"/>
<path stroke="#bfa824" stroke-width="1.5" d="M587 344h3M51 389h3M524 394h1M424 560h3M591 680h3M595 249h6"/>
<path stroke="#ff7060" stroke-width="1.5" d="M402 378h2M164 166h3M525 336h1"/>
<path stroke="#2496ba" stroke-width="1.5" d="M633 446h1M562 661h3M581 656h3M412 681h3"/>
<path stroke="#b4b448" stroke-width="1.5" d="M644 445h4"/>
<path stroke="#ffb820" stroke-width="1.5" d="M413 512h4M610 488h3"/>
<path stroke="#3cb418" stroke-width="1.5" d="M557 489h3M493 516h3M639 540h3M644 585h4M446 609h4M557 634h3M627 681h3M664 680h2"/>
<path stroke="#189078" stroke-width="1.5" d="M453 569h4M445 654h4M674 636h3M604 289h0"/>
<path stroke="#bf8a18" stroke-width="1.5" d="M506 525h3"/>
<path stroke="#f0f060" stroke-width="1.5" d="M461 581h3M448 680h3"/>
<path stroke="#1e0c90" stroke-width="1" d="M7 7h0M555 233h5M530 344h4M531 410h1M506 578h5M581 629h4"/>
<path stroke="#10e030" stroke-width="1" d="M321 4h1M145 174h5M5 254h0M816 234h3M278 343h1M541 677h5"/>
<path stroke="#9c0c48" stroke-width="1" d="M503 7h1"/>
<path stroke="#2810c0" stroke-width="1" d="M567 4h0M267 337h0M690 446h1M330 4h0M533 44h0"/>
<path stroke="#b818f0" stroke-width="1" d="M6 73h0M525 32h0M527 641h5M574 626h4M7 667h0M417 680h4M326 57h0M807 108h1M898 115h1M602 223h2"/>
<path stroke="#50f020" stroke-width="1" d="M313 23h0M887 116h1M914 110h1M8 209h0M533 235h0M5 596h0M597 238h5"/>
<path stroke="#20c0a0" stroke-width="1" d="M534 41h0M526 66h0M342 620h4M509 649h3"/>
<path stroke="#b4128a" stroke-width="1" d="M527 67h1M328 317h0M446 504h3M474 609h5M574 640h4"/>
<path stroke="#2058f0" stroke-width="1" d="M7 136h0M781 237h0M219 419h1M530 385h2M358 608h5M940 109h0"/>
<path stroke="#5010e8" stroke-width="1" d="M6 157h0M474 134h1M408 254h0M602 287h1M725 368h1M179 437h3M640 433h1M503 603h4M18 681h2M106 288h0M530 129h1"/>
<path stroke="#20c840" stroke-width="1" d="M325 117h0M674 341h1M682 341h1"/>
<path stroke="#2496ba" stroke-width="1" d="M531 112h1M435 640h4M614 642h5M564 680h3"/>
<path stroke="#b4b448" stroke-width="1" d="M550 130h5"/>
<path stroke="#8a12b4" stroke-width="1" d="M534 148h3M602 594h5"/>
<path stroke="#30ff90" stroke-width="1" d="M575 124h5M5 192h0M392 615h5M938 105h1M534 275h1"/>
<path stroke="#bf2b0c" stroke-width="1" d="M598 121h1M546 248h4"/>
<path stroke="#20f0d0" stroke-width="1" d="M602 126h1M104 180h1M417 358h0M683 148h0"/>
<path stroke="#ff8a10" stroke-width="1" d="M601 142h0M683 283h5"/>
<path stroke="#b418ae" stroke-width="1" d="M595 158h1M654 513h4M494 680h1M540 664h3"/>
<path stroke="#f82888" stroke-width="1" d="M759 133h1M104 278h0M245 346h1M320 652h5"/>
<path stroke="#ff7060" stroke-width="1" d="M684 144h1M18 465h3M767 114h1"/>
<path stroke="#30c8f8" stroke-width="1" d="M841 110h1M940 387h0M31 473h4M501 426h2"/>
<path stroke="#3890ff" stroke-width="1" d="M7 173h0M446 481h0M512 664h5M527 110h1M525 374h1"/>
<path stroke="#1818f0" stroke-width="1" d="M167 166h1M668 339h1M375 577h5M527 596h4M681 632h2M808 112h0M599 176h1M594 241h1M606 338h2"/>
<path stroke="#f018b8" stroke-width="1" d="M227 169h1M717 429h0M668 632h5M187 680h2M382 679h3M211 170h0M525 285h1"/>
<path stroke="#ffe030" stroke-width="1" d="M251 176h1M31 657h2M379 672h3M523 28h1"/>
<path stroke="#ffb820" stroke-width="1" d="M332 213h0M573 253h3"/>
<path stroke="#8418f0" stroke-width="1" d="M553 182h4M524 305h5M483 416h0M486 5h2M603 192h0M754 211h0"/>
<path stroke="#1842b4" stroke-width="1" d="M755 197h1M545 309h4M592 322h1M372 413h3M460 636h3"/>
<path stroke="#ff3a10" stroke-width="1" d="M8 234h0M321 356h1M724 410h0M525 29h1"/>
<path stroke="#54bf78" stroke-width="1" d="M34 297h5M593 264h1"/>
<path stroke="#1212b4" stroke-width="1" d="M531 260h2M536 271h1M445 569h4M486 568h4M506 681h4"/>
<path stroke="#f020e8" stroke-width="1" d="M558 296h4M598 293h1M152 564h5M668 121h1"/>
<path stroke="#3cb418" stroke-width="1" d="M557 300h4M592 262h0M528 344h0M329 589h5M459 529h4M593 261h1"/>
<path stroke="#bfa824" stroke-width="1" d="M590 265h1"/>
<path stroke="#ba1e66" stroke-width="1" d="M46 361h4M11 441h5M566 661h5"/>
<path stroke="#a8ff20" stroke-width="1" d="M277 341h1M10 474h5M639 660h3"/>
<path stroke="#b40c24" stroke-width="1" d="M414 337h0M526 132h5"/>
<path stroke="#7ebf18" stroke-width="1" d="M609 343h2M579 367h5M528 308h1"/>
<path stroke="#24bf6c" stroke-width="1" d="M569 372h5M603 372h5"/>
<path stroke="#0ca824" stroke-width="1" d="M623 372h2M477 680h3M516 679h5"/>
<path stroke="#d01060" stroke-width="1" d="M686 333h0M721 347h0M841 402h4M106 329h0"/>
<path stroke="#6312b4" stroke-width="1" d="M532 380h0M503 489h0M459 644h5M798 680h2"/>
<path stroke="#f01030" stroke-width="1" d="M640 382h1M521 510h2M941 652h0M843 113h0M616 345h1"/>
<path stroke="#3c0cae" stroke-width="1" d="M463 503h1M7 575h0M601 284h1M686 269h1"/>
<path stroke="#189630" stroke-width="1" d="M665 513h4M533 157h1"/>
<path stroke="#189078" stroke-width="1" d="M367 593h4M526 91h1"/>
<path stroke="#2a6cbf" stroke-width="1" d="M417 606h5"/>
<path stroke="#bf5448" stroke-width="1" d="M533 78h1"/>
<path stroke="#18b49c" stroke-width="1" d="M143 344h1"/>
<path stroke="#f0f060" stroke-width="1" d="M683 338h1"/>
<path stroke="#f018b8" stroke-width="0.5" d="M15 4h0"/>
<path stroke="#20c0a0" stroke-width="0.5" d="M896 5h1M525 59h0M596 210h0"/>
<path stroke="#7ebf18" stroke-width="0.5" d="M531 36h0"/>
<path stroke="#5010e8" stroke-width="0.5" d="M766 115h1M7 552h0"/>
<path stroke="#f82888" stroke-width="0.5" d="M531 196h0M422 371h0M796 109h0"/>
<path stroke="#ff8a10" stroke-width="0.5" d="M6 297h0M330 311h0M722 441h0"/>
<path stroke="#ffe030" stroke-width="0.5" d="M532 266h0"/>
<path stroke="#70ffa0" stroke-width="0.5" d="M465 299h0"/>
<path stroke="#bf5448" stroke-width="0.5" d="M531 282h2"/>
<path stroke="#ff7060" stroke-width="0.5" d="M593 247h0"/>
<path stroke="#b4128a" stroke-width="0.5" d="M6 376h0"/>
<path stroke="#1212b4" stroke-width="0.5" d="M7 398h0"/>
<path stroke="#1818f0" stroke-width="0.5" d="M7 443h0M7 466h0"/>
<path stroke="#2810c0" stroke-width="0.5" d="M527 396h4M756 127h0M806 107h0M534 271h0"/>
<path stroke="#50f020" stroke-width="0.5" d="M522 419h0"/>
<path stroke="#10e030" stroke-width="0.5" d="M638 397h0M325 186h0M597 160h0"/>
<path stroke="#30ff90" stroke-width="0.5" d="M939 420h0M458 500h1M678 453h0"/>
<path stroke="#a8ff20" stroke-width="0.5" d="M442 471h0M537 203h0"/>
<path stroke="#8418f0" stroke-width="0.5" d="M108 175h0M535 143h0"/>
<path stroke="#b40c24" stroke-width="0.5" d="M96 193h1"/>
<path stroke="#2058f0" stroke-width="0.5" d="M604 232h0"/>
<path stroke="#9c0c48" stroke-width="0.5" d="M595 249h0"/>
<path stroke="#0ca824" stroke-width="0.5" d="M593 266h0"/>
<path stroke="#f0f060" stroke-width="0.5" d="M523 364h0"/>
<path stroke="#ba1e66" stroke-width="0.5" d="M638 425h0"/>
</g></g></svg>
<rect x="19" y="608" width="364" height="59" fill="#fff"/>
<rect x="25" y="648" width="352" height="13" fill="#000"/>
<text x="165" y="638" font-size="26" fill="#000">45 um</text>
<rect x="804" y="532" width="137" height="112" fill="#fff"/>
<defs><clipPath id="ck"><path d="M839.6 628.3L918.3 551.1A303.9 298.1 0 0 1 928.6 628.3Z"/></clipPath>
<linearGradient id="gr" gradientUnits="userSpaceOnUse" x1="839.6" y1="0" x2="927" y2="0"><stop offset="0" stop-color="#ff0000"/><stop offset="0.45" stop-color="#ff0000"/><stop offset="0.55" stop-color="#e50000"/><stop offset="0.65" stop-color="#c00000"/><stop offset="0.75" stop-color="#970000"/><stop offset="0.85" stop-color="#6a0000"/><stop offset="0.93" stop-color="#3e0000"/><stop offset="1" stop-color="#000000"/></linearGradient>
<linearGradient id="gg" gradientUnits="userSpaceOnUse" x1="922.6" y1="634.2" x2="879" y2="589.7"><stop offset="0" stop-color="#00ff00"/><stop offset="0.45" stop-color="#00ff00"/><stop offset="0.55" stop-color="#00e500"/><stop offset="0.65" stop-color="#00c000"/><stop offset="0.75" stop-color="#009700"/><stop offset="0.85" stop-color="#006a00"/><stop offset="0.93" stop-color="#003e00"/><stop offset="1" stop-color="#000000"/></linearGradient>
<linearGradient id="gb" gradientUnits="userSpaceOnUse" x1="0" y1="551.1" x2="0" y2="628.3"><stop offset="0" stop-color="#0000ff"/><stop offset="0.45" stop-color="#0000ff"/><stop offset="0.55" stop-color="#0000e5"/><stop offset="0.65" stop-color="#0000c0"/><stop offset="0.75" stop-color="#000097"/><stop offset="0.85" stop-color="#00006a"/><stop offset="0.93" stop-color="#00003e"/><stop offset="1" stop-color="#000000"/></linearGradient>
<radialGradient id="gw" gradientUnits="userSpaceOnUse" cx="903" cy="603" r="24"><stop offset="0" stop-color="#fff" stop-opacity=".6"/><stop offset=".4" stop-color="#fff" stop-opacity=".3"/><stop offset="1" stop-color="#fff" stop-opacity="0"/></radialGradient></defs>
<g clip-path="url(#ck)" style="isolation:isolate"><rect x="835" y="545" width="100" height="90" fill="#000"/>
<rect x="835" y="545" width="100" height="90" fill="url(#gr)" style="mix-blend-mode:screen"/>
<rect x="835" y="545" width="100" height="90" fill="url(#gg)" style="mix-blend-mode:screen"/>
<rect x="835" y="545" width="100" height="90" fill="url(#gb)" style="mix-blend-mode:screen"/>
<rect x="835" y="545" width="100" height="90" fill="url(#gw)"/>
</g>
<path d="M839.6 628.3L918.3 551.1A303.9 298.1 0 0 1 928.6 628.3Z" fill="none" stroke="#302040" stroke-width=".6" stroke-opacity=".7"/>
<g font-size="7.5" fill="#333"><text x="909" y="545.5">1 1 1</text><text x="827" y="639.5">0 0 1</text><text x="918" y="639.5">1 0 1</text></g>
<text transform="translate(30 45) scale(0.91 1)" font-size="46" font-weight="bold" fill="#fff">a</text>
<clipPath id="c1"><path d="M110.0 1030.0L378.6 796.5A1037.9 902.1 0 0 1 414.0 1030.0Z"/></clipPath>
<g clip-path="url(#c1)"><path d="M110.0 1030.0L378.6 796.5A1037.9 902.1 0 0 1 414.0 1030.0Z" fill="#129a78"/><path d="M280.0 862.0L290.4 874.2C293.5 878.0 302.9 888.8 309.0 896.7C315.1 904.6 321.3 913.4 327.0 921.8C332.7 930.2 338.5 941.9 343.0 947.0C347.5 952.1 348.6 952.6 354.0 952.3C359.4 952.0 367.0 947.5 375.7 945.0C384.4 942.5 398.6 938.8 406.0 937.0C413.4 935.2 417.7 934.5 420.0 934.0L430.0 934.0L430.0 780.0L370.0 780.0Z" fill="#0000fe"/><path d="M272.0 868.0L281.4 880.5C284.5 884.4 295.9 895.6 300.0 904.0C304.1 912.4 304.9 918.1 305.7 930.8C306.5 943.5 305.1 963.5 305.0 980.0C304.9 996.5 304.8 1021.7 304.8 1030.0L304.8 1040.0L100.0 1040.0L100.0 870.0Z" fill="#22f500"/><path d="M266.0 872.0L277.0 884.0C278.2 887.3 282.5 896.3 284.0 904.0C285.5 911.7 285.7 917.3 286.0 930.0C286.3 942.7 286.0 963.3 286.0 980.0C286.0 996.7 286.0 1021.7 286.0 1030.0L286.0 1040.0L100.0 1040.0L100.0 870.0Z" fill="#c8ff00"/><path d="M205.0 930.0L262.0 888.0L257.0 908.0C257.0 910.5 256.4 913.4 257.0 923.0C257.6 932.6 258.9 951.5 260.5 965.6C262.1 979.7 265.3 997.1 266.8 1007.8C268.3 1018.5 269.2 1026.3 269.7 1030.0L270.0 1040.0L188.7 1040.0L188.7 1029.0C190.8 1024.8 196.1 1012.1 201.0 1003.6C205.9 995.1 214.1 985.4 218.0 978.0C221.9 970.6 225.3 965.2 224.6 959.0C223.9 952.8 215.8 944.0 214.0 941.0Z" fill="#ffe600"/><path d="M130.0 1000.0L140.0 1006.0C141.7 1007.8 147.2 1013.2 150.0 1017.0C152.8 1020.8 155.8 1027.0 157.0 1029.0L157.0 1040.0L100.0 1040.0Z" fill="#ffe600"/><path d="M374.0 1040.0L374.0 1029.5C374.8 1023.5 376.0 1002.6 379.0 993.6C382.0 984.6 387.0 980.5 391.8 975.7C396.6 970.9 403.3 967.3 408.0 965.0C412.7 962.7 418.0 962.5 420.0 962.0L430.0 960.0L430.0 1040.0Z" fill="#22f500"/><path d="M338.0 1031.0L338.6 1000.0C338.8 998.3 339.2 990.0 339.5 990.0C339.8 990.0 340.4 998.3 340.6 1000.0L341.6 1031.0Z" fill="#0000fe"/></g>
<path d="M110.0 1030.0L378.6 796.5A1037.9 902.1 0 0 1 414.0 1030.0Z" fill="none" stroke="#000" stroke-opacity=".3" stroke-width=".8"/>
<clipPath id="c2"><path d="M564.0 1030.0L833.1 796.5A1039.6 902.1 0 0 1 868.5 1030.0Z"/></clipPath>
<g clip-path="url(#c2)"><path d="M564.0 1030.0L833.1 796.5A1039.6 902.1 0 0 1 868.5 1030.0Z" fill="#c8ff00"/><path d="M700.0 905.0L736.0 866.0L741.2 877.0C745.1 876.8 753.6 876.0 764.5 876.0C775.4 876.0 792.0 876.5 806.7 877.0C821.5 877.5 842.5 878.8 853.0 879.3C863.5 879.8 867.2 879.9 870.0 880.0L890.0 880.0L890.0 1040.0L736.5 1040.0L736.5 1029.4C736.1 1025.4 736.0 1012.2 734.4 1005.6C732.8 999.0 729.8 996.8 727.0 989.8C724.2 982.8 720.1 973.1 717.5 963.4C714.9 953.7 712.6 941.3 711.6 931.7C710.6 922.1 711.3 910.3 711.2 906.0Z" fill="#22f500"/><path d="M890.0 895.0L870.0 895.0C867.2 895.0 867.3 894.9 853.2 895.1C839.1 895.3 803.0 894.0 785.6 896.0C768.2 898.0 756.7 904.1 749.0 907.4C741.3 910.7 742.4 911.8 739.6 915.8C736.8 919.8 733.8 925.5 732.2 931.7C730.6 937.9 729.6 945.8 730.0 952.8C730.4 959.8 732.4 967.0 734.4 974.0C736.4 981.0 739.6 985.8 741.7 995.0C743.8 1004.2 746.1 1023.7 747.0 1029.4L747.0 1040.0L890.0 1040.0Z" fill="#129a78"/><path d="M890.0 919.4L870.0 919.4C868.2 919.4 866.5 920.1 859.5 919.4C852.5 918.7 838.7 916.2 827.8 915.0C816.9 913.8 805.5 910.6 794.0 912.0C782.5 913.4 766.1 919.0 758.6 923.2C751.1 927.4 751.5 932.1 749.0 937.0C746.5 941.9 744.8 946.6 743.9 952.8C743.0 959.0 743.0 967.0 743.9 974.0C744.8 981.0 747.2 985.8 749.0 995.0C750.8 1004.2 753.5 1023.7 754.4 1029.4L754.4 1040.0L840.5 1040.0L840.5 1029.0C841.9 1022.7 845.5 1001.0 849.0 991.2C852.5 981.4 857.3 974.9 861.6 970.0C865.9 965.1 872.8 963.3 875.0 962.0L890.0 962.0Z" fill="#0000fe"/><path d="M770.0 838.0L777.0 843.4C779.1 845.5 783.1 853.4 789.8 856.0C796.5 858.6 807.8 858.9 817.3 859.2C826.8 859.5 838.0 858.2 846.8 858.0C855.6 857.8 866.1 858.0 870.0 858.0L890.0 858.0L890.0 780.0L770.0 780.0Z" fill="#ffe600"/><path d="M795.0 819.0L801.4 824.4C803.7 825.5 810.6 829.3 815.0 830.7C819.4 832.1 823.7 833.0 827.8 832.8C831.9 832.6 835.0 830.2 839.5 829.6C844.0 829.0 852.4 829.1 855.0 829.0L890.0 829.0L890.0 780.0L795.0 780.0Z" fill="#ff9a00"/><path d="M560.0 1040.0L560.0 990.0L640.0 952.0L646.6 960.0C647.3 962.5 650.3 967.2 650.8 975.0C651.3 982.8 650.1 997.5 649.8 1006.7C649.4 1015.9 648.9 1026.1 648.7 1030.0L648.7 1040.0Z" fill="#22f500"/><path d="M560.0 1040.0L560.0 1000.0L624.0 966.0L629.7 973.0C630.6 975.8 633.6 980.3 635.0 989.8C636.4 999.3 637.5 1023.3 638.0 1030.0L638.0 1040.0Z" fill="#129a78"/><path d="M560.0 1040.0L560.0 1020.0L615.0 975.0L621.2 981.4C622.3 983.5 626.2 985.9 627.6 994.0C629.0 1002.1 629.4 1024.0 629.7 1030.0L629.7 1040.0Z" fill="#0000fe"/><path d="M657.0 1040.0L657.0 1030.0C658.1 1024.7 660.7 1007.5 663.5 998.0C666.3 988.5 670.1 977.7 674.0 973.0C677.9 968.3 681.8 969.0 686.7 969.8C691.6 970.6 698.7 973.8 703.6 978.0C708.5 982.2 712.9 989.5 716.4 995.0C719.9 1000.5 723.0 1005.2 724.8 1010.9C726.6 1016.6 726.6 1026.3 727.0 1029.4L727.0 1040.0Z" fill="#ffe600"/><path d="M674.0 1040.0L674.0 1030.0C674.7 1026.2 676.3 1012.7 678.0 1007.0C679.7 1001.3 682.0 998.2 684.0 996.0C686.0 993.8 687.3 992.8 690.0 994.0C692.7 995.2 697.2 999.3 700.0 1003.0C702.8 1006.7 705.0 1011.5 706.5 1016.0C708.0 1020.5 708.6 1027.7 709.0 1030.0L709.0 1040.0Z" fill="#ff9a00"/></g>
<path d="M564.0 1030.0L833.1 796.5A1039.6 902.1 0 0 1 868.5 1030.0Z" fill="none" stroke="#000" stroke-opacity=".3" stroke-width=".8"/>
<clipPath id="c3"><path d="M110.0 1424.5L378.6 1192.5A1037.9 896.3 0 0 1 414.0 1424.5Z"/></clipPath>
<g clip-path="url(#c3)"><path d="M110.0 1424.5L378.6 1192.5A1037.9 896.3 0 0 1 414.0 1424.5Z" fill="#129a78"/><path d="M270.0 1270.0L278.0 1279.6C281.0 1283.3 290.3 1295.0 296.0 1302.0C301.7 1309.0 307.5 1315.2 312.0 1321.8C316.5 1328.4 318.9 1336.8 322.8 1341.6C326.7 1346.4 327.9 1350.3 335.4 1350.6C342.9 1350.9 355.7 1345.8 367.7 1343.4C379.7 1341.0 398.5 1337.4 407.2 1336.2C415.9 1335.0 417.9 1336.0 420.0 1336.0L430.0 1336.0L430.0 1170.0L370.0 1170.0Z" fill="#0000fe"/><path d="M258.0 1280.0L265.4 1290.4C268.5 1294.0 279.8 1303.2 284.0 1312.0C288.2 1320.8 290.4 1331.3 290.5 1343.0C290.6 1354.7 286.6 1368.3 284.5 1382.0C282.4 1395.7 278.8 1417.8 277.7 1425.0L277.7 1435.0L100.0 1435.0L100.0 1280.0Z" fill="#22f500"/><path d="M245.0 1295.0L254.0 1302.8C256.1 1306.0 264.8 1314.8 266.8 1321.8C268.8 1328.8 267.1 1335.7 266.0 1345.0C264.9 1354.3 261.8 1369.2 260.0 1377.5C258.2 1385.8 256.3 1387.1 255.0 1395.0C253.7 1402.9 252.5 1420.0 252.0 1425.0L252.0 1435.0L100.0 1435.0L100.0 1295.0Z" fill="#c8ff00"/><path d="M228.0 1304.0L239.5 1314.0C240.1 1318.1 243.8 1330.0 243.0 1338.7C242.2 1347.4 237.7 1356.2 235.0 1366.0C232.3 1375.8 228.4 1388.0 226.7 1397.8C225.0 1407.6 224.9 1420.5 224.6 1425.0L224.6 1435.0L100.0 1435.0L100.0 1315.0Z" fill="#ffe600"/><path d="M170.0 1362.0L178.0 1370.4C180.1 1372.8 187.6 1375.9 190.8 1385.0C194.0 1394.1 196.0 1418.3 197.0 1425.0L197.0 1435.0L100.0 1435.0L100.0 1362.0Z" fill="#ff9a00"/><path d="M150.0 1377.0L157.0 1385.0C158.8 1387.1 164.8 1391.1 167.6 1397.8C170.4 1404.5 172.9 1420.5 174.0 1425.0L174.0 1435.0L100.0 1435.0Z" fill="#ff5010"/><path d="M132.0 1394.0L139.0 1401.0C140.4 1402.6 145.6 1406.5 147.5 1410.5C149.4 1414.5 150.2 1422.6 150.7 1425.0L150.7 1435.0L100.0 1435.0Z" fill="#ff0000"/><path d="M430.0 1359.0L420.0 1359.0C418.2 1359.1 414.7 1357.9 409.0 1359.5C403.3 1361.1 392.6 1364.6 385.7 1368.5C378.8 1372.4 371.9 1376.9 367.7 1382.9C363.5 1388.9 361.9 1397.4 360.5 1404.4C359.1 1411.4 359.8 1421.6 359.6 1425.0L359.6 1435.0L430.0 1435.0Z" fill="#22f500"/><path d="M430.0 1393.0L420.0 1393.0C418.5 1393.1 413.8 1390.8 410.8 1393.6C407.8 1396.4 403.9 1404.6 401.8 1409.8C399.7 1415.0 398.8 1422.5 398.2 1425.0L398.2 1435.0L430.0 1435.0Z" fill="#c8ff00"/></g>
<path d="M110.0 1424.5L378.6 1192.5A1037.9 896.3 0 0 1 414.0 1424.5Z" fill="none" stroke="#000" stroke-opacity=".3" stroke-width=".8"/>
<rect x="600.5" y="1139.6" width="69" height="36.9" fill="#ff0000"/>
<rect x="600.5" y="1176.5" width="69" height="36.9" fill="#ff5010"/>
<rect x="600.5" y="1213.4" width="69" height="36.9" fill="#ff9a00"/>
<rect x="600.5" y="1250.3" width="69" height="36.9" fill="#ffe600"/>
<rect x="600.5" y="1287.2" width="69" height="36.9" fill="#c8ff00"/>
<rect x="600.5" y="1324.0" width="69" height="36.9" fill="#22f500"/>
<rect x="600.5" y="1360.9" width="69" height="36.9" fill="#129a78"/>
<rect x="600.5" y="1397.8" width="69" height="36.9" fill="#0000fe"/>
<rect x="600" y="1175.0" width="70" height="3" fill="#000"/>
<rect x="600" y="1211.9" width="70" height="3" fill="#000"/>
<rect x="600" y="1248.8" width="70" height="3" fill="#000"/>
<rect x="600" y="1285.7" width="70" height="3" fill="#000"/>
<rect x="600" y="1322.5" width="70" height="3" fill="#000"/>
<rect x="600" y="1359.4" width="70" height="3" fill="#000"/>
<rect x="600" y="1396.3" width="70" height="3" fill="#000"/>
<rect x="601" y="1139.6" width="68" height="295.1" fill="none" stroke="#000" stroke-width="2.2"/>
<text transform="translate(10.5 771.0) scale(1.000 1)" font-size="50.0" font-weight="bold" fill="#000">b</text>
<text transform="translate(42.2 739.0) scale(1.150 1)" font-size="35.0" font-weight="normal" fill="#000">[001]</text>
<text transform="translate(495.5 739.0) scale(1.150 1)" font-size="35.0" font-weight="normal" fill="#000">[100]</text>
<text transform="translate(42.5 1134.5) scale(1.150 1)" font-size="35.0" font-weight="normal" fill="#000">[010]</text>
<text transform="translate(346.6 783.0) scale(1.150 1)" font-size="24.0" font-weight="normal" fill="#000">1 1 1</text>
<text transform="translate(75.5 1059.0) scale(1.150 1)" font-size="24.0" font-weight="normal" fill="#000">0 0 1</text>
<text transform="translate(381.0 1059.0) scale(1.150 1)" font-size="24.0" font-weight="normal" fill="#000">1 0 1</text>
<text transform="translate(802.5 783.0) scale(1.150 1)" font-size="24.0" font-weight="normal" fill="#000">1 1 1</text>
<text transform="translate(530.3 1059.0) scale(1.150 1)" font-size="24.0" font-weight="normal" fill="#000">0 0 1</text>
<text transform="translate(836.5 1059.0) scale(1.150 1)" font-size="24.0" font-weight="normal" fill="#000">1 0 1</text>
<text transform="translate(347.0 1179.0) scale(1.150 1)" font-size="24.0" font-weight="normal" fill="#000">1 1 1</text>
<text transform="translate(76.0 1455.0) scale(1.150 1)" font-size="24.0" font-weight="normal" fill="#000">0 0 1</text>
<text transform="translate(384.0 1455.0) scale(1.150 1)" font-size="24.0" font-weight="normal" fill="#000">1 0 1</text>
<text transform="translate(682.0 1147.0) scale(1.160 1)" font-size="25.0" font-weight="normal" fill="#000">max = 1.184</text>
<text transform="translate(683.0 1183.5) scale(1.160 1)" font-size="25.0" font-weight="normal" fill="#000">1.151</text>
<text transform="translate(683.0 1220.4) scale(1.160 1)" font-size="25.0" font-weight="normal" fill="#000">1.119</text>
<text transform="translate(683.0 1257.3) scale(1.160 1)" font-size="25.0" font-weight="normal" fill="#000">1.088</text>
<text transform="translate(683.0 1294.2) scale(1.160 1)" font-size="25.0" font-weight="normal" fill="#000">1.058</text>
<text transform="translate(683.0 1331.1) scale(1.160 1)" font-size="25.0" font-weight="normal" fill="#000">1.029</text>
<text transform="translate(683.0 1368.0) scale(1.160 1)" font-size="25.0" font-weight="normal" fill="#000">1.000</text>
<text transform="translate(683.0 1404.9) scale(1.160 1)" font-size="25.0" font-weight="normal" fill="#000">0.972</text>
</svg>
</body></html>
